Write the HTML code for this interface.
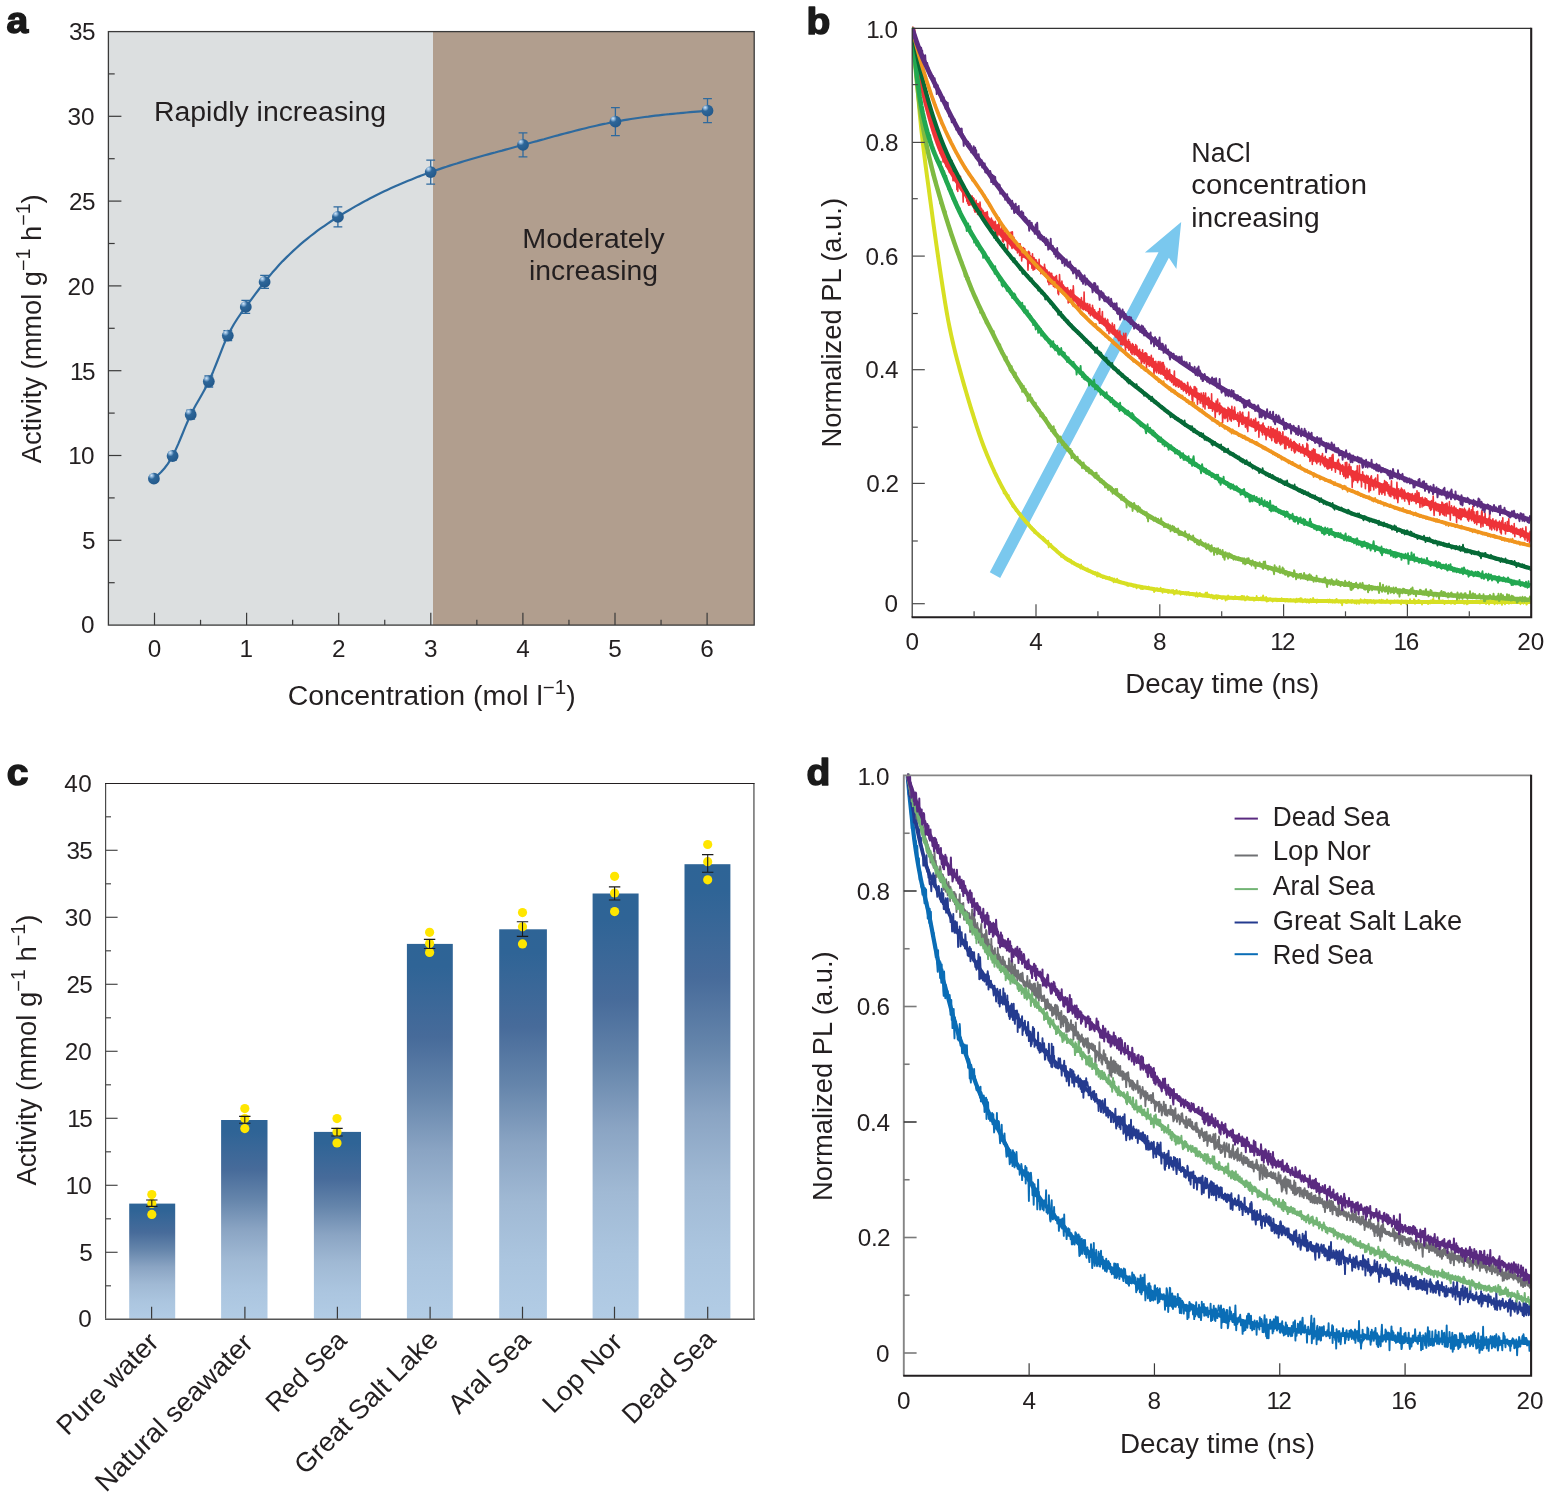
<!DOCTYPE html>
<html lang="en"><head><meta charset="utf-8"><title>Figure</title>
<style>html,body{margin:0;padding:0;background:#fff;}body{width:1545px;height:1499px;overflow:hidden;}svg{display:block;font-family:"Liberation Sans",sans-serif;}</style>
</head><body>
<svg width="1545" height="1499" viewBox="0 0 1545 1499">
<defs>
<linearGradient id="bar" x1="0" y1="0" x2="0" y2="1"><stop offset="0" stop-color="#2e6496"/><stop offset="0.06" stop-color="#2f6496"/><stop offset="0.25" stop-color="#476b9a"/><stop offset="0.4" stop-color="#6585ab"/><stop offset="0.55" stop-color="#8aa4c3"/><stop offset="0.7" stop-color="#a0b9d4"/><stop offset="0.85" stop-color="#abc5df"/><stop offset="1" stop-color="#b2cce5"/></linearGradient>
<radialGradient id="ball" cx="0.33" cy="0.28" r="0.7" fx="0.3" fy="0.22"><stop offset="0" stop-color="#cfe3f5"/><stop offset="0.18" stop-color="#8fb6da"/><stop offset="0.42" stop-color="#2d6699"/><stop offset="1" stop-color="#245a8c"/></radialGradient>
</defs>
<rect x="0" y="0" width="1545" height="1499" fill="#ffffff"/>
<text transform="translate(6.6 32.8) scale(1.04 1)" font-size="37.5" font-weight="bold" fill="#1a1a1a" stroke="#1a1a1a" stroke-width="1.5" stroke-linejoin="round">a</text>
<text transform="translate(806.6 33.6) scale(1.04 1)" font-size="37.5" font-weight="bold" fill="#1a1a1a" stroke="#1a1a1a" stroke-width="1.5" stroke-linejoin="round">b</text>
<text transform="translate(6.8 785.2) scale(1.04 1)" font-size="37.5" font-weight="bold" fill="#1a1a1a" stroke="#1a1a1a" stroke-width="1.5" stroke-linejoin="round">c</text>
<text transform="translate(806.6 784.6) scale(1.04 1)" font-size="37.5" font-weight="bold" fill="#1a1a1a" stroke="#1a1a1a" stroke-width="1.5" stroke-linejoin="round">d</text>
<rect x="108.4" y="31.6" width="324.6" height="593.5" fill="#dcdfe0"/>
<rect x="433" y="31.6" width="321.2" height="593.5" fill="#b19e8e"/>
<rect x="108.4" y="31.6" width="645.8" height="593.5" fill="none" stroke="#3a3a3a" stroke-width="1.3"/>
<line x1="108.40" y1="582.70" x2="114.70" y2="582.70" stroke="#3a3a3a" stroke-width="1.2"/>
<line x1="108.40" y1="540.30" x2="121.40" y2="540.30" stroke="#3a3a3a" stroke-width="1.2"/>
<line x1="108.40" y1="497.90" x2="114.70" y2="497.90" stroke="#3a3a3a" stroke-width="1.2"/>
<line x1="108.40" y1="455.50" x2="121.40" y2="455.50" stroke="#3a3a3a" stroke-width="1.2"/>
<line x1="108.40" y1="413.10" x2="114.70" y2="413.10" stroke="#3a3a3a" stroke-width="1.2"/>
<line x1="108.40" y1="370.70" x2="121.40" y2="370.70" stroke="#3a3a3a" stroke-width="1.2"/>
<line x1="108.40" y1="328.30" x2="114.70" y2="328.30" stroke="#3a3a3a" stroke-width="1.2"/>
<line x1="108.40" y1="285.90" x2="121.40" y2="285.90" stroke="#3a3a3a" stroke-width="1.2"/>
<line x1="108.40" y1="243.50" x2="114.70" y2="243.50" stroke="#3a3a3a" stroke-width="1.2"/>
<line x1="108.40" y1="201.10" x2="121.40" y2="201.10" stroke="#3a3a3a" stroke-width="1.2"/>
<line x1="108.40" y1="158.70" x2="114.70" y2="158.70" stroke="#3a3a3a" stroke-width="1.2"/>
<line x1="108.40" y1="116.30" x2="121.40" y2="116.30" stroke="#3a3a3a" stroke-width="1.2"/>
<line x1="108.40" y1="73.90" x2="114.70" y2="73.90" stroke="#3a3a3a" stroke-width="1.2"/>
<line x1="154.50" y1="625.10" x2="154.50" y2="612.70" stroke="#3a3a3a" stroke-width="1.2"/>
<line x1="200.55" y1="625.10" x2="200.55" y2="619.80" stroke="#3a3a3a" stroke-width="1.2"/>
<line x1="246.60" y1="625.10" x2="246.60" y2="612.70" stroke="#3a3a3a" stroke-width="1.2"/>
<line x1="292.65" y1="625.10" x2="292.65" y2="619.80" stroke="#3a3a3a" stroke-width="1.2"/>
<line x1="338.70" y1="625.10" x2="338.70" y2="612.70" stroke="#3a3a3a" stroke-width="1.2"/>
<line x1="384.75" y1="625.10" x2="384.75" y2="619.80" stroke="#3a3a3a" stroke-width="1.2"/>
<line x1="430.80" y1="625.10" x2="430.80" y2="612.70" stroke="#3a3a3a" stroke-width="1.2"/>
<line x1="476.85" y1="625.10" x2="476.85" y2="619.80" stroke="#3a3a3a" stroke-width="1.2"/>
<line x1="522.90" y1="625.10" x2="522.90" y2="612.70" stroke="#3a3a3a" stroke-width="1.2"/>
<line x1="568.95" y1="625.10" x2="568.95" y2="619.80" stroke="#3a3a3a" stroke-width="1.2"/>
<line x1="615.00" y1="625.10" x2="615.00" y2="612.70" stroke="#3a3a3a" stroke-width="1.2"/>
<line x1="661.05" y1="625.10" x2="661.05" y2="619.80" stroke="#3a3a3a" stroke-width="1.2"/>
<line x1="707.10" y1="625.10" x2="707.10" y2="612.70" stroke="#3a3a3a" stroke-width="1.2"/>
<text x="81.0" y="632.5" font-size="24.3" fill="#231f20">0</text>
<text x="81.9" y="549.1" font-size="24.3" fill="#231f20">5</text>
<text x="68.2 81.0" y="464.3" font-size="24.3" fill="#231f20">10</text>
<text x="69.9 81.9" y="379.5" font-size="24.3" fill="#231f20">15</text>
<text x="67.4 81.0" y="294.7" font-size="24.3" fill="#231f20">20</text>
<text x="69.1 81.9" y="209.9" font-size="24.3" fill="#231f20">25</text>
<text x="67.4 81.0" y="125.1" font-size="24.3" fill="#231f20">30</text>
<text x="69.1 81.9" y="40.3" font-size="24.3" fill="#231f20">35</text>
<text x="147.7" y="656.9" font-size="24.3" fill="#231f20">0</text>
<text x="239.5" y="656.9" font-size="24.3" fill="#231f20">1</text>
<text x="331.9" y="656.9" font-size="24.3" fill="#231f20">2</text>
<text x="424.1" y="656.9" font-size="24.3" fill="#231f20">3</text>
<text x="516.2" y="656.9" font-size="24.3" fill="#231f20">4</text>
<text x="608.3" y="656.9" font-size="24.3" fill="#231f20">5</text>
<text x="700.3" y="656.9" font-size="24.3" fill="#231f20">6</text>
<text x="154" y="121.3" font-size="27" textLength="232" lengthAdjust="spacingAndGlyphs" fill="#231f20">Rapidly increasing</text>
<text x="593.5" y="247.5" font-size="27" text-anchor="middle" textLength="142.3" lengthAdjust="spacingAndGlyphs" fill="#231f20">Moderately</text>
<text x="593.5" y="279.8" font-size="27" text-anchor="middle" textLength="129" lengthAdjust="spacingAndGlyphs" fill="#231f20">increasing</text>
<text x="287.7" y="704.6" font-size="27" fill="#231f20" textLength="288" lengthAdjust="spacingAndGlyphs">Concentration (mol l<tspan font-size="19.5" dy="-10.5">−1</tspan><tspan dy="10.5" font-size="27">)</tspan></text>
<text transform="translate(40.6 463.3) rotate(-90)" font-size="27" fill="#231f20" textLength="269" lengthAdjust="spacingAndGlyphs">Activity (mmol g<tspan font-size="19.5" dy="-10.5">−1</tspan><tspan dy="10.5" font-size="27"> h</tspan><tspan font-size="19.5" dy="-10.5">−1</tspan><tspan dy="10.5" font-size="27">)</tspan></text>
<path d="M153.9,478.7 157.4,475.6 160.9,472.3 164.3,468.5 167.8,463.9 171.3,458.4 174.8,451.6 178.3,443.9 181.8,435.5 185.2,427.1 188.7,419.0 192.2,411.7 195.7,405.2 199.2,399.2 202.6,393.2 206.1,386.9 209.6,379.8 213.1,371.7 216.6,363.0 220.1,354.1 223.5,345.4 227.0,337.3 230.5,330.2 234.0,324.0 237.5,318.5 240.9,313.5 244.4,308.7 247.9,304.1 251.4,299.3 254.9,294.6 258.4,290.0 261.8,285.4 265.3,281.0 268.8,276.7 272.3,272.6 275.8,268.7 279.2,264.8 282.7,261.1 286.2,257.6 289.7,254.2 293.2,250.9 296.7,247.7 300.1,244.6 303.6,241.7 307.1,238.8 310.6,236.0 314.1,233.3 317.5,230.7 321.0,228.2 324.5,225.8 328.0,223.4 331.5,221.0 335.0,218.8 338.4,216.6 341.9,214.4 345.4,212.3 348.9,210.2 352.4,208.1 355.8,206.1 359.3,204.2 362.8,202.3 366.3,200.4 369.8,198.6 373.3,196.8 376.7,195.0 380.2,193.3 383.7,191.6 387.2,189.9 390.7,188.3 394.1,186.7 397.6,185.2 401.1,183.7 404.6,182.2 408.1,180.8 411.6,179.4 415.0,178.0 418.5,176.6 422.0,175.3 425.5,174.0 429.0,172.7 432.4,171.5 435.9,170.3 439.4,169.1 442.9,167.9 446.4,166.8 449.8,165.6 453.3,164.5 456.8,163.5 460.3,162.4 463.8,161.3 467.3,160.3 470.7,159.3 474.2,158.3 477.7,157.3 481.2,156.3 484.7,155.3 488.1,154.4 491.6,153.4 495.1,152.5 498.6,151.5 502.1,150.6 505.6,149.6 509.0,148.7 512.5,147.7 516.0,146.8 519.5,145.9 523.0,144.9 526.4,144.0 529.9,143.0 533.4,142.0 536.9,141.1 540.4,140.1 543.9,139.2 547.3,138.2 550.8,137.2 554.3,136.3 557.8,135.4 561.3,134.4 564.7,133.5 568.2,132.6 571.7,131.7 575.2,130.8 578.7,129.9 582.2,129.0 585.6,128.2 589.1,127.3 592.6,126.5 596.1,125.7 599.6,124.9 603.0,124.2 606.5,123.5 610.0,122.7 613.5,122.1 617.0,121.4 620.5,120.8 623.9,120.2 627.4,119.6 630.9,119.0 634.4,118.5 637.9,118.0 641.3,117.5 644.8,117.0 648.3,116.6 651.8,116.1 655.3,115.7 658.8,115.3 662.2,114.9 665.7,114.5 669.2,114.2 672.7,113.8 676.2,113.5 679.6,113.2 683.1,112.8 686.6,112.5 690.1,112.2 693.6,111.9 697.1,111.6 700.5,111.3 704.0,111.0 707.5,110.7" fill="none" stroke="#2e6a9e" stroke-width="2.2" stroke-linejoin="round"/>
<path d="M153.9,476.2V481.2M149.5,476.2h8.8M149.5,481.2h8.8" stroke="#2e6a9e" stroke-width="1.3" fill="none"/>
<path d="M172.6,452.5V459.5M168.2,452.5h8.8M168.2,459.5h8.8" stroke="#2e6a9e" stroke-width="1.3" fill="none"/>
<path d="M190.7,410.2V419.2M186.3,410.2h8.8M186.3,419.2h8.8" stroke="#2e6a9e" stroke-width="1.3" fill="none"/>
<path d="M208.8,376.0V387.0M204.4,376.0h8.8M204.4,387.0h8.8" stroke="#2e6a9e" stroke-width="1.3" fill="none"/>
<path d="M227.8,330.6V340.6M223.4,330.6h8.8M223.4,340.6h8.8" stroke="#2e6a9e" stroke-width="1.3" fill="none"/>
<path d="M245.8,300.4V313.4M241.4,300.4h8.8M241.4,313.4h8.8" stroke="#2e6a9e" stroke-width="1.3" fill="none"/>
<path d="M264.6,275.4V288.4M260.2,275.4h8.8M260.2,288.4h8.8" stroke="#2e6a9e" stroke-width="1.3" fill="none"/>
<path d="M337.9,206.9V226.9M333.5,206.9h8.8M333.5,226.9h8.8" stroke="#2e6a9e" stroke-width="1.3" fill="none"/>
<path d="M430.7,160.1V184.1M426.3,160.1h8.8M426.3,184.1h8.8" stroke="#2e6a9e" stroke-width="1.3" fill="none"/>
<path d="M523.0,132.9V156.9M518.6,132.9h8.8M518.6,156.9h8.8" stroke="#2e6a9e" stroke-width="1.3" fill="none"/>
<path d="M615.4,107.7V135.7M611.0,107.7h8.8M611.0,135.7h8.8" stroke="#2e6a9e" stroke-width="1.3" fill="none"/>
<path d="M707.5,98.7V122.7M703.1,98.7h8.8M703.1,122.7h8.8" stroke="#2e6a9e" stroke-width="1.3" fill="none"/>
<circle cx="153.9" cy="478.7" r="5.9" fill="url(#ball)"/>
<circle cx="172.6" cy="456.0" r="5.9" fill="url(#ball)"/>
<circle cx="190.7" cy="414.7" r="5.9" fill="url(#ball)"/>
<circle cx="208.8" cy="381.5" r="5.9" fill="url(#ball)"/>
<circle cx="227.8" cy="335.6" r="5.9" fill="url(#ball)"/>
<circle cx="245.8" cy="306.9" r="5.9" fill="url(#ball)"/>
<circle cx="264.6" cy="281.9" r="5.9" fill="url(#ball)"/>
<circle cx="337.9" cy="216.9" r="5.9" fill="url(#ball)"/>
<circle cx="430.7" cy="172.1" r="5.9" fill="url(#ball)"/>
<circle cx="523.0" cy="144.9" r="5.9" fill="url(#ball)"/>
<circle cx="615.4" cy="121.7" r="5.9" fill="url(#ball)"/>
<circle cx="707.5" cy="110.7" r="5.9" fill="url(#ball)"/>
<polygon points="989.8,572.3 1158.5,252.3 1144.9,252.5 1181.2,221.9 1176.4,269.1 1168.9,257.8 1000.2,577.9" fill="#7ac8ee"/>
<clipPath id="cb"><rect x="912.2" y="26.3" width="620.0" height="589.0"/></clipPath>
<g clip-path="url(#cb)">
<path d="M912.2,28.3 913.1,34.2 914.0,40.0 914.9,45.7 915.8,51.3 916.7,56.8 917.6,62.0 918.5,67.0 919.4,71.7 920.3,76.1 921.2,80.3 922.1,84.3 923.0,88.2 923.9,92.0 924.8,95.8 925.7,99.5 926.6,103.1 927.5,106.7 928.4,110.1 929.3,113.5 930.2,116.8 931.1,120.0 932.0,123.1 932.9,126.2 933.8,129.1 934.7,132.0 935.6,134.8 936.5,137.4 937.4,140.0 938.3,142.6 939.2,145.0 940.1,147.3 941.0,149.5 941.9,151.7 942.8,153.7 943.7,155.8 944.6,157.7 945.5,159.6 946.4,161.4 947.3,163.2 948.2,165.0 949.1,166.7 950.0,168.3 950.9,169.9 951.8,171.5 952.7,173.0 953.6,174.5 954.5,176.0 955.4,177.5 956.3,178.9 957.2,180.3 958.1,181.7 959.0,183.1 959.9,184.5 960.8,185.8 961.7,187.2 962.6,188.5 963.5,189.9 964.4,191.2 965.3,192.5 966.2,193.8 967.1,195.0 968.0,196.3 968.9,197.5 969.8,198.7 970.7,199.9 971.6,201.1 972.5,202.2 973.4,203.4 974.3,204.5 975.2,205.6 976.1,206.7 977.0,207.8 977.9,208.9 978.8,210.0 979.7,211.0 980.6,212.1 981.5,213.1 982.4,214.1 983.3,215.1 984.2,216.1 985.1,217.1 986.0,218.1 986.9,219.1 987.8,220.0 988.7,220.9 989.6,221.9 990.5,222.8 991.4,223.7 992.3,224.6 993.2,225.5 994.1,226.3 995.0,227.2 995.9,228.1 996.8,228.9 997.7,229.8 998.6,230.7 999.5,231.5 1000.4,232.4 1001.3,233.2 1002.2,234.1 1003.1,234.9 1004.0,235.8 1004.9,236.6 1005.8,237.4 1006.7,238.3 1007.6,239.1 1008.5,239.9 1009.4,240.7 1010.3,241.6 1011.2,242.4 1012.1,243.2 1013.0,244.0 1013.9,244.8 1014.8,245.6 1015.7,246.4 1016.6,247.2 1017.5,248.0 1018.4,248.7 1019.3,249.5 1020.2,250.3 1021.1,251.1 1022.0,251.9 1022.9,252.7 1023.8,253.5 1024.7,254.3 1025.6,255.1 1026.5,256.0 1027.4,256.8 1028.3,257.6 1029.2,258.4 1030.1,259.2 1031.0,260.0 1031.9,260.8 1032.8,261.6 1033.7,262.4 1034.6,263.2 1035.5,264.0 1036.4,264.8 1037.3,265.6 1038.2,266.4 1039.1,267.2 1040.0,268.0 1040.9,268.8 1041.8,269.6 1042.7,270.4 1043.6,271.2 1044.5,272.0 1045.4,272.8 1046.3,273.6 1047.2,274.5 1048.1,275.3 1049.0,276.1 1049.9,276.9 1050.8,277.7 1051.7,278.5 1052.6,279.4 1053.5,280.2 1054.4,281.0 1055.3,281.8 1056.2,282.6 1057.1,283.4 1058.0,284.3 1058.9,285.1 1059.8,285.9 1060.7,286.7 1061.6,287.4 1062.5,288.2 1063.4,289.0 1064.3,289.8 1065.2,290.6 1066.1,291.3 1067.0,292.1 1067.9,292.8 1068.8,293.5 1069.7,294.3 1070.6,295.0 1071.5,295.7 1072.4,296.4 1073.3,297.1 1074.2,297.8 1075.1,298.5 1076.0,299.2 1076.9,299.9 1077.8,300.7 1078.7,301.4 1079.6,302.1 1080.5,302.8 1081.4,303.5 1082.3,304.2 1083.2,304.9 1084.1,305.6 1085.0,306.3 1085.9,307.1 1086.8,307.8 1087.7,308.5 1088.6,309.3 1089.5,310.0 1090.4,310.8 1091.3,311.5 1092.2,312.2 1093.1,313.0 1094.0,313.7 1094.9,314.5 1095.8,315.2 1096.7,316.0 1097.6,316.7 1098.5,317.5 1099.4,318.2 1100.3,319.0 1101.2,319.8 1102.1,320.6 1103.0,321.3 1103.9,322.1 1104.8,322.9 1105.7,323.7 1106.6,324.5 1107.5,325.3 1108.4,326.2 1109.3,327.0 1110.2,327.9 1111.1,328.7 1112.0,329.6 1112.9,330.5 1113.8,331.4 1114.7,332.3 1115.6,333.2 1116.5,334.1 1117.4,335.0 1118.3,336.0 1119.2,336.9 1120.1,337.8 1121.0,338.6 1121.9,339.5 1122.8,340.4 1123.7,341.3 1124.6,342.1 1125.5,342.9 1126.4,343.7 1127.3,344.5 1128.2,345.3 1129.1,346.1 1130.0,346.8 1130.9,347.5 1131.8,348.3 1132.7,349.0 1133.6,349.7 1134.5,350.4 1135.4,351.1 1136.3,351.7 1137.2,352.4 1138.1,353.1 1139.0,353.8 1139.9,354.4 1140.8,355.1 1141.7,355.7 1142.6,356.4 1143.5,357.1 1144.4,357.7 1145.3,358.4 1146.2,359.0 1147.1,359.7 1148.0,360.4 1148.9,361.1 1149.8,361.8 1150.7,362.4 1151.6,363.1 1152.5,363.8 1153.4,364.5 1154.3,365.2 1155.2,365.9 1156.1,366.5 1157.0,367.2 1157.9,367.9 1158.8,368.6 1159.7,369.3 1160.6,369.9 1161.5,370.6 1162.4,371.3 1163.3,372.0 1164.2,372.6 1165.1,373.3 1166.0,374.0 1166.9,374.6 1167.8,375.3 1168.7,375.9 1169.6,376.6 1170.5,377.2 1171.4,377.9 1172.3,378.5 1173.2,379.2 1174.1,379.8 1175.0,380.5 1175.9,381.1 1176.8,381.8 1177.7,382.4 1178.6,383.1 1179.5,383.7 1180.4,384.3 1181.3,385.0 1182.2,385.6 1183.1,386.2 1184.0,386.8 1184.9,387.5 1185.8,388.1 1186.7,388.7 1187.6,389.3 1188.5,389.9 1189.4,390.5 1190.3,391.1 1191.2,391.7 1192.1,392.2 1193.0,392.8 1193.9,393.4 1194.8,394.0 1195.7,394.6 1196.6,395.1 1197.5,395.7 1198.4,396.3 1199.3,396.8 1200.2,397.4 1201.1,398.0 1202.0,398.5 1202.9,399.1 1203.8,399.6 1204.7,400.2 1205.6,400.7 1206.5,401.3 1207.4,401.8 1208.3,402.4 1209.2,402.9 1210.1,403.4 1211.0,403.9 1211.9,404.5 1212.8,405.0 1213.7,405.5 1214.6,406.0 1215.5,406.5 1216.4,407.0 1217.3,407.5 1218.2,408.0 1219.1,408.5 1220.0,409.0 1220.9,409.5 1221.7,409.9 1222.6,410.4 1223.5,410.8 1224.4,411.3 1225.3,411.8 1226.2,412.2 1227.1,412.6 1228.0,413.1 1228.9,413.5 1229.8,413.9 1230.7,414.4 1231.6,414.8 1232.5,415.2 1233.4,415.6 1234.3,416.0 1235.2,416.5 1236.1,416.9 1237.0,417.3 1237.9,417.7 1238.8,418.1 1239.7,418.5 1240.6,418.9 1241.5,419.3 1242.4,419.7 1243.3,420.1 1244.2,420.5 1245.1,420.9 1246.0,421.3 1246.9,421.7 1247.8,422.1 1248.7,422.5 1249.6,422.9 1250.5,423.4 1251.4,423.8 1252.3,424.2 1253.2,424.6 1254.1,425.0 1255.0,425.4 1255.9,425.9 1256.8,426.3 1257.7,426.7 1258.6,427.1 1259.5,427.6 1260.4,428.0 1261.3,428.5 1262.2,428.9 1263.1,429.4 1264.0,429.8 1264.9,430.3 1265.8,430.8 1266.7,431.2 1267.6,431.7 1268.5,432.2 1269.4,432.6 1270.3,433.1 1271.2,433.6 1272.1,434.1 1273.0,434.6 1273.9,435.1 1274.8,435.5 1275.7,436.0 1276.6,436.5 1277.5,437.0 1278.4,437.5 1279.3,438.0 1280.2,438.5 1281.1,439.0 1282.0,439.5 1282.9,440.0 1283.8,440.5 1284.7,441.0 1285.6,441.4 1286.5,441.9 1287.4,442.4 1288.3,442.9 1289.2,443.4 1290.1,443.9 1291.0,444.4 1291.9,444.8 1292.8,445.3 1293.7,445.8 1294.6,446.3 1295.5,446.8 1296.4,447.2 1297.3,447.7 1298.2,448.2 1299.1,448.6 1300.0,449.1 1300.9,449.5 1301.8,450.0 1302.7,450.4 1303.6,450.9 1304.5,451.3 1305.4,451.7 1306.3,452.2 1307.2,452.6 1308.1,453.0 1309.0,453.5 1309.9,453.9 1310.8,454.3 1311.7,454.7 1312.6,455.2 1313.5,455.6 1314.4,456.0 1315.3,456.4 1316.2,456.8 1317.1,457.3 1318.0,457.7 1318.9,458.1 1319.8,458.5 1320.7,458.9 1321.6,459.3 1322.5,459.7 1323.4,460.1 1324.3,460.5 1325.2,460.9 1326.1,461.3 1327.0,461.8 1327.9,462.2 1328.8,462.6 1329.7,463.0 1330.6,463.4 1331.5,463.8 1332.4,464.2 1333.3,464.6 1334.2,465.0 1335.1,465.4 1336.0,465.8 1336.9,466.2 1337.8,466.6 1338.7,467.0 1339.6,467.4 1340.5,467.8 1341.4,468.2 1342.3,468.6 1343.2,469.0 1344.1,469.4 1345.0,469.8 1345.9,470.2 1346.8,470.7 1347.7,471.1 1348.6,471.5 1349.5,471.9 1350.4,472.3 1351.3,472.7 1352.2,473.1 1353.1,473.5 1354.0,474.0 1354.9,474.4 1355.8,474.8 1356.7,475.2 1357.6,475.6 1358.5,476.0 1359.4,476.5 1360.3,476.9 1361.2,477.3 1362.1,477.7 1363.0,478.1 1363.9,478.5 1364.8,478.9 1365.7,479.4 1366.6,479.8 1367.5,480.2 1368.4,480.6 1369.3,481.0 1370.2,481.4 1371.1,481.8 1372.0,482.2 1372.9,482.6 1373.8,483.0 1374.7,483.4 1375.6,483.8 1376.5,484.2 1377.4,484.6 1378.3,484.9 1379.2,485.3 1380.1,485.7 1381.0,486.1 1381.9,486.5 1382.8,486.8 1383.7,487.2 1384.6,487.6 1385.5,487.9 1386.4,488.3 1387.3,488.6 1388.2,489.0 1389.1,489.4 1390.0,489.7 1390.9,490.1 1391.8,490.4 1392.7,490.8 1393.6,491.1 1394.5,491.5 1395.4,491.8 1396.3,492.1 1397.2,492.5 1398.1,492.8 1399.0,493.2 1399.9,493.5 1400.8,493.8 1401.7,494.2 1402.6,494.5 1403.5,494.8 1404.4,495.1 1405.3,495.5 1406.2,495.8 1407.1,496.1 1408.0,496.4 1408.9,496.8 1409.8,497.1 1410.7,497.4 1411.6,497.7 1412.5,498.0 1413.4,498.4 1414.3,498.7 1415.2,499.0 1416.1,499.3 1417.0,499.6 1417.9,499.9 1418.8,500.2 1419.7,500.5 1420.6,500.8 1421.5,501.1 1422.4,501.4 1423.3,501.7 1424.2,502.0 1425.1,502.3 1426.0,502.6 1426.9,502.9 1427.8,503.2 1428.7,503.5 1429.6,503.8 1430.5,504.1 1431.4,504.4 1432.3,504.7 1433.2,505.0 1434.1,505.2 1435.0,505.5 1435.9,505.8 1436.8,506.1 1437.7,506.3 1438.6,506.6 1439.5,506.9 1440.4,507.2 1441.3,507.4 1442.2,507.7 1443.1,508.0 1444.0,508.2 1444.9,508.5 1445.8,508.8 1446.7,509.0 1447.6,509.3 1448.5,509.5 1449.4,509.8 1450.3,510.1 1451.2,510.3 1452.1,510.6 1453.0,510.9 1453.9,511.1 1454.8,511.4 1455.7,511.6 1456.6,511.9 1457.5,512.2 1458.4,512.4 1459.3,512.7 1460.2,513.0 1461.1,513.2 1462.0,513.5 1462.9,513.8 1463.8,514.1 1464.7,514.3 1465.6,514.6 1466.5,514.9 1467.4,515.2 1468.3,515.4 1469.2,515.7 1470.1,516.0 1471.0,516.3 1471.9,516.6 1472.8,516.8 1473.7,517.1 1474.6,517.4 1475.5,517.7 1476.4,518.0 1477.3,518.3 1478.2,518.5 1479.1,518.8 1480.0,519.1 1480.9,519.4 1481.8,519.7 1482.7,520.0 1483.6,520.2 1484.5,520.5 1485.4,520.8 1486.3,521.1 1487.2,521.4 1488.1,521.7 1489.0,522.0 1489.9,522.2 1490.8,522.5 1491.7,522.8 1492.6,523.1 1493.5,523.4 1494.4,523.7 1495.3,524.0 1496.2,524.3 1497.1,524.6 1498.0,524.9 1498.9,525.2 1499.8,525.5 1500.7,525.8 1501.6,526.1 1502.5,526.4 1503.4,526.7 1504.3,527.0 1505.2,527.3 1506.1,527.6 1507.0,527.9 1507.9,528.3 1508.8,528.6 1509.7,528.9 1510.6,529.2 1511.5,529.5 1512.4,529.9 1513.3,530.2 1514.2,530.5 1515.1,530.8 1516.0,531.2 1516.9,531.5 1517.8,531.9 1518.7,532.2 1519.6,532.5 1520.5,532.9 1521.4,533.2 1522.3,533.6 1523.2,533.9 1524.1,534.3 1525.0,534.6 1525.9,535.0 1526.8,535.3 1527.7,535.7 1528.6,536.0 1529.5,536.4 1530.4,536.8" fill="none" stroke="#ee3338" stroke-width="6.0" stroke-linejoin="round"/>
<path d="M912.2,28.3 912.5,37.9 912.8,26.8 913.1,33.6 913.4,40.5 913.7,43.8 914.0,42.8 914.3,48.3 914.6,45.1 914.9,48.1 915.2,48.4 915.5,44.9 915.8,47.7 916.1,54.8 916.4,52.5 916.7,62.2 917.0,64.0 917.3,68.0 917.6,61.9 917.9,69.6 918.2,61.5 918.5,63.5 918.8,69.0 919.1,71.4 919.4,64.9 919.7,65.9 920.0,76.2 920.3,72.5 920.6,82.7 920.9,80.6 921.2,81.6 921.5,82.5 921.8,86.7 922.1,83.6 922.4,90.2 922.7,84.7 923.0,87.2 923.3,86.6 923.6,93.3 923.9,92.2 924.2,89.7 924.5,103.1 924.8,94.3 925.1,96.6 925.4,100.0 925.7,106.9 926.0,100.1 926.3,104.9 926.6,103.6 926.9,98.1 927.2,108.9 927.5,111.0 927.8,106.8 928.1,108.9 928.4,103.8 928.7,104.8 929.0,110.7 929.3,116.1 929.6,112.6 929.9,116.9 930.2,120.9 930.5,118.3 930.8,121.4 931.1,126.1 931.4,115.8 931.7,125.2 932.0,115.2 932.3,126.0 932.6,126.0 932.9,123.9 933.2,122.6 933.5,127.9 933.8,127.4 934.1,130.5 934.4,127.2 934.7,134.3 935.0,128.6 935.3,132.6 935.6,133.1 935.9,141.0 936.2,130.3 936.5,135.7 936.8,143.3 937.1,136.4 937.4,134.8 937.7,142.1 938.0,140.5 938.3,146.1 938.6,139.5 938.9,145.0 939.2,147.8 939.5,150.1 939.8,141.9 940.1,153.3 940.4,144.3 940.7,142.4 941.0,145.5 941.3,150.9 941.6,149.6 941.9,153.5 942.2,154.4 942.5,154.4 942.8,152.7 943.1,162.0 943.4,145.8 943.7,148.5 944.0,154.3 944.3,151.8 944.6,147.0 944.9,155.0 945.2,155.8 945.5,149.3 945.8,163.8 946.1,166.3 946.4,166.6 946.7,159.9 947.0,163.2 947.3,158.5 947.6,164.7 947.9,161.6 948.2,166.7 948.5,164.1 948.8,170.4 949.1,170.1 949.4,172.4 949.7,161.0 950.0,160.7 950.3,170.5 950.6,167.0 950.9,171.6 951.2,171.7 951.5,171.7 951.8,175.3 952.1,174.3 952.4,174.5 952.7,169.3 953.0,180.7 953.3,174.6 953.6,179.2 953.9,176.4 954.2,180.8 954.5,176.7 954.8,177.4 955.1,177.6 955.4,174.5 955.7,175.6 956.0,177.8 956.3,178.4 956.6,175.3 956.9,189.7 957.2,176.2 957.5,179.5 957.8,191.4 958.1,179.0 958.4,185.4 958.7,185.4 959.0,182.2 959.3,177.6 959.6,177.5 959.9,184.4 960.2,186.7 960.5,176.4 960.8,186.5 961.1,183.6 961.4,190.5 961.7,187.9 962.0,184.3 962.3,186.3 962.6,188.7 962.9,194.6 963.2,202.1 963.5,191.4 963.8,190.9 964.1,193.7 964.4,191.4 964.7,194.6 965.0,194.0 965.3,192.8 965.6,190.0 965.9,194.4 966.2,197.9 966.5,194.9 966.8,201.3 967.1,199.3 967.4,195.3 967.7,203.5 968.0,192.0 968.3,202.0 968.6,205.2 968.9,196.9 969.2,197.9 969.5,202.6 969.8,205.1 970.1,201.4 970.4,201.0 970.7,204.2 971.0,201.8 971.3,196.1 971.6,200.8 971.9,201.9 972.2,196.1 972.5,204.4 972.8,200.0 973.1,206.6 973.4,197.7 973.7,200.5 974.0,198.6 974.3,210.3 974.6,210.6 974.9,211.8 975.2,212.2 975.5,210.2 975.8,210.6 976.1,200.2 976.4,208.9 976.7,205.9 977.0,207.0 977.3,203.6 977.6,214.5 977.9,210.0 978.2,203.6 978.5,212.2 978.8,210.1 979.1,206.4 979.4,209.8 979.7,208.1 980.0,202.1 980.3,205.6 980.6,214.3 980.9,214.0 981.2,214.0 981.5,208.3 981.8,211.0 982.1,214.1 982.4,217.0 982.7,211.0 983.0,210.4 983.3,219.9 983.6,215.7 983.9,214.2 984.2,213.1 984.5,213.7 984.8,223.4 985.1,221.1 985.4,215.7 985.7,212.6 986.0,225.0 986.3,224.9 986.6,223.7 986.9,222.5 987.2,211.6 987.5,214.3 987.8,222.3 988.1,219.1 988.4,221.7 988.7,218.8 989.0,218.5 989.3,223.8 989.6,220.2 989.9,222.2 990.2,223.5 990.5,223.7 990.8,227.9 991.1,229.0 991.4,218.0 991.7,222.9 992.0,221.6 992.3,227.7 992.6,220.4 992.9,228.4 993.2,228.3 993.5,228.1 993.8,222.0 994.1,225.4 994.4,222.2 994.7,228.5 995.0,231.1 995.3,221.2 995.6,224.4 995.9,227.4 996.2,226.2 996.5,234.8 996.8,228.3 997.1,230.3 997.4,224.9 997.7,236.2 998.0,230.8 998.3,233.6 998.6,231.0 998.9,222.2 999.2,224.6 999.5,226.2 999.8,233.7 1000.1,230.0 1000.4,234.1 1000.7,233.8 1001.0,233.9 1001.3,237.0 1001.6,234.2 1001.9,227.0 1002.2,231.3 1002.5,241.2 1002.8,230.2 1003.1,240.5 1003.4,242.0 1003.7,233.0 1004.0,237.2 1004.3,230.3 1004.6,239.5 1004.9,233.4 1005.2,231.5 1005.5,235.5 1005.8,235.6 1006.1,235.3 1006.4,238.8 1006.7,237.6 1007.0,235.8 1007.3,242.7 1007.6,249.1 1007.9,239.6 1008.2,236.8 1008.5,235.8 1008.8,242.6 1009.1,239.4 1009.4,240.8 1009.7,232.8 1010.0,236.6 1010.3,236.8 1010.6,245.7 1010.9,241.0 1011.2,232.1 1011.5,244.6 1011.8,247.6 1012.1,248.5 1012.4,231.9 1012.7,244.3 1013.0,247.3 1013.3,246.7 1013.6,243.5 1013.9,237.4 1014.2,243.3 1014.5,244.0 1014.8,247.9 1015.1,248.5 1015.4,245.1 1015.7,249.8 1016.0,242.3 1016.3,244.1 1016.6,247.0 1016.9,249.8 1017.2,246.4 1017.5,253.0 1017.8,249.9 1018.1,244.6 1018.4,249.1 1018.7,245.4 1019.0,245.3 1019.3,243.7 1019.6,255.6 1019.9,253.8 1020.2,243.8 1020.5,255.2 1020.8,254.8 1021.1,249.6 1021.4,253.5 1021.7,260.9 1022.0,253.1 1022.3,253.9 1022.6,257.1 1022.9,248.5 1023.2,247.8 1023.5,247.5 1023.8,253.2 1024.1,257.4 1024.4,250.5 1024.7,248.7 1025.0,255.5 1025.3,253.4 1025.6,257.7 1025.9,255.0 1026.2,255.1 1026.5,255.8 1026.8,256.5 1027.1,252.7 1027.4,252.3 1027.7,263.7 1028.0,270.2 1028.3,262.3 1028.6,251.3 1028.9,258.4 1029.2,263.5 1029.5,252.2 1029.8,257.1 1030.1,257.7 1030.4,255.9 1030.7,256.5 1031.0,264.4 1031.3,258.6 1031.6,259.8 1031.9,268.1 1032.2,257.8 1032.5,253.7 1032.8,264.5 1033.1,270.3 1033.4,263.2 1033.7,263.9 1034.0,257.6 1034.3,259.3 1034.6,269.4 1034.9,268.9 1035.2,266.4 1035.5,261.6 1035.8,259.6 1036.1,260.4 1036.4,260.2 1036.7,267.8 1037.0,262.3 1037.3,263.7 1037.6,268.8 1037.9,269.0 1038.2,266.7 1038.5,268.7 1038.8,267.0 1039.1,259.3 1039.4,267.2 1039.7,266.0 1040.0,266.6 1040.3,269.3 1040.6,266.2 1040.9,273.8 1041.2,268.4 1041.5,270.0 1041.8,271.0 1042.1,269.2 1042.4,272.8 1042.7,273.5 1043.0,273.3 1043.3,268.0 1043.6,267.5 1043.9,269.0 1044.2,271.7 1044.5,264.3 1044.8,268.8 1045.1,267.8 1045.4,270.0 1045.7,269.2 1046.0,276.6 1046.3,275.4 1046.6,277.7 1046.9,270.0 1047.2,271.2 1047.5,273.4 1047.8,281.7 1048.1,282.1 1048.4,272.9 1048.7,278.3 1049.0,284.8 1049.3,272.1 1049.6,275.8 1049.9,282.2 1050.2,280.1 1050.5,273.3 1050.8,283.9 1051.1,282.0 1051.4,281.1 1051.7,273.4 1052.0,278.1 1052.3,284.5 1052.6,281.4 1052.9,282.9 1053.2,278.8 1053.5,286.4 1053.8,279.5 1054.1,284.5 1054.4,282.3 1054.7,277.3 1055.0,287.6 1055.3,276.7 1055.6,279.1 1055.9,282.9 1056.2,276.9 1056.5,275.5 1056.8,282.7 1057.1,281.7 1057.4,282.6 1057.7,286.0 1058.0,293.4 1058.3,282.8 1058.6,294.7 1058.9,286.0 1059.2,284.9 1059.5,274.5 1059.8,279.5 1060.1,287.1 1060.4,288.6 1060.7,283.2 1061.0,288.0 1061.3,290.7 1061.6,285.0 1061.9,281.0 1062.2,283.8 1062.5,286.9 1062.8,289.5 1063.1,291.8 1063.4,285.1 1063.7,289.3 1064.0,288.3 1064.3,289.8 1064.6,294.4 1064.9,295.4 1065.2,288.5 1065.5,288.2 1065.8,288.1 1066.1,289.0 1066.4,289.7 1066.7,291.0 1067.0,289.9 1067.3,287.8 1067.6,287.6 1067.9,292.9 1068.2,302.9 1068.5,295.4 1068.8,296.1 1069.1,295.1 1069.4,293.2 1069.7,302.3 1070.0,293.1 1070.3,290.6 1070.6,289.8 1070.9,295.9 1071.2,291.3 1071.5,292.0 1071.8,292.3 1072.1,290.7 1072.4,297.0 1072.7,289.7 1073.0,306.1 1073.3,285.8 1073.6,291.6 1073.9,297.7 1074.2,299.4 1074.5,296.6 1074.8,299.4 1075.1,299.2 1075.4,299.2 1075.7,301.3 1076.0,300.2 1076.3,299.0 1076.6,299.1 1076.9,303.5 1077.2,299.4 1077.5,302.7 1077.8,307.1 1078.1,302.5 1078.4,306.1 1078.7,299.6 1079.0,302.7 1079.3,303.9 1079.6,303.0 1079.9,304.3 1080.2,308.3 1080.5,301.5 1080.8,300.3 1081.1,304.6 1081.4,297.6 1081.7,303.7 1082.0,308.8 1082.3,304.1 1082.6,306.6 1082.9,306.2 1083.2,309.8 1083.5,307.2 1083.8,306.2 1084.1,292.1 1084.4,303.7 1084.7,309.0 1085.0,305.7 1085.3,303.5 1085.6,310.4 1085.9,303.4 1086.2,305.8 1086.5,310.2 1086.8,305.6 1087.1,308.6 1087.4,308.1 1087.7,303.5 1088.0,306.5 1088.3,307.4 1088.6,306.5 1088.9,313.8 1089.2,309.5 1089.5,307.2 1089.8,304.4 1090.1,309.0 1090.4,315.8 1090.7,309.5 1091.0,314.0 1091.3,313.1 1091.6,309.4 1091.9,307.9 1092.2,314.1 1092.5,305.4 1092.8,314.8 1093.1,307.9 1093.4,316.4 1093.7,311.6 1094.0,313.1 1094.3,318.0 1094.6,309.9 1094.9,314.4 1095.2,313.2 1095.5,316.8 1095.8,317.9 1096.1,316.4 1096.4,316.4 1096.7,314.1 1097.0,318.5 1097.3,315.3 1097.6,317.1 1097.9,317.5 1098.2,311.5 1098.5,312.7 1098.8,318.5 1099.1,317.8 1099.4,323.2 1099.7,308.5 1100.0,319.5 1100.3,323.3 1100.6,319.5 1100.9,322.5 1101.2,319.7 1101.5,319.7 1101.8,323.8 1102.1,315.2 1102.4,311.6 1102.7,322.9 1103.0,321.7 1103.3,321.9 1103.6,322.9 1103.9,324.5 1104.2,320.4 1104.5,324.4 1104.8,324.1 1105.1,318.4 1105.4,322.7 1105.7,324.7 1106.0,320.7 1106.3,328.3 1106.6,323.2 1106.9,327.9 1107.2,330.8 1107.5,319.3 1107.8,320.2 1108.1,328.2 1108.4,325.3 1108.7,328.4 1109.0,333.6 1109.3,325.0 1109.6,330.7 1109.9,326.5 1110.2,325.2 1110.5,330.0 1110.8,329.4 1111.1,333.0 1111.4,330.3 1111.7,332.8 1112.0,331.7 1112.3,323.0 1112.6,328.7 1112.9,329.2 1113.2,334.4 1113.5,326.9 1113.8,332.2 1114.1,330.0 1114.4,324.7 1114.7,331.7 1115.0,335.2 1115.3,331.5 1115.6,337.0 1115.9,335.1 1116.2,335.1 1116.5,332.1 1116.8,333.8 1117.1,336.6 1117.4,335.1 1117.7,330.4 1118.0,335.0 1118.3,337.6 1118.6,340.8 1118.9,340.0 1119.2,332.9 1119.5,340.0 1119.8,331.0 1120.1,335.2 1120.4,334.8 1120.7,344.5 1121.0,341.4 1121.3,340.2 1121.6,336.8 1121.9,344.5 1122.2,338.9 1122.5,342.0 1122.8,344.9 1123.1,339.5 1123.4,343.2 1123.7,333.3 1124.0,343.9 1124.3,335.0 1124.6,343.8 1124.9,343.6 1125.2,344.6 1125.5,352.3 1125.8,333.2 1126.1,345.4 1126.4,342.2 1126.7,347.1 1127.0,345.6 1127.3,345.0 1127.6,342.8 1127.9,342.3 1128.2,346.8 1128.5,339.6 1128.8,350.2 1129.1,343.8 1129.4,348.2 1129.7,341.9 1130.0,348.7 1130.3,346.2 1130.6,350.5 1130.9,352.6 1131.2,345.7 1131.5,348.5 1131.8,349.3 1132.1,354.5 1132.4,343.6 1132.7,351.5 1133.0,349.2 1133.3,344.7 1133.6,348.5 1133.9,347.3 1134.2,354.7 1134.5,346.7 1134.8,354.8 1135.1,349.1 1135.4,353.9 1135.7,344.6 1136.0,348.6 1136.3,352.5 1136.6,348.4 1136.9,346.1 1137.2,352.6 1137.5,355.9 1137.8,353.1 1138.1,352.4 1138.4,355.1 1138.7,352.0 1139.0,357.6 1139.3,358.6 1139.6,349.2 1139.9,358.8 1140.2,357.5 1140.5,356.2 1140.8,358.0 1141.1,361.2 1141.4,363.4 1141.7,362.4 1142.0,355.2 1142.3,361.8 1142.6,349.9 1142.9,360.4 1143.2,359.9 1143.5,361.2 1143.8,353.9 1144.1,363.5 1144.4,363.1 1144.7,359.0 1145.0,352.7 1145.3,359.9 1145.6,355.4 1145.9,352.8 1146.2,356.4 1146.5,368.9 1146.8,353.8 1147.1,358.5 1147.4,360.9 1147.7,364.1 1148.0,356.5 1148.3,356.8 1148.6,364.5 1148.9,362.2 1149.2,366.3 1149.5,356.9 1149.8,361.3 1150.1,365.7 1150.4,362.7 1150.7,357.9 1151.0,363.1 1151.3,355.3 1151.6,360.0 1151.9,366.4 1152.2,367.1 1152.5,365.4 1152.8,366.8 1153.1,358.2 1153.4,361.8 1153.7,368.8 1154.0,374.1 1154.3,366.9 1154.6,361.7 1154.9,361.7 1155.2,370.6 1155.5,370.4 1155.8,361.4 1156.1,367.0 1156.4,372.3 1156.7,372.6 1157.0,365.1 1157.3,366.7 1157.6,369.5 1157.9,363.5 1158.2,361.6 1158.5,365.6 1158.8,373.4 1159.1,373.1 1159.4,370.9 1159.7,364.5 1160.0,361.6 1160.3,365.4 1160.6,369.9 1160.9,374.1 1161.2,366.7 1161.5,370.7 1161.8,363.4 1162.1,362.4 1162.4,371.0 1162.7,366.5 1163.0,367.3 1163.3,362.5 1163.6,375.0 1163.9,364.8 1164.2,372.3 1164.5,366.4 1164.8,371.0 1165.1,378.1 1165.4,374.0 1165.7,373.7 1166.0,377.0 1166.3,375.8 1166.6,379.4 1166.9,368.3 1167.2,379.8 1167.5,374.8 1167.8,370.6 1168.1,377.4 1168.4,377.4 1168.7,375.4 1169.0,379.1 1169.3,370.7 1169.6,369.5 1169.9,374.0 1170.2,381.0 1170.5,379.0 1170.8,377.1 1171.1,374.8 1171.4,377.5 1171.7,382.4 1172.0,375.8 1172.3,375.9 1172.6,380.2 1172.9,381.3 1173.2,379.5 1173.5,384.9 1173.8,380.2 1174.1,375.8 1174.4,371.1 1174.7,384.8 1175.0,379.7 1175.3,381.9 1175.6,382.6 1175.9,386.4 1176.2,385.4 1176.5,385.5 1176.8,382.9 1177.1,381.1 1177.4,383.3 1177.7,379.2 1178.0,384.2 1178.3,387.2 1178.6,386.0 1178.9,384.0 1179.2,380.1 1179.5,380.3 1179.8,381.1 1180.1,382.6 1180.4,386.2 1180.7,386.6 1181.0,387.1 1181.3,389.1 1181.6,381.4 1181.9,384.6 1182.2,387.8 1182.5,389.0 1182.8,383.4 1183.1,383.5 1183.4,391.0 1183.7,389.4 1184.0,388.7 1184.3,386.0 1184.6,383.5 1184.9,387.4 1185.2,389.0 1185.5,389.9 1185.8,391.6 1186.1,388.8 1186.4,393.5 1186.7,387.4 1187.0,390.3 1187.3,389.4 1187.6,382.2 1187.9,384.4 1188.2,387.6 1188.5,390.5 1188.8,391.4 1189.1,395.4 1189.4,390.5 1189.7,389.4 1190.0,392.2 1190.3,386.3 1190.6,390.5 1190.9,387.5 1191.2,391.9 1191.5,389.1 1191.8,390.3 1192.1,399.8 1192.4,396.8 1192.7,402.5 1193.0,393.5 1193.3,392.3 1193.6,390.0 1193.9,393.2 1194.2,386.6 1194.5,394.1 1194.8,391.7 1195.1,388.8 1195.4,387.1 1195.7,390.9 1196.0,393.0 1196.3,394.7 1196.6,388.6 1196.9,395.0 1197.2,396.6 1197.5,404.4 1197.8,397.2 1198.1,399.6 1198.4,393.4 1198.7,396.4 1199.0,393.7 1199.3,393.5 1199.6,398.9 1199.9,396.3 1200.2,403.1 1200.5,397.4 1200.8,399.4 1201.1,393.1 1201.4,394.1 1201.7,400.9 1202.0,395.8 1202.3,403.7 1202.6,395.6 1202.9,395.5 1203.2,406.9 1203.5,392.7 1203.8,397.6 1204.1,401.9 1204.4,402.3 1204.7,395.7 1205.0,408.9 1205.3,398.7 1205.6,393.1 1205.9,404.5 1206.2,399.2 1206.5,401.5 1206.8,404.5 1207.1,398.0 1207.4,399.0 1207.7,401.6 1208.0,405.5 1208.3,397.1 1208.6,408.2 1208.9,404.1 1209.2,398.4 1209.5,403.2 1209.8,405.5 1210.1,408.3 1210.4,407.0 1210.7,408.2 1211.0,403.4 1211.3,407.0 1211.6,393.7 1211.9,408.5 1212.2,404.5 1212.5,411.1 1212.8,402.6 1213.1,403.3 1213.4,405.5 1213.7,408.7 1214.0,407.0 1214.3,409.9 1214.6,406.2 1214.9,410.3 1215.2,417.5 1215.5,411.5 1215.8,409.2 1216.1,401.1 1216.4,409.6 1216.7,411.5 1217.0,406.7 1217.3,411.7 1217.6,399.1 1217.9,405.2 1218.2,404.4 1218.5,410.4 1218.8,405.2 1219.1,404.7 1219.4,414.6 1219.7,403.1 1220.0,411.0 1220.3,413.5 1220.6,408.3 1220.9,405.9 1221.2,408.9 1221.5,407.5 1221.7,406.8 1222.0,411.0 1222.3,410.1 1222.6,422.8 1222.9,415.7 1223.2,411.5 1223.5,413.2 1223.8,417.8 1224.1,415.9 1224.4,411.6 1224.7,408.4 1225.0,418.7 1225.3,411.8 1225.6,413.0 1225.9,417.6 1226.2,413.1 1226.5,417.6 1226.8,411.5 1227.1,413.5 1227.4,412.1 1227.7,421.4 1228.0,407.4 1228.3,412.6 1228.6,409.9 1228.9,410.7 1229.2,408.6 1229.5,410.6 1229.8,418.8 1230.1,419.8 1230.4,411.6 1230.7,409.5 1231.0,412.6 1231.3,421.1 1231.6,414.5 1231.9,406.4 1232.2,418.4 1232.5,414.7 1232.8,417.7 1233.1,417.0 1233.4,410.4 1233.7,419.8 1234.0,418.5 1234.3,413.3 1234.6,407.1 1234.9,411.6 1235.2,411.9 1235.5,419.2 1235.8,414.3 1236.1,415.0 1236.4,417.0 1236.7,415.3 1237.0,418.7 1237.3,418.6 1237.6,421.2 1237.9,412.7 1238.2,419.1 1238.5,416.8 1238.8,426.4 1239.1,424.0 1239.4,416.7 1239.7,422.2 1240.0,411.6 1240.3,414.5 1240.6,417.8 1240.9,420.0 1241.2,414.7 1241.5,419.4 1241.8,424.3 1242.1,413.1 1242.4,414.3 1242.7,412.2 1243.0,424.4 1243.3,415.8 1243.6,418.6 1243.9,416.8 1244.2,420.0 1244.5,419.2 1244.8,421.4 1245.1,421.5 1245.4,427.3 1245.7,417.3 1246.0,421.9 1246.3,421.0 1246.6,417.8 1246.9,424.9 1247.2,428.9 1247.5,417.4 1247.8,431.6 1248.1,421.5 1248.4,421.9 1248.7,412.0 1249.0,422.7 1249.3,422.1 1249.6,421.7 1249.9,425.5 1250.2,422.3 1250.5,424.6 1250.8,420.7 1251.1,418.9 1251.4,424.0 1251.7,426.0 1252.0,426.6 1252.3,424.4 1252.6,421.2 1252.9,424.4 1253.2,423.4 1253.5,419.6 1253.8,426.0 1254.1,424.1 1254.4,420.6 1254.7,423.9 1255.0,427.6 1255.3,431.3 1255.6,418.3 1255.9,424.2 1256.2,428.0 1256.5,430.5 1256.8,427.6 1257.1,422.2 1257.4,424.4 1257.7,426.4 1258.0,423.5 1258.3,422.6 1258.6,421.9 1258.9,437.2 1259.2,427.3 1259.5,426.4 1259.8,430.3 1260.1,427.9 1260.4,427.3 1260.7,428.9 1261.0,425.2 1261.3,426.7 1261.6,432.1 1261.9,431.1 1262.2,424.5 1262.5,434.9 1262.8,427.6 1263.1,423.0 1263.4,432.3 1263.7,432.2 1264.0,431.0 1264.3,426.1 1264.6,434.8 1264.9,432.3 1265.2,431.8 1265.5,431.5 1265.8,432.2 1266.1,439.7 1266.4,429.1 1266.7,432.4 1267.0,435.9 1267.3,434.7 1267.6,428.7 1267.9,431.5 1268.2,430.6 1268.5,426.6 1268.8,431.7 1269.1,436.4 1269.4,433.9 1269.7,437.3 1270.0,434.8 1270.3,430.4 1270.6,435.5 1270.9,426.7 1271.2,438.7 1271.5,432.4 1271.8,440.6 1272.1,428.7 1272.4,430.5 1272.7,432.7 1273.0,433.5 1273.3,428.5 1273.6,429.9 1273.9,436.9 1274.2,432.0 1274.5,438.8 1274.8,442.0 1275.1,429.8 1275.4,434.3 1275.7,442.9 1276.0,440.5 1276.3,431.0 1276.6,438.0 1276.9,443.3 1277.2,428.3 1277.5,438.5 1277.8,441.5 1278.1,435.4 1278.4,435.0 1278.7,440.7 1279.0,431.5 1279.3,440.2 1279.6,443.1 1279.9,438.7 1280.2,432.3 1280.5,445.0 1280.8,438.7 1281.1,441.2 1281.4,435.7 1281.7,439.0 1282.0,443.9 1282.3,433.6 1282.6,434.5 1282.9,431.7 1283.2,441.9 1283.5,442.0 1283.8,437.0 1284.1,441.9 1284.4,440.8 1284.7,448.6 1285.0,436.3 1285.3,442.2 1285.6,439.6 1285.9,448.8 1286.2,443.5 1286.5,437.1 1286.8,443.8 1287.1,441.6 1287.4,438.6 1287.7,444.1 1288.0,443.2 1288.3,438.1 1288.6,441.2 1288.9,447.7 1289.2,447.3 1289.5,442.9 1289.8,442.2 1290.1,444.9 1290.4,443.5 1290.7,439.3 1291.0,446.8 1291.3,441.2 1291.6,450.4 1291.9,447.1 1292.2,447.8 1292.5,443.8 1292.8,445.9 1293.1,443.1 1293.4,444.0 1293.7,441.6 1294.0,451.5 1294.3,441.6 1294.6,452.9 1294.9,449.3 1295.2,442.9 1295.5,451.9 1295.8,448.5 1296.1,443.9 1296.4,448.2 1296.7,446.1 1297.0,444.5 1297.3,447.4 1297.6,448.9 1297.9,446.7 1298.2,448.0 1298.5,451.4 1298.8,448.0 1299.1,447.1 1299.4,443.7 1299.7,448.7 1300.0,447.2 1300.3,448.4 1300.6,452.5 1300.9,453.0 1301.2,449.8 1301.5,447.6 1301.8,450.6 1302.1,451.4 1302.4,451.3 1302.7,444.8 1303.0,451.8 1303.3,446.8 1303.6,452.1 1303.9,452.7 1304.2,451.8 1304.5,456.1 1304.8,451.5 1305.1,452.9 1305.4,448.3 1305.7,451.5 1306.0,451.2 1306.3,452.4 1306.6,451.7 1306.9,443.2 1307.2,455.8 1307.5,455.5 1307.8,444.7 1308.1,454.1 1308.4,457.2 1308.7,456.2 1309.0,456.3 1309.3,452.9 1309.6,451.8 1309.9,461.4 1310.2,455.8 1310.5,460.7 1310.8,454.1 1311.1,458.2 1311.4,457.9 1311.7,458.0 1312.0,450.2 1312.3,464.4 1312.6,456.5 1312.9,454.1 1313.2,456.7 1313.5,448.8 1313.8,461.3 1314.1,454.5 1314.4,457.3 1314.7,457.0 1315.0,449.6 1315.3,455.3 1315.6,461.7 1315.9,453.8 1316.2,458.0 1316.5,461.2 1316.8,463.6 1317.1,454.2 1317.4,461.7 1317.7,460.5 1318.0,460.1 1318.3,461.9 1318.6,461.2 1318.9,454.5 1319.2,460.4 1319.5,456.3 1319.8,460.1 1320.1,457.3 1320.4,464.9 1320.7,462.9 1321.0,461.3 1321.3,456.9 1321.6,461.3 1321.9,455.5 1322.2,456.6 1322.5,453.5 1322.8,463.6 1323.1,458.4 1323.4,464.1 1323.7,465.0 1324.0,464.7 1324.3,459.3 1324.6,466.7 1324.9,465.8 1325.2,456.4 1325.5,462.9 1325.8,458.5 1326.1,461.3 1326.4,466.6 1326.7,463.3 1327.0,468.4 1327.3,464.7 1327.6,465.4 1327.9,469.1 1328.2,467.6 1328.5,466.0 1328.8,468.3 1329.1,467.9 1329.4,457.9 1329.7,459.4 1330.0,463.9 1330.3,468.0 1330.6,460.9 1330.9,457.5 1331.2,463.8 1331.5,461.9 1331.8,470.1 1332.1,455.2 1332.4,467.7 1332.7,467.2 1333.0,454.4 1333.3,461.0 1333.6,464.1 1333.9,466.6 1334.2,465.4 1334.5,467.8 1334.8,466.3 1335.1,462.6 1335.4,472.3 1335.7,467.1 1336.0,462.7 1336.3,468.1 1336.6,465.8 1336.9,464.8 1337.2,464.1 1337.5,460.9 1337.8,463.4 1338.1,462.0 1338.4,459.4 1338.7,469.2 1339.0,468.5 1339.3,466.7 1339.6,463.3 1339.9,464.7 1340.2,474.1 1340.5,464.7 1340.8,471.5 1341.1,469.7 1341.4,470.4 1341.7,466.8 1342.0,467.9 1342.3,468.6 1342.6,464.8 1342.9,474.5 1343.2,466.1 1343.5,470.1 1343.8,476.4 1344.1,475.5 1344.4,467.5 1344.7,471.9 1345.0,474.1 1345.3,462.6 1345.6,478.4 1345.9,472.6 1346.2,469.5 1346.5,470.5 1346.8,462.2 1347.1,473.8 1347.4,477.4 1347.7,470.6 1348.0,477.8 1348.3,474.3 1348.6,466.5 1348.9,474.1 1349.2,464.1 1349.5,464.8 1349.8,474.8 1350.1,474.6 1350.4,472.2 1350.7,472.3 1351.0,466.8 1351.3,476.9 1351.6,473.0 1351.9,472.5 1352.2,487.5 1352.5,474.7 1352.8,473.6 1353.1,481.7 1353.4,475.2 1353.7,472.3 1354.0,480.4 1354.3,474.0 1354.6,471.5 1354.9,473.5 1355.2,475.1 1355.5,478.8 1355.8,480.3 1356.1,470.7 1356.4,480.5 1356.7,473.2 1357.0,474.1 1357.3,465.7 1357.6,482.6 1357.9,478.6 1358.2,475.6 1358.5,475.9 1358.8,480.5 1359.1,476.9 1359.4,465.3 1359.7,478.2 1360.0,477.1 1360.3,477.9 1360.6,477.7 1360.9,481.0 1361.2,474.9 1361.5,487.0 1361.8,478.6 1362.1,475.3 1362.4,478.7 1362.7,471.7 1363.0,478.0 1363.3,475.8 1363.6,475.0 1363.9,482.2 1364.2,480.3 1364.5,475.5 1364.8,476.9 1365.1,480.8 1365.4,488.7 1365.7,479.3 1366.0,479.3 1366.3,482.0 1366.6,475.3 1366.9,479.9 1367.2,483.3 1367.5,482.2 1367.8,482.1 1368.1,476.1 1368.4,481.2 1368.7,486.8 1369.0,491.9 1369.3,485.4 1369.6,479.5 1369.9,480.0 1370.2,481.2 1370.5,490.5 1370.8,476.9 1371.1,481.4 1371.4,475.9 1371.7,480.9 1372.0,481.5 1372.3,486.4 1372.6,486.1 1372.9,484.0 1373.2,482.1 1373.5,481.7 1373.8,490.0 1374.1,483.2 1374.4,479.4 1374.7,480.9 1375.0,484.1 1375.3,481.0 1375.6,478.0 1375.9,488.1 1376.2,481.7 1376.5,484.1 1376.8,485.1 1377.1,483.8 1377.4,484.3 1377.7,474.9 1378.0,485.4 1378.3,484.4 1378.6,483.8 1378.9,485.3 1379.2,494.4 1379.5,492.4 1379.8,488.9 1380.1,492.2 1380.4,484.5 1380.7,486.1 1381.0,488.3 1381.3,490.1 1381.6,490.0 1381.9,494.1 1382.2,486.5 1382.5,492.4 1382.8,484.8 1383.1,489.5 1383.4,483.6 1383.7,492.5 1384.0,485.6 1384.3,493.0 1384.6,480.5 1384.9,495.2 1385.2,488.1 1385.5,490.1 1385.8,489.6 1386.1,481.9 1386.4,486.3 1386.7,486.3 1387.0,488.5 1387.3,482.8 1387.6,486.5 1387.9,489.5 1388.2,493.7 1388.5,492.3 1388.8,484.9 1389.1,493.0 1389.4,496.0 1389.7,492.9 1390.0,488.7 1390.3,486.6 1390.6,488.6 1390.9,496.8 1391.2,486.6 1391.5,480.9 1391.8,494.3 1392.1,488.3 1392.4,490.7 1392.7,489.5 1393.0,495.5 1393.3,489.8 1393.6,488.5 1393.9,488.4 1394.2,498.6 1394.5,497.7 1394.8,490.5 1395.1,490.1 1395.4,491.8 1395.7,494.5 1396.0,489.1 1396.3,498.6 1396.6,493.7 1396.9,482.4 1397.2,488.7 1397.5,491.8 1397.8,502.6 1398.1,499.5 1398.4,494.1 1398.7,488.9 1399.0,493.2 1399.3,493.7 1399.6,491.9 1399.9,494.3 1400.2,496.6 1400.5,492.0 1400.8,489.5 1401.1,494.7 1401.4,488.0 1401.7,492.4 1402.0,498.9 1402.3,495.1 1402.6,489.6 1402.9,494.3 1403.2,493.4 1403.5,495.1 1403.8,498.7 1404.1,492.7 1404.4,490.0 1404.7,501.1 1405.0,491.7 1405.3,497.6 1405.6,496.9 1405.9,494.2 1406.2,497.8 1406.5,497.0 1406.8,496.5 1407.1,498.9 1407.4,493.3 1407.7,499.8 1408.0,492.9 1408.3,500.3 1408.6,501.8 1408.9,493.5 1409.2,504.5 1409.5,494.3 1409.8,496.7 1410.1,493.8 1410.4,496.0 1410.7,497.5 1411.0,494.9 1411.3,501.2 1411.6,494.4 1411.9,498.9 1412.2,493.5 1412.5,494.1 1412.8,498.3 1413.1,499.1 1413.4,496.6 1413.7,499.4 1414.0,500.1 1414.3,495.7 1414.6,498.6 1414.9,495.2 1415.2,493.6 1415.5,496.5 1415.8,498.0 1416.1,503.7 1416.4,501.2 1416.7,499.7 1417.0,490.9 1417.3,495.9 1417.6,501.5 1417.9,502.0 1418.2,499.8 1418.5,495.3 1418.8,492.5 1419.1,493.7 1419.4,500.9 1419.7,502.0 1420.0,507.5 1420.3,498.1 1420.6,502.1 1420.9,497.9 1421.2,500.2 1421.5,501.5 1421.8,499.2 1422.1,506.9 1422.4,497.2 1422.7,504.7 1423.0,500.8 1423.3,499.8 1423.6,505.9 1423.9,499.7 1424.2,503.3 1424.5,502.2 1424.8,505.1 1425.1,497.8 1425.4,503.6 1425.7,504.5 1426.0,500.2 1426.3,498.9 1426.6,498.9 1426.9,502.9 1427.2,500.1 1427.5,505.3 1427.8,502.8 1428.1,502.4 1428.4,503.4 1428.7,503.9 1429.0,504.1 1429.3,506.1 1429.6,508.4 1429.9,505.7 1430.2,506.1 1430.5,510.1 1430.8,510.3 1431.1,504.8 1431.4,500.5 1431.7,509.3 1432.0,501.7 1432.3,502.0 1432.6,501.9 1432.9,503.7 1433.2,496.1 1433.5,503.3 1433.8,509.7 1434.1,515.4 1434.4,507.4 1434.7,508.8 1435.0,509.3 1435.3,503.7 1435.6,502.4 1435.9,507.6 1436.2,510.7 1436.5,506.9 1436.8,507.8 1437.1,506.5 1437.4,506.2 1437.7,504.8 1438.0,511.1 1438.3,510.3 1438.6,506.6 1438.9,508.3 1439.2,509.7 1439.5,511.8 1439.8,515.1 1440.1,514.4 1440.4,507.8 1440.7,508.8 1441.0,506.9 1441.3,511.1 1441.6,512.4 1441.9,502.0 1442.2,508.8 1442.5,514.0 1442.8,503.0 1443.1,514.5 1443.4,513.1 1443.7,506.8 1444.0,504.9 1444.3,515.6 1444.6,507.5 1444.9,504.2 1445.2,509.4 1445.5,503.8 1445.8,505.3 1446.1,516.1 1446.4,507.7 1446.7,508.8 1447.0,503.1 1447.3,506.1 1447.6,513.6 1447.9,511.2 1448.2,513.8 1448.5,513.6 1448.8,510.7 1449.1,508.3 1449.4,501.6 1449.7,514.3 1450.0,510.6 1450.3,520.3 1450.6,509.8 1450.9,510.0 1451.2,508.6 1451.5,505.8 1451.8,510.8 1452.1,512.0 1452.4,511.7 1452.7,509.8 1453.0,508.0 1453.3,515.5 1453.6,515.0 1453.9,508.8 1454.2,506.4 1454.5,508.9 1454.8,508.9 1455.1,515.7 1455.4,508.4 1455.7,513.3 1456.0,508.0 1456.3,511.7 1456.6,522.4 1456.9,509.7 1457.2,514.0 1457.5,510.7 1457.8,517.1 1458.1,514.1 1458.4,512.9 1458.7,518.5 1459.0,516.3 1459.3,515.6 1459.6,508.6 1459.9,509.8 1460.2,518.9 1460.5,508.9 1460.8,519.8 1461.1,519.8 1461.4,512.8 1461.7,510.3 1462.0,508.9 1462.3,516.9 1462.6,515.9 1462.9,510.8 1463.2,509.9 1463.5,515.8 1463.8,511.6 1464.1,514.0 1464.4,508.3 1464.7,515.9 1465.0,514.9 1465.3,512.6 1465.6,510.0 1465.9,514.3 1466.2,516.1 1466.5,516.4 1466.8,515.3 1467.1,512.0 1467.4,517.6 1467.7,519.6 1468.0,512.9 1468.3,510.4 1468.6,521.1 1468.9,516.3 1469.2,508.2 1469.5,518.9 1469.8,516.4 1470.1,513.1 1470.4,516.2 1470.7,511.7 1471.0,512.7 1471.3,509.7 1471.6,520.6 1471.9,514.1 1472.2,517.0 1472.5,517.6 1472.8,506.3 1473.1,517.0 1473.4,512.0 1473.7,521.3 1474.0,511.9 1474.3,519.9 1474.6,523.1 1474.9,517.8 1475.2,520.9 1475.5,522.3 1475.8,517.9 1476.1,516.4 1476.4,511.8 1476.7,524.6 1477.0,521.5 1477.3,520.2 1477.6,511.2 1477.9,522.2 1478.2,516.6 1478.5,518.8 1478.8,519.6 1479.1,522.7 1479.4,517.3 1479.7,515.9 1480.0,520.9 1480.3,519.8 1480.6,516.6 1480.9,527.2 1481.2,523.5 1481.5,513.1 1481.8,510.8 1482.1,512.0 1482.4,517.8 1482.7,521.3 1483.0,526.4 1483.3,520.5 1483.6,517.4 1483.9,520.5 1484.2,520.3 1484.5,516.6 1484.8,520.9 1485.1,513.2 1485.4,519.1 1485.7,522.4 1486.0,519.9 1486.3,522.9 1486.6,525.2 1486.9,523.4 1487.2,523.8 1487.5,523.9 1487.8,520.7 1488.1,525.5 1488.4,522.8 1488.7,518.1 1489.0,525.7 1489.3,522.1 1489.6,510.3 1489.9,529.0 1490.2,522.7 1490.5,519.7 1490.8,525.7 1491.1,524.4 1491.4,524.0 1491.7,529.9 1492.0,527.7 1492.3,522.5 1492.6,521.0 1492.9,518.9 1493.2,525.5 1493.5,524.4 1493.8,528.3 1494.1,525.0 1494.4,527.1 1494.7,529.6 1495.0,522.7 1495.3,521.1 1495.6,524.8 1495.9,520.0 1496.2,524.4 1496.5,524.1 1496.8,530.7 1497.1,524.0 1497.4,530.0 1497.7,524.0 1498.0,525.4 1498.3,523.9 1498.6,525.5 1498.9,523.6 1499.2,521.8 1499.5,521.2 1499.8,529.6 1500.1,526.9 1500.4,532.5 1500.7,532.2 1501.0,522.7 1501.3,533.9 1501.6,525.0 1501.9,520.7 1502.2,522.4 1502.5,524.9 1502.8,517.8 1503.1,528.9 1503.4,525.9 1503.7,529.8 1504.0,528.8 1504.3,528.6 1504.6,530.4 1504.9,529.7 1505.2,522.5 1505.5,533.9 1505.8,526.3 1506.1,528.3 1506.4,531.0 1506.7,525.6 1507.0,526.4 1507.3,521.6 1507.6,531.2 1507.9,531.3 1508.2,527.2 1508.5,525.9 1508.8,518.9 1509.1,530.8 1509.4,525.5 1509.7,527.3 1510.0,527.9 1510.3,527.9 1510.6,529.9 1510.9,531.8 1511.2,530.2 1511.5,525.5 1511.8,529.6 1512.1,529.4 1512.4,526.4 1512.7,529.1 1513.0,533.6 1513.3,533.2 1513.6,532.5 1513.9,533.0 1514.2,523.6 1514.5,531.7 1514.8,536.7 1515.1,530.0 1515.4,530.1 1515.7,528.6 1516.0,532.7 1516.3,531.6 1516.6,528.1 1516.9,532.3 1517.2,532.1 1517.5,533.6 1517.8,533.9 1518.1,529.6 1518.4,534.1 1518.7,532.5 1519.0,532.4 1519.3,531.4 1519.6,533.3 1519.9,530.8 1520.2,529.1 1520.5,537.4 1520.8,528.7 1521.1,534.4 1521.4,536.3 1521.7,534.5 1522.0,532.5 1522.3,533.2 1522.6,528.2 1522.9,535.2 1523.2,530.7 1523.5,533.7 1523.8,530.9 1524.1,537.6 1524.4,533.0 1524.7,534.5 1525.0,540.0 1525.3,531.3 1525.6,534.0 1525.9,526.9 1526.2,533.9 1526.5,533.6 1526.8,533.0 1527.1,538.0 1527.4,541.2 1527.7,538.7 1528.0,538.6 1528.3,539.8 1528.6,534.0 1528.9,533.3 1529.2,537.5 1529.5,542.9 1529.8,534.6 1530.1,531.3 1530.4,537.1 1530.7,540.8 1531.0,539.7" fill="none" stroke="#ee3338" stroke-width="1.6" stroke-linejoin="round" stroke-miterlimit="4" stroke-linecap="butt"/>
<path d="M912.2,28.3 913.7,44.6 915.2,61.1 916.7,78.0 918.2,95.9 919.7,113.3 921.2,128.3 922.7,141.8 924.2,154.3 925.7,166.2 927.2,177.6 928.7,188.6 930.2,199.7 931.7,210.8 933.2,221.9 934.7,232.8 936.2,243.5 937.7,253.9 939.2,264.2 940.7,274.2 942.2,284.1 943.7,293.8 945.2,303.2 946.7,312.2 948.2,320.5 949.7,328.0 951.2,335.1 952.7,341.7 954.2,348.1 955.7,354.2 957.2,360.0 958.7,365.6 960.2,371.1 961.7,376.5 963.2,381.9 964.7,387.1 966.2,392.3 967.7,397.4 969.2,402.4 970.7,407.4 972.2,412.2 973.7,416.9 975.2,421.7 976.7,426.3 978.2,430.9 979.7,435.3 981.2,439.6 982.7,443.7 984.2,447.7 985.7,451.5 987.2,455.2 988.7,458.8 990.2,462.3 991.7,465.7 993.2,469.0 994.7,472.3 996.2,475.4 997.7,478.5 999.2,481.5 1000.7,484.4 1002.2,487.2 1003.7,489.9 1005.2,492.6 1006.7,495.1 1008.2,497.6 1009.7,500.0 1011.2,502.3 1012.7,504.6 1014.2,506.8 1015.7,508.9 1017.2,510.9 1018.7,512.9 1020.2,514.8 1021.7,516.7 1023.2,518.5 1024.7,520.3 1026.2,522.1 1027.7,523.8 1029.2,525.5 1030.7,527.2 1032.2,528.8 1033.7,530.4 1035.2,531.8 1036.7,533.3 1038.2,534.6 1039.7,536.0 1041.2,537.3 1042.7,538.6 1044.2,539.9 1045.7,541.2 1047.2,542.5 1048.7,543.9 1050.2,545.2 1051.7,546.6 1053.2,548.0 1054.7,549.3 1056.2,550.6 1057.7,552.0 1059.2,553.2 1060.7,554.5 1062.2,555.6 1063.7,556.8 1065.2,557.8 1066.7,558.8 1068.1,559.8 1069.6,560.7 1071.1,561.6 1072.6,562.5 1074.1,563.4 1075.6,564.2 1077.1,565.0 1078.6,565.8 1080.1,566.6 1081.6,567.3 1083.1,568.1 1084.6,568.8 1086.1,569.5 1087.6,570.2 1089.1,570.8 1090.6,571.5 1092.1,572.2 1093.6,572.8 1095.1,573.4 1096.6,574.0 1098.1,574.6 1099.6,575.2 1101.1,575.8 1102.6,576.3 1104.1,576.9 1105.6,577.4 1107.1,577.9 1108.6,578.4 1110.1,578.9 1111.6,579.4 1113.1,579.9 1114.6,580.4 1116.1,580.9 1117.6,581.3 1119.1,581.8 1120.6,582.2 1122.1,582.6 1123.6,583.0 1125.1,583.4 1126.6,583.8 1128.1,584.2 1129.6,584.5 1131.1,584.9 1132.6,585.2 1134.1,585.5 1135.6,585.8 1137.1,586.1 1138.6,586.4 1140.1,586.7 1141.6,587.0 1143.1,587.3 1144.6,587.5 1146.1,587.8 1147.6,588.1 1149.1,588.3 1150.6,588.6 1152.1,588.8 1153.6,589.0 1155.1,589.3 1156.6,589.5 1158.1,589.7 1159.6,590.0 1161.1,590.2 1162.6,590.4 1164.1,590.6 1165.6,590.8 1167.1,591.0 1168.6,591.2 1170.1,591.4 1171.6,591.6 1173.1,591.8 1174.6,592.0 1176.1,592.2 1177.6,592.4 1179.1,592.5 1180.6,592.7 1182.1,592.9 1183.6,593.1 1185.1,593.2 1186.6,593.4 1188.1,593.6 1189.6,593.8 1191.1,593.9 1192.6,594.1 1194.1,594.3 1195.6,594.5 1197.1,594.7 1198.6,594.8 1200.1,595.0 1201.6,595.2 1203.1,595.4 1204.6,595.6 1206.1,595.7 1207.6,595.9 1209.1,596.1 1210.6,596.3 1212.1,596.4 1213.6,596.6 1215.1,596.7 1216.6,596.8 1218.1,597.0 1219.6,597.1 1221.1,597.2 1222.6,597.3 1224.1,597.4 1225.6,597.5 1227.1,597.6 1228.6,597.7 1230.1,597.7 1231.6,597.8 1233.1,597.9 1234.6,598.0 1236.1,598.1 1237.6,598.1 1239.1,598.2 1240.6,598.3 1242.1,598.4 1243.6,598.4 1245.1,598.5 1246.6,598.6 1248.1,598.6 1249.6,598.7 1251.1,598.8 1252.6,598.8 1254.1,598.9 1255.6,599.0 1257.1,599.0 1258.6,599.1 1260.1,599.1 1261.6,599.2 1263.1,599.3 1264.6,599.3 1266.1,599.4 1267.6,599.5 1269.1,599.5 1270.6,599.6 1272.1,599.7 1273.6,599.7 1275.1,599.8 1276.6,599.8 1278.1,599.9 1279.6,600.0 1281.1,600.0 1282.6,600.1 1284.1,600.1 1285.6,600.2 1287.1,600.3 1288.6,600.3 1290.1,600.4 1291.6,600.4 1293.1,600.5 1294.6,600.5 1296.1,600.5 1297.6,600.6 1299.1,600.6 1300.6,600.7 1302.1,600.7 1303.6,600.7 1305.1,600.7 1306.6,600.8 1308.1,600.8 1309.6,600.8 1311.1,600.8 1312.6,600.9 1314.1,600.9 1315.6,600.9 1317.1,601.0 1318.6,601.0 1320.1,601.0 1321.6,601.0 1323.1,601.0 1324.6,601.1 1326.1,601.1 1327.6,601.1 1329.1,601.1 1330.6,601.2 1332.1,601.2 1333.6,601.2 1335.1,601.2 1336.6,601.2 1338.1,601.3 1339.6,601.3 1341.1,601.3 1342.6,601.3 1344.1,601.3 1345.6,601.3 1347.1,601.4 1348.6,601.4 1350.1,601.4 1351.6,601.4 1353.1,601.4 1354.6,601.4 1356.1,601.5 1357.6,601.5 1359.1,601.5 1360.6,601.5 1362.1,601.5 1363.6,601.5 1365.1,601.5 1366.6,601.6 1368.1,601.6 1369.6,601.6 1371.1,601.6 1372.6,601.6 1374.1,601.6 1375.6,601.6 1377.0,601.6 1378.5,601.6 1380.0,601.7 1381.5,601.7 1383.0,601.7 1384.5,601.7 1386.0,601.7 1387.5,601.7 1389.0,601.7 1390.5,601.7 1392.0,601.7 1393.5,601.8 1395.0,601.8 1396.5,601.8 1398.0,601.8 1399.5,601.8 1401.0,601.8 1402.5,601.8 1404.0,601.8 1405.5,601.8 1407.0,601.8 1408.5,601.9 1410.0,601.9 1411.5,601.9 1413.0,601.9 1414.5,601.9 1416.0,601.9 1417.5,601.9 1419.0,601.9 1420.5,601.9 1422.0,601.9 1423.5,602.0 1425.0,602.0 1426.5,602.0 1428.0,602.0 1429.5,602.0 1431.0,602.0 1432.5,602.0 1434.0,602.0 1435.5,602.0 1437.0,602.0 1438.5,602.0 1440.0,602.0 1441.5,602.0 1443.0,602.0 1444.5,602.1 1446.0,602.1 1447.5,602.1 1449.0,602.1 1450.5,602.1 1452.0,602.1 1453.5,602.1 1455.0,602.1 1456.5,602.1 1458.0,602.1 1459.5,602.1 1461.0,602.1 1462.5,602.1 1464.0,602.1 1465.5,602.1 1467.0,602.1 1468.5,602.1 1470.0,602.1 1471.5,602.1 1473.0,602.1 1474.5,602.1 1476.0,602.1 1477.5,602.1 1479.0,602.1 1480.5,602.1 1482.0,602.1 1483.5,602.1 1485.0,602.1 1486.5,602.1 1488.0,602.1 1489.5,602.1 1491.0,602.1 1492.5,602.1 1494.0,602.1 1495.5,602.1 1497.0,602.1 1498.5,602.1 1500.0,602.1 1501.5,602.1 1503.0,602.1 1504.5,602.1 1506.0,602.1 1507.5,602.1 1509.0,602.1 1510.5,602.1 1512.0,602.1 1513.5,602.1 1515.0,602.1 1516.5,602.1 1518.0,602.1 1519.5,602.1 1521.0,602.1 1522.5,602.1 1524.0,602.1 1525.5,602.1 1527.0,602.1 1528.5,602.1 1530.0,602.1" fill="none" stroke="#d7df23" stroke-width="4.0" stroke-linejoin="round"/>
<path d="M912.2,28.3 912.7,34.9 913.2,39.6 913.7,42.7 914.2,51.4 914.7,56.2 915.2,60.3 915.7,67.5 916.2,72.8 916.7,78.4 917.2,84.0 917.7,90.7 918.2,94.9 918.7,101.6 919.2,107.0 919.7,114.1 920.2,118.6 920.7,123.2 921.2,127.2 921.7,132.5 922.2,137.4 922.7,141.4 923.2,147.9 923.7,151.7 924.2,150.5 924.7,155.7 925.2,162.1 925.7,165.6 926.2,170.3 926.7,174.1 927.2,180.5 927.7,179.7 928.2,184.4 928.7,191.5 929.2,193.2 929.7,196.9 930.2,199.0 930.7,201.1 931.2,207.3 931.7,211.0 932.2,212.8 932.7,217.3 933.2,221.8 933.7,224.2 934.2,229.0 934.7,232.9 935.2,236.4 935.7,239.2 936.2,244.3 936.7,248.2 937.2,250.9 937.7,252.8 938.2,258.4 938.7,260.1 939.2,265.4 939.7,266.2 940.2,272.2 940.7,274.2 941.2,275.9 941.7,280.4 942.2,284.1 942.7,287.7 943.2,289.3 943.7,292.3 944.2,297.2 944.7,299.5 945.2,303.5 945.7,307.3 946.2,307.1 946.7,312.5 947.2,316.6 947.7,317.4 948.2,319.4 948.7,324.0 949.2,325.9 949.7,329.2 950.2,330.0 950.7,330.9 951.2,334.9 951.7,336.8 952.2,340.6 952.7,342.0 953.2,341.8 953.7,344.5 954.2,349.2 954.7,351.0 955.2,351.4 955.7,354.2 956.2,356.7 956.7,358.7 957.2,361.1 957.7,362.2 958.2,363.6 958.7,365.3 959.2,368.8 959.7,366.4 960.2,370.9 960.7,373.0 961.2,372.9 961.7,376.9 962.2,377.5 962.7,381.2 963.2,381.7 963.7,384.5 964.2,386.9 964.7,387.6 965.2,387.8 965.7,388.7 966.2,394.5 966.7,393.9 967.2,394.9 967.7,397.6 968.2,398.9 968.7,401.8 969.2,402.5 969.7,404.1 970.2,404.8 970.7,407.9 971.2,407.7 971.7,411.4 972.2,414.1 972.7,411.9 973.2,412.3 973.7,417.7 974.2,421.7 974.7,418.8 975.2,420.1 975.7,423.9 976.2,423.7 976.7,425.7 977.2,427.4 977.7,430.0 978.2,430.4 978.7,432.7 979.2,433.6 979.7,434.3 980.2,436.3 980.7,437.0 981.2,439.6 981.7,439.6 982.2,441.0 982.7,445.5 983.2,445.0 983.7,446.3 984.2,448.3 984.7,448.4 985.2,450.0 985.7,452.0 986.2,453.1 986.7,452.6 987.2,456.2 987.7,455.7 988.2,456.4 988.7,457.7 989.2,459.5 989.7,463.1 990.2,460.9 990.7,463.7 991.2,462.0 991.7,465.7 992.2,467.9 992.7,467.7 993.2,468.3 993.7,470.4 994.2,472.0 994.7,473.1 995.2,475.7 995.7,474.6 996.2,474.7 996.7,476.3 997.2,477.4 997.7,478.6 998.2,479.5 998.7,480.7 999.2,479.5 999.7,483.5 1000.2,482.8 1000.7,483.0 1001.2,486.1 1001.7,487.9 1002.2,487.8 1002.7,488.3 1003.2,487.9 1003.7,493.3 1004.2,491.9 1004.7,490.3 1005.2,491.6 1005.7,493.5 1006.2,492.4 1006.7,495.3 1007.2,495.4 1007.7,498.2 1008.2,498.7 1008.7,495.2 1009.2,499.3 1009.7,498.1 1010.2,502.1 1010.7,501.8 1011.2,503.0 1011.7,501.9 1012.2,506.0 1012.7,507.0 1013.2,504.1 1013.7,506.5 1014.2,506.0 1014.7,507.5 1015.2,506.7 1015.7,511.1 1016.2,508.4 1016.7,509.9 1017.2,511.5 1017.7,510.8 1018.2,512.0 1018.7,512.2 1019.2,513.4 1019.7,512.8 1020.2,514.3 1020.7,515.2 1021.2,515.7 1021.7,516.8 1022.2,517.0 1022.7,518.8 1023.2,518.2 1023.7,519.0 1024.2,519.0 1024.7,519.7 1025.2,519.5 1025.7,522.1 1026.2,520.8 1026.7,521.8 1027.2,523.7 1027.7,524.3 1028.2,523.9 1028.7,522.6 1029.2,526.0 1029.7,526.4 1030.2,525.0 1030.7,528.1 1031.2,526.9 1031.7,527.0 1032.2,528.9 1032.7,529.1 1033.2,530.1 1033.7,528.5 1034.2,533.0 1034.7,530.7 1035.2,530.1 1035.7,533.0 1036.2,532.4 1036.7,533.6 1037.2,533.3 1037.7,534.1 1038.2,534.9 1038.7,534.2 1039.2,536.3 1039.7,535.4 1040.2,535.4 1040.7,536.9 1041.2,537.8 1041.7,537.4 1042.2,537.2 1042.7,539.3 1043.2,537.0 1043.7,538.2 1044.2,539.9 1044.7,538.7 1045.2,540.8 1045.7,541.1 1046.2,542.7 1046.7,541.0 1047.2,541.8 1047.7,543.3 1048.2,540.6 1048.7,547.4 1049.2,543.5 1049.7,543.9 1050.2,546.2 1050.7,545.6 1051.2,544.1 1051.7,547.3 1052.2,548.0 1052.7,547.0 1053.2,547.6 1053.7,549.0 1054.2,547.8 1054.7,549.8 1055.2,550.0 1055.7,549.4 1056.2,549.1 1056.7,550.8 1057.2,550.5 1057.7,553.1 1058.2,552.5 1058.7,553.7 1059.2,553.4 1059.7,553.9 1060.2,553.2 1060.7,555.2 1061.2,556.9 1061.7,554.9 1062.2,555.0 1062.7,555.8 1063.2,555.8 1063.7,556.0 1064.2,557.3 1064.7,557.2 1065.2,559.5 1065.7,558.2 1066.2,558.9 1066.7,559.9 1067.1,558.8 1067.6,561.1 1068.1,559.1 1068.6,559.2 1069.1,560.0 1069.6,560.6 1070.1,559.5 1070.6,561.3 1071.1,559.8 1071.6,563.5 1072.1,562.1 1072.6,561.8 1073.1,561.8 1073.6,562.7 1074.1,563.1 1074.6,562.5 1075.1,562.9 1075.6,564.0 1076.1,563.9 1076.6,565.8 1077.1,566.3 1077.6,565.3 1078.1,566.1 1078.6,564.3 1079.1,566.8 1079.6,566.3 1080.1,567.1 1080.6,568.6 1081.1,564.5 1081.6,567.6 1082.1,566.3 1082.6,568.5 1083.1,566.6 1083.6,567.7 1084.1,568.8 1084.6,569.5 1085.1,569.1 1085.6,568.4 1086.1,568.9 1086.6,570.7 1087.1,569.9 1087.6,568.3 1088.1,571.3 1088.6,571.1 1089.1,571.8 1089.6,570.7 1090.1,572.2 1090.6,570.3 1091.1,572.4 1091.6,571.4 1092.1,572.9 1092.6,573.5 1093.1,571.8 1093.6,572.7 1094.1,573.0 1094.6,574.5 1095.1,574.2 1095.6,572.2 1096.1,574.3 1096.6,574.9 1097.1,576.6 1097.6,572.5 1098.1,574.0 1098.6,576.3 1099.1,573.5 1099.6,573.8 1100.1,576.0 1100.6,576.7 1101.1,575.0 1101.6,576.6 1102.1,576.3 1102.6,578.0 1103.1,576.5 1103.6,577.8 1104.1,575.8 1104.6,576.8 1105.1,577.1 1105.6,578.7 1106.1,578.2 1106.6,576.9 1107.1,578.7 1107.6,578.9 1108.1,578.1 1108.6,578.1 1109.1,578.4 1109.6,576.9 1110.1,579.1 1110.6,579.4 1111.1,578.3 1111.6,580.3 1112.1,578.1 1112.6,579.1 1113.1,579.4 1113.6,582.3 1114.1,578.4 1114.6,581.0 1115.1,581.6 1115.6,581.1 1116.1,582.2 1116.6,579.9 1117.1,578.6 1117.6,582.2 1118.1,580.1 1118.6,581.3 1119.1,580.5 1119.6,583.1 1120.1,583.0 1120.6,581.4 1121.1,583.4 1121.6,582.6 1122.1,582.5 1122.6,582.8 1123.1,582.7 1123.6,583.7 1124.1,583.5 1124.6,582.9 1125.1,584.6 1125.6,582.9 1126.1,584.0 1126.6,584.3 1127.1,585.6 1127.6,583.5 1128.1,586.1 1128.6,584.5 1129.1,584.2 1129.6,583.8 1130.1,585.3 1130.6,584.8 1131.1,583.6 1131.6,583.7 1132.1,584.5 1132.6,584.4 1133.1,586.5 1133.6,586.9 1134.1,586.5 1134.6,586.0 1135.1,585.2 1135.6,585.9 1136.1,586.9 1136.6,588.4 1137.1,587.1 1137.6,585.9 1138.1,586.4 1138.6,585.9 1139.1,585.6 1139.6,586.4 1140.1,586.9 1140.6,588.8 1141.1,587.0 1141.6,588.5 1142.1,589.0 1142.6,587.3 1143.1,589.0 1143.6,588.1 1144.1,587.0 1144.6,587.8 1145.1,587.6 1145.6,587.4 1146.1,587.6 1146.6,588.0 1147.1,588.4 1147.6,587.1 1148.1,588.1 1148.6,586.5 1149.1,588.6 1149.6,589.1 1150.1,588.7 1150.6,588.9 1151.1,589.3 1151.6,588.0 1152.1,588.5 1152.6,589.4 1153.1,590.1 1153.6,589.5 1154.1,592.0 1154.6,589.1 1155.1,590.4 1155.6,590.8 1156.1,589.3 1156.6,588.6 1157.1,588.3 1157.6,589.8 1158.1,591.0 1158.6,590.1 1159.1,590.1 1159.6,589.5 1160.1,590.6 1160.6,587.7 1161.1,590.4 1161.6,590.3 1162.1,588.8 1162.6,592.8 1163.1,588.9 1163.6,589.3 1164.1,589.3 1164.6,591.9 1165.1,589.7 1165.6,591.5 1166.1,591.5 1166.6,591.2 1167.1,589.6 1167.6,590.4 1168.1,593.0 1168.6,589.8 1169.1,590.4 1169.6,591.2 1170.1,592.3 1170.6,591.8 1171.1,592.4 1171.6,590.4 1172.1,592.7 1172.6,592.4 1173.1,590.0 1173.6,593.6 1174.1,594.5 1174.6,591.1 1175.1,592.1 1175.6,593.7 1176.1,590.5 1176.6,590.0 1177.1,590.9 1177.6,591.7 1178.1,591.8 1178.6,593.1 1179.1,592.8 1179.6,591.2 1180.1,593.3 1180.6,594.8 1181.1,594.1 1181.6,593.9 1182.1,592.9 1182.6,594.0 1183.1,591.9 1183.6,593.9 1184.1,593.0 1184.6,594.4 1185.1,593.8 1185.6,592.1 1186.1,593.5 1186.6,594.8 1187.1,592.2 1187.6,592.9 1188.1,592.7 1188.6,592.0 1189.1,594.8 1189.6,595.2 1190.1,594.7 1190.6,594.1 1191.1,593.9 1191.6,594.3 1192.1,593.2 1192.6,595.1 1193.1,595.3 1193.6,595.3 1194.1,593.7 1194.6,594.4 1195.1,594.2 1195.6,596.5 1196.1,594.7 1196.6,592.5 1197.1,595.1 1197.6,596.8 1198.1,595.5 1198.6,595.8 1199.1,594.9 1199.6,592.8 1200.1,593.0 1200.6,593.7 1201.1,595.0 1201.6,595.6 1202.1,596.0 1202.6,595.0 1203.1,596.4 1203.6,595.1 1204.1,594.7 1204.6,596.5 1205.1,594.6 1205.6,592.7 1206.1,594.6 1206.6,595.9 1207.1,592.5 1207.6,595.5 1208.1,595.6 1208.6,594.5 1209.1,594.4 1209.6,595.6 1210.1,595.6 1210.6,597.6 1211.1,596.7 1211.6,594.6 1212.1,595.5 1212.6,597.2 1213.1,598.6 1213.6,597.0 1214.1,596.9 1214.6,598.7 1215.1,596.7 1215.6,596.4 1216.1,595.2 1216.6,596.3 1217.1,599.3 1217.6,595.3 1218.1,597.0 1218.6,595.4 1219.1,597.2 1219.6,598.1 1220.1,596.8 1220.6,597.9 1221.1,598.0 1221.6,597.7 1222.1,599.1 1222.6,598.1 1223.1,597.0 1223.6,596.6 1224.1,596.4 1224.6,597.9 1225.1,597.1 1225.6,600.5 1226.1,599.5 1226.6,597.3 1227.1,597.2 1227.6,599.5 1228.1,595.5 1228.6,597.2 1229.1,598.7 1229.6,596.7 1230.1,597.2 1230.6,597.4 1231.1,598.5 1231.6,598.0 1232.1,598.3 1232.6,598.5 1233.1,597.9 1233.6,599.2 1234.1,597.2 1234.6,596.4 1235.1,596.1 1235.6,596.3 1236.1,597.5 1236.6,599.2 1237.1,598.3 1237.6,597.5 1238.1,597.0 1238.6,597.6 1239.1,597.8 1239.6,597.6 1240.1,596.7 1240.6,597.8 1241.1,599.4 1241.6,595.9 1242.1,598.1 1242.6,596.0 1243.1,598.6 1243.6,597.6 1244.1,596.2 1244.6,598.6 1245.1,600.5 1245.6,598.6 1246.1,599.8 1246.6,598.5 1247.1,596.2 1247.6,599.2 1248.1,598.2 1248.6,597.0 1249.1,599.5 1249.6,599.0 1250.1,598.1 1250.6,599.7 1251.1,597.8 1251.6,599.5 1252.1,597.8 1252.6,599.4 1253.1,597.6 1253.6,600.5 1254.1,599.2 1254.6,600.5 1255.1,598.0 1255.6,598.4 1256.1,599.9 1256.6,596.0 1257.1,597.8 1257.6,600.2 1258.1,599.6 1258.6,600.2 1259.1,598.8 1259.6,599.7 1260.1,598.3 1260.6,597.7 1261.1,597.3 1261.6,598.6 1262.1,598.6 1262.6,598.6 1263.1,595.4 1263.6,597.1 1264.1,598.7 1264.6,599.7 1265.1,598.7 1265.6,598.4 1266.1,596.9 1266.6,601.7 1267.1,598.2 1267.6,601.3 1268.1,601.2 1268.6,599.8 1269.1,598.9 1269.6,599.7 1270.1,598.3 1270.6,599.9 1271.1,599.6 1271.6,600.2 1272.1,600.7 1272.6,601.6 1273.1,599.3 1273.6,600.9 1274.1,598.9 1274.6,598.8 1275.1,599.1 1275.6,598.7 1276.1,600.9 1276.6,600.9 1277.1,601.3 1277.6,599.9 1278.1,600.2 1278.6,599.3 1279.1,598.7 1279.6,600.5 1280.1,600.3 1280.6,598.8 1281.1,600.7 1281.6,598.1 1282.1,599.9 1282.6,599.4 1283.1,599.5 1283.6,598.9 1284.1,601.2 1284.6,600.8 1285.1,601.5 1285.6,600.3 1286.1,598.8 1286.6,599.8 1287.1,598.9 1287.6,600.8 1288.1,601.6 1288.6,600.7 1289.1,599.6 1289.6,599.9 1290.1,600.6 1290.6,598.8 1291.1,600.5 1291.6,600.6 1292.1,599.8 1292.6,600.0 1293.1,600.6 1293.6,599.5 1294.1,599.6 1294.6,601.3 1295.1,600.7 1295.6,602.4 1296.1,599.4 1296.6,598.6 1297.1,601.6 1297.6,601.6 1298.1,599.8 1298.6,599.0 1299.1,600.5 1299.6,598.7 1300.1,600.2 1300.6,598.2 1301.1,600.4 1301.6,598.3 1302.1,600.4 1302.6,602.3 1303.1,600.4 1303.6,601.5 1304.1,600.0 1304.6,599.7 1305.1,599.0 1305.6,601.9 1306.1,600.7 1306.6,602.5 1307.1,599.4 1307.6,600.5 1308.1,600.8 1308.6,602.3 1309.1,602.8 1309.6,600.1 1310.1,599.5 1310.6,598.9 1311.1,602.3 1311.6,600.7 1312.1,600.1 1312.6,600.8 1313.1,598.0 1313.6,598.9 1314.1,601.9 1314.6,601.3 1315.1,601.0 1315.6,599.8 1316.1,601.5 1316.6,602.8 1317.1,599.5 1317.6,600.9 1318.1,600.4 1318.6,601.3 1319.1,600.9 1319.6,600.8 1320.1,600.0 1320.6,600.9 1321.1,600.3 1321.6,600.8 1322.1,600.9 1322.6,601.7 1323.1,600.3 1323.6,600.6 1324.1,602.2 1324.6,600.8 1325.1,600.7 1325.6,602.0 1326.1,601.3 1326.6,601.1 1327.1,601.3 1327.6,599.7 1328.1,601.6 1328.6,602.5 1329.1,601.7 1329.6,599.4 1330.1,601.4 1330.6,600.1 1331.1,600.9 1331.6,601.3 1332.1,599.8 1332.6,602.6 1333.1,601.1 1333.6,602.0 1334.1,601.9 1334.6,602.6 1335.1,602.5 1335.6,599.6 1336.1,601.2 1336.6,598.8 1337.1,600.7 1337.6,602.0 1338.1,602.2 1338.6,602.6 1339.1,600.8 1339.6,601.6 1340.1,601.3 1340.6,602.6 1341.1,603.0 1341.6,600.9 1342.1,605.4 1342.6,601.3 1343.1,600.9 1343.6,601.9 1344.1,602.1 1344.6,601.9 1345.1,600.6 1345.6,602.9 1346.1,601.4 1346.6,603.0 1347.1,602.9 1347.6,599.9 1348.1,600.3 1348.6,600.2 1349.1,601.6 1349.6,601.4 1350.1,601.7 1350.6,600.5 1351.1,601.9 1351.6,602.9 1352.1,599.9 1352.6,601.2 1353.1,601.7 1353.6,601.3 1354.1,601.2 1354.6,603.4 1355.1,602.8 1355.6,602.4 1356.1,600.6 1356.6,603.9 1357.1,601.8 1357.6,600.8 1358.1,601.1 1358.6,600.9 1359.1,603.8 1359.6,601.7 1360.1,601.5 1360.6,599.1 1361.1,602.3 1361.6,600.3 1362.1,600.3 1362.6,602.2 1363.1,600.6 1363.6,602.4 1364.1,602.8 1364.6,599.5 1365.1,601.4 1365.6,599.8 1366.1,601.5 1366.6,602.5 1367.1,600.0 1367.6,603.5 1368.1,601.2 1368.6,600.2 1369.1,601.4 1369.6,602.4 1370.1,600.0 1370.6,601.6 1371.1,600.1 1371.6,602.9 1372.1,601.7 1372.6,601.1 1373.1,602.7 1373.6,600.2 1374.1,601.2 1374.6,603.6 1375.1,601.5 1375.6,603.1 1376.1,601.8 1376.5,600.8 1377.0,601.3 1377.5,601.7 1378.0,601.2 1378.5,600.7 1379.0,600.8 1379.5,600.0 1380.0,601.8 1380.5,602.1 1381.0,602.5 1381.5,599.7 1382.0,602.5 1382.5,601.6 1383.0,600.1 1383.5,601.8 1384.0,602.6 1384.5,602.2 1385.0,602.5 1385.5,602.7 1386.0,602.7 1386.5,601.6 1387.0,599.4 1387.5,600.9 1388.0,602.1 1388.5,601.2 1389.0,602.5 1389.5,602.6 1390.0,601.8 1390.5,603.8 1391.0,600.6 1391.5,602.7 1392.0,601.2 1392.5,600.9 1393.0,602.4 1393.5,601.1 1394.0,602.7 1394.5,600.5 1395.0,601.8 1395.5,600.8 1396.0,601.5 1396.5,601.3 1397.0,600.5 1397.5,602.5 1398.0,600.4 1398.5,600.7 1399.0,602.8 1399.5,602.8 1400.0,602.5 1400.5,602.2 1401.0,604.3 1401.5,600.5 1402.0,601.0 1402.5,600.7 1403.0,602.8 1403.5,602.1 1404.0,603.0 1404.5,602.9 1405.0,601.6 1405.5,600.9 1406.0,600.7 1406.5,604.3 1407.0,602.9 1407.5,602.5 1408.0,601.5 1408.5,601.6 1409.0,601.5 1409.5,601.5 1410.0,599.2 1410.5,601.8 1411.0,601.4 1411.5,602.2 1412.0,602.1 1412.5,602.8 1413.0,601.9 1413.5,602.8 1414.0,599.1 1414.5,600.7 1415.0,603.8 1415.5,600.5 1416.0,601.6 1416.5,602.7 1417.0,600.9 1417.5,602.7 1418.0,600.3 1418.5,599.8 1419.0,600.4 1419.5,600.1 1420.0,601.9 1420.5,601.6 1421.0,602.3 1421.5,600.8 1422.0,604.7 1422.5,601.8 1423.0,601.9 1423.5,602.4 1424.0,601.7 1424.5,601.2 1425.0,602.0 1425.5,603.0 1426.0,602.7 1426.5,603.0 1427.0,601.3 1427.5,601.1 1428.0,604.2 1428.5,601.7 1429.0,602.5 1429.5,602.8 1430.0,603.5 1430.5,600.5 1431.0,601.5 1431.5,601.5 1432.0,601.7 1432.5,599.3 1433.0,601.9 1433.5,598.8 1434.0,602.3 1434.5,602.6 1435.0,602.7 1435.5,600.7 1436.0,603.1 1436.5,601.1 1437.0,600.7 1437.5,600.9 1438.0,601.1 1438.5,602.2 1439.0,602.9 1439.5,599.7 1440.0,601.4 1440.5,603.0 1441.0,602.3 1441.5,602.6 1442.0,600.4 1442.5,603.1 1443.0,600.3 1443.5,602.3 1444.0,603.5 1444.5,604.1 1445.0,602.6 1445.5,603.0 1446.0,601.4 1446.5,601.5 1447.0,603.3 1447.5,602.1 1448.0,601.9 1448.5,600.5 1449.0,602.2 1449.5,602.8 1450.0,601.2 1450.5,601.5 1451.0,603.8 1451.5,602.3 1452.0,601.8 1452.5,600.8 1453.0,601.4 1453.5,601.8 1454.0,603.6 1454.5,601.4 1455.0,604.1 1455.5,601.1 1456.0,601.7 1456.5,603.0 1457.0,601.8 1457.5,601.2 1458.0,601.9 1458.5,602.6 1459.0,600.2 1459.5,601.8 1460.0,602.0 1460.5,601.6 1461.0,602.9 1461.5,601.5 1462.0,601.7 1462.5,602.1 1463.0,602.9 1463.5,601.9 1464.0,603.8 1464.5,601.1 1465.0,603.5 1465.5,601.2 1466.0,601.9 1466.5,602.5 1467.0,604.4 1467.5,603.1 1468.0,601.7 1468.5,603.5 1469.0,601.9 1469.5,601.2 1470.0,602.6 1470.5,602.2 1471.0,603.1 1471.5,601.5 1472.0,602.5 1472.5,602.8 1473.0,602.4 1473.5,602.1 1474.0,601.3 1474.5,603.1 1475.0,602.3 1475.5,602.6 1476.0,601.7 1476.5,602.1 1477.0,601.0 1477.5,602.2 1478.0,602.9 1478.5,602.2 1479.0,603.0 1479.5,602.4 1480.0,603.6 1480.5,601.9 1481.0,600.3 1481.5,602.6 1482.0,601.9 1482.5,601.0 1483.0,602.8 1483.5,602.4 1484.0,602.6 1484.5,601.7 1485.0,602.3 1485.5,602.4 1486.0,604.1 1486.5,601.3 1487.0,602.1 1487.5,602.5 1488.0,600.2 1488.5,600.3 1489.0,604.5 1489.5,600.2 1490.0,602.7 1490.5,601.2 1491.0,601.3 1491.5,599.9 1492.0,601.1 1492.5,603.0 1493.0,600.6 1493.5,602.8 1494.0,602.4 1494.5,604.3 1495.0,601.6 1495.5,603.5 1496.0,603.1 1496.5,601.8 1497.0,600.3 1497.5,603.8 1498.0,600.6 1498.5,601.6 1499.0,603.1 1499.5,603.3 1500.0,601.2 1500.5,602.1 1501.0,601.8 1501.5,603.4 1502.0,604.9 1502.5,600.1 1503.0,603.1 1503.5,599.0 1504.0,602.1 1504.5,600.9 1505.0,604.3 1505.5,602.3 1506.0,601.3 1506.5,601.6 1507.0,601.5 1507.5,602.3 1508.0,601.9 1508.5,602.8 1509.0,603.8 1509.5,602.9 1510.0,600.8 1510.5,600.3 1511.0,601.3 1511.5,603.3 1512.0,601.7 1512.5,601.4 1513.0,602.3 1513.5,600.5 1514.0,600.8 1514.5,602.7 1515.0,601.8 1515.5,601.6 1516.0,602.4 1516.5,601.5 1517.0,601.3 1517.5,601.6 1518.0,602.8 1518.5,602.2 1519.0,600.8 1519.5,601.8 1520.0,602.8 1520.5,604.2 1521.0,600.8 1521.5,602.5 1522.0,601.8 1522.5,603.0 1523.0,602.6 1523.5,603.7 1524.0,602.7 1524.5,601.5 1525.0,601.5 1525.5,602.5 1526.0,602.5 1526.5,604.7 1527.0,603.9 1527.5,600.8 1528.0,602.5 1528.5,600.6 1529.0,600.3 1529.5,602.9 1530.0,602.7 1530.5,601.0 1531.0,603.9" fill="none" stroke="#d7df23" stroke-width="1.8" stroke-linejoin="round" stroke-miterlimit="4" stroke-linecap="butt"/>
<path d="M912.2,28.3 913.7,46.3 915.2,63.3 916.7,79.1 918.2,93.4 919.7,106.0 921.2,116.5 922.7,125.7 924.2,133.9 925.7,141.4 927.2,148.3 928.7,154.9 930.2,161.2 931.7,167.5 933.2,173.4 934.7,179.1 936.2,184.5 937.7,189.7 939.2,194.8 940.7,199.9 942.2,205.0 943.7,210.0 945.2,214.8 946.7,219.7 948.2,224.4 949.7,229.0 951.2,233.6 952.7,238.0 954.2,242.4 955.7,246.7 957.2,250.9 958.7,255.1 960.2,259.2 961.7,263.3 963.2,267.3 964.7,271.3 966.2,275.3 967.7,279.3 969.2,283.1 970.7,286.9 972.2,290.5 973.7,294.1 975.2,297.5 976.7,300.8 978.2,304.1 979.7,307.3 981.2,310.5 982.7,313.6 984.2,316.7 985.7,319.7 987.2,322.7 988.7,325.6 990.2,328.6 991.7,331.5 993.2,334.4 994.7,337.4 996.2,340.5 997.7,343.5 999.2,346.5 1000.7,349.5 1002.2,352.5 1003.7,355.3 1005.2,358.2 1006.7,361.0 1008.2,363.8 1009.7,366.5 1011.2,369.2 1012.7,371.8 1014.2,374.4 1015.7,376.9 1017.2,379.3 1018.7,381.7 1020.2,384.1 1021.7,386.4 1023.2,388.7 1024.7,390.9 1026.2,393.1 1027.7,395.3 1029.2,397.4 1030.7,399.4 1032.2,401.5 1033.7,403.6 1035.2,405.7 1036.7,407.8 1038.2,409.9 1039.7,412.0 1041.2,414.0 1042.7,416.1 1044.2,418.2 1045.7,420.3 1047.2,422.5 1048.7,424.6 1050.2,426.8 1051.7,428.9 1053.2,431.0 1054.7,433.1 1056.2,435.0 1057.7,436.8 1059.2,438.6 1060.7,440.4 1062.2,442.1 1063.7,443.9 1065.2,445.6 1066.7,447.5 1068.1,449.3 1069.6,451.2 1071.1,453.1 1072.6,454.9 1074.1,456.7 1075.6,458.3 1077.1,459.9 1078.6,461.3 1080.1,462.7 1081.6,464.0 1083.1,465.3 1084.6,466.6 1086.1,467.9 1087.6,469.2 1089.1,470.5 1090.6,471.8 1092.1,473.1 1093.6,474.4 1095.1,475.7 1096.6,476.9 1098.1,478.2 1099.6,479.5 1101.1,480.7 1102.6,482.0 1104.1,483.2 1105.6,484.5 1107.1,485.7 1108.6,487.0 1110.1,488.2 1111.6,489.5 1113.1,490.7 1114.6,492.0 1116.1,493.2 1117.6,494.4 1119.1,495.6 1120.6,496.9 1122.1,498.0 1123.6,499.2 1125.1,500.3 1126.6,501.5 1128.1,502.5 1129.6,503.6 1131.1,504.6 1132.6,505.7 1134.1,506.7 1135.6,507.7 1137.1,508.7 1138.6,509.6 1140.1,510.6 1141.6,511.5 1143.1,512.5 1144.6,513.4 1146.1,514.3 1147.6,515.2 1149.1,516.1 1150.6,516.9 1152.1,517.8 1153.6,518.7 1155.1,519.5 1156.6,520.3 1158.1,521.2 1159.6,522.0 1161.1,522.8 1162.6,523.6 1164.1,524.4 1165.6,525.2 1167.1,526.0 1168.6,526.7 1170.1,527.5 1171.6,528.3 1173.1,529.1 1174.6,529.8 1176.1,530.6 1177.6,531.3 1179.1,532.1 1180.6,532.8 1182.1,533.6 1183.6,534.3 1185.1,535.1 1186.6,535.8 1188.1,536.6 1189.6,537.3 1191.1,538.1 1192.6,538.8 1194.1,539.6 1195.6,540.4 1197.1,541.2 1198.6,542.0 1200.1,542.8 1201.6,543.6 1203.1,544.4 1204.6,545.2 1206.1,546.0 1207.6,546.8 1209.1,547.5 1210.6,548.3 1212.1,549.0 1213.6,549.7 1215.1,550.4 1216.6,551.1 1218.1,551.7 1219.6,552.3 1221.1,552.9 1222.6,553.5 1224.1,554.0 1225.6,554.6 1227.1,555.1 1228.6,555.6 1230.1,556.1 1231.6,556.6 1233.1,557.1 1234.6,557.6 1236.1,558.1 1237.6,558.5 1239.1,559.0 1240.6,559.4 1242.1,559.9 1243.6,560.3 1245.1,560.7 1246.6,561.2 1248.1,561.6 1249.6,562.0 1251.1,562.5 1252.6,562.9 1254.1,563.3 1255.6,563.7 1257.1,564.2 1258.6,564.6 1260.1,565.0 1261.6,565.5 1263.1,565.9 1264.6,566.3 1266.1,566.8 1267.6,567.2 1269.1,567.7 1270.6,568.1 1272.1,568.6 1273.6,569.0 1275.1,569.4 1276.6,569.9 1278.1,570.3 1279.6,570.8 1281.1,571.2 1282.6,571.6 1284.1,572.0 1285.6,572.5 1287.1,572.9 1288.6,573.3 1290.1,573.7 1291.6,574.1 1293.1,574.5 1294.6,574.9 1296.1,575.2 1297.6,575.6 1299.1,575.9 1300.6,576.3 1302.1,576.6 1303.6,576.9 1305.1,577.3 1306.6,577.6 1308.1,577.9 1309.6,578.2 1311.1,578.5 1312.6,578.8 1314.1,579.1 1315.6,579.3 1317.1,579.6 1318.6,579.9 1320.1,580.2 1321.6,580.4 1323.1,580.7 1324.6,581.0 1326.1,581.2 1327.6,581.5 1329.1,581.7 1330.6,582.0 1332.1,582.2 1333.6,582.5 1335.1,582.7 1336.6,582.9 1338.1,583.2 1339.6,583.4 1341.1,583.6 1342.6,583.8 1344.1,584.1 1345.6,584.3 1347.1,584.5 1348.6,584.7 1350.1,584.9 1351.6,585.1 1353.1,585.3 1354.6,585.5 1356.1,585.7 1357.6,585.9 1359.1,586.1 1360.6,586.3 1362.1,586.5 1363.6,586.7 1365.1,586.9 1366.6,587.1 1368.1,587.3 1369.6,587.4 1371.1,587.6 1372.6,587.8 1374.1,588.0 1375.6,588.2 1377.0,588.3 1378.5,588.5 1380.0,588.7 1381.5,588.8 1383.0,589.0 1384.5,589.2 1386.0,589.3 1387.5,589.5 1389.0,589.7 1390.5,589.8 1392.0,590.0 1393.5,590.2 1395.0,590.3 1396.5,590.5 1398.0,590.6 1399.5,590.8 1401.0,590.9 1402.5,591.1 1404.0,591.2 1405.5,591.4 1407.0,591.5 1408.5,591.7 1410.0,591.8 1411.5,592.0 1413.0,592.1 1414.5,592.3 1416.0,592.4 1417.5,592.6 1419.0,592.7 1420.5,592.8 1422.0,593.0 1423.5,593.1 1425.0,593.2 1426.5,593.4 1428.0,593.5 1429.5,593.6 1431.0,593.7 1432.5,593.9 1434.0,594.0 1435.5,594.1 1437.0,594.2 1438.5,594.4 1440.0,594.5 1441.5,594.6 1443.0,594.7 1444.5,594.8 1446.0,594.9 1447.5,595.1 1449.0,595.2 1450.5,595.3 1452.0,595.4 1453.5,595.5 1455.0,595.6 1456.5,595.7 1458.0,595.8 1459.5,595.9 1461.0,596.0 1462.5,596.1 1464.0,596.2 1465.5,596.3 1467.0,596.4 1468.5,596.5 1470.0,596.6 1471.5,596.7 1473.0,596.8 1474.5,596.8 1476.0,596.9 1477.5,597.0 1479.0,597.1 1480.5,597.1 1482.0,597.2 1483.5,597.3 1485.0,597.4 1486.5,597.4 1488.0,597.5 1489.5,597.6 1491.0,597.6 1492.5,597.7 1494.0,597.8 1495.5,597.9 1497.0,597.9 1498.5,598.0 1500.0,598.1 1501.5,598.1 1503.0,598.2 1504.5,598.3 1506.0,598.4 1507.5,598.5 1509.0,598.5 1510.5,598.6 1512.0,598.7 1513.5,598.8 1515.0,598.9 1516.5,599.0 1518.0,599.1 1519.5,599.2 1521.0,599.3 1522.5,599.4 1524.0,599.5 1525.5,599.6 1527.0,599.7 1528.5,599.8 1530.0,599.9" fill="none" stroke="#7fba42" stroke-width="4.5" stroke-linejoin="round"/>
<path d="M912.2,28.3 912.7,33.2 913.2,39.5 913.7,40.8 914.2,56.1 914.7,60.3 915.2,62.6 915.7,70.5 916.2,74.6 916.7,77.9 917.2,86.3 917.7,88.2 918.2,92.7 918.7,96.1 919.2,103.0 919.7,105.8 920.2,110.9 920.7,111.8 921.2,116.8 921.7,117.7 922.2,124.6 922.7,126.1 923.2,129.2 923.7,132.2 924.2,131.7 924.7,138.2 925.2,143.5 925.7,137.8 926.2,140.0 926.7,142.8 927.2,150.2 927.7,150.8 928.2,155.1 928.7,156.5 929.2,157.5 929.7,159.7 930.2,160.8 930.7,165.2 931.2,162.9 931.7,166.5 932.2,170.0 932.7,175.4 933.2,171.8 933.7,173.0 934.2,176.0 934.7,181.2 935.2,180.4 935.7,185.6 936.2,180.4 936.7,188.7 937.2,190.2 937.7,186.7 938.2,191.8 938.7,195.8 939.2,195.0 939.7,198.7 940.2,203.3 940.7,200.5 941.2,201.0 941.7,201.6 942.2,206.4 942.7,206.2 943.2,207.9 943.7,209.7 944.2,213.0 944.7,210.9 945.2,211.6 945.7,211.3 946.2,220.6 946.7,219.8 947.2,224.5 947.7,222.8 948.2,222.8 948.7,226.9 949.2,227.3 949.7,226.3 950.2,228.7 950.7,235.8 951.2,234.3 951.7,235.9 952.2,236.0 952.7,236.6 953.2,241.4 953.7,240.7 954.2,240.8 954.7,243.6 955.2,243.4 955.7,247.1 956.2,250.5 956.7,247.8 957.2,254.0 957.7,250.9 958.2,254.0 958.7,253.3 959.2,256.0 959.7,257.9 960.2,258.3 960.7,259.1 961.2,260.5 961.7,261.5 962.2,261.3 962.7,265.4 963.2,268.2 963.7,270.6 964.2,271.4 964.7,276.5 965.2,273.4 965.7,273.0 966.2,279.3 966.7,274.4 967.2,280.0 967.7,277.3 968.2,281.3 968.7,277.7 969.2,285.0 969.7,284.1 970.2,283.6 970.7,290.4 971.2,289.7 971.7,289.4 972.2,289.0 972.7,291.6 973.2,292.6 973.7,295.6 974.2,296.9 974.7,295.0 975.2,296.3 975.7,297.5 976.2,296.9 976.7,299.6 977.2,301.7 977.7,304.5 978.2,306.9 978.7,303.5 979.2,307.4 979.7,306.4 980.2,312.7 980.7,309.3 981.2,311.5 981.7,309.6 982.2,310.9 982.7,314.1 983.2,313.9 983.7,316.4 984.2,313.5 984.7,319.1 985.2,316.9 985.7,323.3 986.2,320.1 986.7,324.0 987.2,319.8 987.7,324.6 988.2,322.8 988.7,324.6 989.2,326.7 989.7,326.9 990.2,329.1 990.7,331.1 991.2,331.9 991.7,331.3 992.2,329.7 992.7,331.8 993.2,334.0 993.7,331.1 994.2,338.0 994.7,336.9 995.2,337.9 995.7,341.4 996.2,341.8 996.7,341.9 997.2,340.4 997.7,344.1 998.2,345.2 998.7,343.7 999.2,348.7 999.7,348.6 1000.2,344.5 1000.7,349.8 1001.2,347.9 1001.7,353.8 1002.2,354.1 1002.7,351.1 1003.2,352.6 1003.7,355.5 1004.2,355.8 1004.7,360.4 1005.2,359.7 1005.7,358.5 1006.2,361.2 1006.7,356.8 1007.2,362.5 1007.7,364.6 1008.2,363.4 1008.7,363.2 1009.2,366.7 1009.7,370.5 1010.2,367.8 1010.7,366.0 1011.2,372.1 1011.7,366.2 1012.2,372.0 1012.7,370.6 1013.2,374.6 1013.7,371.8 1014.2,377.1 1014.7,375.8 1015.2,372.5 1015.7,372.8 1016.2,377.0 1016.7,381.1 1017.2,379.6 1017.7,380.3 1018.2,380.4 1018.7,383.2 1019.2,383.3 1019.7,383.9 1020.2,382.1 1020.7,387.3 1021.2,388.4 1021.7,383.8 1022.2,391.9 1022.7,389.4 1023.2,387.7 1023.7,385.6 1024.2,391.5 1024.7,392.1 1025.2,390.5 1025.7,388.8 1026.2,395.4 1026.7,392.7 1027.2,393.6 1027.7,401.1 1028.2,400.3 1028.7,398.6 1029.2,396.4 1029.7,399.4 1030.2,394.1 1030.7,399.7 1031.2,398.6 1031.7,398.2 1032.2,398.3 1032.7,403.3 1033.2,403.1 1033.7,403.9 1034.2,406.0 1034.7,403.3 1035.2,403.2 1035.7,402.8 1036.2,406.4 1036.7,409.3 1037.2,408.2 1037.7,410.5 1038.2,407.5 1038.7,409.6 1039.2,409.7 1039.7,409.4 1040.2,416.4 1040.7,415.1 1041.2,412.5 1041.7,413.2 1042.2,415.3 1042.7,413.2 1043.2,417.7 1043.7,414.9 1044.2,417.5 1044.7,416.9 1045.2,418.7 1045.7,417.6 1046.2,417.9 1046.7,419.8 1047.2,421.1 1047.7,422.6 1048.2,424.0 1048.7,427.7 1049.2,427.0 1049.7,425.6 1050.2,428.3 1050.7,426.1 1051.2,431.1 1051.7,430.0 1052.2,426.9 1052.7,431.9 1053.2,432.7 1053.7,426.3 1054.2,430.9 1054.7,432.1 1055.2,429.8 1055.7,432.2 1056.2,433.1 1056.7,436.6 1057.2,436.8 1057.7,442.1 1058.2,436.7 1058.7,440.4 1059.2,438.8 1059.7,439.8 1060.2,437.5 1060.7,436.6 1061.2,439.4 1061.7,443.1 1062.2,445.3 1062.7,443.9 1063.2,444.3 1063.7,442.2 1064.2,447.5 1064.7,447.7 1065.2,444.6 1065.7,446.1 1066.2,444.8 1066.7,450.4 1067.1,448.9 1067.6,448.5 1068.1,450.1 1068.6,450.8 1069.1,449.7 1069.6,448.7 1070.1,449.3 1070.6,449.0 1071.1,454.0 1071.6,458.1 1072.1,450.9 1072.6,455.2 1073.1,456.3 1073.6,454.1 1074.1,457.1 1074.6,455.1 1075.1,460.2 1075.6,457.1 1076.1,459.0 1076.6,460.7 1077.1,459.0 1077.6,456.8 1078.1,459.8 1078.6,462.8 1079.1,461.6 1079.6,462.7 1080.1,460.5 1080.6,463.4 1081.1,465.0 1081.6,464.1 1082.1,468.2 1082.6,464.4 1083.1,463.2 1083.6,462.5 1084.1,468.4 1084.6,466.5 1085.1,469.0 1085.6,468.3 1086.1,471.1 1086.6,470.8 1087.1,468.0 1087.6,469.7 1088.1,471.8 1088.6,467.6 1089.1,473.4 1089.6,473.3 1090.1,473.3 1090.6,471.4 1091.1,472.8 1091.6,470.4 1092.1,473.2 1092.6,472.4 1093.1,474.1 1093.6,473.4 1094.1,475.4 1094.6,477.6 1095.1,473.1 1095.6,477.9 1096.1,472.6 1096.6,472.7 1097.1,477.1 1097.6,477.8 1098.1,479.1 1098.6,475.4 1099.1,478.9 1099.6,479.7 1100.1,482.4 1100.6,480.1 1101.1,481.8 1101.6,479.2 1102.1,481.2 1102.6,481.1 1103.1,483.8 1103.6,480.9 1104.1,481.6 1104.6,484.8 1105.1,487.6 1105.6,485.2 1106.1,485.5 1106.6,484.6 1107.1,487.9 1107.6,487.2 1108.1,490.0 1108.6,487.6 1109.1,485.5 1109.6,486.7 1110.1,486.3 1110.6,486.2 1111.1,491.5 1111.6,491.1 1112.1,487.4 1112.6,493.8 1113.1,491.2 1113.6,489.2 1114.1,492.3 1114.6,491.8 1115.1,490.9 1115.6,489.0 1116.1,493.3 1116.6,494.2 1117.1,488.9 1117.6,495.5 1118.1,496.1 1118.6,494.3 1119.1,495.9 1119.6,495.5 1120.1,494.8 1120.6,496.1 1121.1,499.9 1121.6,494.8 1122.1,498.5 1122.6,498.8 1123.1,497.4 1123.6,498.3 1124.1,496.8 1124.6,498.3 1125.1,500.4 1125.6,501.4 1126.1,499.3 1126.6,507.5 1127.1,500.7 1127.6,502.4 1128.1,502.1 1128.6,502.1 1129.1,505.8 1129.6,502.7 1130.1,506.6 1130.6,506.5 1131.1,502.6 1131.6,507.0 1132.1,504.1 1132.6,511.0 1133.1,505.2 1133.6,504.5 1134.1,502.9 1134.6,504.5 1135.1,506.2 1135.6,505.7 1136.1,505.6 1136.6,507.0 1137.1,508.3 1137.6,511.8 1138.1,506.0 1138.6,508.5 1139.1,508.1 1139.6,507.3 1140.1,508.1 1140.6,509.1 1141.1,512.6 1141.6,511.1 1142.1,510.8 1142.6,513.3 1143.1,513.0 1143.6,512.3 1144.1,513.8 1144.6,511.7 1145.1,514.9 1145.6,514.9 1146.1,513.5 1146.6,512.2 1147.1,517.9 1147.6,515.4 1148.1,521.4 1148.6,514.5 1149.1,517.7 1149.6,515.5 1150.1,517.2 1150.6,518.6 1151.1,515.7 1151.6,517.3 1152.1,518.1 1152.6,518.3 1153.1,519.5 1153.6,520.7 1154.1,520.6 1154.6,519.7 1155.1,518.8 1155.6,517.6 1156.1,518.6 1156.6,519.3 1157.1,521.9 1157.6,520.2 1158.1,518.7 1158.6,522.7 1159.1,520.1 1159.6,520.5 1160.1,521.8 1160.6,523.4 1161.1,518.1 1161.6,520.9 1162.1,523.7 1162.6,522.9 1163.1,522.2 1163.6,523.1 1164.1,527.1 1164.6,523.7 1165.1,526.3 1165.6,526.7 1166.1,524.6 1166.6,526.6 1167.1,525.1 1167.6,525.0 1168.1,524.3 1168.6,528.4 1169.1,526.2 1169.6,526.2 1170.1,525.3 1170.6,531.3 1171.1,529.5 1171.6,528.0 1172.1,527.2 1172.6,525.8 1173.1,529.6 1173.6,529.9 1174.1,526.8 1174.6,532.1 1175.1,531.6 1175.6,528.5 1176.1,529.5 1176.6,530.0 1177.1,531.4 1177.6,531.1 1178.1,528.4 1178.6,534.7 1179.1,532.7 1179.6,534.8 1180.1,535.0 1180.6,532.4 1181.1,533.8 1181.6,534.8 1182.1,535.1 1182.6,533.5 1183.1,532.9 1183.6,534.4 1184.1,533.0 1184.6,533.7 1185.1,531.1 1185.6,535.5 1186.1,533.6 1186.6,534.7 1187.1,536.0 1187.6,536.9 1188.1,540.2 1188.6,537.2 1189.1,534.3 1189.6,537.6 1190.1,536.4 1190.6,538.6 1191.1,536.7 1191.6,536.9 1192.1,537.6 1192.6,537.6 1193.1,535.5 1193.6,538.1 1194.1,539.6 1194.6,542.2 1195.1,539.6 1195.6,539.7 1196.1,541.8 1196.6,542.0 1197.1,544.3 1197.6,542.6 1198.1,541.7 1198.6,544.6 1199.1,545.2 1199.6,541.6 1200.1,543.1 1200.6,539.8 1201.1,542.6 1201.6,541.9 1202.1,543.5 1202.6,543.2 1203.1,544.1 1203.6,544.5 1204.1,545.9 1204.6,545.7 1205.1,544.4 1205.6,543.2 1206.1,548.4 1206.6,549.0 1207.1,545.6 1207.6,547.9 1208.1,544.1 1208.6,544.3 1209.1,547.0 1209.6,550.6 1210.1,546.0 1210.6,546.7 1211.1,551.7 1211.6,545.1 1212.1,550.3 1212.6,550.2 1213.1,549.1 1213.6,550.1 1214.1,555.0 1214.6,548.0 1215.1,549.8 1215.6,550.2 1216.1,549.5 1216.6,548.5 1217.1,554.4 1217.6,552.0 1218.1,548.3 1218.6,550.6 1219.1,552.9 1219.6,553.1 1220.1,549.8 1220.6,552.6 1221.1,553.4 1221.6,553.9 1222.1,554.1 1222.6,550.0 1223.1,557.2 1223.6,554.3 1224.1,557.5 1224.6,559.8 1225.1,554.1 1225.6,552.2 1226.1,556.4 1226.6,554.6 1227.1,554.2 1227.6,553.3 1228.1,558.7 1228.6,554.8 1229.1,553.1 1229.6,555.1 1230.1,553.9 1230.6,556.6 1231.1,555.6 1231.6,554.6 1232.1,557.9 1232.6,555.7 1233.1,558.5 1233.6,559.7 1234.1,556.7 1234.6,556.3 1235.1,558.1 1235.6,559.6 1236.1,558.0 1236.6,558.5 1237.1,558.3 1237.6,559.1 1238.1,559.9 1238.6,557.5 1239.1,558.0 1239.6,559.2 1240.1,558.0 1240.6,559.7 1241.1,560.6 1241.6,559.7 1242.1,558.7 1242.6,558.5 1243.1,563.5 1243.6,562.0 1244.1,558.3 1244.6,559.0 1245.1,564.3 1245.6,563.8 1246.1,561.3 1246.6,563.4 1247.1,558.4 1247.6,561.5 1248.1,563.0 1248.6,558.2 1249.1,560.4 1249.6,563.5 1250.1,564.3 1250.6,561.2 1251.1,563.0 1251.6,565.7 1252.1,562.0 1252.6,560.3 1253.1,562.9 1253.6,562.4 1254.1,565.8 1254.6,563.8 1255.1,562.0 1255.6,568.4 1256.1,562.9 1256.6,564.9 1257.1,565.5 1257.6,565.8 1258.1,564.8 1258.6,565.7 1259.1,564.6 1259.6,562.1 1260.1,564.6 1260.6,564.8 1261.1,565.0 1261.6,565.7 1262.1,564.4 1262.6,568.3 1263.1,568.9 1263.6,561.8 1264.1,566.2 1264.6,565.0 1265.1,561.5 1265.6,567.4 1266.1,565.6 1266.6,566.2 1267.1,565.8 1267.6,569.3 1268.1,569.8 1268.6,568.1 1269.1,569.0 1269.6,567.6 1270.1,568.2 1270.6,566.7 1271.1,568.3 1271.6,567.0 1272.1,569.3 1272.6,570.3 1273.1,569.5 1273.6,571.3 1274.1,574.3 1274.6,565.2 1275.1,569.5 1275.6,568.5 1276.1,568.9 1276.6,567.3 1277.1,570.1 1277.6,569.7 1278.1,569.1 1278.6,570.0 1279.1,569.5 1279.6,566.3 1280.1,573.0 1280.6,570.5 1281.1,569.4 1281.6,571.9 1282.1,570.2 1282.6,567.4 1283.1,573.5 1283.6,568.7 1284.1,571.6 1284.6,572.4 1285.1,574.9 1285.6,574.8 1286.1,572.9 1286.6,571.3 1287.1,572.1 1287.6,575.1 1288.1,576.6 1288.6,574.3 1289.1,572.2 1289.6,575.5 1290.1,573.0 1290.6,573.0 1291.1,573.4 1291.6,575.2 1292.1,574.7 1292.6,576.3 1293.1,577.0 1293.6,575.6 1294.1,570.3 1294.6,571.6 1295.1,575.3 1295.6,575.0 1296.1,579.4 1296.6,575.3 1297.1,575.2 1297.6,577.4 1298.1,577.8 1298.6,575.4 1299.1,576.9 1299.6,573.9 1300.1,574.4 1300.6,578.7 1301.1,573.7 1301.6,578.3 1302.1,577.9 1302.6,578.2 1303.1,578.6 1303.6,578.0 1304.1,572.9 1304.6,575.2 1305.1,576.1 1305.6,579.1 1306.1,575.3 1306.6,576.2 1307.1,577.0 1307.6,580.3 1308.1,575.1 1308.6,575.4 1309.1,579.3 1309.6,574.1 1310.1,578.9 1310.6,577.5 1311.1,575.5 1311.6,577.8 1312.1,576.8 1312.6,579.1 1313.1,579.6 1313.6,581.8 1314.1,579.0 1314.6,579.4 1315.1,578.1 1315.6,579.3 1316.1,581.5 1316.6,575.8 1317.1,580.9 1317.6,578.7 1318.1,580.0 1318.6,580.5 1319.1,581.6 1319.6,580.5 1320.1,579.4 1320.6,580.9 1321.1,580.4 1321.6,580.1 1322.1,580.9 1322.6,582.3 1323.1,581.0 1323.6,581.1 1324.1,578.4 1324.6,580.7 1325.1,577.5 1325.6,582.5 1326.1,579.4 1326.6,583.8 1327.1,587.1 1327.6,580.7 1328.1,584.1 1328.6,582.4 1329.1,580.7 1329.6,580.2 1330.1,583.0 1330.6,584.6 1331.1,582.7 1331.6,579.2 1332.1,580.2 1332.6,581.9 1333.1,585.0 1333.6,583.0 1334.1,583.2 1334.6,584.9 1335.1,582.3 1335.6,582.6 1336.1,582.5 1336.6,579.5 1337.1,583.9 1337.6,583.9 1338.1,585.0 1338.6,581.0 1339.1,581.8 1339.6,585.2 1340.1,584.1 1340.6,586.2 1341.1,582.0 1341.6,584.1 1342.1,582.5 1342.6,584.4 1343.1,583.0 1343.6,585.0 1344.1,586.1 1344.6,585.4 1345.1,580.8 1345.6,586.1 1346.1,585.2 1346.6,582.4 1347.1,582.8 1347.6,584.6 1348.1,585.7 1348.6,583.9 1349.1,581.7 1349.6,585.4 1350.1,585.2 1350.6,589.7 1351.1,582.6 1351.6,590.0 1352.1,588.5 1352.6,585.8 1353.1,588.5 1353.6,585.6 1354.1,587.3 1354.6,584.1 1355.1,585.8 1355.6,583.7 1356.1,582.7 1356.6,585.3 1357.1,584.6 1357.6,587.0 1358.1,588.4 1358.6,585.7 1359.1,586.2 1359.6,586.6 1360.1,583.1 1360.6,586.8 1361.1,586.4 1361.6,586.4 1362.1,584.4 1362.6,582.8 1363.1,586.2 1363.6,587.3 1364.1,589.3 1364.6,589.0 1365.1,589.7 1365.6,587.7 1366.1,589.2 1366.6,586.7 1367.1,588.3 1367.6,589.0 1368.1,592.4 1368.6,587.8 1369.1,585.0 1369.6,590.1 1370.1,586.0 1370.6,587.4 1371.1,587.1 1371.6,585.9 1372.1,590.3 1372.6,588.9 1373.1,586.7 1373.6,588.0 1374.1,587.1 1374.6,589.2 1375.1,587.4 1375.6,586.7 1376.1,587.0 1376.5,587.4 1377.0,588.9 1377.5,586.6 1378.0,588.3 1378.5,589.3 1379.0,593.0 1379.5,590.2 1380.0,583.0 1380.5,587.7 1381.0,588.0 1381.5,589.4 1382.0,591.9 1382.5,590.4 1383.0,584.6 1383.5,589.6 1384.0,589.3 1384.5,590.0 1385.0,591.8 1385.5,587.2 1386.0,591.4 1386.5,586.2 1387.0,589.5 1387.5,590.2 1388.0,593.9 1388.5,588.3 1389.0,586.4 1389.5,591.0 1390.0,588.5 1390.5,592.8 1391.0,588.5 1391.5,588.3 1392.0,592.4 1392.5,590.2 1393.0,592.0 1393.5,587.4 1394.0,593.4 1394.5,589.1 1395.0,591.9 1395.5,588.4 1396.0,587.5 1396.5,590.0 1397.0,590.9 1397.5,593.6 1398.0,591.3 1398.5,592.0 1399.0,592.0 1399.5,596.7 1400.0,589.3 1400.5,593.3 1401.0,590.7 1401.5,591.5 1402.0,590.0 1402.5,593.3 1403.0,588.8 1403.5,588.7 1404.0,590.8 1404.5,589.1 1405.0,592.7 1405.5,593.2 1406.0,590.0 1406.5,593.0 1407.0,590.3 1407.5,591.5 1408.0,591.7 1408.5,595.3 1409.0,591.7 1409.5,590.1 1410.0,590.1 1410.5,594.2 1411.0,588.8 1411.5,591.1 1412.0,591.3 1412.5,587.4 1413.0,591.2 1413.5,594.1 1414.0,592.7 1414.5,590.6 1415.0,593.6 1415.5,593.3 1416.0,596.3 1416.5,591.0 1417.0,591.8 1417.5,592.6 1418.0,592.3 1418.5,592.8 1419.0,592.5 1419.5,591.4 1420.0,589.7 1420.5,591.8 1421.0,590.2 1421.5,590.9 1422.0,591.9 1422.5,594.0 1423.0,594.7 1423.5,591.1 1424.0,593.7 1424.5,594.7 1425.0,593.1 1425.5,590.1 1426.0,589.2 1426.5,594.8 1427.0,595.1 1427.5,593.9 1428.0,591.4 1428.5,596.3 1429.0,595.8 1429.5,593.5 1430.0,593.2 1430.5,589.9 1431.0,595.1 1431.5,590.7 1432.0,595.1 1432.5,595.2 1433.0,594.0 1433.5,596.9 1434.0,593.3 1434.5,595.1 1435.0,595.5 1435.5,594.5 1436.0,593.3 1436.5,596.5 1437.0,595.0 1437.5,593.9 1438.0,593.9 1438.5,594.6 1439.0,598.7 1439.5,594.6 1440.0,594.0 1440.5,592.4 1441.0,592.2 1441.5,590.9 1442.0,595.0 1442.5,594.7 1443.0,592.7 1443.5,591.9 1444.0,594.1 1444.5,593.8 1445.0,592.3 1445.5,595.4 1446.0,595.2 1446.5,594.8 1447.0,596.4 1447.5,593.8 1448.0,597.6 1448.5,593.1 1449.0,596.1 1449.5,596.4 1450.0,594.7 1450.5,595.9 1451.0,592.8 1451.5,592.4 1452.0,595.0 1452.5,594.0 1453.0,596.5 1453.5,595.5 1454.0,596.7 1454.5,596.1 1455.0,595.9 1455.5,595.8 1456.0,594.9 1456.5,594.8 1457.0,599.6 1457.5,592.4 1458.0,595.4 1458.5,597.7 1459.0,596.6 1459.5,598.5 1460.0,596.9 1460.5,593.5 1461.0,595.3 1461.5,593.3 1462.0,597.9 1462.5,598.8 1463.0,595.2 1463.5,597.2 1464.0,595.4 1464.5,593.4 1465.0,595.4 1465.5,593.2 1466.0,595.2 1466.5,596.7 1467.0,597.7 1467.5,598.8 1468.0,595.8 1468.5,596.9 1469.0,597.2 1469.5,597.5 1470.0,591.1 1470.5,595.1 1471.0,598.1 1471.5,594.5 1472.0,597.1 1472.5,598.2 1473.0,593.1 1473.5,596.3 1474.0,597.2 1474.5,596.8 1475.0,593.9 1475.5,597.5 1476.0,595.7 1476.5,598.4 1477.0,597.7 1477.5,595.8 1478.0,597.2 1478.5,595.6 1479.0,595.6 1479.5,594.0 1480.0,596.5 1480.5,598.6 1481.0,597.3 1481.5,597.0 1482.0,595.9 1482.5,596.1 1483.0,598.5 1483.5,594.3 1484.0,601.1 1484.5,597.1 1485.0,601.3 1485.5,599.5 1486.0,596.4 1486.5,598.7 1487.0,597.8 1487.5,598.2 1488.0,598.8 1488.5,596.3 1489.0,596.2 1489.5,596.6 1490.0,594.8 1490.5,596.9 1491.0,597.9 1491.5,597.9 1492.0,597.8 1492.5,596.7 1493.0,599.0 1493.5,593.6 1494.0,596.8 1494.5,596.9 1495.0,599.3 1495.5,598.9 1496.0,599.2 1496.5,597.7 1497.0,599.5 1497.5,595.8 1498.0,597.8 1498.5,593.7 1499.0,601.0 1499.5,600.8 1500.0,596.6 1500.5,596.2 1501.0,593.8 1501.5,594.9 1502.0,598.1 1502.5,597.6 1503.0,595.1 1503.5,597.0 1504.0,596.7 1504.5,598.9 1505.0,599.4 1505.5,597.6 1506.0,598.3 1506.5,598.1 1507.0,594.2 1507.5,598.5 1508.0,598.1 1508.5,599.7 1509.0,594.8 1509.5,599.7 1510.0,597.1 1510.5,598.9 1511.0,600.7 1511.5,595.6 1512.0,596.0 1512.5,600.4 1513.0,596.3 1513.5,596.7 1514.0,599.7 1514.5,598.2 1515.0,600.1 1515.5,599.2 1516.0,598.7 1516.5,600.6 1517.0,602.9 1517.5,598.6 1518.0,601.7 1518.5,601.0 1519.0,599.1 1519.5,599.8 1520.0,597.2 1520.5,597.8 1521.0,599.6 1521.5,599.0 1522.0,601.6 1522.5,596.7 1523.0,598.6 1523.5,598.0 1524.0,599.0 1524.5,601.5 1525.0,597.0 1525.5,601.0 1526.0,598.3 1526.5,598.8 1527.0,601.4 1527.5,599.0 1528.0,600.8 1528.5,599.8 1529.0,599.3 1529.5,599.0 1530.0,596.4 1530.5,598.3 1531.0,600.1" fill="none" stroke="#7fba42" stroke-width="1.9" stroke-linejoin="round" stroke-miterlimit="4" stroke-linecap="butt"/>
<path d="M912.2,28.3 913.7,44.4 915.2,59.5 916.7,73.6 918.2,86.1 919.7,96.8 921.2,105.6 922.7,113.2 924.2,120.0 925.7,126.1 927.2,131.7 928.7,136.8 930.2,141.5 931.7,146.0 933.2,150.1 934.7,153.9 936.2,157.4 937.7,160.7 939.2,164.1 940.7,167.4 942.2,171.0 943.7,174.6 945.2,178.2 946.7,181.8 948.2,185.4 949.7,189.1 951.2,192.7 952.7,196.2 954.2,199.7 955.7,203.2 957.2,206.5 958.7,209.8 960.2,213.0 961.7,216.0 963.2,218.9 964.7,221.7 966.2,224.5 967.7,227.1 969.2,229.7 970.7,232.3 972.2,234.8 973.7,237.3 975.2,239.7 976.7,242.1 978.2,244.5 979.7,246.9 981.2,249.3 982.7,251.6 984.2,254.0 985.7,256.4 987.2,258.7 988.7,261.0 990.2,263.3 991.7,265.6 993.2,267.9 994.7,270.1 996.2,272.3 997.7,274.5 999.2,276.7 1000.7,278.9 1002.2,281.0 1003.7,283.1 1005.2,285.2 1006.7,287.2 1008.2,289.2 1009.7,291.2 1011.2,293.2 1012.7,295.1 1014.2,297.0 1015.7,299.0 1017.2,300.9 1018.7,302.8 1020.2,304.7 1021.7,306.6 1023.2,308.5 1024.7,310.5 1026.2,312.4 1027.7,314.3 1029.2,316.2 1030.7,318.2 1032.2,320.1 1033.7,322.0 1035.2,323.9 1036.7,325.9 1038.2,327.8 1039.7,329.8 1041.2,331.8 1042.7,333.8 1044.2,335.6 1045.7,337.3 1047.2,339.0 1048.7,340.6 1050.2,342.2 1051.7,343.7 1053.2,345.2 1054.7,346.7 1056.2,348.1 1057.7,349.5 1059.2,351.0 1060.7,352.4 1062.2,353.8 1063.7,355.3 1065.2,356.8 1066.7,358.3 1068.1,359.8 1069.6,361.3 1071.1,362.8 1072.6,364.3 1074.1,365.9 1075.6,367.4 1077.1,368.9 1078.6,370.4 1080.1,371.9 1081.6,373.4 1083.1,374.9 1084.6,376.3 1086.1,377.8 1087.6,379.2 1089.1,380.6 1090.6,382.0 1092.1,383.4 1093.6,384.7 1095.1,386.1 1096.6,387.5 1098.1,388.8 1099.6,390.1 1101.1,391.5 1102.6,392.8 1104.1,394.1 1105.6,395.4 1107.1,396.6 1108.6,397.9 1110.1,399.1 1111.6,400.4 1113.1,401.6 1114.6,402.8 1116.1,404.0 1117.6,405.2 1119.1,406.3 1120.6,407.5 1122.1,408.7 1123.6,409.9 1125.1,411.1 1126.6,412.3 1128.1,413.5 1129.6,414.7 1131.1,415.9 1132.6,417.1 1134.1,418.3 1135.6,419.5 1137.1,420.7 1138.6,421.9 1140.1,423.1 1141.6,424.3 1143.1,425.5 1144.6,426.7 1146.1,427.9 1147.6,429.1 1149.1,430.3 1150.6,431.5 1152.1,432.7 1153.6,433.9 1155.1,435.1 1156.6,436.4 1158.1,437.6 1159.6,438.8 1161.1,440.0 1162.6,441.2 1164.1,442.3 1165.6,443.5 1167.1,444.7 1168.6,445.8 1170.1,446.9 1171.6,448.0 1173.1,449.1 1174.6,450.2 1176.1,451.3 1177.6,452.3 1179.1,453.4 1180.6,454.4 1182.1,455.5 1183.6,456.5 1185.1,457.5 1186.6,458.5 1188.1,459.5 1189.6,460.5 1191.1,461.5 1192.6,462.5 1194.1,463.5 1195.6,464.5 1197.1,465.4 1198.6,466.4 1200.1,467.4 1201.6,468.3 1203.1,469.2 1204.6,470.2 1206.1,471.1 1207.6,472.0 1209.1,473.0 1210.6,473.9 1212.1,474.8 1213.6,475.7 1215.1,476.6 1216.6,477.5 1218.1,478.4 1219.6,479.3 1221.1,480.1 1222.6,481.0 1224.1,481.9 1225.6,482.8 1227.1,483.6 1228.6,484.5 1230.1,485.3 1231.6,486.2 1233.1,487.1 1234.6,487.9 1236.1,488.7 1237.6,489.6 1239.1,490.4 1240.6,491.2 1242.1,492.1 1243.6,492.9 1245.1,493.7 1246.6,494.5 1248.1,495.3 1249.6,496.1 1251.1,496.9 1252.6,497.7 1254.1,498.5 1255.6,499.3 1257.1,500.1 1258.6,500.9 1260.1,501.6 1261.6,502.4 1263.1,503.2 1264.6,503.9 1266.1,504.7 1267.6,505.4 1269.1,506.2 1270.6,506.9 1272.1,507.7 1273.6,508.4 1275.1,509.1 1276.6,509.9 1278.1,510.6 1279.6,511.3 1281.1,512.1 1282.6,512.8 1284.1,513.5 1285.6,514.2 1287.1,514.9 1288.6,515.6 1290.1,516.3 1291.6,517.0 1293.1,517.6 1294.6,518.3 1296.1,519.0 1297.6,519.6 1299.1,520.3 1300.6,520.9 1302.1,521.6 1303.6,522.2 1305.1,522.8 1306.6,523.4 1308.1,524.0 1309.6,524.6 1311.1,525.2 1312.6,525.8 1314.1,526.4 1315.6,527.0 1317.1,527.6 1318.6,528.2 1320.1,528.7 1321.6,529.3 1323.1,529.9 1324.6,530.4 1326.1,531.0 1327.6,531.5 1329.1,532.1 1330.6,532.6 1332.1,533.2 1333.6,533.7 1335.1,534.2 1336.6,534.8 1338.1,535.3 1339.6,535.8 1341.1,536.4 1342.6,536.9 1344.1,537.4 1345.6,537.9 1347.1,538.5 1348.6,539.0 1350.1,539.5 1351.6,540.0 1353.1,540.5 1354.6,541.0 1356.1,541.5 1357.6,542.1 1359.1,542.6 1360.6,543.1 1362.1,543.6 1363.6,544.0 1365.1,544.5 1366.6,545.0 1368.1,545.5 1369.6,546.0 1371.1,546.5 1372.6,547.0 1374.1,547.4 1375.6,547.9 1377.0,548.4 1378.5,548.8 1380.0,549.3 1381.5,549.8 1383.0,550.2 1384.5,550.7 1386.0,551.1 1387.5,551.5 1389.0,552.0 1390.5,552.4 1392.0,552.9 1393.5,553.3 1395.0,553.7 1396.5,554.1 1398.0,554.5 1399.5,555.0 1401.0,555.4 1402.5,555.8 1404.0,556.2 1405.5,556.6 1407.0,557.0 1408.5,557.4 1410.0,557.8 1411.5,558.2 1413.0,558.6 1414.5,559.0 1416.0,559.4 1417.5,559.8 1419.0,560.2 1420.5,560.6 1422.0,561.0 1423.5,561.4 1425.0,561.8 1426.5,562.2 1428.0,562.5 1429.5,562.9 1431.0,563.3 1432.5,563.7 1434.0,564.1 1435.5,564.5 1437.0,564.9 1438.5,565.3 1440.0,565.7 1441.5,566.1 1443.0,566.5 1444.5,566.9 1446.0,567.2 1447.5,567.6 1449.0,568.0 1450.5,568.4 1452.0,568.8 1453.5,569.1 1455.0,569.5 1456.5,569.9 1458.0,570.3 1459.5,570.6 1461.0,571.0 1462.5,571.3 1464.0,571.7 1465.5,572.0 1467.0,572.4 1468.5,572.7 1470.0,573.0 1471.5,573.4 1473.0,573.7 1474.5,574.0 1476.0,574.3 1477.5,574.6 1479.0,574.9 1480.5,575.2 1482.0,575.5 1483.5,575.8 1485.0,576.0 1486.5,576.3 1488.0,576.6 1489.5,576.9 1491.0,577.2 1492.5,577.5 1494.0,577.7 1495.5,578.0 1497.0,578.3 1498.5,578.6 1500.0,578.9 1501.5,579.2 1503.0,579.5 1504.5,579.8 1506.0,580.1 1507.5,580.5 1509.0,580.8 1510.5,581.1 1512.0,581.5 1513.5,581.8 1515.0,582.2 1516.5,582.5 1518.0,582.9 1519.5,583.2 1521.0,583.6 1522.5,584.0 1524.0,584.4 1525.5,584.8 1527.0,585.2 1528.5,585.5 1530.0,585.9" fill="none" stroke="#22a851" stroke-width="4.7" stroke-linejoin="round"/>
<path d="M912.2,28.3 912.7,27.8 913.2,40.1 913.7,43.0 914.2,48.5 914.7,54.1 915.2,54.9 915.7,63.8 916.2,67.0 916.7,81.2 917.2,78.4 917.7,81.3 918.2,85.4 918.7,88.3 919.2,91.1 919.7,95.9 920.2,101.1 920.7,102.3 921.2,107.8 921.7,107.8 922.2,110.8 922.7,116.7 923.2,116.8 923.7,116.7 924.2,119.6 924.7,123.3 925.2,128.6 925.7,125.5 926.2,127.5 926.7,132.2 927.2,129.7 927.7,132.8 928.2,137.1 928.7,138.1 929.2,138.6 929.7,141.5 930.2,135.1 930.7,145.4 931.2,142.4 931.7,142.3 932.2,148.1 932.7,150.4 933.2,149.1 933.7,149.0 934.2,152.7 934.7,153.8 935.2,158.3 935.7,157.9 936.2,157.8 936.7,161.0 937.2,159.2 937.7,158.7 938.2,163.2 938.7,164.3 939.2,163.6 939.7,163.4 940.2,166.8 940.7,161.8 941.2,170.2 941.7,170.9 942.2,167.3 942.7,172.3 943.2,171.2 943.7,176.3 944.2,171.2 944.7,174.9 945.2,179.8 945.7,182.0 946.2,175.7 946.7,180.7 947.2,183.8 947.7,182.9 948.2,189.0 948.7,184.0 949.2,188.7 949.7,186.7 950.2,193.4 950.7,191.4 951.2,191.8 951.7,190.0 952.2,198.8 952.7,197.9 953.2,199.1 953.7,201.1 954.2,200.5 954.7,199.5 955.2,200.2 955.7,201.4 956.2,207.4 956.7,202.2 957.2,205.2 957.7,206.9 958.2,209.2 958.7,211.1 959.2,208.1 959.7,208.1 960.2,212.9 960.7,216.7 961.2,216.7 961.7,216.5 962.2,216.3 962.7,218.6 963.2,218.3 963.7,221.7 964.2,219.0 964.7,222.0 965.2,222.4 965.7,224.8 966.2,225.0 966.7,231.0 967.2,229.6 967.7,230.5 968.2,223.5 968.7,228.1 969.2,228.4 969.7,231.8 970.2,226.4 970.7,234.9 971.2,235.5 971.7,231.1 972.2,232.6 972.7,233.9 973.2,236.6 973.7,238.7 974.2,242.6 974.7,238.5 975.2,241.4 975.7,240.9 976.2,245.2 976.7,243.8 977.2,246.0 977.7,241.3 978.2,244.1 978.7,243.5 979.2,249.4 979.7,248.3 980.2,247.0 980.7,247.5 981.2,250.3 981.7,248.5 982.2,248.8 982.7,252.7 983.2,257.9 983.7,252.7 984.2,252.8 984.7,252.2 985.2,252.7 985.7,257.5 986.2,259.0 986.7,258.0 987.2,259.5 987.7,259.8 988.2,260.6 988.7,257.7 989.2,260.8 989.7,262.8 990.2,261.6 990.7,263.1 991.2,263.1 991.7,264.9 992.2,268.3 992.7,266.2 993.2,267.6 993.7,270.4 994.2,270.8 994.7,273.9 995.2,266.3 995.7,273.5 996.2,271.3 996.7,273.4 997.2,275.7 997.7,276.9 998.2,277.6 998.7,276.3 999.2,280.3 999.7,276.8 1000.2,277.8 1000.7,280.6 1001.2,278.4 1001.7,285.0 1002.2,283.2 1002.7,286.5 1003.2,282.3 1003.7,282.3 1004.2,284.2 1004.7,286.1 1005.2,283.9 1005.7,286.7 1006.2,286.5 1006.7,290.7 1007.2,286.4 1007.7,290.8 1008.2,287.8 1008.7,287.8 1009.2,289.0 1009.7,288.6 1010.2,292.2 1010.7,294.8 1011.2,293.5 1011.7,295.2 1012.2,298.0 1012.7,295.7 1013.2,296.2 1013.7,295.8 1014.2,293.5 1014.7,299.3 1015.2,294.5 1015.7,300.4 1016.2,299.6 1016.7,302.7 1017.2,300.7 1017.7,299.7 1018.2,302.9 1018.7,301.6 1019.2,303.0 1019.7,304.2 1020.2,304.4 1020.7,304.9 1021.2,304.2 1021.7,306.2 1022.2,302.6 1022.7,307.6 1023.2,305.9 1023.7,311.6 1024.2,312.6 1024.7,306.2 1025.2,311.4 1025.7,311.5 1026.2,310.1 1026.7,314.2 1027.2,312.7 1027.7,310.5 1028.2,314.4 1028.7,315.3 1029.2,316.5 1029.7,314.2 1030.2,318.9 1030.7,319.8 1031.2,316.3 1031.7,318.0 1032.2,319.9 1032.7,319.5 1033.2,325.1 1033.7,322.5 1034.2,320.4 1034.7,321.6 1035.2,323.8 1035.7,329.5 1036.2,324.8 1036.7,326.1 1037.2,327.6 1037.7,327.1 1038.2,332.8 1038.7,327.4 1039.2,330.8 1039.7,330.2 1040.2,331.8 1040.7,328.6 1041.2,335.7 1041.7,332.2 1042.2,333.2 1042.7,331.7 1043.2,332.8 1043.7,336.2 1044.2,337.7 1044.7,337.8 1045.2,339.4 1045.7,338.9 1046.2,338.0 1046.7,340.3 1047.2,340.3 1047.7,339.3 1048.2,341.7 1048.7,343.4 1049.2,341.6 1049.7,340.9 1050.2,343.7 1050.7,346.8 1051.2,342.7 1051.7,343.5 1052.2,343.9 1052.7,347.3 1053.2,341.2 1053.7,346.5 1054.2,348.7 1054.7,344.9 1055.2,350.3 1055.7,348.8 1056.2,346.9 1056.7,349.0 1057.2,345.7 1057.7,348.3 1058.2,353.9 1058.7,348.6 1059.2,354.9 1059.7,351.3 1060.2,354.1 1060.7,352.5 1061.2,348.0 1061.7,352.1 1062.2,354.2 1062.7,351.8 1063.2,351.9 1063.7,356.1 1064.2,354.4 1064.7,352.6 1065.2,355.3 1065.7,359.1 1066.2,356.7 1066.7,360.3 1067.1,362.0 1067.6,359.3 1068.1,357.3 1068.6,357.5 1069.1,360.7 1069.6,363.2 1070.1,362.4 1070.6,363.5 1071.1,361.9 1071.6,364.0 1072.1,362.8 1072.6,363.6 1073.1,362.1 1073.6,362.0 1074.1,364.8 1074.6,364.0 1075.1,364.8 1075.6,368.8 1076.1,367.7 1076.6,374.6 1077.1,370.9 1077.6,368.0 1078.1,371.6 1078.6,371.2 1079.1,369.4 1079.6,373.8 1080.1,370.2 1080.6,365.9 1081.1,374.6 1081.6,372.1 1082.1,377.1 1082.6,373.0 1083.1,372.3 1083.6,378.7 1084.1,373.5 1084.6,376.8 1085.1,379.9 1085.6,377.5 1086.1,377.6 1086.6,378.4 1087.1,380.5 1087.6,377.5 1088.1,380.9 1088.6,381.3 1089.1,385.6 1089.6,380.3 1090.1,379.6 1090.6,383.5 1091.1,381.6 1091.6,383.5 1092.1,383.6 1092.6,386.3 1093.1,382.9 1093.6,384.5 1094.1,379.8 1094.6,383.8 1095.1,389.4 1095.6,385.1 1096.1,385.5 1096.6,384.9 1097.1,389.1 1097.6,388.7 1098.1,386.3 1098.6,390.7 1099.1,390.2 1099.6,391.7 1100.1,389.2 1100.6,394.7 1101.1,392.3 1101.6,391.6 1102.1,391.2 1102.6,392.2 1103.1,395.0 1103.6,393.1 1104.1,396.4 1104.6,395.7 1105.1,397.8 1105.6,397.1 1106.1,395.6 1106.6,392.1 1107.1,397.3 1107.6,398.7 1108.1,397.8 1108.6,399.1 1109.1,397.3 1109.6,397.9 1110.1,397.1 1110.6,402.4 1111.1,400.3 1111.6,399.3 1112.1,397.9 1112.6,400.8 1113.1,404.6 1113.6,403.0 1114.1,400.8 1114.6,405.8 1115.1,406.2 1115.6,405.7 1116.1,405.6 1116.6,406.8 1117.1,405.9 1117.6,406.8 1118.1,403.9 1118.6,409.1 1119.1,406.8 1119.6,411.0 1120.1,402.8 1120.6,409.0 1121.1,410.0 1121.6,407.6 1122.1,409.7 1122.6,410.7 1123.1,410.7 1123.6,408.7 1124.1,410.0 1124.6,412.8 1125.1,413.8 1125.6,411.7 1126.1,412.0 1126.6,412.7 1127.1,414.9 1127.6,410.8 1128.1,410.7 1128.6,414.1 1129.1,411.9 1129.6,413.4 1130.1,415.3 1130.6,416.5 1131.1,413.6 1131.6,418.0 1132.1,412.9 1132.6,418.2 1133.1,414.1 1133.6,415.2 1134.1,419.6 1134.6,417.8 1135.1,417.4 1135.6,418.5 1136.1,420.9 1136.6,420.2 1137.1,420.6 1137.6,423.3 1138.1,420.0 1138.6,420.9 1139.1,421.2 1139.6,425.2 1140.1,425.2 1140.6,426.2 1141.1,423.8 1141.6,424.0 1142.1,426.5 1142.6,424.3 1143.1,427.3 1143.6,427.4 1144.1,424.8 1144.6,426.5 1145.1,426.9 1145.6,431.2 1146.1,433.4 1146.6,428.1 1147.1,428.7 1147.6,424.3 1148.1,429.9 1148.6,429.9 1149.1,428.0 1149.6,432.4 1150.1,427.8 1150.6,431.0 1151.1,432.2 1151.6,429.7 1152.1,434.5 1152.6,435.3 1153.1,430.6 1153.6,431.0 1154.1,435.6 1154.6,434.7 1155.1,432.6 1155.6,434.9 1156.1,435.7 1156.6,436.0 1157.1,438.5 1157.6,438.0 1158.1,441.3 1158.6,440.9 1159.1,439.8 1159.6,441.0 1160.1,441.9 1160.6,441.1 1161.1,437.4 1161.6,442.2 1162.1,440.9 1162.6,444.6 1163.1,441.7 1163.6,443.0 1164.1,443.0 1164.6,446.3 1165.1,443.5 1165.6,442.9 1166.1,444.5 1166.6,443.4 1167.1,445.0 1167.6,445.0 1168.1,446.0 1168.6,449.8 1169.1,445.3 1169.6,446.6 1170.1,446.5 1170.6,448.7 1171.1,445.2 1171.6,446.6 1172.1,448.3 1172.6,449.9 1173.1,449.0 1173.6,448.4 1174.1,448.0 1174.6,451.3 1175.1,453.6 1175.6,451.6 1176.1,451.7 1176.6,452.5 1177.1,450.0 1177.6,451.7 1178.1,452.1 1178.6,453.7 1179.1,453.3 1179.6,451.2 1180.1,456.4 1180.6,458.0 1181.1,454.2 1181.6,456.0 1182.1,456.0 1182.6,457.5 1183.1,453.1 1183.6,459.9 1184.1,455.9 1184.6,459.8 1185.1,457.7 1185.6,457.0 1186.1,457.9 1186.6,460.4 1187.1,457.1 1187.6,458.4 1188.1,458.5 1188.6,456.3 1189.1,462.9 1189.6,461.8 1190.1,460.8 1190.6,463.6 1191.1,459.5 1191.6,461.7 1192.1,465.8 1192.6,464.6 1193.1,458.2 1193.6,456.2 1194.1,461.3 1194.6,466.0 1195.1,463.2 1195.6,464.0 1196.1,466.1 1196.6,463.3 1197.1,465.9 1197.6,467.4 1198.1,467.1 1198.6,467.2 1199.1,465.5 1199.6,468.1 1200.1,466.5 1200.6,470.4 1201.1,473.3 1201.6,466.8 1202.1,464.1 1202.6,468.0 1203.1,470.0 1203.6,471.7 1204.1,472.1 1204.6,468.6 1205.1,468.8 1205.6,473.4 1206.1,468.8 1206.6,473.7 1207.1,471.3 1207.6,473.6 1208.1,473.8 1208.6,474.3 1209.1,474.7 1209.6,471.2 1210.1,474.2 1210.6,473.9 1211.1,474.8 1211.6,477.1 1212.1,474.2 1212.6,473.6 1213.1,473.9 1213.6,475.1 1214.1,477.6 1214.6,474.6 1215.1,479.0 1215.6,477.5 1216.1,476.7 1216.6,474.7 1217.1,478.3 1217.6,479.5 1218.1,474.7 1218.6,481.2 1219.1,482.4 1219.6,480.0 1220.1,480.6 1220.6,484.9 1221.1,482.7 1221.6,478.6 1222.1,480.7 1222.6,480.7 1223.1,481.0 1223.6,476.7 1224.1,483.5 1224.6,480.9 1225.1,482.8 1225.6,482.5 1226.1,484.9 1226.6,482.7 1227.1,482.0 1227.6,485.0 1228.1,487.1 1228.6,483.8 1229.1,487.6 1229.6,485.6 1230.1,484.2 1230.6,488.8 1231.1,484.2 1231.6,488.3 1232.1,485.5 1232.6,487.7 1233.1,484.5 1233.6,485.6 1234.1,489.8 1234.6,488.3 1235.1,488.3 1235.6,487.6 1236.1,489.7 1236.6,486.1 1237.1,487.0 1237.6,489.3 1238.1,488.1 1238.6,488.7 1239.1,490.3 1239.6,490.4 1240.1,490.5 1240.6,494.7 1241.1,493.6 1241.6,494.3 1242.1,492.0 1242.6,491.3 1243.1,489.6 1243.6,492.2 1244.1,488.9 1244.6,492.2 1245.1,495.3 1245.6,497.3 1246.1,496.3 1246.6,492.7 1247.1,495.8 1247.6,493.4 1248.1,497.0 1248.6,495.4 1249.1,497.6 1249.6,501.5 1250.1,498.3 1250.6,501.5 1251.1,497.3 1251.6,496.5 1252.1,500.2 1252.6,501.3 1253.1,496.8 1253.6,498.4 1254.1,495.6 1254.6,498.4 1255.1,500.9 1255.6,499.1 1256.1,498.4 1256.6,496.9 1257.1,500.8 1257.6,502.0 1258.1,501.8 1258.6,501.4 1259.1,498.5 1259.6,505.0 1260.1,501.5 1260.6,501.6 1261.1,503.7 1261.6,497.9 1262.1,502.5 1262.6,502.6 1263.1,503.9 1263.6,506.2 1264.1,504.6 1264.6,500.1 1265.1,503.5 1265.6,504.8 1266.1,505.0 1266.6,502.3 1267.1,501.7 1267.6,506.6 1268.1,506.4 1268.6,505.9 1269.1,502.6 1269.6,510.1 1270.1,500.7 1270.6,506.2 1271.1,511.5 1271.6,507.1 1272.1,508.1 1272.6,505.5 1273.1,511.0 1273.6,505.7 1274.1,509.2 1274.6,509.2 1275.1,507.0 1275.6,511.2 1276.1,506.7 1276.6,508.5 1277.1,510.1 1277.6,509.5 1278.1,511.6 1278.6,512.8 1279.1,510.5 1279.6,510.2 1280.1,510.5 1280.6,511.1 1281.1,513.7 1281.6,511.8 1282.1,513.4 1282.6,512.6 1283.1,511.3 1283.6,515.0 1284.1,511.3 1284.6,513.7 1285.1,517.0 1285.6,511.9 1286.1,514.3 1286.6,511.4 1287.1,513.8 1287.6,512.0 1288.1,514.6 1288.6,514.5 1289.1,516.1 1289.6,519.3 1290.1,516.8 1290.6,517.8 1291.1,516.6 1291.6,516.4 1292.1,515.5 1292.6,513.7 1293.1,517.8 1293.6,521.2 1294.1,519.1 1294.6,517.2 1295.1,521.9 1295.6,517.9 1296.1,517.7 1296.6,516.7 1297.1,517.4 1297.6,519.1 1298.1,523.9 1298.6,519.6 1299.1,518.2 1299.6,519.2 1300.1,520.2 1300.6,517.4 1301.1,521.4 1301.6,522.8 1302.1,522.2 1302.6,523.0 1303.1,519.3 1303.6,518.7 1304.1,525.0 1304.6,524.8 1305.1,519.6 1305.6,523.4 1306.1,523.3 1306.6,524.5 1307.1,524.1 1307.6,522.8 1308.1,524.4 1308.6,524.6 1309.1,524.3 1309.6,520.8 1310.1,518.7 1310.6,523.4 1311.1,521.9 1311.6,526.0 1312.1,527.1 1312.6,526.4 1313.1,525.3 1313.6,526.4 1314.1,528.8 1314.6,525.1 1315.1,528.7 1315.6,528.5 1316.1,527.7 1316.6,530.4 1317.1,526.1 1317.6,529.7 1318.1,526.1 1318.6,526.6 1319.1,526.2 1319.6,529.5 1320.1,526.8 1320.6,529.0 1321.1,526.8 1321.6,531.5 1322.1,533.2 1322.6,530.1 1323.1,533.2 1323.6,531.2 1324.1,534.7 1324.6,530.6 1325.1,527.4 1325.6,533.8 1326.1,530.7 1326.6,529.0 1327.1,530.0 1327.6,528.2 1328.1,531.4 1328.6,529.7 1329.1,535.1 1329.6,533.6 1330.1,529.0 1330.6,529.5 1331.1,531.6 1331.6,529.0 1332.1,532.9 1332.6,533.3 1333.1,531.9 1333.6,532.6 1334.1,534.9 1334.6,537.0 1335.1,537.3 1335.6,534.5 1336.1,536.3 1336.6,533.3 1337.1,535.8 1337.6,533.2 1338.1,536.8 1338.6,533.0 1339.1,533.7 1339.6,535.8 1340.1,537.1 1340.6,533.3 1341.1,535.3 1341.6,536.8 1342.1,537.2 1342.6,535.2 1343.1,537.3 1343.6,536.7 1344.1,540.3 1344.6,538.7 1345.1,535.1 1345.6,533.4 1346.1,538.3 1346.6,540.7 1347.1,538.8 1347.6,540.4 1348.1,537.8 1348.6,536.2 1349.1,540.7 1349.6,539.5 1350.1,540.9 1350.6,536.9 1351.1,540.2 1351.6,538.7 1352.1,541.8 1352.6,539.2 1353.1,539.3 1353.6,539.5 1354.1,543.4 1354.6,541.1 1355.1,539.7 1355.6,539.3 1356.1,539.4 1356.6,544.7 1357.1,538.2 1357.6,540.3 1358.1,543.5 1358.6,544.8 1359.1,542.3 1359.6,544.3 1360.1,544.4 1360.6,545.1 1361.1,543.3 1361.6,546.8 1362.1,544.0 1362.6,546.9 1363.1,541.7 1363.6,546.0 1364.1,541.7 1364.6,541.4 1365.1,545.6 1365.6,543.1 1366.1,545.8 1366.6,542.9 1367.1,548.5 1367.6,545.4 1368.1,543.3 1368.6,546.1 1369.1,547.7 1369.6,544.5 1370.1,547.3 1370.6,550.6 1371.1,548.3 1371.6,546.7 1372.1,545.7 1372.6,548.2 1373.1,544.1 1373.6,541.2 1374.1,546.2 1374.6,545.5 1375.1,551.4 1375.6,548.3 1376.1,546.2 1376.5,546.0 1377.0,549.5 1377.5,547.0 1378.0,547.6 1378.5,548.8 1379.0,549.3 1379.5,549.5 1380.0,549.7 1380.5,552.2 1381.0,553.2 1381.5,546.5 1382.0,555.3 1382.5,550.5 1383.0,552.9 1383.5,549.0 1384.0,551.3 1384.5,551.2 1385.0,551.2 1385.5,552.8 1386.0,552.5 1386.5,549.4 1387.0,551.3 1387.5,553.2 1388.0,553.2 1388.5,551.3 1389.0,551.6 1389.5,552.0 1390.0,550.2 1390.5,550.0 1391.0,555.9 1391.5,552.1 1392.0,553.2 1392.5,551.6 1393.0,555.9 1393.5,557.0 1394.0,553.1 1394.5,554.8 1395.0,552.3 1395.5,557.6 1396.0,556.0 1396.5,552.6 1397.0,557.0 1397.5,555.3 1398.0,555.5 1398.5,555.6 1399.0,553.6 1399.5,554.0 1400.0,556.5 1400.5,555.3 1401.0,553.6 1401.5,559.8 1402.0,555.4 1402.5,554.8 1403.0,554.7 1403.5,557.6 1404.0,558.3 1404.5,557.0 1405.0,558.4 1405.5,553.7 1406.0,556.1 1406.5,556.1 1407.0,557.2 1407.5,558.3 1408.0,553.3 1408.5,563.9 1409.0,555.9 1409.5,558.5 1410.0,559.6 1410.5,559.8 1411.0,558.7 1411.5,552.4 1412.0,556.3 1412.5,560.1 1413.0,556.8 1413.5,556.7 1414.0,554.2 1414.5,561.6 1415.0,560.3 1415.5,557.5 1416.0,559.2 1416.5,559.4 1417.0,557.5 1417.5,559.3 1418.0,560.5 1418.5,561.2 1419.0,562.8 1419.5,560.4 1420.0,559.6 1420.5,561.4 1421.0,559.5 1421.5,558.4 1422.0,563.3 1422.5,560.4 1423.0,561.5 1423.5,562.7 1424.0,559.3 1424.5,563.0 1425.0,562.7 1425.5,561.7 1426.0,562.9 1426.5,560.7 1427.0,557.9 1427.5,561.9 1428.0,560.7 1428.5,564.5 1429.0,563.4 1429.5,561.9 1430.0,563.2 1430.5,566.0 1431.0,565.7 1431.5,564.2 1432.0,564.5 1432.5,563.2 1433.0,563.6 1433.5,565.2 1434.0,563.9 1434.5,564.9 1435.0,562.2 1435.5,561.2 1436.0,561.2 1436.5,563.9 1437.0,567.6 1437.5,567.5 1438.0,563.2 1438.5,562.2 1439.0,567.1 1439.5,566.5 1440.0,563.0 1440.5,568.0 1441.0,566.3 1441.5,568.8 1442.0,566.9 1442.5,568.2 1443.0,567.2 1443.5,564.7 1444.0,566.3 1444.5,565.5 1445.0,568.7 1445.5,565.1 1446.0,564.2 1446.5,568.8 1447.0,569.9 1447.5,570.6 1448.0,570.0 1448.5,564.9 1449.0,566.6 1449.5,567.1 1450.0,568.2 1450.5,564.1 1451.0,568.5 1451.5,569.2 1452.0,566.9 1452.5,569.2 1453.0,571.5 1453.5,569.3 1454.0,571.4 1454.5,571.5 1455.0,570.4 1455.5,570.4 1456.0,569.0 1456.5,572.4 1457.0,569.1 1457.5,568.7 1458.0,571.7 1458.5,568.9 1459.0,571.4 1459.5,572.8 1460.0,570.9 1460.5,571.1 1461.0,572.9 1461.5,572.6 1462.0,568.1 1462.5,568.7 1463.0,574.2 1463.5,572.4 1464.0,567.5 1464.5,569.1 1465.0,572.0 1465.5,570.1 1466.0,573.1 1466.5,572.4 1467.0,573.4 1467.5,570.2 1468.0,573.9 1468.5,576.7 1469.0,571.2 1469.5,575.6 1470.0,575.1 1470.5,574.5 1471.0,573.2 1471.5,571.1 1472.0,571.7 1472.5,575.2 1473.0,575.7 1473.5,576.3 1474.0,575.9 1474.5,575.9 1475.0,573.3 1475.5,571.8 1476.0,574.8 1476.5,575.4 1477.0,574.7 1477.5,571.6 1478.0,573.7 1478.5,571.9 1479.0,575.2 1479.5,572.9 1480.0,574.8 1480.5,575.9 1481.0,575.6 1481.5,578.2 1482.0,573.3 1482.5,571.2 1483.0,577.6 1483.5,578.6 1484.0,578.8 1484.5,576.6 1485.0,577.2 1485.5,576.4 1486.0,573.7 1486.5,575.2 1487.0,577.5 1487.5,575.4 1488.0,580.5 1488.5,573.7 1489.0,576.0 1489.5,579.2 1490.0,575.8 1490.5,574.9 1491.0,574.5 1491.5,575.9 1492.0,580.5 1492.5,578.3 1493.0,578.7 1493.5,576.7 1494.0,579.5 1494.5,578.1 1495.0,576.1 1495.5,577.2 1496.0,578.6 1496.5,580.6 1497.0,578.3 1497.5,579.5 1498.0,582.7 1498.5,577.1 1499.0,576.3 1499.5,580.9 1500.0,579.9 1500.5,578.9 1501.0,579.7 1501.5,578.6 1502.0,580.4 1502.5,578.8 1503.0,581.2 1503.5,577.3 1504.0,578.1 1504.5,580.1 1505.0,579.0 1505.5,581.5 1506.0,580.1 1506.5,579.2 1507.0,580.8 1507.5,579.5 1508.0,577.5 1508.5,578.5 1509.0,579.2 1509.5,580.0 1510.0,581.3 1510.5,583.0 1511.0,582.4 1511.5,585.0 1512.0,584.1 1512.5,581.3 1513.0,585.1 1513.5,584.3 1514.0,581.1 1514.5,582.8 1515.0,584.4 1515.5,582.9 1516.0,584.5 1516.5,583.4 1517.0,584.1 1517.5,582.2 1518.0,583.7 1518.5,582.4 1519.0,584.6 1519.5,579.9 1520.0,584.1 1520.5,586.1 1521.0,584.9 1521.5,583.8 1522.0,585.1 1522.5,582.4 1523.0,582.5 1523.5,583.6 1524.0,584.2 1524.5,586.5 1525.0,582.9 1525.5,586.9 1526.0,581.8 1526.5,583.5 1527.0,585.2 1527.5,587.7 1528.0,584.3 1528.5,581.3 1529.0,586.6 1529.5,585.8 1530.0,583.9 1530.5,584.1 1531.0,584.9" fill="none" stroke="#22a851" stroke-width="1.9" stroke-linejoin="round" stroke-miterlimit="4" stroke-linecap="butt"/>
<path d="M912.2,28.3 913.7,36.7 915.2,45.0 916.7,52.9 918.2,60.5 919.7,67.5 921.2,73.8 922.7,79.9 924.2,85.7 925.7,91.4 927.2,96.8 928.7,102.1 930.2,107.2 931.7,112.1 933.2,116.9 934.7,121.4 936.2,125.9 937.7,130.1 939.2,134.3 940.7,138.3 942.2,142.1 943.7,145.8 945.2,149.4 946.7,152.8 948.2,156.1 949.7,159.4 951.2,162.5 952.7,165.5 954.2,168.5 955.7,171.5 957.2,174.3 958.7,177.2 960.2,180.0 961.7,182.8 963.2,185.6 964.7,188.4 966.2,191.1 967.7,193.8 969.2,196.4 970.7,199.0 972.2,201.6 973.7,204.1 975.2,206.6 976.7,209.0 978.2,211.4 979.7,213.8 981.2,216.1 982.7,218.5 984.2,220.7 985.7,223.0 987.2,225.2 988.7,227.4 990.2,229.6 991.7,231.7 993.2,233.8 994.7,235.9 996.2,237.9 997.7,240.0 999.2,242.0 1000.7,244.0 1002.2,245.9 1003.7,247.9 1005.2,249.8 1006.7,251.7 1008.2,253.6 1009.7,255.4 1011.2,257.3 1012.7,259.1 1014.2,260.9 1015.7,262.7 1017.2,264.4 1018.7,266.2 1020.2,267.9 1021.7,269.7 1023.2,271.4 1024.7,273.1 1026.2,274.8 1027.7,276.5 1029.2,278.2 1030.7,279.8 1032.2,281.4 1033.7,283.1 1035.2,284.7 1036.7,286.3 1038.2,287.9 1039.7,289.6 1041.2,291.2 1042.7,292.9 1044.2,294.5 1045.7,296.3 1047.2,298.0 1048.7,299.8 1050.2,301.6 1051.7,303.4 1053.2,305.2 1054.7,307.0 1056.2,308.9 1057.7,310.7 1059.2,312.5 1060.7,314.3 1062.2,316.0 1063.7,317.7 1065.2,319.4 1066.7,321.0 1068.1,322.6 1069.6,324.2 1071.1,325.7 1072.6,327.2 1074.1,328.7 1075.6,330.2 1077.1,331.6 1078.6,333.1 1080.1,334.6 1081.6,336.0 1083.1,337.5 1084.6,339.0 1086.1,340.4 1087.6,341.9 1089.1,343.5 1090.6,345.0 1092.1,346.5 1093.6,348.0 1095.1,349.5 1096.6,351.1 1098.1,352.6 1099.6,354.1 1101.1,355.6 1102.6,357.1 1104.1,358.5 1105.6,360.0 1107.1,361.4 1108.6,362.9 1110.1,364.3 1111.6,365.7 1113.1,367.1 1114.6,368.4 1116.1,369.8 1117.6,371.2 1119.1,372.5 1120.6,373.9 1122.1,375.2 1123.6,376.5 1125.1,377.8 1126.6,379.1 1128.1,380.4 1129.6,381.6 1131.1,382.9 1132.6,384.1 1134.1,385.3 1135.6,386.5 1137.1,387.7 1138.6,388.9 1140.1,390.0 1141.6,391.2 1143.1,392.4 1144.6,393.5 1146.1,394.7 1147.6,395.9 1149.1,397.1 1150.6,398.3 1152.1,399.5 1153.6,400.7 1155.1,402.0 1156.6,403.2 1158.1,404.4 1159.6,405.6 1161.1,406.8 1162.6,408.0 1164.1,409.2 1165.6,410.4 1167.1,411.5 1168.6,412.7 1170.1,413.8 1171.6,414.9 1173.1,416.0 1174.6,417.1 1176.1,418.2 1177.6,419.2 1179.1,420.3 1180.6,421.3 1182.1,422.4 1183.6,423.4 1185.1,424.4 1186.6,425.4 1188.1,426.4 1189.6,427.4 1191.1,428.4 1192.6,429.4 1194.1,430.4 1195.6,431.4 1197.1,432.4 1198.6,433.4 1200.1,434.3 1201.6,435.3 1203.1,436.3 1204.6,437.2 1206.1,438.2 1207.6,439.1 1209.1,440.0 1210.6,441.0 1212.1,441.9 1213.6,442.9 1215.1,443.8 1216.6,444.7 1218.1,445.6 1219.6,446.6 1221.1,447.5 1222.6,448.4 1224.1,449.3 1225.6,450.2 1227.1,451.1 1228.6,452.1 1230.1,453.0 1231.6,453.9 1233.1,454.8 1234.6,455.7 1236.1,456.6 1237.6,457.5 1239.1,458.4 1240.6,459.3 1242.1,460.2 1243.6,461.1 1245.1,462.0 1246.6,462.9 1248.1,463.7 1249.6,464.6 1251.1,465.5 1252.6,466.3 1254.1,467.2 1255.6,468.0 1257.1,468.8 1258.6,469.7 1260.1,470.5 1261.6,471.3 1263.1,472.1 1264.6,472.9 1266.1,473.7 1267.6,474.5 1269.1,475.3 1270.6,476.1 1272.1,476.8 1273.6,477.6 1275.1,478.4 1276.6,479.1 1278.1,479.9 1279.6,480.6 1281.1,481.4 1282.6,482.1 1284.1,482.8 1285.6,483.6 1287.1,484.3 1288.6,485.0 1290.1,485.8 1291.6,486.5 1293.1,487.2 1294.6,487.9 1296.1,488.7 1297.6,489.4 1299.1,490.1 1300.6,490.8 1302.1,491.5 1303.6,492.2 1305.1,492.9 1306.6,493.6 1308.1,494.4 1309.6,495.1 1311.1,495.8 1312.6,496.5 1314.1,497.2 1315.6,497.9 1317.1,498.6 1318.6,499.3 1320.1,500.0 1321.6,500.7 1323.1,501.4 1324.6,502.1 1326.1,502.8 1327.6,503.5 1329.1,504.1 1330.6,504.8 1332.1,505.5 1333.6,506.1 1335.1,506.8 1336.6,507.4 1338.1,508.1 1339.6,508.7 1341.1,509.3 1342.6,509.9 1344.1,510.5 1345.6,511.1 1347.1,511.7 1348.6,512.2 1350.1,512.8 1351.6,513.4 1353.1,513.9 1354.6,514.4 1356.1,515.0 1357.6,515.5 1359.1,516.0 1360.6,516.6 1362.1,517.1 1363.6,517.6 1365.1,518.1 1366.6,518.6 1368.1,519.1 1369.6,519.6 1371.1,520.1 1372.6,520.6 1374.1,521.1 1375.6,521.6 1377.0,522.1 1378.5,522.6 1380.0,523.2 1381.5,523.7 1383.0,524.2 1384.5,524.7 1386.0,525.2 1387.5,525.7 1389.0,526.3 1390.5,526.8 1392.0,527.4 1393.5,527.9 1395.0,528.4 1396.5,529.0 1398.0,529.5 1399.5,530.1 1401.0,530.6 1402.5,531.2 1404.0,531.7 1405.5,532.3 1407.0,532.8 1408.5,533.3 1410.0,533.9 1411.5,534.4 1413.0,534.9 1414.5,535.5 1416.0,536.0 1417.5,536.5 1419.0,537.0 1420.5,537.5 1422.0,538.0 1423.5,538.5 1425.0,539.0 1426.5,539.4 1428.0,539.9 1429.5,540.3 1431.0,540.8 1432.5,541.2 1434.0,541.7 1435.5,542.1 1437.0,542.5 1438.5,542.9 1440.0,543.4 1441.5,543.8 1443.0,544.2 1444.5,544.6 1446.0,545.0 1447.5,545.4 1449.0,545.8 1450.5,546.2 1452.0,546.6 1453.5,547.0 1455.0,547.4 1456.5,547.8 1458.0,548.2 1459.5,548.6 1461.0,549.0 1462.5,549.4 1464.0,549.8 1465.5,550.2 1467.0,550.6 1468.5,551.0 1470.0,551.4 1471.5,551.8 1473.0,552.2 1474.5,552.6 1476.0,553.0 1477.5,553.4 1479.0,553.8 1480.5,554.2 1482.0,554.6 1483.5,555.0 1485.0,555.4 1486.5,555.8 1488.0,556.3 1489.5,556.7 1491.0,557.1 1492.5,557.5 1494.0,557.9 1495.5,558.3 1497.0,558.7 1498.5,559.1 1500.0,559.5 1501.5,559.9 1503.0,560.3 1504.5,560.7 1506.0,561.2 1507.5,561.6 1509.0,562.0 1510.5,562.4 1512.0,562.9 1513.5,563.3 1515.0,563.8 1516.5,564.2 1518.0,564.6 1519.5,565.1 1521.0,565.5 1522.5,566.0 1524.0,566.5 1525.5,566.9 1527.0,567.4 1528.5,567.8 1530.0,568.3" fill="none" stroke="#066a37" stroke-width="4.2" stroke-linejoin="round"/>
<path d="M912.2,28.3 912.7,30.9 913.2,36.5 913.7,37.7 914.2,37.0 914.7,42.3 915.2,44.0 915.7,47.9 916.2,47.9 916.7,53.3 917.2,55.9 917.7,60.4 918.2,61.0 918.7,63.7 919.2,63.0 919.7,70.9 920.2,66.8 920.7,73.4 921.2,73.4 921.7,74.6 922.2,76.9 922.7,78.9 923.2,82.4 923.7,83.6 924.2,87.9 924.7,84.9 925.2,89.5 925.7,90.0 926.2,94.4 926.7,91.9 927.2,96.3 927.7,98.9 928.2,98.1 928.7,103.5 929.2,104.1 929.7,107.0 930.2,108.6 930.7,107.4 931.2,109.3 931.7,111.8 932.2,114.8 932.7,116.5 933.2,115.8 933.7,117.5 934.2,118.8 934.7,120.6 935.2,122.6 935.7,124.2 936.2,128.9 936.7,126.6 937.2,128.3 937.7,130.8 938.2,130.1 938.7,132.4 939.2,134.3 939.7,136.8 940.2,135.0 940.7,140.3 941.2,139.0 941.7,141.1 942.2,143.3 942.7,144.3 943.2,146.1 943.7,146.1 944.2,147.0 944.7,148.7 945.2,147.9 945.7,152.3 946.2,150.5 946.7,151.0 947.2,156.9 947.7,154.8 948.2,154.4 948.7,159.9 949.2,157.8 949.7,160.9 950.2,159.2 950.7,161.1 951.2,160.0 951.7,160.8 952.2,163.1 952.7,165.4 953.2,167.7 953.7,171.0 954.2,167.0 954.7,171.0 955.2,169.6 955.7,171.2 956.2,170.3 956.7,171.3 957.2,173.2 957.7,173.6 958.2,176.2 958.7,176.2 959.2,179.9 959.7,179.3 960.2,180.2 960.7,182.6 961.2,182.6 961.7,182.8 962.2,183.6 962.7,184.5 963.2,187.2 963.7,187.7 964.2,188.0 964.7,189.5 965.2,188.5 965.7,190.9 966.2,189.1 966.7,193.9 967.2,193.0 967.7,194.0 968.2,195.5 968.7,195.5 969.2,196.0 969.7,199.0 970.2,198.3 970.7,197.7 971.2,200.5 971.7,198.3 972.2,203.9 972.7,202.2 973.2,203.3 973.7,207.3 974.2,208.0 974.7,205.9 975.2,207.4 975.7,208.9 976.2,210.6 976.7,208.8 977.2,210.0 977.7,212.3 978.2,211.8 978.7,213.3 979.2,213.9 979.7,212.2 980.2,213.4 980.7,211.6 981.2,215.8 981.7,218.8 982.2,216.1 982.7,220.2 983.2,220.6 983.7,219.9 984.2,220.7 984.7,221.6 985.2,221.0 985.7,222.6 986.2,223.7 986.7,225.3 987.2,226.3 987.7,224.9 988.2,227.8 988.7,226.3 989.2,227.9 989.7,229.4 990.2,229.5 990.7,230.1 991.2,231.4 991.7,230.9 992.2,231.5 992.7,232.8 993.2,235.2 993.7,234.4 994.2,237.9 994.7,236.2 995.2,232.4 995.7,236.6 996.2,240.3 996.7,238.6 997.2,238.7 997.7,238.8 998.2,242.5 998.7,242.7 999.2,242.9 999.7,243.2 1000.2,245.3 1000.7,245.1 1001.2,242.9 1001.7,246.4 1002.2,246.2 1002.7,246.4 1003.2,248.3 1003.7,247.9 1004.2,244.5 1004.7,251.3 1005.2,251.3 1005.7,250.3 1006.2,250.6 1006.7,252.0 1007.2,250.6 1007.7,253.4 1008.2,253.3 1008.7,253.7 1009.2,253.5 1009.7,254.5 1010.2,257.6 1010.7,258.5 1011.2,258.0 1011.7,257.8 1012.2,257.3 1012.7,260.1 1013.2,261.9 1013.7,258.0 1014.2,262.5 1014.7,258.5 1015.2,261.6 1015.7,263.2 1016.2,261.4 1016.7,261.7 1017.2,264.7 1017.7,266.2 1018.2,264.9 1018.7,268.0 1019.2,265.7 1019.7,269.8 1020.2,268.1 1020.7,268.8 1021.2,269.9 1021.7,270.1 1022.2,272.8 1022.7,273.9 1023.2,272.1 1023.7,271.7 1024.2,270.9 1024.7,272.1 1025.2,273.7 1025.7,274.1 1026.2,274.8 1026.7,275.4 1027.2,276.6 1027.7,274.6 1028.2,275.6 1028.7,279.1 1029.2,279.3 1029.7,278.0 1030.2,281.0 1030.7,278.9 1031.2,280.0 1031.7,278.4 1032.2,282.6 1032.7,282.0 1033.2,284.0 1033.7,284.0 1034.2,283.7 1034.7,284.4 1035.2,286.3 1035.7,285.0 1036.2,285.6 1036.7,286.4 1037.2,288.0 1037.7,288.7 1038.2,290.6 1038.7,288.4 1039.2,290.8 1039.7,288.7 1040.2,291.0 1040.7,290.9 1041.2,293.6 1041.7,292.6 1042.2,291.7 1042.7,293.7 1043.2,293.9 1043.7,293.6 1044.2,294.2 1044.7,293.9 1045.2,299.5 1045.7,296.5 1046.2,298.2 1046.7,295.9 1047.2,296.6 1047.7,298.4 1048.2,299.0 1048.7,300.9 1049.2,299.1 1049.7,301.8 1050.2,303.7 1050.7,301.0 1051.2,304.1 1051.7,302.2 1052.2,304.5 1052.7,305.2 1053.2,307.6 1053.7,305.0 1054.2,306.7 1054.7,308.5 1055.2,306.1 1055.7,308.3 1056.2,307.8 1056.7,308.6 1057.2,311.1 1057.7,311.7 1058.2,314.9 1058.7,313.8 1059.2,314.3 1059.7,312.9 1060.2,313.3 1060.7,314.5 1061.2,311.9 1061.7,317.7 1062.2,315.2 1062.7,315.2 1063.2,316.6 1063.7,319.0 1064.2,320.0 1064.7,318.4 1065.2,320.0 1065.7,319.9 1066.2,319.2 1066.7,321.3 1067.1,321.6 1067.6,320.1 1068.1,324.1 1068.6,321.1 1069.1,324.0 1069.6,322.8 1070.1,323.6 1070.6,324.3 1071.1,326.7 1071.6,324.5 1072.1,326.5 1072.6,329.3 1073.1,326.8 1073.6,328.2 1074.1,329.6 1074.6,328.4 1075.1,330.3 1075.6,329.3 1076.1,331.6 1076.6,331.3 1077.1,330.4 1077.6,334.0 1078.1,332.5 1078.6,332.7 1079.1,332.4 1079.6,333.5 1080.1,334.4 1080.6,335.3 1081.1,337.0 1081.6,334.3 1082.1,336.1 1082.6,338.6 1083.1,337.7 1083.6,338.5 1084.1,340.6 1084.6,339.4 1085.1,340.1 1085.6,339.9 1086.1,342.8 1086.6,342.4 1087.1,340.5 1087.6,342.7 1088.1,340.9 1088.6,344.4 1089.1,344.4 1089.6,343.8 1090.1,343.9 1090.6,342.6 1091.1,346.5 1091.6,345.8 1092.1,346.1 1092.6,348.0 1093.1,346.6 1093.6,347.3 1094.1,347.6 1094.6,347.2 1095.1,352.8 1095.6,349.8 1096.1,350.1 1096.6,352.3 1097.1,347.4 1097.6,352.0 1098.1,352.6 1098.6,351.8 1099.1,354.2 1099.6,351.4 1100.1,354.6 1100.6,356.2 1101.1,352.6 1101.6,354.1 1102.1,356.3 1102.6,357.0 1103.1,356.6 1103.6,358.4 1104.1,358.7 1104.6,357.1 1105.1,359.2 1105.6,358.1 1106.1,357.6 1106.6,357.6 1107.1,362.6 1107.6,361.5 1108.1,364.7 1108.6,360.7 1109.1,362.6 1109.6,364.0 1110.1,363.8 1110.6,365.2 1111.1,365.2 1111.6,364.6 1112.1,362.8 1112.6,365.1 1113.1,369.1 1113.6,368.3 1114.1,369.6 1114.6,367.5 1115.1,368.5 1115.6,368.0 1116.1,370.2 1116.6,370.2 1117.1,371.1 1117.6,373.3 1118.1,370.4 1118.6,372.9 1119.1,370.5 1119.6,374.3 1120.1,372.7 1120.6,373.6 1121.1,374.3 1121.6,376.8 1122.1,375.0 1122.6,374.8 1123.1,374.4 1123.6,376.7 1124.1,375.7 1124.6,376.6 1125.1,377.6 1125.6,379.0 1126.1,377.6 1126.6,379.8 1127.1,381.7 1127.6,377.8 1128.1,382.0 1128.6,383.5 1129.1,380.3 1129.6,382.3 1130.1,380.1 1130.6,382.7 1131.1,382.3 1131.6,383.5 1132.1,382.3 1132.6,382.9 1133.1,383.7 1133.6,383.8 1134.1,384.3 1134.6,385.3 1135.1,384.5 1135.6,386.1 1136.1,387.3 1136.6,384.1 1137.1,387.7 1137.6,386.9 1138.1,386.8 1138.6,386.9 1139.1,387.9 1139.6,388.5 1140.1,390.3 1140.6,388.6 1141.1,391.9 1141.6,389.9 1142.1,392.3 1142.6,393.2 1143.1,390.6 1143.6,394.0 1144.1,395.8 1144.6,392.8 1145.1,394.5 1145.6,394.0 1146.1,394.7 1146.6,394.8 1147.1,394.8 1147.6,396.8 1148.1,397.4 1148.6,396.6 1149.1,399.0 1149.6,398.9 1150.1,398.8 1150.6,397.3 1151.1,401.1 1151.6,400.8 1152.1,396.7 1152.6,398.5 1153.1,399.7 1153.6,401.9 1154.1,402.7 1154.6,401.2 1155.1,402.3 1155.6,403.3 1156.1,401.1 1156.6,403.9 1157.1,403.2 1157.6,404.2 1158.1,404.3 1158.6,403.3 1159.1,403.9 1159.6,405.7 1160.1,406.2 1160.6,406.1 1161.1,408.2 1161.6,406.8 1162.1,406.1 1162.6,407.6 1163.1,408.2 1163.6,408.7 1164.1,410.7 1164.6,410.3 1165.1,411.4 1165.6,411.2 1166.1,410.6 1166.6,412.5 1167.1,411.2 1167.6,412.3 1168.1,411.0 1168.6,412.8 1169.1,412.7 1169.6,413.9 1170.1,416.1 1170.6,417.2 1171.1,415.9 1171.6,414.9 1172.1,416.3 1172.6,415.9 1173.1,415.2 1173.6,416.3 1174.1,416.4 1174.6,416.3 1175.1,419.2 1175.6,417.1 1176.1,417.5 1176.6,419.4 1177.1,418.0 1177.6,417.8 1178.1,418.5 1178.6,420.6 1179.1,420.8 1179.6,421.0 1180.1,420.4 1180.6,420.2 1181.1,422.8 1181.6,420.2 1182.1,422.1 1182.6,421.0 1183.1,422.5 1183.6,423.2 1184.1,425.3 1184.6,420.4 1185.1,426.2 1185.6,423.6 1186.1,425.5 1186.6,426.5 1187.1,424.8 1187.6,426.0 1188.1,427.1 1188.6,426.6 1189.1,426.2 1189.6,427.7 1190.1,427.9 1190.6,426.2 1191.1,430.2 1191.6,429.1 1192.1,426.1 1192.6,428.4 1193.1,432.0 1193.6,432.2 1194.1,430.8 1194.6,428.7 1195.1,430.8 1195.6,432.8 1196.1,432.3 1196.6,431.7 1197.1,431.5 1197.6,433.8 1198.1,432.8 1198.6,433.8 1199.1,434.4 1199.6,436.1 1200.1,434.6 1200.6,435.0 1201.1,432.8 1201.6,436.8 1202.1,436.8 1202.6,436.0 1203.1,433.4 1203.6,435.9 1204.1,437.0 1204.6,439.9 1205.1,438.3 1205.6,438.9 1206.1,439.3 1206.6,440.2 1207.1,437.4 1207.6,438.1 1208.1,438.0 1208.6,439.4 1209.1,439.6 1209.6,440.5 1210.1,439.4 1210.6,441.1 1211.1,440.3 1211.6,444.3 1212.1,441.3 1212.6,445.5 1213.1,444.7 1213.6,441.4 1214.1,444.4 1214.6,444.3 1215.1,441.9 1215.6,444.9 1216.1,444.3 1216.6,445.2 1217.1,444.0 1217.6,445.3 1218.1,446.2 1218.6,445.7 1219.1,445.5 1219.6,446.4 1220.1,445.7 1220.6,447.6 1221.1,444.3 1221.6,449.7 1222.1,448.2 1222.6,449.0 1223.1,449.8 1223.6,447.5 1224.1,452.2 1224.6,448.2 1225.1,450.5 1225.6,450.7 1226.1,452.2 1226.6,450.9 1227.1,449.4 1227.6,451.9 1228.1,448.7 1228.6,451.8 1229.1,451.8 1229.6,454.7 1230.1,452.7 1230.6,452.7 1231.1,452.7 1231.6,452.8 1232.1,453.5 1232.6,455.3 1233.1,453.2 1233.6,454.9 1234.1,453.6 1234.6,455.5 1235.1,456.2 1235.6,454.8 1236.1,455.9 1236.6,457.1 1237.1,458.2 1237.6,458.7 1238.1,457.7 1238.6,456.9 1239.1,456.4 1239.6,459.7 1240.1,460.8 1240.6,459.8 1241.1,461.6 1241.6,459.3 1242.1,459.7 1242.6,462.5 1243.1,459.5 1243.6,461.9 1244.1,461.9 1244.6,461.9 1245.1,464.2 1245.6,461.2 1246.1,462.0 1246.6,460.2 1247.1,461.8 1247.6,462.8 1248.1,463.2 1248.6,463.8 1249.1,464.7 1249.6,463.8 1250.1,462.4 1250.6,465.4 1251.1,466.0 1251.6,464.3 1252.1,465.0 1252.6,468.5 1253.1,467.9 1253.6,468.2 1254.1,468.0 1254.6,467.6 1255.1,467.1 1255.6,468.7 1256.1,468.0 1256.6,468.0 1257.1,468.8 1257.6,469.0 1258.1,470.5 1258.6,468.5 1259.1,473.1 1259.6,469.0 1260.1,470.0 1260.6,471.9 1261.1,470.0 1261.6,470.7 1262.1,471.6 1262.6,468.1 1263.1,471.5 1263.6,471.2 1264.1,472.3 1264.6,473.5 1265.1,474.0 1265.6,475.3 1266.1,475.5 1266.6,475.3 1267.1,474.2 1267.6,475.8 1268.1,473.5 1268.6,474.9 1269.1,477.1 1269.6,476.5 1270.1,474.0 1270.6,475.3 1271.1,477.4 1271.6,477.3 1272.1,478.2 1272.6,474.9 1273.1,475.8 1273.6,477.3 1274.1,476.6 1274.6,478.1 1275.1,478.4 1275.6,479.1 1276.1,478.7 1276.6,479.8 1277.1,480.4 1277.6,479.8 1278.1,478.4 1278.6,481.8 1279.1,480.7 1279.6,481.2 1280.1,481.1 1280.6,479.1 1281.1,482.1 1281.6,480.8 1282.1,480.4 1282.6,483.7 1283.1,482.0 1283.6,483.0 1284.1,484.0 1284.6,485.1 1285.1,481.1 1285.6,482.7 1286.1,484.7 1286.6,483.3 1287.1,480.3 1287.6,484.8 1288.1,485.1 1288.6,486.1 1289.1,485.6 1289.6,485.0 1290.1,486.1 1290.6,486.0 1291.1,485.6 1291.6,486.8 1292.1,487.2 1292.6,485.7 1293.1,488.5 1293.6,488.5 1294.1,488.7 1294.6,484.5 1295.1,488.3 1295.6,488.3 1296.1,487.4 1296.6,489.6 1297.1,487.3 1297.6,490.9 1298.1,490.1 1298.6,489.2 1299.1,491.9 1299.6,490.9 1300.1,491.0 1300.6,489.2 1301.1,491.7 1301.6,493.0 1302.1,492.9 1302.6,490.2 1303.1,493.7 1303.6,494.2 1304.1,493.5 1304.6,492.2 1305.1,491.1 1305.6,492.0 1306.1,492.7 1306.6,494.0 1307.1,494.6 1307.6,493.2 1308.1,492.3 1308.6,494.1 1309.1,493.2 1309.6,496.7 1310.1,493.8 1310.6,496.1 1311.1,496.8 1311.6,494.8 1312.1,497.5 1312.6,496.3 1313.1,495.7 1313.6,495.7 1314.1,497.3 1314.6,498.7 1315.1,495.3 1315.6,498.6 1316.1,497.9 1316.6,497.4 1317.1,498.4 1317.6,498.8 1318.1,499.0 1318.6,500.3 1319.1,498.4 1319.6,502.2 1320.1,501.1 1320.6,499.5 1321.1,498.1 1321.6,500.6 1322.1,500.4 1322.6,502.1 1323.1,502.3 1323.6,504.0 1324.1,501.7 1324.6,503.0 1325.1,501.8 1325.6,502.1 1326.1,504.7 1326.6,502.8 1327.1,503.1 1327.6,503.0 1328.1,504.1 1328.6,504.6 1329.1,504.0 1329.6,502.9 1330.1,505.0 1330.6,503.8 1331.1,504.6 1331.6,505.5 1332.1,505.8 1332.6,502.8 1333.1,508.0 1333.6,507.1 1334.1,508.7 1334.6,509.7 1335.1,505.6 1335.6,506.3 1336.1,507.5 1336.6,508.6 1337.1,507.0 1337.6,507.4 1338.1,509.4 1338.6,507.2 1339.1,508.7 1339.6,510.0 1340.1,508.5 1340.6,510.0 1341.1,509.1 1341.6,507.5 1342.1,509.0 1342.6,509.6 1343.1,509.6 1343.6,510.3 1344.1,510.9 1344.6,511.0 1345.1,511.0 1345.6,510.5 1346.1,510.9 1346.6,510.9 1347.1,510.8 1347.6,513.4 1348.1,509.6 1348.6,512.4 1349.1,510.3 1349.6,511.7 1350.1,513.6 1350.6,512.5 1351.1,514.7 1351.6,512.0 1352.1,513.0 1352.6,512.8 1353.1,513.7 1353.6,513.5 1354.1,513.6 1354.6,514.4 1355.1,515.8 1355.6,514.8 1356.1,514.8 1356.6,514.6 1357.1,514.2 1357.6,513.5 1358.1,514.2 1358.6,515.6 1359.1,513.4 1359.6,516.7 1360.1,515.6 1360.6,515.1 1361.1,515.8 1361.6,517.4 1362.1,517.2 1362.6,517.3 1363.1,519.3 1363.6,520.2 1364.1,515.9 1364.6,518.8 1365.1,517.0 1365.6,516.4 1366.1,517.6 1366.6,519.7 1367.1,518.2 1367.6,518.2 1368.1,520.7 1368.6,519.8 1369.1,519.3 1369.6,521.8 1370.1,520.3 1370.6,519.0 1371.1,518.8 1371.6,519.8 1372.1,520.6 1372.6,521.8 1373.1,521.8 1373.6,521.1 1374.1,519.7 1374.6,522.4 1375.1,521.6 1375.6,520.3 1376.1,520.3 1376.5,522.2 1377.0,522.5 1377.5,523.3 1378.0,521.0 1378.5,525.0 1379.0,520.6 1379.5,522.9 1380.0,524.8 1380.5,524.6 1381.0,522.3 1381.5,524.4 1382.0,525.3 1382.5,524.9 1383.0,522.9 1383.5,526.3 1384.0,522.5 1384.5,524.7 1385.0,523.5 1385.5,524.5 1386.0,524.8 1386.5,525.9 1387.0,524.0 1387.5,525.9 1388.0,527.4 1388.5,526.1 1389.0,526.9 1389.5,526.9 1390.0,525.7 1390.5,526.3 1391.0,527.0 1391.5,527.7 1392.0,529.7 1392.5,529.4 1393.0,527.1 1393.5,527.3 1394.0,526.8 1394.5,525.4 1395.0,529.9 1395.5,529.2 1396.0,526.4 1396.5,528.9 1397.0,532.0 1397.5,529.9 1398.0,530.1 1398.5,529.9 1399.0,528.9 1399.5,528.6 1400.0,529.2 1400.5,530.6 1401.0,530.3 1401.5,531.6 1402.0,533.1 1402.5,531.8 1403.0,532.3 1403.5,531.1 1404.0,530.1 1404.5,534.5 1405.0,532.9 1405.5,533.7 1406.0,531.9 1406.5,530.5 1407.0,534.4 1407.5,530.3 1408.0,532.9 1408.5,532.6 1409.0,533.7 1409.5,534.6 1410.0,534.8 1410.5,531.5 1411.0,535.4 1411.5,532.0 1412.0,535.4 1412.5,534.2 1413.0,533.5 1413.5,534.4 1414.0,533.6 1414.5,535.4 1415.0,536.7 1415.5,536.7 1416.0,536.0 1416.5,537.4 1417.0,536.9 1417.5,539.1 1418.0,537.2 1418.5,536.1 1419.0,536.6 1419.5,536.2 1420.0,536.9 1420.5,537.3 1421.0,538.5 1421.5,538.7 1422.0,538.0 1422.5,538.6 1423.0,537.4 1423.5,537.8 1424.0,535.6 1424.5,537.8 1425.0,538.3 1425.5,542.2 1426.0,537.6 1426.5,539.5 1427.0,539.1 1427.5,537.8 1428.0,540.2 1428.5,540.0 1429.0,538.4 1429.5,537.5 1430.0,540.4 1430.5,538.9 1431.0,541.6 1431.5,540.6 1432.0,541.7 1432.5,540.8 1433.0,543.2 1433.5,542.3 1434.0,543.5 1434.5,541.9 1435.0,540.7 1435.5,540.4 1436.0,541.6 1436.5,542.7 1437.0,541.8 1437.5,545.6 1438.0,542.7 1438.5,543.5 1439.0,543.2 1439.5,541.7 1440.0,544.7 1440.5,544.3 1441.0,544.7 1441.5,542.7 1442.0,544.0 1442.5,544.0 1443.0,545.6 1443.5,542.7 1444.0,545.3 1444.5,546.2 1445.0,544.3 1445.5,543.9 1446.0,546.7 1446.5,545.5 1447.0,546.7 1447.5,546.4 1448.0,546.9 1448.5,545.5 1449.0,543.3 1449.5,546.7 1450.0,545.3 1450.5,547.0 1451.0,545.8 1451.5,548.5 1452.0,546.4 1452.5,547.8 1453.0,548.3 1453.5,547.0 1454.0,547.6 1454.5,547.3 1455.0,546.3 1455.5,549.4 1456.0,546.6 1456.5,545.9 1457.0,547.4 1457.5,548.3 1458.0,548.3 1458.5,548.0 1459.0,548.0 1459.5,546.0 1460.0,549.5 1460.5,551.0 1461.0,548.1 1461.5,547.0 1462.0,550.2 1462.5,549.2 1463.0,544.7 1463.5,548.8 1464.0,548.0 1464.5,548.5 1465.0,552.5 1465.5,551.4 1466.0,550.2 1466.5,550.5 1467.0,552.6 1467.5,549.4 1468.0,551.8 1468.5,550.3 1469.0,552.2 1469.5,551.6 1470.0,550.6 1470.5,552.9 1471.0,552.4 1471.5,554.1 1472.0,551.5 1472.5,552.3 1473.0,551.5 1473.5,553.9 1474.0,551.6 1474.5,552.7 1475.0,554.4 1475.5,553.6 1476.0,553.5 1476.5,553.6 1477.0,553.8 1477.5,554.3 1478.0,553.3 1478.5,551.3 1479.0,555.5 1479.5,552.7 1480.0,556.4 1480.5,554.7 1481.0,558.3 1481.5,556.0 1482.0,555.2 1482.5,556.0 1483.0,553.3 1483.5,555.3 1484.0,554.8 1484.5,555.4 1485.0,553.0 1485.5,552.9 1486.0,556.6 1486.5,555.9 1487.0,555.5 1487.5,556.0 1488.0,555.5 1488.5,555.8 1489.0,557.4 1489.5,556.4 1490.0,557.7 1490.5,556.1 1491.0,554.8 1491.5,556.4 1492.0,557.1 1492.5,556.1 1493.0,557.1 1493.5,557.1 1494.0,559.0 1494.5,559.0 1495.0,559.5 1495.5,557.3 1496.0,558.8 1496.5,560.1 1497.0,558.9 1497.5,558.7 1498.0,558.0 1498.5,560.1 1499.0,559.4 1499.5,560.6 1500.0,559.3 1500.5,562.2 1501.0,559.7 1501.5,558.4 1502.0,560.3 1502.5,560.8 1503.0,561.9 1503.5,559.9 1504.0,559.9 1504.5,560.4 1505.0,560.4 1505.5,558.4 1506.0,562.0 1506.5,562.8 1507.0,560.5 1507.5,560.4 1508.0,561.5 1508.5,560.9 1509.0,563.0 1509.5,561.4 1510.0,563.0 1510.5,560.9 1511.0,560.9 1511.5,560.8 1512.0,561.1 1512.5,563.5 1513.0,564.2 1513.5,563.5 1514.0,563.7 1514.5,560.9 1515.0,565.1 1515.5,562.4 1516.0,565.6 1516.5,567.1 1517.0,564.4 1517.5,565.3 1518.0,565.4 1518.5,563.2 1519.0,563.6 1519.5,564.3 1520.0,565.4 1520.5,566.4 1521.0,565.7 1521.5,567.0 1522.0,565.2 1522.5,564.3 1523.0,566.2 1523.5,566.2 1524.0,564.7 1524.5,567.9 1525.0,565.6 1525.5,566.0 1526.0,567.3 1526.5,565.9 1527.0,568.1 1527.5,568.0 1528.0,568.2 1528.5,567.8 1529.0,567.4 1529.5,567.2 1530.0,568.7 1530.5,570.1 1531.0,569.6" fill="none" stroke="#066a37" stroke-width="1.8" stroke-linejoin="round" stroke-miterlimit="4" stroke-linecap="butt"/>
<path d="M912.2,28.3 913.7,34.5 915.2,40.7 916.7,46.7 918.2,52.4 919.7,57.9 921.2,63.1 922.7,68.1 924.2,73.0 925.7,77.8 927.2,82.5 928.7,87.1 930.2,91.6 931.7,96.0 933.2,100.2 934.7,104.4 936.2,108.4 937.7,112.3 939.2,116.1 940.7,119.8 942.2,123.4 943.7,126.8 945.2,130.2 946.7,133.4 948.2,136.6 949.7,139.7 951.2,142.8 952.7,145.7 954.2,148.6 955.7,151.5 957.2,154.2 958.7,156.9 960.2,159.6 961.7,162.2 963.2,164.7 964.7,167.2 966.2,169.5 967.7,171.8 969.2,174.1 970.7,176.3 972.2,178.4 973.7,180.6 975.2,182.7 976.7,184.8 978.2,187.0 979.7,189.2 981.2,191.4 982.7,193.7 984.2,196.0 985.7,198.4 987.2,200.9 988.7,203.3 990.2,205.8 991.7,208.4 993.2,210.9 994.7,213.4 996.2,215.8 997.7,218.2 999.2,220.6 1000.7,222.9 1002.2,225.1 1003.7,227.2 1005.2,229.2 1006.7,231.2 1008.2,233.1 1009.7,235.0 1011.2,236.8 1012.7,238.6 1014.2,240.4 1015.7,242.1 1017.2,243.9 1018.7,245.6 1020.2,247.3 1021.7,249.0 1023.2,250.7 1024.7,252.4 1026.2,254.1 1027.7,255.8 1029.2,257.5 1030.7,259.2 1032.2,260.9 1033.7,262.6 1035.2,264.2 1036.7,265.9 1038.2,267.5 1039.7,269.1 1041.2,270.7 1042.7,272.3 1044.2,273.9 1045.7,275.5 1047.2,277.0 1048.7,278.6 1050.2,280.1 1051.7,281.5 1053.2,283.0 1054.7,284.5 1056.2,286.0 1057.7,287.4 1059.2,288.9 1060.7,290.4 1062.2,291.9 1063.7,293.4 1065.2,294.9 1066.7,296.5 1068.1,298.1 1069.6,299.7 1071.1,301.4 1072.6,303.1 1074.1,304.8 1075.6,306.4 1077.1,308.1 1078.6,309.8 1080.1,311.5 1081.6,313.1 1083.1,314.7 1084.6,316.2 1086.1,317.7 1087.6,319.2 1089.1,320.6 1090.6,322.0 1092.1,323.4 1093.6,324.8 1095.1,326.1 1096.6,327.4 1098.1,328.7 1099.6,330.0 1101.1,331.3 1102.6,332.7 1104.1,334.0 1105.6,335.3 1107.1,336.6 1108.6,338.0 1110.1,339.3 1111.6,340.7 1113.1,342.1 1114.6,343.5 1116.1,344.8 1117.6,346.2 1119.1,347.6 1120.6,348.9 1122.1,350.3 1123.6,351.6 1125.1,352.9 1126.6,354.2 1128.1,355.5 1129.6,356.7 1131.1,358.0 1132.6,359.2 1134.1,360.4 1135.6,361.6 1137.1,362.8 1138.6,364.0 1140.1,365.2 1141.6,366.4 1143.1,367.5 1144.6,368.7 1146.1,369.9 1147.6,371.1 1149.1,372.3 1150.6,373.5 1152.1,374.7 1153.6,375.9 1155.1,377.2 1156.6,378.4 1158.1,379.6 1159.6,380.8 1161.1,382.0 1162.6,383.2 1164.1,384.4 1165.6,385.6 1167.1,386.7 1168.6,387.9 1170.1,389.0 1171.6,390.1 1173.1,391.2 1174.6,392.3 1176.1,393.3 1177.6,394.4 1179.1,395.4 1180.6,396.4 1182.1,397.5 1183.6,398.5 1185.1,399.5 1186.6,400.5 1188.1,401.6 1189.6,402.6 1191.1,403.7 1192.6,404.8 1194.1,405.8 1195.6,406.9 1197.1,408.0 1198.6,409.1 1200.1,410.2 1201.6,411.3 1203.1,412.4 1204.6,413.5 1206.1,414.6 1207.6,415.7 1209.1,416.7 1210.6,417.8 1212.1,418.8 1213.6,419.9 1215.1,420.9 1216.6,421.8 1218.1,422.8 1219.6,423.8 1221.1,424.7 1222.6,425.6 1224.1,426.5 1225.6,427.3 1227.1,428.2 1228.6,429.0 1230.1,429.9 1231.6,430.7 1233.1,431.5 1234.6,432.3 1236.1,433.1 1237.6,433.9 1239.1,434.7 1240.6,435.5 1242.1,436.2 1243.6,437.0 1245.1,437.8 1246.6,438.5 1248.1,439.3 1249.6,440.1 1251.1,440.9 1252.6,441.6 1254.1,442.4 1255.6,443.2 1257.1,444.0 1258.6,444.8 1260.1,445.6 1261.6,446.4 1263.1,447.2 1264.6,448.0 1266.1,448.9 1267.6,449.7 1269.1,450.6 1270.6,451.4 1272.1,452.2 1273.6,453.1 1275.1,453.9 1276.6,454.8 1278.1,455.6 1279.6,456.5 1281.1,457.3 1282.6,458.2 1284.1,459.0 1285.6,459.9 1287.1,460.7 1288.6,461.5 1290.1,462.4 1291.6,463.2 1293.1,464.0 1294.6,464.8 1296.1,465.6 1297.6,466.4 1299.1,467.2 1300.6,467.9 1302.1,468.7 1303.6,469.4 1305.1,470.2 1306.6,470.9 1308.1,471.6 1309.6,472.3 1311.1,473.1 1312.6,473.8 1314.1,474.5 1315.6,475.2 1317.1,475.9 1318.6,476.5 1320.1,477.2 1321.6,477.9 1323.1,478.6 1324.6,479.3 1326.1,479.9 1327.6,480.6 1329.1,481.2 1330.6,481.9 1332.1,482.6 1333.6,483.2 1335.1,483.9 1336.6,484.5 1338.1,485.1 1339.6,485.8 1341.1,486.4 1342.6,487.1 1344.1,487.7 1345.6,488.3 1347.1,489.0 1348.6,489.6 1350.1,490.2 1351.6,490.9 1353.1,491.5 1354.6,492.1 1356.1,492.7 1357.6,493.4 1359.1,494.0 1360.6,494.6 1362.1,495.2 1363.6,495.8 1365.1,496.4 1366.6,497.0 1368.1,497.6 1369.6,498.2 1371.1,498.8 1372.6,499.4 1374.1,500.0 1375.6,500.5 1377.0,501.1 1378.5,501.7 1380.0,502.2 1381.5,502.8 1383.0,503.3 1384.5,503.9 1386.0,504.4 1387.5,505.0 1389.0,505.5 1390.5,506.0 1392.0,506.5 1393.5,507.1 1395.0,507.6 1396.5,508.1 1398.0,508.6 1399.5,509.1 1401.0,509.6 1402.5,510.1 1404.0,510.6 1405.5,511.1 1407.0,511.6 1408.5,512.1 1410.0,512.5 1411.5,513.0 1413.0,513.5 1414.5,514.0 1416.0,514.4 1417.5,514.9 1419.0,515.4 1420.5,515.8 1422.0,516.3 1423.5,516.7 1425.0,517.2 1426.5,517.6 1428.0,518.1 1429.5,518.5 1431.0,519.0 1432.5,519.4 1434.0,519.8 1435.5,520.2 1437.0,520.7 1438.5,521.1 1440.0,521.5 1441.5,521.9 1443.0,522.3 1444.5,522.7 1446.0,523.1 1447.5,523.5 1449.0,524.0 1450.5,524.4 1452.0,524.8 1453.5,525.2 1455.0,525.6 1456.5,526.0 1458.0,526.4 1459.5,526.8 1461.0,527.2 1462.5,527.6 1464.0,528.0 1465.5,528.4 1467.0,528.8 1468.5,529.2 1470.0,529.6 1471.5,530.0 1473.0,530.4 1474.5,530.9 1476.0,531.3 1477.5,531.7 1479.0,532.1 1480.5,532.5 1482.0,533.0 1483.5,533.4 1485.0,533.8 1486.5,534.2 1488.0,534.6 1489.5,535.1 1491.0,535.5 1492.5,535.9 1494.0,536.3 1495.5,536.7 1497.0,537.1 1498.5,537.5 1500.0,537.9 1501.5,538.4 1503.0,538.8 1504.5,539.2 1506.0,539.6 1507.5,539.9 1509.0,540.3 1510.5,540.7 1512.0,541.1 1513.5,541.5 1515.0,541.9 1516.5,542.3 1518.0,542.6 1519.5,543.0 1521.0,543.4 1522.5,543.7 1524.0,544.1 1525.5,544.5 1527.0,544.8 1528.5,545.2 1530.0,545.6" fill="none" stroke="#f0951f" stroke-width="3.8" stroke-linejoin="round"/>
<path d="M912.2,28.3 912.7,28.8 913.2,32.2 913.7,35.0 914.2,37.9 914.7,38.8 915.2,40.0 915.7,41.8 916.2,45.6 916.7,48.6 917.2,48.9 917.7,49.1 918.2,51.3 918.7,56.1 919.2,56.4 919.7,55.9 920.2,59.6 920.7,60.1 921.2,62.4 921.7,64.2 922.2,65.6 922.7,68.7 923.2,69.7 923.7,70.7 924.2,73.5 924.7,75.6 925.2,74.3 925.7,77.5 926.2,78.3 926.7,80.8 927.2,81.0 927.7,84.1 928.2,85.5 928.7,86.8 929.2,87.4 929.7,89.7 930.2,90.4 930.7,91.5 931.2,94.8 931.7,94.7 932.2,98.7 932.7,99.6 933.2,98.0 933.7,101.9 934.2,101.8 934.7,104.4 935.2,105.8 935.7,104.8 936.2,108.2 936.7,109.5 937.2,112.1 937.7,111.0 938.2,114.4 938.7,113.6 939.2,115.8 939.7,116.4 940.2,120.2 940.7,120.4 941.2,123.7 941.7,122.9 942.2,124.3 942.7,125.5 943.2,125.0 943.7,126.7 944.2,129.5 944.7,128.6 945.2,130.4 945.7,131.3 946.2,133.0 946.7,133.0 947.2,134.4 947.7,135.9 948.2,136.8 948.7,136.7 949.2,139.7 949.7,138.3 950.2,139.4 950.7,140.4 951.2,143.9 951.7,143.4 952.2,143.7 952.7,144.5 953.2,147.2 953.7,146.5 954.2,147.2 954.7,150.3 955.2,149.2 955.7,151.1 956.2,152.4 956.7,152.8 957.2,154.2 957.7,156.6 958.2,155.5 958.7,155.5 959.2,155.8 959.7,158.5 960.2,159.2 960.7,160.7 961.2,160.8 961.7,161.7 962.2,162.2 962.7,163.3 963.2,164.9 963.7,165.1 964.2,166.5 964.7,169.3 965.2,168.5 965.7,167.0 966.2,171.4 966.7,170.7 967.2,170.0 967.7,172.8 968.2,172.6 968.7,172.7 969.2,173.4 969.7,173.7 970.2,175.6 970.7,177.4 971.2,176.6 971.7,178.2 972.2,180.5 972.7,177.8 973.2,180.1 973.7,180.2 974.2,180.1 974.7,180.9 975.2,182.7 975.7,183.9 976.2,183.5 976.7,184.9 977.2,186.3 977.7,186.6 978.2,187.9 978.7,188.2 979.2,189.0 979.7,191.1 980.2,190.6 980.7,190.8 981.2,192.2 981.7,191.1 982.2,192.5 982.7,194.5 983.2,195.1 983.7,196.9 984.2,196.0 984.7,195.2 985.2,199.7 985.7,199.6 986.2,198.1 986.7,201.5 987.2,200.9 987.7,199.7 988.2,202.1 988.7,202.8 989.2,205.9 989.7,204.2 990.2,205.6 990.7,206.4 991.2,207.1 991.7,207.4 992.2,209.4 992.7,211.2 993.2,211.5 993.7,210.7 994.2,211.3 994.7,213.5 995.2,213.4 995.7,214.3 996.2,214.0 996.7,218.7 997.2,218.4 997.7,217.2 998.2,220.0 998.7,221.3 999.2,218.0 999.7,220.8 1000.2,221.7 1000.7,223.6 1001.2,223.5 1001.7,224.1 1002.2,225.0 1002.7,227.8 1003.2,228.8 1003.7,226.6 1004.2,226.9 1004.7,231.4 1005.2,228.2 1005.7,229.3 1006.2,230.6 1006.7,231.7 1007.2,232.9 1007.7,232.9 1008.2,232.2 1008.7,234.3 1009.2,234.6 1009.7,237.0 1010.2,235.6 1010.7,234.8 1011.2,235.7 1011.7,239.0 1012.2,237.4 1012.7,236.4 1013.2,238.6 1013.7,239.8 1014.2,241.6 1014.7,239.9 1015.2,242.3 1015.7,243.0 1016.2,242.0 1016.7,243.1 1017.2,245.7 1017.7,246.3 1018.2,245.9 1018.7,245.9 1019.2,247.3 1019.7,246.6 1020.2,247.2 1020.7,246.9 1021.2,248.4 1021.7,248.9 1022.2,252.5 1022.7,249.9 1023.2,252.0 1023.7,252.7 1024.2,251.6 1024.7,253.7 1025.2,250.7 1025.7,253.7 1026.2,255.0 1026.7,252.2 1027.2,254.1 1027.7,257.0 1028.2,256.1 1028.7,255.8 1029.2,257.1 1029.7,257.5 1030.2,259.4 1030.7,259.7 1031.2,259.5 1031.7,259.6 1032.2,260.8 1032.7,262.9 1033.2,262.4 1033.7,263.2 1034.2,263.0 1034.7,262.3 1035.2,263.5 1035.7,265.5 1036.2,265.4 1036.7,264.9 1037.2,264.7 1037.7,267.1 1038.2,267.1 1038.7,267.7 1039.2,268.2 1039.7,269.4 1040.2,270.0 1040.7,271.2 1041.2,271.7 1041.7,272.7 1042.2,272.6 1042.7,272.0 1043.2,272.8 1043.7,273.9 1044.2,273.6 1044.7,275.0 1045.2,276.2 1045.7,274.7 1046.2,274.2 1046.7,277.8 1047.2,277.1 1047.7,278.3 1048.2,276.7 1048.7,280.4 1049.2,279.8 1049.7,279.4 1050.2,279.7 1050.7,280.7 1051.2,280.9 1051.7,281.3 1052.2,280.9 1052.7,283.8 1053.2,283.0 1053.7,283.6 1054.2,284.1 1054.7,282.0 1055.2,285.5 1055.7,285.1 1056.2,285.7 1056.7,286.5 1057.2,285.9 1057.7,288.3 1058.2,287.2 1058.7,287.5 1059.2,288.0 1059.7,289.6 1060.2,290.7 1060.7,289.8 1061.2,289.3 1061.7,292.5 1062.2,290.8 1062.7,293.6 1063.2,292.8 1063.7,292.7 1064.2,293.2 1064.7,294.9 1065.2,295.8 1065.7,295.2 1066.2,296.9 1066.7,298.7 1067.1,296.8 1067.6,296.4 1068.1,297.0 1068.6,297.2 1069.1,298.5 1069.6,299.0 1070.1,298.9 1070.6,301.4 1071.1,298.7 1071.6,300.6 1072.1,304.6 1072.6,304.1 1073.1,304.2 1073.6,304.7 1074.1,306.6 1074.6,305.9 1075.1,306.0 1075.6,305.2 1076.1,306.9 1076.6,306.8 1077.1,307.4 1077.6,308.0 1078.1,309.2 1078.6,309.5 1079.1,311.2 1079.6,309.6 1080.1,311.3 1080.6,313.9 1081.1,312.6 1081.6,314.3 1082.1,314.8 1082.6,315.5 1083.1,315.4 1083.6,313.8 1084.1,315.5 1084.6,315.8 1085.1,315.2 1085.6,316.8 1086.1,316.5 1086.6,316.5 1087.1,318.9 1087.6,319.2 1088.1,319.0 1088.6,319.2 1089.1,320.1 1089.6,320.7 1090.1,321.2 1090.6,322.0 1091.1,322.1 1091.6,323.4 1092.1,323.9 1092.6,324.2 1093.1,323.6 1093.6,324.1 1094.1,325.7 1094.6,325.5 1095.1,326.1 1095.6,324.0 1096.1,324.2 1096.6,327.8 1097.1,328.2 1097.6,329.7 1098.1,329.5 1098.6,329.4 1099.1,329.6 1099.6,328.6 1100.1,331.4 1100.6,330.3 1101.1,331.9 1101.6,332.0 1102.1,332.5 1102.6,333.6 1103.1,332.6 1103.6,333.1 1104.1,333.1 1104.6,334.0 1105.1,336.5 1105.6,334.9 1106.1,336.9 1106.6,337.0 1107.1,337.4 1107.6,337.9 1108.1,336.5 1108.6,338.4 1109.1,340.0 1109.6,338.2 1110.1,339.3 1110.6,339.1 1111.1,340.6 1111.6,339.6 1112.1,342.8 1112.6,341.2 1113.1,340.5 1113.6,344.3 1114.1,344.0 1114.6,344.0 1115.1,344.5 1115.6,344.0 1116.1,344.6 1116.6,346.0 1117.1,346.7 1117.6,347.1 1118.1,346.9 1118.6,346.6 1119.1,347.4 1119.6,349.1 1120.1,349.9 1120.6,348.6 1121.1,348.9 1121.6,351.1 1122.1,351.0 1122.6,351.4 1123.1,349.8 1123.6,351.2 1124.1,351.5 1124.6,352.7 1125.1,351.2 1125.6,354.6 1126.1,354.1 1126.6,354.6 1127.1,353.4 1127.6,355.0 1128.1,356.8 1128.6,354.3 1129.1,356.6 1129.6,357.4 1130.1,356.5 1130.6,358.4 1131.1,357.6 1131.6,359.6 1132.1,359.3 1132.6,359.4 1133.1,361.6 1133.6,360.8 1134.1,361.7 1134.6,359.6 1135.1,360.6 1135.6,362.5 1136.1,362.9 1136.6,362.4 1137.1,363.6 1137.6,362.2 1138.1,363.8 1138.6,362.9 1139.1,364.7 1139.6,364.3 1140.1,364.5 1140.6,365.6 1141.1,367.8 1141.6,365.4 1142.1,366.2 1142.6,368.2 1143.1,367.1 1143.6,369.7 1144.1,368.6 1144.6,368.8 1145.1,369.5 1145.6,371.2 1146.1,370.6 1146.6,370.8 1147.1,371.0 1147.6,369.6 1148.1,370.6 1148.6,373.4 1149.1,373.1 1149.6,373.2 1150.1,373.7 1150.6,373.0 1151.1,374.2 1151.6,373.4 1152.1,375.1 1152.6,374.4 1153.1,375.3 1153.6,376.4 1154.1,376.0 1154.6,377.4 1155.1,377.6 1155.6,377.9 1156.1,379.3 1156.6,376.9 1157.1,377.2 1157.6,379.8 1158.1,380.5 1158.6,382.0 1159.1,381.2 1159.6,381.6 1160.1,380.4 1160.6,382.4 1161.1,382.7 1161.6,381.4 1162.1,382.0 1162.6,383.1 1163.1,383.9 1163.6,381.1 1164.1,384.5 1164.6,385.0 1165.1,385.0 1165.6,385.9 1166.1,386.4 1166.6,385.4 1167.1,387.2 1167.6,386.9 1168.1,386.6 1168.6,388.1 1169.1,389.7 1169.6,387.2 1170.1,387.4 1170.6,387.8 1171.1,391.7 1171.6,389.9 1172.1,390.4 1172.6,390.1 1173.1,390.3 1173.6,389.6 1174.1,392.1 1174.6,392.5 1175.1,390.7 1175.6,391.9 1176.1,392.6 1176.6,393.6 1177.1,394.2 1177.6,395.5 1178.1,396.0 1178.6,396.1 1179.1,396.7 1179.6,394.6 1180.1,395.5 1180.6,397.5 1181.1,397.1 1181.6,397.1 1182.1,395.5 1182.6,396.0 1183.1,398.9 1183.6,398.8 1184.1,398.5 1184.6,398.8 1185.1,397.8 1185.6,400.2 1186.1,401.2 1186.6,402.1 1187.1,400.9 1187.6,401.0 1188.1,400.5 1188.6,403.1 1189.1,403.9 1189.6,402.0 1190.1,403.3 1190.6,403.4 1191.1,403.1 1191.6,401.6 1192.1,404.0 1192.6,405.3 1193.1,403.7 1193.6,404.7 1194.1,402.6 1194.6,407.4 1195.1,407.0 1195.6,407.0 1196.1,407.0 1196.6,407.0 1197.1,407.9 1197.6,408.1 1198.1,408.5 1198.6,409.1 1199.1,409.6 1199.6,411.3 1200.1,408.8 1200.6,410.8 1201.1,410.3 1201.6,410.2 1202.1,409.4 1202.6,412.6 1203.1,411.4 1203.6,412.0 1204.1,413.6 1204.6,412.4 1205.1,413.9 1205.6,414.1 1206.1,415.3 1206.6,415.9 1207.1,414.5 1207.6,416.5 1208.1,415.9 1208.6,416.5 1209.1,416.5 1209.6,417.8 1210.1,416.3 1210.6,418.0 1211.1,419.3 1211.6,418.2 1212.1,420.8 1212.6,418.5 1213.1,419.7 1213.6,419.4 1214.1,419.6 1214.6,419.4 1215.1,420.3 1215.6,421.1 1216.1,420.7 1216.6,422.7 1217.1,423.6 1217.6,421.0 1218.1,423.6 1218.6,423.3 1219.1,423.7 1219.6,426.1 1220.1,425.2 1220.6,424.7 1221.1,424.8 1221.6,422.9 1222.1,426.0 1222.6,424.9 1223.1,426.0 1223.6,426.3 1224.1,427.4 1224.6,428.7 1225.1,428.0 1225.6,428.5 1226.1,427.4 1226.6,428.3 1227.1,428.9 1227.6,427.1 1228.1,430.7 1228.6,428.3 1229.1,428.1 1229.6,431.2 1230.1,431.9 1230.6,429.5 1231.1,429.8 1231.6,433.7 1232.1,431.1 1232.6,429.3 1233.1,430.9 1233.6,433.7 1234.1,432.7 1234.6,433.0 1235.1,433.7 1235.6,433.5 1236.1,432.8 1236.6,431.8 1237.1,434.1 1237.6,432.8 1238.1,434.1 1238.6,436.1 1239.1,435.2 1239.6,435.0 1240.1,435.3 1240.6,436.2 1241.1,436.6 1241.6,434.7 1242.1,436.4 1242.6,438.1 1243.1,437.5 1243.6,436.3 1244.1,436.6 1244.6,435.6 1245.1,437.0 1245.6,439.6 1246.1,438.2 1246.6,437.7 1247.1,438.3 1247.6,439.0 1248.1,439.2 1248.6,439.2 1249.1,439.1 1249.6,440.7 1250.1,441.8 1250.6,440.1 1251.1,440.3 1251.6,442.3 1252.1,440.0 1252.6,441.1 1253.1,441.5 1253.6,442.3 1254.1,442.2 1254.6,441.8 1255.1,443.2 1255.6,442.1 1256.1,441.8 1256.6,441.8 1257.1,444.7 1257.6,442.6 1258.1,444.9 1258.6,445.4 1259.1,445.8 1259.6,445.2 1260.1,445.1 1260.6,445.9 1261.1,445.6 1261.6,445.2 1262.1,447.9 1262.6,446.1 1263.1,448.9 1263.6,448.0 1264.1,447.3 1264.6,448.5 1265.1,449.5 1265.6,447.3 1266.1,448.0 1266.6,448.2 1267.1,449.6 1267.6,450.1 1268.1,450.0 1268.6,449.6 1269.1,450.1 1269.6,452.0 1270.1,452.2 1270.6,451.5 1271.1,450.4 1271.6,452.6 1272.1,452.5 1272.6,452.8 1273.1,454.4 1273.6,453.9 1274.1,452.5 1274.6,452.8 1275.1,455.2 1275.6,454.4 1276.1,455.3 1276.6,454.7 1277.1,454.2 1277.6,455.7 1278.1,457.2 1278.6,456.3 1279.1,455.2 1279.6,456.3 1280.1,456.4 1280.6,457.3 1281.1,458.4 1281.6,459.6 1282.1,458.2 1282.6,457.9 1283.1,458.6 1283.6,458.9 1284.1,458.7 1284.6,459.4 1285.1,459.7 1285.6,458.9 1286.1,460.8 1286.6,460.2 1287.1,459.9 1287.6,461.5 1288.1,460.9 1288.6,463.3 1289.1,462.4 1289.6,462.3 1290.1,461.7 1290.6,462.3 1291.1,463.8 1291.6,462.6 1292.1,464.3 1292.6,461.8 1293.1,464.3 1293.6,465.1 1294.1,464.9 1294.6,464.9 1295.1,466.1 1295.6,464.6 1296.1,464.8 1296.6,466.0 1297.1,467.3 1297.6,466.9 1298.1,466.5 1298.6,467.3 1299.1,467.6 1299.6,466.3 1300.1,465.1 1300.6,467.0 1301.1,466.9 1301.6,468.0 1302.1,467.6 1302.6,468.2 1303.1,469.7 1303.6,469.6 1304.1,469.7 1304.6,471.5 1305.1,469.8 1305.6,470.1 1306.1,471.9 1306.6,469.9 1307.1,469.7 1307.6,472.7 1308.1,472.0 1308.6,472.5 1309.1,472.8 1309.6,473.3 1310.1,472.2 1310.6,472.8 1311.1,472.1 1311.6,473.5 1312.1,473.8 1312.6,473.4 1313.1,474.7 1313.6,477.1 1314.1,473.5 1314.6,475.6 1315.1,475.9 1315.6,476.3 1316.1,474.8 1316.6,476.9 1317.1,476.6 1317.6,476.1 1318.1,476.1 1318.6,476.9 1319.1,477.8 1319.6,478.0 1320.1,479.5 1320.6,477.3 1321.1,478.4 1321.6,477.7 1322.1,479.0 1322.6,478.6 1323.1,478.2 1323.6,477.7 1324.1,478.5 1324.6,479.6 1325.1,481.0 1325.6,480.6 1326.1,479.0 1326.6,479.8 1327.1,480.5 1327.6,480.6 1328.1,481.0 1328.6,481.9 1329.1,481.5 1329.6,480.9 1330.1,480.0 1330.6,481.7 1331.1,480.6 1331.6,482.2 1332.1,482.9 1332.6,481.6 1333.1,482.9 1333.6,482.9 1334.1,485.2 1334.6,484.1 1335.1,482.1 1335.6,484.5 1336.1,484.6 1336.6,484.3 1337.1,484.3 1337.6,485.4 1338.1,485.7 1338.6,485.7 1339.1,484.6 1339.6,485.5 1340.1,484.5 1340.6,484.8 1341.1,485.8 1341.6,485.6 1342.1,486.4 1342.6,489.3 1343.1,487.6 1343.6,486.6 1344.1,485.6 1344.6,487.0 1345.1,486.7 1345.6,486.2 1346.1,489.1 1346.6,488.2 1347.1,489.3 1347.6,491.9 1348.1,489.5 1348.6,489.6 1349.1,490.0 1349.6,489.7 1350.1,489.4 1350.6,490.1 1351.1,491.6 1351.6,490.5 1352.1,489.7 1352.6,490.0 1353.1,490.4 1353.6,491.6 1354.1,492.2 1354.6,492.4 1355.1,493.3 1355.6,492.2 1356.1,493.4 1356.6,493.2 1357.1,493.7 1357.6,491.6 1358.1,494.6 1358.6,492.3 1359.1,492.9 1359.6,494.8 1360.1,494.0 1360.6,496.2 1361.1,494.9 1361.6,494.0 1362.1,495.3 1362.6,495.0 1363.1,497.0 1363.6,497.3 1364.1,496.7 1364.6,495.8 1365.1,496.5 1365.6,497.6 1366.1,496.1 1366.6,496.3 1367.1,498.0 1367.6,498.1 1368.1,497.4 1368.6,497.5 1369.1,496.2 1369.6,499.3 1370.1,498.3 1370.6,497.3 1371.1,497.7 1371.6,498.2 1372.1,500.7 1372.6,500.0 1373.1,498.3 1373.6,501.5 1374.1,501.2 1374.6,499.2 1375.1,497.9 1375.6,501.4 1376.1,500.2 1376.5,500.8 1377.0,500.6 1377.5,502.4 1378.0,502.8 1378.5,502.4 1379.0,501.7 1379.5,502.3 1380.0,502.8 1380.5,501.0 1381.0,503.7 1381.5,502.5 1382.0,503.2 1382.5,503.3 1383.0,504.2 1383.5,504.5 1384.0,505.7 1384.5,503.6 1385.0,503.2 1385.5,504.4 1386.0,503.8 1386.5,505.4 1387.0,504.1 1387.5,505.1 1388.0,506.0 1388.5,506.3 1389.0,505.7 1389.5,507.0 1390.0,507.0 1390.5,504.5 1391.0,506.5 1391.5,506.6 1392.0,506.3 1392.5,506.2 1393.0,507.0 1393.5,507.4 1394.0,507.5 1394.5,508.7 1395.0,508.5 1395.5,507.2 1396.0,507.3 1396.5,508.9 1397.0,507.7 1397.5,508.6 1398.0,509.1 1398.5,509.7 1399.0,509.4 1399.5,510.4 1400.0,508.9 1400.5,510.1 1401.0,509.0 1401.5,510.0 1402.0,510.1 1402.5,509.3 1403.0,507.9 1403.5,511.3 1404.0,511.0 1404.5,510.9 1405.0,510.3 1405.5,510.8 1406.0,511.7 1406.5,511.5 1407.0,512.7 1407.5,511.9 1408.0,511.2 1408.5,512.6 1409.0,511.7 1409.5,512.6 1410.0,510.9 1410.5,512.4 1411.0,513.4 1411.5,512.5 1412.0,513.2 1412.5,513.9 1413.0,513.6 1413.5,515.3 1414.0,513.6 1414.5,513.8 1415.0,514.0 1415.5,512.5 1416.0,513.1 1416.5,515.1 1417.0,514.5 1417.5,516.2 1418.0,515.0 1418.5,515.1 1419.0,516.3 1419.5,515.8 1420.0,517.1 1420.5,514.9 1421.0,516.4 1421.5,516.8 1422.0,516.8 1422.5,517.5 1423.0,517.5 1423.5,516.8 1424.0,516.4 1424.5,518.0 1425.0,517.3 1425.5,518.2 1426.0,518.8 1426.5,517.9 1427.0,517.0 1427.5,517.8 1428.0,518.9 1428.5,518.1 1429.0,519.5 1429.5,518.6 1430.0,518.9 1430.5,518.3 1431.0,519.0 1431.5,520.2 1432.0,519.0 1432.5,519.2 1433.0,518.9 1433.5,520.5 1434.0,518.5 1434.5,519.4 1435.0,521.0 1435.5,521.6 1436.0,520.3 1436.5,521.5 1437.0,518.9 1437.5,521.6 1438.0,521.3 1438.5,520.0 1439.0,519.7 1439.5,521.0 1440.0,521.8 1440.5,522.0 1441.0,521.9 1441.5,522.7 1442.0,522.7 1442.5,521.0 1443.0,522.0 1443.5,522.1 1444.0,523.6 1444.5,522.3 1445.0,523.8 1445.5,523.1 1446.0,525.3 1446.5,523.3 1447.0,523.5 1447.5,523.5 1448.0,523.9 1448.5,526.1 1449.0,523.5 1449.5,523.4 1450.0,524.1 1450.5,525.0 1451.0,523.6 1451.5,525.4 1452.0,525.5 1452.5,524.8 1453.0,524.8 1453.5,524.5 1454.0,525.1 1454.5,524.7 1455.0,526.7 1455.5,527.2 1456.0,525.6 1456.5,526.0 1457.0,524.4 1457.5,525.8 1458.0,526.7 1458.5,526.8 1459.0,526.8 1459.5,527.6 1460.0,527.0 1460.5,526.7 1461.0,528.6 1461.5,525.6 1462.0,526.4 1462.5,526.9 1463.0,527.1 1463.5,527.2 1464.0,527.8 1464.5,527.5 1465.0,528.2 1465.5,528.9 1466.0,528.6 1466.5,528.8 1467.0,528.0 1467.5,527.9 1468.0,528.8 1468.5,530.0 1469.0,529.7 1469.5,530.5 1470.0,530.5 1470.5,530.8 1471.0,529.2 1471.5,531.1 1472.0,530.9 1472.5,532.2 1473.0,531.0 1473.5,530.9 1474.0,530.6 1474.5,531.0 1475.0,529.5 1475.5,530.9 1476.0,531.3 1476.5,532.3 1477.0,531.0 1477.5,531.8 1478.0,533.5 1478.5,531.5 1479.0,532.9 1479.5,531.8 1480.0,532.3 1480.5,533.0 1481.0,533.5 1481.5,532.4 1482.0,532.1 1482.5,534.5 1483.0,533.4 1483.5,534.1 1484.0,534.3 1484.5,534.3 1485.0,533.6 1485.5,533.8 1486.0,532.7 1486.5,534.4 1487.0,534.0 1487.5,534.5 1488.0,536.3 1488.5,535.4 1489.0,535.0 1489.5,533.9 1490.0,535.9 1490.5,536.7 1491.0,534.8 1491.5,536.0 1492.0,535.3 1492.5,535.8 1493.0,535.7 1493.5,534.8 1494.0,535.9 1494.5,535.0 1495.0,537.8 1495.5,537.6 1496.0,536.9 1496.5,537.2 1497.0,537.2 1497.5,537.5 1498.0,537.6 1498.5,537.3 1499.0,537.5 1499.5,536.6 1500.0,537.1 1500.5,537.6 1501.0,538.4 1501.5,538.0 1502.0,540.2 1502.5,538.5 1503.0,538.5 1503.5,539.3 1504.0,539.9 1504.5,540.8 1505.0,540.2 1505.5,538.9 1506.0,539.4 1506.5,540.6 1507.0,540.1 1507.5,540.7 1508.0,540.0 1508.5,541.6 1509.0,541.6 1509.5,541.5 1510.0,540.8 1510.5,539.3 1511.0,539.7 1511.5,541.3 1512.0,541.7 1512.5,538.7 1513.0,541.0 1513.5,542.5 1514.0,542.5 1514.5,541.3 1515.0,542.5 1515.5,542.1 1516.0,542.0 1516.5,543.3 1517.0,543.4 1517.5,542.1 1518.0,541.8 1518.5,541.6 1519.0,541.7 1519.5,544.2 1520.0,544.8 1520.5,543.5 1521.0,544.3 1521.5,542.9 1522.0,543.6 1522.5,544.6 1523.0,544.2 1523.5,544.0 1524.0,542.7 1524.5,543.0 1525.0,544.0 1525.5,544.0 1526.0,544.6 1526.5,544.2 1527.0,544.7 1527.5,545.0 1528.0,545.6 1528.5,545.3 1529.0,544.9 1529.5,545.2 1530.0,546.4 1530.5,545.5 1531.0,545.0" fill="none" stroke="#f0951f" stroke-width="1.8" stroke-linejoin="round" stroke-miterlimit="4" stroke-linecap="butt"/>
<path d="M912.2,28.3 913.7,33.0 915.2,37.6 916.7,42.1 918.2,46.4 919.7,50.5 921.2,54.3 922.7,58.0 924.2,61.5 925.7,64.8 927.2,68.1 928.7,71.3 930.2,74.4 931.7,77.5 933.2,80.4 934.7,83.4 936.2,86.3 937.7,89.3 939.2,92.2 940.7,95.2 942.2,98.2 943.7,101.2 945.2,104.2 946.7,107.2 948.2,110.2 949.7,113.2 951.2,116.2 952.7,119.1 954.2,122.0 955.7,124.8 957.2,127.6 958.7,130.2 960.2,132.8 961.7,135.3 963.2,137.7 964.7,140.0 966.2,142.3 967.7,144.4 969.2,146.5 970.7,148.6 972.2,150.6 973.7,152.6 975.2,154.6 976.7,156.6 978.2,158.6 979.7,160.6 981.2,162.6 982.7,164.7 984.2,166.8 985.7,168.9 987.2,171.1 988.7,173.2 990.2,175.4 991.7,177.5 993.2,179.7 994.7,181.8 996.2,183.9 997.7,186.0 999.2,188.1 1000.7,190.1 1002.2,192.1 1003.7,194.1 1005.2,196.0 1006.7,197.9 1008.2,199.8 1009.7,201.7 1011.2,203.5 1012.7,205.4 1014.2,207.2 1015.7,209.0 1017.2,210.8 1018.7,212.5 1020.2,214.3 1021.7,216.0 1023.2,217.7 1024.7,219.4 1026.2,221.1 1027.7,222.7 1029.2,224.4 1030.7,226.0 1032.2,227.6 1033.7,229.2 1035.2,230.8 1036.7,232.3 1038.2,233.9 1039.7,235.5 1041.2,237.0 1042.7,238.6 1044.2,240.1 1045.7,241.7 1047.2,243.2 1048.7,244.8 1050.2,246.3 1051.7,247.9 1053.2,249.4 1054.7,251.0 1056.2,252.5 1057.7,254.0 1059.2,255.5 1060.7,257.0 1062.2,258.5 1063.7,260.0 1065.2,261.5 1066.7,262.9 1068.1,264.3 1069.6,265.7 1071.1,267.1 1072.6,268.5 1074.1,269.9 1075.6,271.3 1077.1,272.6 1078.6,274.0 1080.1,275.3 1081.6,276.7 1083.1,278.0 1084.6,279.4 1086.1,280.8 1087.6,282.1 1089.1,283.5 1090.6,284.9 1092.1,286.3 1093.6,287.6 1095.1,289.0 1096.6,290.4 1098.1,291.8 1099.6,293.2 1101.1,294.5 1102.6,295.9 1104.1,297.3 1105.6,298.7 1107.1,300.0 1108.6,301.4 1110.1,302.8 1111.6,304.2 1113.1,305.6 1114.6,307.0 1116.1,308.4 1117.6,309.8 1119.1,311.2 1120.6,312.6 1122.1,314.0 1123.6,315.3 1125.1,316.7 1126.6,318.0 1128.1,319.3 1129.6,320.6 1131.1,321.8 1132.6,323.1 1134.1,324.3 1135.6,325.5 1137.1,326.8 1138.6,328.0 1140.1,329.2 1141.6,330.4 1143.1,331.6 1144.6,332.8 1146.1,334.0 1147.6,335.3 1149.1,336.5 1150.6,337.8 1152.1,339.1 1153.6,340.4 1155.1,341.7 1156.6,343.0 1158.1,344.2 1159.6,345.5 1161.1,346.8 1162.6,348.1 1164.1,349.4 1165.6,350.6 1167.1,351.8 1168.6,353.0 1170.1,354.1 1171.6,355.2 1173.1,356.4 1174.6,357.4 1176.1,358.5 1177.6,359.6 1179.1,360.6 1180.6,361.7 1182.1,362.7 1183.6,363.7 1185.1,364.7 1186.6,365.7 1188.1,366.7 1189.6,367.7 1191.1,368.7 1192.6,369.7 1194.1,370.7 1195.6,371.7 1197.1,372.7 1198.6,373.6 1200.1,374.6 1201.6,375.6 1203.1,376.5 1204.6,377.5 1206.1,378.4 1207.6,379.3 1209.1,380.3 1210.6,381.2 1212.1,382.1 1213.6,383.1 1215.1,384.0 1216.6,384.9 1218.1,385.8 1219.6,386.8 1221.1,387.7 1222.6,388.6 1224.1,389.5 1225.6,390.4 1227.1,391.3 1228.6,392.2 1230.1,393.2 1231.6,394.1 1233.1,395.0 1234.6,395.9 1236.1,396.8 1237.6,397.7 1239.1,398.6 1240.6,399.5 1242.1,400.4 1243.6,401.2 1245.1,402.1 1246.6,403.0 1248.1,403.9 1249.6,404.8 1251.1,405.6 1252.6,406.5 1254.1,407.4 1255.6,408.2 1257.1,409.1 1258.6,409.9 1260.1,410.8 1261.6,411.6 1263.1,412.4 1264.6,413.3 1266.1,414.1 1267.6,414.9 1269.1,415.7 1270.6,416.6 1272.1,417.4 1273.6,418.2 1275.1,419.0 1276.6,419.8 1278.1,420.6 1279.6,421.4 1281.1,422.2 1282.6,423.0 1284.1,423.8 1285.6,424.5 1287.1,425.3 1288.6,426.1 1290.1,426.9 1291.6,427.7 1293.1,428.4 1294.6,429.2 1296.1,430.0 1297.6,430.8 1299.1,431.5 1300.6,432.3 1302.1,433.1 1303.6,433.8 1305.1,434.6 1306.6,435.4 1308.1,436.2 1309.6,436.9 1311.1,437.7 1312.6,438.5 1314.1,439.2 1315.6,440.0 1317.1,440.8 1318.6,441.5 1320.1,442.3 1321.6,443.1 1323.1,443.8 1324.6,444.6 1326.1,445.3 1327.6,446.1 1329.1,446.8 1330.6,447.5 1332.1,448.3 1333.6,449.0 1335.1,449.7 1336.6,450.4 1338.1,451.1 1339.6,451.8 1341.1,452.5 1342.6,453.2 1344.1,453.9 1345.6,454.6 1347.1,455.2 1348.6,455.9 1350.1,456.5 1351.6,457.2 1353.1,457.8 1354.6,458.4 1356.1,459.1 1357.6,459.7 1359.1,460.3 1360.6,460.9 1362.1,461.5 1363.6,462.1 1365.1,462.8 1366.6,463.4 1368.1,464.0 1369.6,464.6 1371.1,465.2 1372.6,465.7 1374.1,466.3 1375.6,466.9 1377.0,467.5 1378.5,468.1 1380.0,468.7 1381.5,469.3 1383.0,469.9 1384.5,470.5 1386.0,471.1 1387.5,471.7 1389.0,472.4 1390.5,473.0 1392.0,473.6 1393.5,474.2 1395.0,474.8 1396.5,475.4 1398.0,476.1 1399.5,476.7 1401.0,477.3 1402.5,477.9 1404.0,478.5 1405.5,479.1 1407.0,479.7 1408.5,480.4 1410.0,481.0 1411.5,481.6 1413.0,482.2 1414.5,482.8 1416.0,483.3 1417.5,483.9 1419.0,484.5 1420.5,485.1 1422.0,485.6 1423.5,486.2 1425.0,486.8 1426.5,487.3 1428.0,487.8 1429.5,488.4 1431.0,488.9 1432.5,489.4 1434.0,489.9 1435.5,490.4 1437.0,490.9 1438.5,491.4 1440.0,491.9 1441.5,492.4 1443.0,492.9 1444.5,493.4 1446.0,493.9 1447.5,494.4 1449.0,494.8 1450.5,495.3 1452.0,495.8 1453.5,496.3 1455.0,496.7 1456.5,497.2 1458.0,497.7 1459.5,498.2 1461.0,498.6 1462.5,499.1 1464.0,499.6 1465.5,500.1 1467.0,500.5 1468.5,501.0 1470.0,501.5 1471.5,502.0 1473.0,502.4 1474.5,502.9 1476.0,503.4 1477.5,503.9 1479.0,504.4 1480.5,504.8 1482.0,505.3 1483.5,505.8 1485.0,506.3 1486.5,506.7 1488.0,507.2 1489.5,507.7 1491.0,508.2 1492.5,508.6 1494.0,509.1 1495.5,509.6 1497.0,510.0 1498.5,510.5 1500.0,511.0 1501.5,511.4 1503.0,511.9 1504.5,512.3 1506.0,512.8 1507.5,513.3 1509.0,513.7 1510.5,514.2 1512.0,514.6 1513.5,515.0 1515.0,515.5 1516.5,515.9 1518.0,516.3 1519.5,516.8 1521.0,517.2 1522.5,517.6 1524.0,518.0 1525.5,518.5 1527.0,518.9 1528.5,519.3 1530.0,519.7" fill="none" stroke="#5c2d80" stroke-width="4.8" stroke-linejoin="round"/>
<path d="M912.2,28.3 912.7,30.9 913.2,30.5 913.7,29.9 914.2,33.0 914.7,32.7 915.2,37.8 915.7,43.8 916.2,39.0 916.7,40.0 917.2,45.3 917.7,46.3 918.2,46.8 918.7,44.6 919.2,49.1 919.7,52.9 920.2,47.2 920.7,51.5 921.2,47.8 921.7,51.1 922.2,50.5 922.7,57.2 923.2,54.8 923.7,61.2 924.2,62.0 924.7,62.0 925.2,55.1 925.7,63.0 926.2,65.8 926.7,67.4 927.2,62.9 927.7,67.6 928.2,66.9 928.7,68.5 929.2,75.9 929.7,70.6 930.2,74.3 930.7,78.4 931.2,74.5 931.7,77.1 932.2,78.8 932.7,79.7 933.2,76.3 933.7,81.7 934.2,87.0 934.7,78.2 935.2,87.3 935.7,85.8 936.2,84.2 936.7,94.1 937.2,90.9 937.7,85.2 938.2,90.5 938.7,93.2 939.2,91.6 939.7,95.5 940.2,94.0 940.7,97.4 941.2,101.0 941.7,94.9 942.2,98.9 942.7,97.6 943.2,100.6 943.7,97.2 944.2,100.3 944.7,102.6 945.2,107.2 945.7,109.0 946.2,101.8 946.7,104.6 947.2,110.4 947.7,102.6 948.2,108.7 948.7,110.9 949.2,116.4 949.7,115.5 950.2,113.1 950.7,114.0 951.2,115.4 951.7,122.2 952.2,116.7 952.7,118.1 953.2,121.3 953.7,120.6 954.2,121.3 954.7,119.3 955.2,123.8 955.7,123.4 956.2,129.6 956.7,128.8 957.2,127.5 957.7,130.7 958.2,128.2 958.7,133.7 959.2,131.1 959.7,133.9 960.2,128.6 960.7,134.8 961.2,129.0 961.7,128.6 962.2,135.1 962.7,134.0 963.2,138.3 963.7,145.9 964.2,136.5 964.7,138.0 965.2,141.5 965.7,143.1 966.2,141.7 966.7,142.3 967.2,146.0 967.7,146.1 968.2,141.8 968.7,145.6 969.2,146.6 969.7,143.8 970.2,148.8 970.7,145.8 971.2,152.4 971.7,150.6 972.2,150.9 972.7,149.4 973.2,151.6 973.7,146.1 974.2,149.6 974.7,155.1 975.2,147.7 975.7,158.0 976.2,150.3 976.7,159.1 977.2,154.5 977.7,160.4 978.2,159.0 978.7,154.3 979.2,164.0 979.7,165.3 980.2,161.1 980.7,161.1 981.2,162.1 981.7,160.2 982.2,167.5 982.7,162.9 983.2,165.2 983.7,163.5 984.2,164.8 984.7,163.4 985.2,172.3 985.7,168.4 986.2,172.7 986.7,170.4 987.2,168.8 987.7,170.7 988.2,170.7 988.7,173.2 989.2,172.7 989.7,173.7 990.2,170.9 990.7,173.5 991.2,182.1 991.7,175.4 992.2,174.8 992.7,180.0 993.2,184.2 993.7,175.7 994.2,180.4 994.7,179.8 995.2,176.9 995.7,185.6 996.2,183.8 996.7,184.8 997.2,182.9 997.7,187.5 998.2,185.0 998.7,186.9 999.2,184.5 999.7,184.9 1000.2,193.7 1000.7,188.5 1001.2,191.7 1001.7,191.4 1002.2,190.7 1002.7,191.2 1003.2,195.4 1003.7,193.1 1004.2,194.3 1004.7,195.5 1005.2,199.8 1005.7,198.8 1006.2,198.5 1006.7,196.1 1007.2,194.2 1007.7,202.2 1008.2,202.9 1008.7,200.0 1009.2,202.8 1009.7,204.2 1010.2,204.9 1010.7,205.8 1011.2,202.1 1011.7,208.9 1012.2,200.8 1012.7,208.1 1013.2,207.5 1013.7,209.3 1014.2,213.1 1014.7,212.5 1015.2,204.8 1015.7,203.7 1016.2,212.2 1016.7,207.0 1017.2,210.7 1017.7,214.0 1018.2,206.8 1018.7,205.9 1019.2,213.9 1019.7,213.8 1020.2,213.5 1020.7,215.0 1021.2,212.7 1021.7,211.2 1022.2,216.0 1022.7,214.1 1023.2,212.6 1023.7,219.9 1024.2,218.7 1024.7,220.7 1025.2,216.9 1025.7,218.5 1026.2,218.0 1026.7,218.9 1027.2,222.8 1027.7,220.3 1028.2,224.4 1028.7,224.9 1029.2,230.7 1029.7,220.6 1030.2,228.2 1030.7,225.7 1031.2,226.5 1031.7,222.6 1032.2,226.2 1032.7,230.5 1033.2,228.4 1033.7,229.4 1034.2,228.8 1034.7,233.8 1035.2,230.7 1035.7,224.5 1036.2,229.7 1036.7,226.2 1037.2,222.8 1037.7,231.7 1038.2,238.0 1038.7,234.6 1039.2,231.3 1039.7,232.5 1040.2,239.5 1040.7,237.0 1041.2,237.2 1041.7,237.4 1042.2,238.2 1042.7,241.1 1043.2,240.8 1043.7,240.3 1044.2,236.9 1044.7,242.2 1045.2,239.0 1045.7,245.1 1046.2,238.3 1046.7,242.3 1047.2,243.2 1047.7,239.7 1048.2,249.6 1048.7,249.3 1049.2,243.9 1049.7,248.2 1050.2,247.5 1050.7,238.8 1051.2,248.2 1051.7,247.7 1052.2,248.7 1052.7,245.6 1053.2,248.6 1053.7,249.4 1054.2,254.1 1054.7,252.0 1055.2,251.5 1055.7,256.7 1056.2,250.8 1056.7,251.8 1057.2,248.0 1057.7,258.8 1058.2,257.5 1058.7,257.9 1059.2,257.6 1059.7,256.4 1060.2,257.2 1060.7,256.3 1061.2,256.9 1061.7,258.2 1062.2,263.2 1062.7,260.7 1063.2,259.3 1063.7,258.2 1064.2,258.6 1064.7,265.9 1065.2,263.0 1065.7,262.2 1066.2,261.4 1066.7,259.5 1067.1,263.2 1067.6,266.5 1068.1,263.1 1068.6,264.1 1069.1,264.6 1069.6,266.1 1070.1,261.4 1070.6,266.0 1071.1,264.5 1071.6,270.3 1072.1,265.7 1072.6,270.3 1073.1,273.6 1073.6,268.5 1074.1,268.1 1074.6,270.9 1075.1,270.8 1075.6,268.2 1076.1,273.1 1076.6,278.3 1077.1,271.8 1077.6,272.4 1078.1,270.4 1078.6,274.9 1079.1,270.6 1079.6,271.5 1080.1,279.2 1080.6,273.0 1081.1,279.5 1081.6,281.3 1082.1,277.9 1082.6,279.2 1083.1,283.9 1083.6,277.9 1084.1,277.2 1084.6,275.3 1085.1,280.0 1085.6,284.8 1086.1,283.7 1086.6,278.4 1087.1,279.1 1087.6,280.6 1088.1,283.5 1088.6,282.4 1089.1,284.2 1089.6,284.9 1090.1,283.5 1090.6,284.8 1091.1,286.0 1091.6,285.6 1092.1,287.8 1092.6,292.3 1093.1,289.0 1093.6,287.8 1094.1,283.0 1094.6,289.7 1095.1,283.2 1095.6,285.3 1096.1,292.5 1096.6,292.5 1097.1,290.4 1097.6,286.2 1098.1,290.7 1098.6,290.2 1099.1,294.6 1099.6,299.9 1100.1,294.3 1100.6,291.7 1101.1,291.0 1101.6,294.8 1102.1,294.9 1102.6,292.5 1103.1,296.7 1103.6,293.4 1104.1,300.6 1104.6,300.9 1105.1,301.4 1105.6,297.2 1106.1,300.6 1106.6,299.2 1107.1,298.9 1107.6,299.5 1108.1,297.1 1108.6,297.1 1109.1,304.2 1109.6,301.8 1110.1,303.4 1110.6,306.2 1111.1,298.6 1111.6,301.9 1112.1,305.2 1112.6,306.3 1113.1,304.5 1113.6,309.1 1114.1,307.2 1114.6,303.4 1115.1,304.7 1115.6,310.3 1116.1,309.8 1116.6,303.3 1117.1,313.3 1117.6,311.6 1118.1,314.2 1118.6,309.6 1119.1,310.3 1119.6,308.3 1120.1,319.6 1120.6,312.1 1121.1,317.7 1121.6,311.6 1122.1,314.4 1122.6,309.5 1123.1,313.7 1123.6,318.2 1124.1,312.1 1124.6,319.4 1125.1,317.6 1125.6,314.0 1126.1,316.1 1126.6,316.6 1127.1,318.3 1127.6,317.3 1128.1,316.9 1128.6,318.8 1129.1,317.1 1129.6,316.8 1130.1,320.9 1130.6,324.0 1131.1,317.4 1131.6,322.3 1132.1,320.8 1132.6,320.2 1133.1,326.0 1133.6,322.4 1134.1,328.7 1134.6,322.5 1135.1,326.3 1135.6,324.9 1136.1,323.8 1136.6,328.1 1137.1,326.3 1137.6,328.9 1138.1,327.4 1138.6,324.8 1139.1,328.1 1139.6,328.9 1140.1,332.0 1140.6,326.9 1141.1,329.9 1141.6,325.4 1142.1,332.7 1142.6,328.0 1143.1,326.3 1143.6,331.8 1144.1,335.6 1144.6,328.4 1145.1,330.1 1145.6,331.5 1146.1,330.8 1146.6,335.6 1147.1,332.5 1147.6,333.2 1148.1,337.4 1148.6,333.9 1149.1,337.8 1149.6,334.1 1150.1,333.8 1150.6,332.5 1151.1,343.6 1151.6,337.7 1152.1,339.8 1152.6,339.4 1153.1,340.4 1153.6,340.5 1154.1,346.3 1154.6,338.2 1155.1,337.1 1155.6,339.2 1156.1,338.7 1156.6,345.1 1157.1,345.8 1157.6,341.0 1158.1,340.2 1158.6,343.7 1159.1,349.1 1159.6,337.4 1160.1,347.5 1160.6,343.3 1161.1,349.8 1161.6,344.1 1162.1,346.9 1162.6,343.8 1163.1,345.7 1163.6,352.9 1164.1,351.7 1164.6,348.6 1165.1,347.7 1165.6,345.1 1166.1,349.9 1166.6,351.3 1167.1,351.6 1167.6,351.9 1168.1,349.4 1168.6,352.8 1169.1,353.2 1169.6,357.4 1170.1,359.5 1170.6,354.1 1171.1,352.7 1171.6,355.1 1172.1,353.9 1172.6,353.9 1173.1,356.2 1173.6,353.7 1174.1,358.8 1174.6,357.1 1175.1,358.5 1175.6,357.6 1176.1,356.4 1176.6,356.2 1177.1,358.6 1177.6,358.0 1178.1,360.6 1178.6,360.3 1179.1,356.7 1179.6,361.2 1180.1,357.5 1180.6,359.9 1181.1,361.2 1181.6,356.4 1182.1,363.0 1182.6,363.5 1183.1,362.9 1183.6,362.5 1184.1,363.0 1184.6,361.6 1185.1,364.0 1185.6,363.5 1186.1,365.7 1186.6,362.3 1187.1,366.7 1187.6,366.8 1188.1,366.3 1188.6,365.8 1189.1,369.0 1189.6,363.0 1190.1,369.4 1190.6,369.1 1191.1,369.5 1191.6,370.2 1192.1,367.5 1192.6,369.0 1193.1,371.9 1193.6,371.6 1194.1,371.3 1194.6,366.8 1195.1,372.9 1195.6,375.0 1196.1,374.9 1196.6,373.0 1197.1,368.3 1197.6,375.7 1198.1,372.9 1198.6,366.5 1199.1,375.0 1199.6,370.1 1200.1,370.9 1200.6,373.1 1201.1,378.8 1201.6,374.5 1202.1,376.6 1202.6,381.1 1203.1,381.0 1203.6,376.5 1204.1,376.5 1204.6,373.9 1205.1,375.8 1205.6,379.3 1206.1,379.5 1206.6,379.0 1207.1,381.8 1207.6,377.2 1208.1,379.5 1208.6,382.0 1209.1,381.9 1209.6,383.6 1210.1,382.0 1210.6,380.3 1211.1,382.5 1211.6,379.0 1212.1,377.5 1212.6,384.1 1213.1,382.6 1213.6,383.9 1214.1,378.6 1214.6,382.7 1215.1,382.3 1215.6,381.9 1216.1,378.3 1216.6,384.0 1217.1,387.7 1217.6,386.6 1218.1,384.2 1218.6,386.1 1219.1,388.6 1219.6,379.0 1220.1,386.7 1220.6,388.9 1221.1,389.6 1221.6,392.7 1222.1,391.5 1222.6,389.5 1223.1,389.7 1223.6,391.4 1224.1,388.0 1224.6,389.7 1225.1,392.6 1225.6,395.9 1226.1,390.3 1226.6,390.9 1227.1,391.9 1227.6,395.4 1228.1,391.9 1228.6,396.3 1229.1,389.9 1229.6,392.3 1230.1,392.6 1230.6,395.7 1231.1,396.7 1231.6,389.9 1232.1,391.8 1232.6,395.6 1233.1,393.1 1233.6,391.0 1234.1,398.5 1234.6,397.2 1235.1,397.5 1235.6,395.2 1236.1,399.6 1236.6,396.4 1237.1,400.4 1237.6,395.1 1238.1,395.6 1238.6,398.8 1239.1,396.6 1239.6,400.7 1240.1,399.9 1240.6,396.9 1241.1,400.0 1241.6,399.1 1242.1,402.9 1242.6,398.9 1243.1,399.7 1243.6,404.6 1244.1,407.7 1244.6,407.4 1245.1,402.3 1245.6,403.0 1246.1,407.0 1246.6,402.7 1247.1,400.6 1247.6,403.9 1248.1,405.1 1248.6,401.9 1249.1,399.9 1249.6,400.8 1250.1,406.9 1250.6,403.2 1251.1,405.2 1251.6,406.5 1252.1,407.9 1252.6,405.6 1253.1,408.2 1253.6,404.6 1254.1,406.4 1254.6,404.8 1255.1,411.0 1255.6,408.1 1256.1,406.5 1256.6,407.8 1257.1,408.5 1257.6,411.3 1258.1,405.2 1258.6,407.1 1259.1,409.2 1259.6,417.4 1260.1,413.4 1260.6,410.7 1261.1,413.3 1261.6,417.3 1262.1,411.2 1262.6,411.2 1263.1,415.8 1263.6,414.1 1264.1,414.8 1264.6,411.9 1265.1,418.8 1265.6,418.5 1266.1,415.7 1266.6,416.3 1267.1,409.1 1267.6,416.7 1268.1,414.7 1268.6,416.7 1269.1,417.6 1269.6,415.1 1270.1,411.7 1270.6,417.6 1271.1,414.8 1271.6,416.2 1272.1,415.7 1272.6,416.7 1273.1,411.6 1273.6,421.5 1274.1,419.1 1274.6,421.8 1275.1,424.4 1275.6,419.3 1276.1,414.6 1276.6,417.4 1277.1,416.8 1277.6,419.0 1278.1,420.8 1278.6,415.4 1279.1,422.1 1279.6,417.3 1280.1,422.5 1280.6,421.6 1281.1,421.3 1281.6,422.2 1282.1,421.2 1282.6,421.3 1283.1,418.7 1283.6,423.4 1284.1,428.8 1284.6,429.4 1285.1,427.9 1285.6,426.5 1286.1,423.0 1286.6,429.0 1287.1,425.2 1287.6,425.4 1288.1,425.1 1288.6,426.4 1289.1,425.2 1289.6,426.4 1290.1,424.0 1290.6,426.1 1291.1,433.6 1291.6,427.5 1292.1,427.3 1292.6,429.6 1293.1,430.4 1293.6,425.7 1294.1,428.4 1294.6,431.7 1295.1,430.2 1295.6,430.1 1296.1,434.2 1296.6,428.4 1297.1,430.7 1297.6,429.4 1298.1,435.1 1298.6,426.0 1299.1,429.7 1299.6,430.4 1300.1,433.8 1300.6,433.9 1301.1,436.3 1301.6,428.6 1302.1,435.1 1302.6,432.5 1303.1,431.8 1303.6,435.3 1304.1,431.6 1304.6,428.8 1305.1,433.6 1305.6,430.8 1306.1,433.4 1306.6,436.4 1307.1,436.5 1307.6,440.2 1308.1,435.6 1308.6,432.3 1309.1,434.6 1309.6,434.5 1310.1,433.9 1310.6,438.6 1311.1,436.0 1311.6,432.6 1312.1,440.1 1312.6,438.2 1313.1,439.7 1313.6,439.3 1314.1,440.9 1314.6,439.6 1315.1,443.1 1315.6,441.1 1316.1,441.3 1316.6,441.6 1317.1,436.9 1317.6,440.6 1318.1,440.6 1318.6,442.1 1319.1,438.1 1319.6,446.4 1320.1,442.6 1320.6,439.3 1321.1,438.2 1321.6,442.3 1322.1,443.1 1322.6,441.6 1323.1,444.1 1323.6,442.3 1324.1,445.8 1324.6,442.6 1325.1,444.7 1325.6,447.7 1326.1,452.2 1326.6,442.9 1327.1,444.6 1327.6,443.8 1328.1,448.4 1328.6,443.5 1329.1,445.5 1329.6,447.0 1330.1,444.7 1330.6,445.0 1331.1,446.5 1331.6,442.4 1332.1,444.4 1332.6,447.4 1333.1,449.1 1333.6,448.5 1334.1,444.5 1334.6,448.2 1335.1,451.8 1335.6,451.4 1336.1,450.0 1336.6,448.1 1337.1,452.3 1337.6,449.4 1338.1,448.0 1338.6,449.2 1339.1,455.5 1339.6,452.4 1340.1,455.1 1340.6,451.0 1341.1,455.0 1341.6,451.2 1342.1,452.6 1342.6,459.8 1343.1,455.5 1343.6,452.3 1344.1,453.7 1344.6,455.0 1345.1,457.6 1345.6,453.3 1346.1,450.2 1346.6,454.3 1347.1,455.3 1347.6,455.7 1348.1,459.2 1348.6,456.7 1349.1,458.3 1349.6,453.4 1350.1,458.8 1350.6,462.3 1351.1,459.0 1351.6,457.8 1352.1,457.8 1352.6,462.3 1353.1,455.4 1353.6,457.7 1354.1,459.5 1354.6,460.4 1355.1,457.5 1355.6,459.7 1356.1,458.3 1356.6,459.6 1357.1,459.1 1357.6,456.7 1358.1,459.8 1358.6,462.4 1359.1,457.8 1359.6,459.9 1360.1,462.5 1360.6,458.1 1361.1,461.6 1361.6,458.5 1362.1,464.5 1362.6,467.8 1363.1,467.3 1363.6,461.6 1364.1,464.3 1364.6,462.9 1365.1,463.0 1365.6,467.0 1366.1,459.7 1366.6,466.1 1367.1,463.4 1367.6,467.5 1368.1,464.4 1368.6,462.4 1369.1,465.1 1369.6,466.5 1370.1,464.8 1370.6,466.2 1371.1,463.8 1371.6,459.7 1372.1,467.9 1372.6,467.6 1373.1,466.3 1373.6,466.3 1374.1,469.1 1374.6,465.3 1375.1,464.9 1375.6,466.4 1376.1,470.3 1376.5,463.7 1377.0,470.7 1377.5,466.1 1378.0,465.0 1378.5,471.4 1379.0,468.1 1379.5,465.1 1380.0,467.8 1380.5,471.4 1381.0,472.3 1381.5,468.2 1382.0,470.6 1382.5,471.6 1383.0,468.2 1383.5,471.1 1384.0,470.2 1384.5,469.1 1385.0,469.4 1385.5,471.1 1386.0,471.2 1386.5,469.9 1387.0,470.4 1387.5,474.7 1388.0,472.5 1388.5,474.5 1389.0,475.5 1389.5,474.1 1390.0,478.7 1390.5,470.8 1391.0,475.3 1391.5,472.6 1392.0,478.4 1392.5,478.2 1393.0,468.9 1393.5,471.7 1394.0,476.1 1394.5,476.7 1395.0,476.7 1395.5,474.8 1396.0,476.4 1396.5,477.1 1397.0,475.4 1397.5,478.5 1398.0,470.2 1398.5,477.9 1399.0,473.8 1399.5,479.2 1400.0,476.3 1400.5,474.8 1401.0,478.3 1401.5,475.1 1402.0,475.3 1402.5,473.8 1403.0,478.0 1403.5,479.6 1404.0,481.2 1404.5,478.4 1405.0,481.7 1405.5,479.2 1406.0,479.1 1406.5,481.0 1407.0,482.5 1407.5,479.1 1408.0,479.5 1408.5,479.9 1409.0,480.8 1409.5,478.4 1410.0,483.6 1410.5,480.1 1411.0,482.6 1411.5,479.4 1412.0,482.7 1412.5,483.0 1413.0,481.1 1413.5,487.6 1414.0,483.5 1414.5,487.4 1415.0,485.4 1415.5,481.4 1416.0,482.4 1416.5,484.7 1417.0,483.9 1417.5,484.1 1418.0,483.4 1418.5,479.6 1419.0,483.9 1419.5,479.0 1420.0,485.8 1420.5,483.2 1421.0,483.4 1421.5,484.9 1422.0,486.3 1422.5,482.1 1423.0,481.5 1423.5,483.4 1424.0,481.1 1424.5,484.1 1425.0,490.9 1425.5,484.2 1426.0,488.8 1426.5,483.8 1427.0,488.2 1427.5,486.8 1428.0,487.7 1428.5,489.5 1429.0,492.7 1429.5,488.9 1430.0,488.9 1430.5,486.2 1431.0,490.4 1431.5,488.4 1432.0,491.4 1432.5,489.3 1433.0,494.1 1433.5,484.6 1434.0,489.2 1434.5,492.4 1435.0,489.4 1435.5,488.4 1436.0,489.9 1436.5,487.2 1437.0,491.2 1437.5,497.4 1438.0,494.2 1438.5,488.6 1439.0,489.4 1439.5,490.7 1440.0,494.5 1440.5,490.0 1441.0,490.5 1441.5,494.7 1442.0,494.8 1442.5,491.8 1443.0,490.0 1443.5,489.1 1444.0,491.4 1444.5,487.7 1445.0,495.5 1445.5,492.1 1446.0,495.1 1446.5,498.8 1447.0,497.2 1447.5,491.4 1448.0,496.8 1448.5,497.7 1449.0,492.9 1449.5,492.6 1450.0,494.9 1450.5,491.2 1451.0,499.2 1451.5,489.5 1452.0,493.0 1452.5,495.3 1453.0,495.5 1453.5,496.7 1454.0,497.1 1454.5,496.0 1455.0,499.6 1455.5,491.4 1456.0,497.1 1456.5,495.4 1457.0,497.7 1457.5,498.1 1458.0,495.4 1458.5,496.2 1459.0,500.0 1459.5,499.0 1460.0,496.6 1460.5,503.7 1461.0,504.5 1461.5,495.1 1462.0,499.7 1462.5,505.5 1463.0,501.3 1463.5,500.0 1464.0,499.0 1464.5,498.4 1465.0,499.4 1465.5,498.6 1466.0,502.1 1466.5,499.4 1467.0,499.4 1467.5,497.6 1468.0,500.7 1468.5,498.7 1469.0,500.7 1469.5,504.0 1470.0,502.4 1470.5,502.9 1471.0,502.7 1471.5,502.1 1472.0,501.8 1472.5,501.5 1473.0,504.4 1473.5,499.8 1474.0,506.2 1474.5,503.0 1475.0,501.2 1475.5,502.0 1476.0,501.7 1476.5,504.0 1477.0,501.9 1477.5,506.8 1478.0,502.1 1478.5,498.4 1479.0,502.5 1479.5,499.4 1480.0,504.6 1480.5,507.5 1481.0,506.6 1481.5,501.8 1482.0,503.4 1482.5,510.0 1483.0,506.4 1483.5,505.8 1484.0,508.6 1484.5,512.3 1485.0,509.6 1485.5,506.8 1486.0,507.5 1486.5,508.3 1487.0,505.4 1487.5,504.4 1488.0,507.4 1488.5,505.0 1489.0,507.4 1489.5,507.9 1490.0,513.8 1490.5,505.9 1491.0,507.9 1491.5,507.9 1492.0,509.6 1492.5,511.3 1493.0,507.6 1493.5,506.9 1494.0,505.0 1494.5,506.9 1495.0,510.8 1495.5,509.7 1496.0,507.2 1496.5,508.9 1497.0,510.1 1497.5,511.5 1498.0,508.9 1498.5,509.9 1499.0,506.1 1499.5,507.9 1500.0,515.1 1500.5,505.6 1501.0,510.4 1501.5,512.0 1502.0,510.6 1502.5,509.7 1503.0,511.7 1503.5,512.0 1504.0,512.0 1504.5,507.6 1505.0,512.1 1505.5,510.5 1506.0,511.4 1506.5,513.5 1507.0,514.7 1507.5,515.5 1508.0,512.2 1508.5,515.9 1509.0,516.7 1509.5,516.7 1510.0,517.5 1510.5,513.8 1511.0,513.9 1511.5,516.5 1512.0,511.2 1512.5,515.3 1513.0,513.6 1513.5,514.1 1514.0,510.8 1514.5,513.1 1515.0,515.4 1515.5,517.9 1516.0,518.3 1516.5,515.7 1517.0,515.6 1517.5,514.1 1518.0,517.4 1518.5,515.9 1519.0,518.1 1519.5,521.2 1520.0,516.8 1520.5,513.3 1521.0,515.0 1521.5,513.7 1522.0,514.5 1522.5,520.9 1523.0,518.3 1523.5,514.1 1524.0,519.7 1524.5,521.3 1525.0,517.4 1525.5,516.8 1526.0,517.8 1526.5,519.5 1527.0,520.5 1527.5,522.0 1528.0,522.2 1528.5,522.3 1529.0,522.9 1529.5,521.2 1530.0,515.9 1530.5,519.5 1531.0,520.8" fill="none" stroke="#5c2d80" stroke-width="1.9" stroke-linejoin="round" stroke-miterlimit="4" stroke-linecap="butt"/>
</g>
<path d="M912.2,617.3V28.3H1531.2" fill="none" stroke="#333" stroke-width="1.2"/>
<path d="M911.6,617.3H1531.2V27.7" fill="none" stroke="#231f20" stroke-width="2.1"/>
<line x1="912.20" y1="84.60" x2="917.80" y2="84.60" stroke="#4a4a4a" stroke-width="1.2"/>
<line x1="912.20" y1="142.40" x2="924.80" y2="142.40" stroke="#4a4a4a" stroke-width="1.2"/>
<line x1="912.20" y1="198.70" x2="917.80" y2="198.70" stroke="#4a4a4a" stroke-width="1.2"/>
<line x1="912.20" y1="256.10" x2="924.80" y2="256.10" stroke="#4a4a4a" stroke-width="1.2"/>
<line x1="912.20" y1="313.50" x2="917.80" y2="313.50" stroke="#4a4a4a" stroke-width="1.2"/>
<line x1="912.20" y1="369.70" x2="924.80" y2="369.70" stroke="#4a4a4a" stroke-width="1.2"/>
<line x1="912.20" y1="427.20" x2="917.80" y2="427.20" stroke="#4a4a4a" stroke-width="1.2"/>
<line x1="912.20" y1="483.40" x2="924.80" y2="483.40" stroke="#4a4a4a" stroke-width="1.2"/>
<line x1="912.20" y1="541.00" x2="917.80" y2="541.00" stroke="#4a4a4a" stroke-width="1.2"/>
<line x1="912.20" y1="603.70" x2="924.80" y2="603.70" stroke="#4a4a4a" stroke-width="1.2"/>
<line x1="974.10" y1="617.30" x2="974.10" y2="611.30" stroke="#4a4a4a" stroke-width="1.2"/>
<line x1="1036.00" y1="617.30" x2="1036.00" y2="604.30" stroke="#4a4a4a" stroke-width="1.2"/>
<line x1="1097.90" y1="617.30" x2="1097.90" y2="611.30" stroke="#4a4a4a" stroke-width="1.2"/>
<line x1="1159.80" y1="617.30" x2="1159.80" y2="604.30" stroke="#4a4a4a" stroke-width="1.2"/>
<line x1="1221.70" y1="617.30" x2="1221.70" y2="611.30" stroke="#4a4a4a" stroke-width="1.2"/>
<line x1="1283.60" y1="617.30" x2="1283.60" y2="604.30" stroke="#4a4a4a" stroke-width="1.2"/>
<line x1="1345.50" y1="617.30" x2="1345.50" y2="611.30" stroke="#4a4a4a" stroke-width="1.2"/>
<line x1="1407.40" y1="617.30" x2="1407.40" y2="604.30" stroke="#4a4a4a" stroke-width="1.2"/>
<line x1="1469.30" y1="617.30" x2="1469.30" y2="611.30" stroke="#4a4a4a" stroke-width="1.2"/>
<text x="866.2 877.9 884.6" y="38.2" font-size="24.3" fill="#231f20">1.0</text>
<text x="865.4 878.8 885.0" y="151.1" font-size="24.3" fill="#231f20">0.8</text>
<text x="865.4 878.8 885.0" y="264.8" font-size="24.3" fill="#231f20">0.6</text>
<text x="865.3 878.7 885.1" y="378.4" font-size="24.3" fill="#231f20">0.4</text>
<text x="866.3 879.7 885.5" y="492.1" font-size="24.3" fill="#231f20">0.2</text>
<text x="884.6" y="612.4" font-size="24.3" fill="#231f20">0</text>
<text x="905.4" y="649.8" font-size="24.3" fill="#231f20">0</text>
<text x="1029.3" y="649.8" font-size="24.3" fill="#231f20">4</text>
<text x="1153.0" y="649.8" font-size="24.3" fill="#231f20">8</text>
<text x="1270.2 1282.0" y="649.8" font-size="24.3" fill="#231f20">12</text>
<text x="1393.5 1405.8" y="649.8" font-size="24.3" fill="#231f20">16</text>
<text x="1517.2 1530.8" y="649.8" font-size="24.3" fill="#231f20">20</text>
<text x="1125.2" y="693.4" font-size="27" textLength="194" lengthAdjust="spacingAndGlyphs" fill="#231f20">Decay time (ns)</text>
<text transform="translate(841 447.6) rotate(-90)" font-size="27" fill="#231f20" textLength="249.6" lengthAdjust="spacingAndGlyphs">Normalized PL (a.u.)</text>
<text x="1191.3" y="161.9" font-size="27" textLength="59.5" lengthAdjust="spacingAndGlyphs" fill="#231f20">NaCl</text>
<text x="1191.3" y="194.1" font-size="27" textLength="175.6" lengthAdjust="spacingAndGlyphs" fill="#231f20">concentration</text>
<text x="1191.3" y="226.5" font-size="27" textLength="128.4" lengthAdjust="spacingAndGlyphs" fill="#231f20">increasing</text>
<rect x="129.2" y="1203.6" width="46.0" height="115.1" fill="url(#bar)"/>
<rect x="221.1" y="1120.0" width="46.4" height="198.7" fill="url(#bar)"/>
<rect x="313.9" y="1131.9" width="47.1" height="186.8" fill="url(#bar)"/>
<rect x="406.9" y="943.9" width="45.9" height="374.8" fill="url(#bar)"/>
<rect x="499.2" y="929.3" width="47.7" height="389.4" fill="url(#bar)"/>
<rect x="592.6" y="893.5" width="46.0" height="425.2" fill="url(#bar)"/>
<rect x="684.5" y="864.2" width="45.9" height="454.5" fill="url(#bar)"/>
<path d="M105.6,1318.7V783.2" fill="none" stroke="#4a4a4a" stroke-width="1.2"/>
<path d="M105.0,783.5H754.7" fill="none" stroke="#231f20" stroke-width="1.2"/>
<path d="M753.9000000000001,784.1V1319.9" fill="none" stroke="#858585" stroke-width="1.8"/>
<path d="M105.0,1319.3H754.8000000000001" fill="none" stroke="#555" stroke-width="1.4"/>
<line x1="105.60" y1="1285.80" x2="111.00" y2="1285.80" stroke="#4a4a4a" stroke-width="1.2"/>
<line x1="105.60" y1="1252.30" x2="117.60" y2="1252.30" stroke="#4a4a4a" stroke-width="1.2"/>
<line x1="105.60" y1="1218.80" x2="111.00" y2="1218.80" stroke="#4a4a4a" stroke-width="1.2"/>
<line x1="105.60" y1="1185.30" x2="117.60" y2="1185.30" stroke="#4a4a4a" stroke-width="1.2"/>
<line x1="105.60" y1="1151.80" x2="111.00" y2="1151.80" stroke="#4a4a4a" stroke-width="1.2"/>
<line x1="105.60" y1="1118.30" x2="117.60" y2="1118.30" stroke="#4a4a4a" stroke-width="1.2"/>
<line x1="105.60" y1="1084.80" x2="111.00" y2="1084.80" stroke="#4a4a4a" stroke-width="1.2"/>
<line x1="105.60" y1="1051.30" x2="117.60" y2="1051.30" stroke="#4a4a4a" stroke-width="1.2"/>
<line x1="105.60" y1="1017.80" x2="111.00" y2="1017.80" stroke="#4a4a4a" stroke-width="1.2"/>
<line x1="105.60" y1="984.30" x2="117.60" y2="984.30" stroke="#4a4a4a" stroke-width="1.2"/>
<line x1="105.60" y1="950.80" x2="111.00" y2="950.80" stroke="#4a4a4a" stroke-width="1.2"/>
<line x1="105.60" y1="917.30" x2="117.60" y2="917.30" stroke="#4a4a4a" stroke-width="1.2"/>
<line x1="105.60" y1="883.80" x2="111.00" y2="883.80" stroke="#4a4a4a" stroke-width="1.2"/>
<line x1="105.60" y1="850.30" x2="117.60" y2="850.30" stroke="#4a4a4a" stroke-width="1.2"/>
<line x1="105.60" y1="816.80" x2="111.00" y2="816.80" stroke="#4a4a4a" stroke-width="1.2"/>
<line x1="151.60" y1="1318.70" x2="151.60" y2="1306.70" stroke="#3a3a3a" stroke-width="1.2"/>
<line x1="244.90" y1="1318.70" x2="244.90" y2="1306.70" stroke="#3a3a3a" stroke-width="1.2"/>
<line x1="337.40" y1="1318.70" x2="337.40" y2="1306.70" stroke="#3a3a3a" stroke-width="1.2"/>
<line x1="430.10" y1="1318.70" x2="430.10" y2="1306.70" stroke="#3a3a3a" stroke-width="1.2"/>
<line x1="522.50" y1="1318.70" x2="522.50" y2="1306.70" stroke="#3a3a3a" stroke-width="1.2"/>
<line x1="614.50" y1="1318.70" x2="614.50" y2="1306.70" stroke="#3a3a3a" stroke-width="1.2"/>
<line x1="707.70" y1="1318.70" x2="707.70" y2="1306.70" stroke="#3a3a3a" stroke-width="1.2"/>
<text x="78.3" y="1326.5" font-size="24.3" fill="#231f20">0</text>
<text x="79.2" y="1260.9" font-size="24.3" fill="#231f20">5</text>
<text x="65.5 78.3" y="1193.9" font-size="24.3" fill="#231f20">10</text>
<text x="67.2 79.2" y="1126.9" font-size="24.3" fill="#231f20">15</text>
<text x="64.7 78.3" y="1059.9" font-size="24.3" fill="#231f20">20</text>
<text x="66.4 79.2" y="992.9" font-size="24.3" fill="#231f20">25</text>
<text x="64.7 78.3" y="925.9" font-size="24.3" fill="#231f20">30</text>
<text x="66.4 79.2" y="858.9" font-size="24.3" fill="#231f20">35</text>
<text x="64.3 78.3" y="791.9" font-size="24.3" fill="#231f20">40</text>
<circle cx="151.8" cy="1194.6" r="4.6" fill="#ffe600"/>
<circle cx="151.8" cy="1203.4" r="4.6" fill="#ffe600"/>
<circle cx="151.8" cy="1214.4" r="4.6" fill="#ffe600"/>
<path d="M151.8,1200.0V1206.4M146.1,1200.0h11.4M146.1,1206.4h11.4" stroke="#1a1a1a" stroke-width="1.1" fill="none"/>
<circle cx="244.8" cy="1108.6" r="4.6" fill="#ffe600"/>
<circle cx="244.8" cy="1118.6" r="4.6" fill="#ffe600"/>
<circle cx="244.8" cy="1128.6" r="4.6" fill="#ffe600"/>
<path d="M244.8,1116.4V1123.2M239.1,1116.4h11.4M239.1,1123.2h11.4" stroke="#1a1a1a" stroke-width="1.1" fill="none"/>
<circle cx="337.0" cy="1118.6" r="4.6" fill="#ffe600"/>
<circle cx="337.0" cy="1132.0" r="4.6" fill="#ffe600"/>
<circle cx="337.0" cy="1143.0" r="4.6" fill="#ffe600"/>
<path d="M337.0,1128.4V1136.0M331.3,1128.4h11.4M331.3,1136.0h11.4" stroke="#1a1a1a" stroke-width="1.1" fill="none"/>
<circle cx="429.6" cy="932.3" r="4.6" fill="#ffe600"/>
<circle cx="429.6" cy="943.4" r="4.6" fill="#ffe600"/>
<circle cx="429.6" cy="952.5" r="4.6" fill="#ffe600"/>
<path d="M429.6,939.4V948.5M423.9,939.4h11.4M423.9,948.5h11.4" stroke="#1a1a1a" stroke-width="1.1" fill="none"/>
<circle cx="522.5" cy="912.6" r="4.6" fill="#ffe600"/>
<circle cx="522.5" cy="926.8" r="4.6" fill="#ffe600"/>
<circle cx="522.5" cy="943.9" r="4.6" fill="#ffe600"/>
<path d="M522.5,921.7V936.4M516.8,921.7h11.4M516.8,936.4h11.4" stroke="#1a1a1a" stroke-width="1.1" fill="none"/>
<circle cx="614.6" cy="876.3" r="4.6" fill="#ffe600"/>
<circle cx="614.6" cy="893.0" r="4.6" fill="#ffe600"/>
<circle cx="614.6" cy="911.6" r="4.6" fill="#ffe600"/>
<path d="M614.6,886.9V900.0M608.9,886.9h11.4M608.9,900.0h11.4" stroke="#1a1a1a" stroke-width="1.1" fill="none"/>
<circle cx="707.7" cy="844.5" r="4.6" fill="#ffe600"/>
<circle cx="707.7" cy="861.7" r="4.6" fill="#ffe600"/>
<circle cx="707.7" cy="879.8" r="4.6" fill="#ffe600"/>
<path d="M707.7,854.6V872.3M702.0,854.6h11.4M702.0,872.3h11.4" stroke="#1a1a1a" stroke-width="1.1" fill="none"/>
<text transform="translate(160.1 1343.9) rotate(-45)" font-size="27" text-anchor="end" fill="#231f20" textLength="131" lengthAdjust="spacingAndGlyphs">Pure water</text>
<text transform="translate(254.5 1344.6) rotate(-45)" font-size="27" text-anchor="end" fill="#231f20" textLength="210" lengthAdjust="spacingAndGlyphs">Natural seawater</text>
<text transform="translate(348.1 1342.0) rotate(-45)" font-size="27" text-anchor="end" fill="#231f20" textLength="101" lengthAdjust="spacingAndGlyphs">Red Sea</text>
<text transform="translate(439.7 1341.5) rotate(-45)" font-size="27" text-anchor="end" fill="#231f20" textLength="190" lengthAdjust="spacingAndGlyphs">Great Salt Lake</text>
<text transform="translate(532.2 1342) rotate(-45)" font-size="27" text-anchor="end" fill="#231f20" textLength="103.5" lengthAdjust="spacingAndGlyphs">Aral Sea</text>
<text transform="translate(624.0 1344) rotate(-45)" font-size="27" text-anchor="end" fill="#231f20" textLength="100" lengthAdjust="spacingAndGlyphs">Lop Nor</text>
<text transform="translate(717.2 1341) rotate(-45)" font-size="27" text-anchor="end" fill="#231f20" textLength="119" lengthAdjust="spacingAndGlyphs">Dead Sea</text>
<text transform="translate(35.6 1185.5) rotate(-90)" font-size="27" fill="#231f20" textLength="271" lengthAdjust="spacingAndGlyphs">Activity (mmol g<tspan font-size="19.5" dy="-10.5">−1</tspan><tspan dy="10.5" font-size="27"> h</tspan><tspan font-size="19.5" dy="-10.5">−1</tspan><tspan dy="10.5" font-size="27">)</tspan></text>
<clipPath id="cd"><rect x="903.8" y="773.4" width="628.3" height="600.3000000000001"/></clipPath>
<g clip-path="url(#cd)">
<path d="M907.7,776.3 908.9,789.1 910.1,801.3 911.3,812.8 912.5,824.1 913.7,834.8 914.9,844.3 916.1,852.5 917.3,860.0 918.5,866.9 919.7,873.4 920.9,879.5 922.1,885.2 923.3,890.5 924.5,895.4 925.7,900.3 926.9,905.2 928.1,910.5 929.3,916.1 930.5,922.1 931.7,928.4 932.9,934.8 934.1,941.2 935.3,947.5 936.5,953.6 937.7,959.3 938.9,964.6 940.1,969.4 941.3,973.9 942.5,978.1 943.7,982.2 944.9,986.2 946.1,990.4 947.3,994.7 948.5,999.1 949.7,1003.6 950.9,1008.1 952.1,1012.6 953.3,1017.1 954.5,1021.4 955.7,1025.6 956.9,1029.5 958.1,1033.2 959.3,1036.8 960.5,1040.2 961.7,1043.5 962.9,1046.7 964.1,1049.9 965.3,1053.1 966.5,1056.4 967.7,1059.7 968.9,1063.2 970.1,1066.7 971.3,1070.2 972.5,1073.7 973.7,1077.2 974.9,1080.7 976.1,1084.0 977.3,1087.1 978.5,1090.1 979.7,1093.0 980.9,1095.8 982.1,1098.6 983.3,1101.2 984.5,1103.8 985.7,1106.4 986.9,1108.8 988.1,1111.3 989.3,1113.6 990.5,1115.8 991.7,1118.0 992.9,1120.0 994.1,1122.1 995.3,1124.2 996.5,1126.3 997.7,1128.5 998.9,1130.7 1000.1,1133.1 1001.3,1135.5 1002.5,1138.1 1003.7,1140.6 1004.9,1143.1 1006.1,1145.5 1007.3,1147.9 1008.5,1150.1 1009.7,1152.3 1010.9,1154.3 1012.1,1156.3 1013.3,1158.3 1014.5,1160.2 1015.7,1162.0 1016.9,1163.8 1018.1,1165.6 1019.3,1167.4 1020.5,1169.0 1021.7,1170.6 1022.9,1172.2 1024.1,1173.7 1025.3,1175.2 1026.5,1176.8 1027.7,1178.4 1028.9,1180.0 1030.1,1181.8 1031.3,1183.7 1032.5,1185.8 1033.7,1187.9 1034.9,1190.1 1036.1,1192.2 1037.3,1194.3 1038.5,1196.2 1039.7,1198.0 1040.9,1199.7 1042.1,1201.2 1043.3,1202.7 1044.5,1204.1 1045.7,1205.5 1046.9,1206.9 1048.1,1208.3 1049.3,1209.7 1050.5,1211.1 1051.7,1212.5 1052.9,1214.0 1054.1,1215.4 1055.3,1216.9 1056.5,1218.3 1057.7,1219.8 1058.9,1221.2 1060.1,1222.6 1061.3,1224.1 1062.5,1225.5 1063.8,1227.0 1065.0,1228.5 1066.2,1229.9 1067.4,1231.4 1068.6,1232.8 1069.8,1234.2 1071.0,1235.5 1072.2,1236.8 1073.4,1238.1 1074.6,1239.4 1075.8,1240.6 1077.0,1241.9 1078.2,1243.0 1079.4,1244.2 1080.6,1245.3 1081.8,1246.4 1083.0,1247.5 1084.2,1248.6 1085.4,1249.6 1086.6,1250.6 1087.8,1251.6 1089.0,1252.6 1090.2,1253.6 1091.4,1254.6 1092.6,1255.6 1093.8,1256.5 1095.0,1257.4 1096.2,1258.3 1097.4,1259.2 1098.6,1260.1 1099.8,1261.0 1101.0,1261.8 1102.2,1262.6 1103.4,1263.5 1104.6,1264.2 1105.8,1265.0 1107.0,1265.8 1108.2,1266.5 1109.4,1267.2 1110.6,1268.0 1111.8,1268.7 1113.0,1269.4 1114.2,1270.1 1115.4,1270.8 1116.6,1271.5 1117.8,1272.1 1119.0,1272.8 1120.2,1273.5 1121.4,1274.2 1122.6,1275.0 1123.8,1275.7 1125.0,1276.4 1126.2,1277.2 1127.4,1277.9 1128.6,1278.6 1129.8,1279.4 1131.0,1280.1 1132.2,1280.9 1133.4,1281.6 1134.6,1282.3 1135.8,1283.0 1137.0,1283.8 1138.2,1284.5 1139.4,1285.2 1140.6,1285.9 1141.8,1286.5 1143.0,1287.2 1144.2,1287.9 1145.4,1288.5 1146.6,1289.1 1147.8,1289.8 1149.0,1290.4 1150.2,1291.0 1151.4,1291.6 1152.6,1292.2 1153.8,1292.8 1155.0,1293.4 1156.2,1294.0 1157.4,1294.6 1158.6,1295.2 1159.8,1295.7 1161.0,1296.3 1162.2,1296.8 1163.4,1297.4 1164.6,1297.9 1165.8,1298.5 1167.0,1299.0 1168.2,1299.5 1169.4,1300.0 1170.6,1300.6 1171.8,1301.1 1173.0,1301.6 1174.2,1302.1 1175.4,1302.6 1176.6,1303.0 1177.8,1303.5 1179.0,1304.0 1180.2,1304.4 1181.4,1304.9 1182.6,1305.3 1183.8,1305.7 1185.0,1306.1 1186.2,1306.5 1187.4,1306.9 1188.6,1307.2 1189.8,1307.6 1191.0,1307.9 1192.2,1308.3 1193.4,1308.6 1194.6,1308.9 1195.8,1309.2 1197.0,1309.5 1198.2,1309.9 1199.4,1310.2 1200.6,1310.5 1201.8,1310.8 1203.0,1311.1 1204.2,1311.4 1205.4,1311.6 1206.6,1311.9 1207.8,1312.2 1209.0,1312.5 1210.2,1312.8 1211.4,1313.1 1212.6,1313.4 1213.8,1313.7 1215.0,1314.0 1216.2,1314.3 1217.4,1314.6 1218.6,1314.9 1219.8,1315.2 1221.0,1315.5 1222.2,1315.8 1223.4,1316.1 1224.6,1316.5 1225.8,1316.8 1227.0,1317.1 1228.2,1317.4 1229.4,1317.7 1230.6,1318.0 1231.8,1318.3 1233.0,1318.6 1234.2,1318.9 1235.4,1319.2 1236.6,1319.5 1237.8,1319.8 1239.0,1320.1 1240.2,1320.4 1241.4,1320.7 1242.6,1321.0 1243.8,1321.3 1245.0,1321.5 1246.2,1321.8 1247.4,1322.1 1248.6,1322.4 1249.8,1322.6 1251.0,1322.9 1252.2,1323.1 1253.4,1323.4 1254.6,1323.6 1255.8,1323.8 1257.0,1324.1 1258.2,1324.3 1259.4,1324.5 1260.6,1324.7 1261.8,1324.9 1263.0,1325.2 1264.2,1325.4 1265.4,1325.6 1266.6,1325.8 1267.8,1326.0 1269.0,1326.2 1270.2,1326.4 1271.4,1326.6 1272.6,1326.8 1273.8,1326.9 1275.0,1327.1 1276.2,1327.3 1277.4,1327.5 1278.6,1327.7 1279.8,1327.9 1281.0,1328.0 1282.2,1328.2 1283.4,1328.4 1284.6,1328.5 1285.8,1328.7 1287.0,1328.9 1288.2,1329.0 1289.4,1329.2 1290.6,1329.4 1291.8,1329.5 1293.0,1329.7 1294.2,1329.8 1295.4,1330.0 1296.6,1330.1 1297.8,1330.3 1299.0,1330.4 1300.2,1330.6 1301.4,1330.7 1302.6,1330.9 1303.8,1331.0 1305.0,1331.1 1306.2,1331.3 1307.4,1331.4 1308.6,1331.6 1309.8,1331.7 1311.0,1331.8 1312.2,1331.9 1313.4,1332.1 1314.6,1332.2 1315.8,1332.3 1317.0,1332.5 1318.2,1332.6 1319.4,1332.7 1320.6,1332.8 1321.8,1332.9 1323.0,1333.1 1324.2,1333.2 1325.4,1333.3 1326.6,1333.4 1327.8,1333.5 1329.0,1333.6 1330.2,1333.7 1331.4,1333.9 1332.6,1334.0 1333.8,1334.1 1335.0,1334.2 1336.2,1334.3 1337.4,1334.4 1338.6,1334.5 1339.8,1334.6 1341.0,1334.7 1342.2,1334.8 1343.4,1334.9 1344.6,1335.0 1345.8,1335.1 1347.0,1335.2 1348.2,1335.3 1349.4,1335.4 1350.6,1335.5 1351.8,1335.6 1353.0,1335.7 1354.2,1335.8 1355.4,1335.9 1356.6,1336.0 1357.8,1336.1 1359.0,1336.2 1360.2,1336.3 1361.4,1336.4 1362.6,1336.5 1363.8,1336.6 1365.0,1336.7 1366.2,1336.8 1367.4,1336.9 1368.6,1336.9 1369.8,1337.0 1371.0,1337.1 1372.2,1337.2 1373.4,1337.3 1374.6,1337.4 1375.9,1337.5 1377.1,1337.5 1378.3,1337.6 1379.5,1337.7 1380.7,1337.8 1381.9,1337.9 1383.1,1337.9 1384.3,1338.0 1385.5,1338.1 1386.7,1338.1 1387.9,1338.2 1389.1,1338.3 1390.3,1338.4 1391.5,1338.4 1392.7,1338.5 1393.9,1338.6 1395.1,1338.6 1396.3,1338.7 1397.5,1338.8 1398.7,1338.8 1399.9,1338.9 1401.1,1339.0 1402.3,1339.0 1403.5,1339.1 1404.7,1339.2 1405.9,1339.2 1407.1,1339.3 1408.3,1339.3 1409.5,1339.4 1410.7,1339.5 1411.9,1339.5 1413.1,1339.6 1414.3,1339.6 1415.5,1339.7 1416.7,1339.7 1417.9,1339.8 1419.1,1339.8 1420.3,1339.9 1421.5,1339.9 1422.7,1340.0 1423.9,1340.0 1425.1,1340.1 1426.3,1340.1 1427.5,1340.2 1428.7,1340.2 1429.9,1340.2 1431.1,1340.3 1432.3,1340.3 1433.5,1340.4 1434.7,1340.4 1435.9,1340.4 1437.1,1340.5 1438.3,1340.5 1439.5,1340.5 1440.7,1340.6 1441.9,1340.6 1443.1,1340.6 1444.3,1340.7 1445.5,1340.7 1446.7,1340.7 1447.9,1340.7 1449.1,1340.8 1450.3,1340.8 1451.5,1340.8 1452.7,1340.9 1453.9,1340.9 1455.1,1340.9 1456.3,1340.9 1457.5,1341.0 1458.7,1341.0 1459.9,1341.0 1461.1,1341.1 1462.3,1341.1 1463.5,1341.1 1464.7,1341.1 1465.9,1341.2 1467.1,1341.2 1468.3,1341.2 1469.5,1341.3 1470.7,1341.3 1471.9,1341.3 1473.1,1341.3 1474.3,1341.4 1475.5,1341.4 1476.7,1341.4 1477.9,1341.4 1479.1,1341.5 1480.3,1341.5 1481.5,1341.5 1482.7,1341.5 1483.9,1341.6 1485.1,1341.6 1486.3,1341.6 1487.5,1341.6 1488.7,1341.7 1489.9,1341.7 1491.1,1341.7 1492.3,1341.7 1493.5,1341.8 1494.7,1341.8 1495.9,1341.8 1497.1,1341.8 1498.3,1341.9 1499.5,1341.9 1500.7,1341.9 1501.9,1341.9 1503.1,1342.0 1504.3,1342.0 1505.5,1342.0 1506.7,1342.1 1507.9,1342.1 1509.1,1342.1 1510.3,1342.2 1511.5,1342.2 1512.7,1342.3 1513.9,1342.3 1515.1,1342.3 1516.3,1342.4 1517.5,1342.5 1518.7,1342.5 1519.9,1342.6 1521.1,1342.7 1522.3,1342.7 1523.5,1342.8 1524.7,1342.9 1525.9,1343.0 1527.1,1343.1 1528.3,1343.2 1529.5,1343.3 1530.7,1343.4" fill="none" stroke="#0a6db6" stroke-width="4.2" stroke-linejoin="round"/>
<path d="M907.7,776.3 908.1,791.0 908.5,794.3 908.9,785.2 909.3,791.0 909.7,793.3 910.1,805.6 910.5,804.8 910.9,814.7 911.3,798.9 911.7,828.4 912.1,819.7 912.5,829.2 912.9,826.8 913.3,828.5 913.7,838.3 914.1,844.3 914.5,839.8 914.9,843.2 915.3,852.2 915.7,843.4 916.1,841.3 916.5,858.0 916.9,852.6 917.3,845.9 917.7,856.4 918.1,861.3 918.5,858.2 918.9,858.2 919.3,871.6 919.7,879.9 920.1,873.8 920.5,872.1 920.9,882.3 921.3,886.7 921.7,881.2 922.1,889.2 922.5,894.6 922.9,887.3 923.3,884.6 923.7,894.7 924.1,895.6 924.5,903.3 924.9,887.9 925.3,893.9 925.7,894.3 926.1,889.5 926.5,904.5 926.9,909.0 927.3,901.7 927.7,918.6 928.1,916.3 928.5,916.8 928.9,917.0 929.3,922.9 929.7,908.6 930.1,924.4 930.5,926.4 930.9,911.7 931.3,928.7 931.7,926.6 932.1,936.0 932.5,929.6 932.9,934.7 933.3,939.3 933.7,933.0 934.1,945.4 934.5,942.6 934.9,948.9 935.3,943.9 935.7,957.1 936.1,955.8 936.5,952.4 936.9,959.9 937.3,966.2 937.7,971.7 938.1,950.3 938.5,969.0 938.9,967.8 939.3,965.6 939.7,961.0 940.1,978.0 940.5,962.3 940.9,976.3 941.3,982.8 941.7,964.4 942.1,974.6 942.5,969.2 942.9,981.1 943.3,991.1 943.7,995.9 944.1,971.5 944.5,981.0 944.9,991.0 945.3,998.3 945.7,991.8 946.1,985.3 946.5,993.8 946.9,993.1 947.3,993.3 947.7,991.2 948.1,1000.2 948.5,1001.1 948.9,1000.0 949.3,1000.6 949.7,995.0 950.1,1001.8 950.5,1014.7 950.9,1006.8 951.3,1000.0 951.7,1020.0 952.1,1016.2 952.5,1028.1 952.9,1016.0 953.3,1014.0 953.7,1008.9 954.1,1028.7 954.5,1038.4 954.9,1017.4 955.3,1019.9 955.7,1029.5 956.1,1021.4 956.5,1026.4 956.9,1027.2 957.3,1032.0 957.7,1039.2 958.1,1033.4 958.5,1040.4 958.9,1032.9 959.3,1038.9 959.7,1024.0 960.1,1029.6 960.5,1045.4 960.9,1037.4 961.3,1046.2 961.7,1047.0 962.1,1053.1 962.5,1050.9 962.9,1053.3 963.3,1047.0 963.7,1044.3 964.1,1045.2 964.5,1047.8 964.9,1044.7 965.3,1049.6 965.7,1053.6 966.1,1056.9 966.5,1054.2 966.9,1045.1 967.3,1058.1 967.7,1061.2 968.1,1067.8 968.5,1065.7 968.9,1059.0 969.3,1059.7 969.7,1078.4 970.1,1071.5 970.5,1079.5 970.9,1082.6 971.3,1065.0 971.7,1073.8 972.1,1075.5 972.5,1077.3 972.9,1078.4 973.3,1077.4 973.7,1078.4 974.1,1068.9 974.5,1078.5 974.9,1075.9 975.3,1082.6 975.7,1079.9 976.1,1087.9 976.5,1090.2 976.9,1088.0 977.3,1089.1 977.7,1088.7 978.1,1086.3 978.5,1089.1 978.9,1088.0 979.3,1094.5 979.7,1093.1 980.1,1097.6 980.5,1086.6 980.9,1101.4 981.3,1092.0 981.7,1093.1 982.1,1097.4 982.5,1096.0 982.9,1102.2 983.3,1097.7 983.7,1095.5 984.1,1097.7 984.5,1112.0 984.9,1105.0 985.3,1098.3 985.7,1106.4 986.1,1097.6 986.5,1119.1 986.9,1099.4 987.3,1112.6 987.7,1113.8 988.1,1102.3 988.5,1113.9 988.9,1119.0 989.3,1116.5 989.7,1115.9 990.1,1120.9 990.5,1116.8 990.9,1118.6 991.3,1116.5 991.7,1121.8 992.1,1112.9 992.5,1124.2 992.9,1116.9 993.3,1114.1 993.7,1123.7 994.1,1132.5 994.5,1128.7 994.9,1120.4 995.3,1128.5 995.7,1122.1 996.1,1124.8 996.5,1126.8 996.9,1112.9 997.3,1128.9 997.7,1122.2 998.1,1125.0 998.5,1121.0 998.9,1121.5 999.3,1125.8 999.7,1137.3 1000.1,1143.2 1000.5,1133.8 1000.9,1141.3 1001.3,1134.0 1001.7,1124.8 1002.1,1138.1 1002.5,1140.7 1002.9,1136.3 1003.3,1141.6 1003.7,1144.0 1004.1,1136.2 1004.5,1133.4 1004.9,1141.7 1005.3,1142.6 1005.7,1142.6 1006.1,1151.4 1006.5,1156.7 1006.9,1144.6 1007.3,1152.1 1007.7,1154.3 1008.1,1153.7 1008.5,1156.4 1008.9,1148.5 1009.3,1156.0 1009.7,1164.3 1010.1,1157.7 1010.5,1149.9 1010.9,1157.9 1011.3,1162.5 1011.7,1157.8 1012.1,1153.0 1012.5,1166.1 1012.9,1150.2 1013.3,1161.2 1013.7,1158.8 1014.1,1152.5 1014.5,1167.4 1014.9,1162.8 1015.3,1154.5 1015.7,1165.6 1016.1,1160.1 1016.5,1152.0 1016.9,1159.8 1017.3,1166.0 1017.7,1168.8 1018.1,1166.6 1018.5,1166.5 1018.9,1169.5 1019.3,1166.1 1019.7,1174.8 1020.1,1169.4 1020.5,1170.8 1020.9,1172.8 1021.3,1163.9 1021.7,1166.5 1022.1,1180.1 1022.5,1173.6 1022.9,1170.5 1023.3,1174.7 1023.7,1170.4 1024.1,1175.3 1024.5,1170.3 1024.9,1176.3 1025.3,1166.0 1025.7,1183.5 1026.1,1173.3 1026.5,1167.6 1026.9,1176.0 1027.3,1175.7 1027.7,1179.3 1028.1,1172.2 1028.5,1181.8 1028.9,1201.1 1029.3,1173.2 1029.7,1183.2 1030.1,1180.0 1030.5,1183.6 1030.9,1172.6 1031.3,1177.1 1031.7,1187.1 1032.1,1184.9 1032.5,1195.2 1032.9,1182.4 1033.3,1188.2 1033.7,1204.7 1034.1,1184.2 1034.5,1184.1 1034.9,1189.9 1035.3,1190.5 1035.7,1196.3 1036.1,1192.9 1036.5,1188.5 1036.9,1194.8 1037.3,1209.4 1037.7,1202.2 1038.1,1179.6 1038.5,1195.4 1038.9,1191.8 1039.3,1201.0 1039.7,1197.0 1040.1,1209.6 1040.5,1204.5 1040.9,1204.8 1041.3,1201.3 1041.7,1200.5 1042.1,1203.2 1042.5,1209.1 1042.9,1205.3 1043.3,1200.7 1043.7,1210.5 1044.1,1204.8 1044.5,1203.7 1044.9,1200.1 1045.3,1201.9 1045.7,1201.9 1046.1,1190.2 1046.5,1212.2 1046.9,1210.1 1047.3,1206.1 1047.7,1213.7 1048.1,1210.8 1048.5,1210.8 1048.9,1195.2 1049.3,1208.4 1049.7,1213.1 1050.1,1219.7 1050.5,1221.5 1050.9,1219.6 1051.3,1205.5 1051.7,1200.2 1052.1,1216.2 1052.5,1213.7 1052.9,1219.4 1053.3,1213.8 1053.7,1216.2 1054.1,1207.0 1054.5,1218.4 1054.9,1213.9 1055.3,1218.8 1055.7,1219.9 1056.1,1217.2 1056.5,1220.1 1056.9,1218.7 1057.3,1223.5 1057.7,1222.6 1058.1,1217.2 1058.5,1217.4 1058.9,1230.9 1059.3,1221.1 1059.7,1227.7 1060.1,1224.8 1060.5,1220.0 1060.9,1219.4 1061.3,1224.7 1061.7,1226.0 1062.1,1228.5 1062.5,1218.5 1062.9,1222.7 1063.3,1226.0 1063.8,1235.9 1064.2,1214.4 1064.6,1230.4 1065.0,1225.5 1065.4,1231.4 1065.8,1226.7 1066.2,1232.0 1066.6,1239.1 1067.0,1232.9 1067.4,1233.8 1067.8,1233.9 1068.2,1228.2 1068.6,1235.8 1069.0,1232.1 1069.4,1229.3 1069.8,1234.0 1070.2,1233.4 1070.6,1239.2 1071.0,1235.3 1071.4,1233.1 1071.8,1244.4 1072.2,1242.3 1072.6,1244.3 1073.0,1241.0 1073.4,1237.5 1073.8,1236.3 1074.2,1237.4 1074.6,1244.6 1075.0,1240.4 1075.4,1232.1 1075.8,1240.4 1076.2,1233.3 1076.6,1242.4 1077.0,1235.3 1077.4,1235.3 1077.8,1243.3 1078.2,1242.6 1078.6,1234.4 1079.0,1247.9 1079.4,1256.0 1079.8,1236.5 1080.2,1254.9 1080.6,1241.6 1081.0,1243.0 1081.4,1245.1 1081.8,1238.6 1082.2,1253.9 1082.6,1249.8 1083.0,1243.4 1083.4,1246.3 1083.8,1240.0 1084.2,1246.7 1084.6,1254.0 1085.0,1239.9 1085.4,1247.2 1085.8,1250.7 1086.2,1256.0 1086.6,1257.9 1087.0,1248.5 1087.4,1247.3 1087.8,1254.1 1088.2,1250.0 1088.6,1250.6 1089.0,1258.5 1089.4,1262.1 1089.8,1254.7 1090.2,1252.6 1090.6,1257.0 1091.0,1244.1 1091.4,1254.5 1091.8,1249.2 1092.2,1268.1 1092.6,1259.4 1093.0,1256.6 1093.4,1255.1 1093.8,1242.9 1094.2,1260.6 1094.6,1265.9 1095.0,1253.5 1095.4,1261.4 1095.8,1261.9 1096.2,1250.0 1096.6,1263.7 1097.0,1266.2 1097.4,1260.4 1097.8,1259.2 1098.2,1264.0 1098.6,1251.8 1099.0,1260.9 1099.4,1266.3 1099.8,1254.3 1100.2,1266.6 1100.6,1259.3 1101.0,1250.7 1101.4,1261.5 1101.8,1257.2 1102.2,1264.4 1102.6,1256.6 1103.0,1268.8 1103.4,1259.5 1103.8,1265.6 1104.2,1260.8 1104.6,1262.5 1105.0,1270.9 1105.4,1265.9 1105.8,1262.9 1106.2,1258.6 1106.6,1271.7 1107.0,1269.7 1107.4,1264.3 1107.8,1267.6 1108.2,1261.0 1108.6,1261.4 1109.0,1262.6 1109.4,1269.1 1109.8,1269.1 1110.2,1263.8 1110.6,1271.9 1111.0,1272.4 1111.4,1269.4 1111.8,1274.2 1112.2,1267.4 1112.6,1268.5 1113.0,1271.9 1113.4,1269.4 1113.8,1274.1 1114.2,1263.4 1114.6,1277.9 1115.0,1266.4 1115.4,1269.9 1115.8,1263.7 1116.2,1274.4 1116.6,1278.2 1117.0,1277.4 1117.4,1276.3 1117.8,1263.9 1118.2,1268.2 1118.6,1270.2 1119.0,1267.9 1119.4,1279.0 1119.8,1274.3 1120.2,1273.4 1120.6,1276.4 1121.0,1269.0 1121.4,1269.4 1121.8,1269.8 1122.2,1277.3 1122.6,1276.8 1123.0,1278.3 1123.4,1281.1 1123.8,1268.5 1124.2,1273.0 1124.6,1276.9 1125.0,1269.3 1125.4,1273.9 1125.8,1282.2 1126.2,1283.0 1126.6,1283.1 1127.0,1277.9 1127.4,1276.8 1127.8,1283.8 1128.2,1276.4 1128.6,1280.4 1129.0,1285.8 1129.4,1277.2 1129.8,1276.2 1130.2,1279.6 1130.6,1283.0 1131.0,1282.6 1131.4,1281.2 1131.8,1283.5 1132.2,1272.5 1132.6,1276.6 1133.0,1282.2 1133.4,1276.7 1133.8,1274.8 1134.2,1275.8 1134.6,1277.5 1135.0,1281.6 1135.4,1277.5 1135.8,1284.3 1136.2,1292.2 1136.6,1282.8 1137.0,1290.4 1137.4,1285.5 1137.8,1278.4 1138.2,1283.1 1138.6,1279.6 1139.0,1289.0 1139.4,1279.2 1139.8,1292.3 1140.2,1288.7 1140.6,1275.3 1141.0,1290.2 1141.4,1294.4 1141.8,1282.4 1142.2,1291.9 1142.6,1277.6 1143.0,1288.5 1143.4,1278.8 1143.8,1290.2 1144.2,1278.6 1144.6,1274.4 1145.0,1290.4 1145.4,1300.4 1145.8,1285.6 1146.2,1293.2 1146.6,1289.7 1147.0,1287.7 1147.4,1292.8 1147.8,1298.3 1148.2,1283.6 1148.6,1293.1 1149.0,1292.2 1149.4,1283.2 1149.8,1299.2 1150.2,1301.1 1150.6,1286.3 1151.0,1300.4 1151.4,1291.9 1151.8,1291.0 1152.2,1299.8 1152.6,1293.4 1153.0,1294.1 1153.4,1300.5 1153.8,1299.5 1154.2,1297.7 1154.6,1286.0 1155.0,1285.3 1155.4,1299.5 1155.8,1289.0 1156.2,1294.8 1156.6,1288.7 1157.0,1293.5 1157.4,1288.0 1157.8,1303.2 1158.2,1289.7 1158.6,1294.5 1159.0,1294.4 1159.4,1301.8 1159.8,1288.4 1160.2,1295.8 1160.6,1295.0 1161.0,1299.0 1161.4,1298.9 1161.8,1294.3 1162.2,1298.1 1162.6,1295.1 1163.0,1299.6 1163.4,1296.9 1163.8,1294.2 1164.2,1297.6 1164.6,1299.8 1165.0,1309.7 1165.4,1295.8 1165.8,1300.0 1166.2,1306.1 1166.6,1288.1 1167.0,1290.0 1167.4,1293.1 1167.8,1298.8 1168.2,1312.0 1168.6,1301.7 1169.0,1306.1 1169.4,1298.9 1169.8,1287.6 1170.2,1288.5 1170.6,1305.8 1171.0,1301.7 1171.4,1294.2 1171.8,1306.8 1172.2,1293.4 1172.6,1307.2 1173.0,1309.0 1173.4,1297.8 1173.8,1296.2 1174.2,1306.4 1174.6,1296.6 1175.0,1306.8 1175.4,1296.5 1175.8,1306.9 1176.2,1303.4 1176.6,1300.8 1177.0,1298.6 1177.4,1304.6 1177.8,1293.9 1178.2,1302.3 1178.6,1301.8 1179.0,1307.4 1179.4,1297.7 1179.8,1313.0 1180.2,1302.8 1180.6,1298.8 1181.0,1311.8 1181.4,1313.3 1181.8,1304.1 1182.2,1300.6 1182.6,1305.4 1183.0,1301.9 1183.4,1304.0 1183.8,1313.6 1184.2,1307.8 1184.6,1306.7 1185.0,1307.9 1185.4,1305.9 1185.8,1310.6 1186.2,1311.0 1186.6,1304.7 1187.0,1307.3 1187.4,1319.1 1187.8,1309.1 1188.2,1306.1 1188.6,1317.6 1189.0,1307.4 1189.4,1301.9 1189.8,1311.0 1190.2,1303.1 1190.6,1305.3 1191.0,1309.6 1191.4,1307.4 1191.8,1304.3 1192.2,1305.5 1192.6,1305.4 1193.0,1314.4 1193.4,1304.9 1193.8,1305.8 1194.2,1319.1 1194.6,1306.1 1195.0,1316.6 1195.4,1315.8 1195.8,1308.5 1196.2,1302.1 1196.6,1311.7 1197.0,1313.0 1197.4,1314.6 1197.8,1310.1 1198.2,1316.0 1198.6,1317.0 1199.0,1304.7 1199.4,1317.4 1199.8,1311.1 1200.2,1307.5 1200.6,1308.9 1201.0,1320.1 1201.4,1315.6 1201.8,1301.7 1202.2,1311.3 1202.6,1310.3 1203.0,1310.2 1203.4,1308.6 1203.8,1303.9 1204.2,1315.7 1204.6,1306.7 1205.0,1309.7 1205.4,1308.6 1205.8,1308.1 1206.2,1315.6 1206.6,1313.9 1207.0,1308.6 1207.4,1307.4 1207.8,1309.9 1208.2,1317.2 1208.6,1313.1 1209.0,1313.7 1209.4,1311.0 1209.8,1311.4 1210.2,1313.9 1210.6,1303.6 1211.0,1321.1 1211.4,1309.1 1211.8,1310.3 1212.2,1320.1 1212.6,1314.5 1213.0,1313.7 1213.4,1310.7 1213.8,1305.8 1214.2,1314.7 1214.6,1319.9 1215.0,1309.5 1215.4,1321.0 1215.8,1308.5 1216.2,1310.6 1216.6,1317.0 1217.0,1314.5 1217.4,1318.1 1217.8,1311.0 1218.2,1309.6 1218.6,1305.5 1219.0,1309.0 1219.4,1309.7 1219.8,1308.0 1220.2,1316.9 1220.6,1312.1 1221.0,1305.5 1221.4,1328.1 1221.8,1311.5 1222.2,1309.5 1222.6,1322.2 1223.0,1321.9 1223.4,1310.4 1223.8,1308.8 1224.2,1311.3 1224.6,1322.1 1225.0,1315.0 1225.4,1312.6 1225.8,1316.6 1226.2,1322.9 1226.6,1310.0 1227.0,1315.1 1227.4,1310.2 1227.8,1328.2 1228.2,1326.5 1228.6,1322.3 1229.0,1316.9 1229.4,1321.0 1229.8,1307.2 1230.2,1319.3 1230.6,1311.3 1231.0,1311.5 1231.4,1314.7 1231.8,1316.6 1232.2,1321.3 1232.6,1322.0 1233.0,1319.9 1233.4,1314.0 1233.8,1322.2 1234.2,1318.3 1234.6,1324.9 1235.0,1314.5 1235.4,1305.4 1235.8,1316.9 1236.2,1330.2 1236.6,1321.9 1237.0,1318.6 1237.4,1324.1 1237.8,1322.3 1238.2,1322.2 1238.6,1317.4 1239.0,1320.5 1239.4,1321.2 1239.8,1317.1 1240.2,1314.8 1240.6,1321.2 1241.0,1325.4 1241.4,1323.9 1241.8,1323.3 1242.2,1323.4 1242.6,1333.9 1243.0,1322.4 1243.4,1326.4 1243.8,1331.0 1244.2,1321.6 1244.6,1322.8 1245.0,1326.8 1245.4,1330.1 1245.8,1323.3 1246.2,1323.6 1246.6,1322.4 1247.0,1316.0 1247.4,1327.7 1247.8,1320.9 1248.2,1313.7 1248.6,1321.6 1249.0,1313.8 1249.4,1317.5 1249.8,1322.7 1250.2,1318.1 1250.6,1328.2 1251.0,1315.6 1251.4,1324.3 1251.8,1325.9 1252.2,1330.4 1252.6,1327.8 1253.0,1324.5 1253.4,1323.8 1253.8,1323.2 1254.2,1329.2 1254.6,1320.4 1255.0,1326.3 1255.4,1323.3 1255.8,1325.1 1256.2,1322.7 1256.6,1334.7 1257.0,1320.9 1257.4,1325.5 1257.8,1325.6 1258.2,1327.4 1258.6,1326.7 1259.0,1326.6 1259.4,1329.5 1259.8,1317.2 1260.2,1324.8 1260.6,1318.6 1261.0,1326.0 1261.4,1319.0 1261.8,1320.2 1262.2,1324.8 1262.6,1332.1 1263.0,1328.1 1263.4,1326.8 1263.8,1332.3 1264.2,1320.7 1264.6,1315.1 1265.0,1323.5 1265.4,1324.3 1265.8,1331.8 1266.2,1336.4 1266.6,1319.2 1267.0,1338.2 1267.4,1333.7 1267.8,1330.2 1268.2,1327.9 1268.6,1338.2 1269.0,1326.6 1269.4,1324.0 1269.8,1327.1 1270.2,1319.6 1270.6,1328.8 1271.0,1326.0 1271.4,1328.3 1271.8,1328.5 1272.2,1321.5 1272.6,1333.4 1273.0,1321.8 1273.4,1331.4 1273.8,1319.1 1274.2,1328.9 1274.6,1323.1 1275.0,1327.4 1275.4,1324.0 1275.8,1316.5 1276.2,1321.9 1276.6,1327.8 1277.0,1330.6 1277.4,1320.3 1277.8,1317.1 1278.2,1323.4 1278.6,1326.7 1279.0,1324.7 1279.4,1323.9 1279.8,1332.1 1280.2,1332.8 1280.6,1331.7 1281.0,1323.5 1281.4,1328.5 1281.8,1327.3 1282.2,1321.2 1282.6,1332.7 1283.0,1328.8 1283.4,1326.1 1283.8,1335.5 1284.2,1332.3 1284.6,1332.9 1285.0,1334.6 1285.4,1332.3 1285.8,1322.5 1286.2,1326.9 1286.6,1333.9 1287.0,1325.1 1287.4,1329.2 1287.8,1331.0 1288.2,1336.3 1288.6,1335.6 1289.0,1333.7 1289.4,1328.4 1289.8,1333.9 1290.2,1332.0 1290.6,1328.6 1291.0,1336.2 1291.4,1332.0 1291.8,1325.9 1292.2,1335.9 1292.6,1328.4 1293.0,1332.7 1293.4,1322.3 1293.8,1329.7 1294.2,1325.2 1294.6,1325.1 1295.0,1320.5 1295.4,1340.6 1295.8,1329.3 1296.2,1331.3 1296.6,1335.7 1297.0,1329.6 1297.4,1332.8 1297.8,1323.6 1298.2,1331.4 1298.6,1328.4 1299.0,1333.0 1299.4,1331.4 1299.8,1323.7 1300.2,1321.5 1300.6,1325.7 1301.0,1334.4 1301.4,1332.9 1301.8,1332.8 1302.2,1320.9 1302.6,1317.6 1303.0,1327.9 1303.4,1329.4 1303.8,1328.1 1304.2,1332.8 1304.6,1330.3 1305.0,1325.3 1305.4,1326.9 1305.8,1332.0 1306.2,1331.7 1306.6,1331.0 1307.0,1342.6 1307.4,1330.1 1307.8,1332.1 1308.2,1326.6 1308.6,1329.8 1309.0,1334.2 1309.4,1334.4 1309.8,1330.9 1310.2,1333.7 1310.6,1332.1 1311.0,1322.5 1311.4,1315.7 1311.8,1343.3 1312.2,1336.0 1312.6,1331.7 1313.0,1323.5 1313.4,1325.8 1313.8,1338.8 1314.2,1318.4 1314.6,1330.6 1315.0,1336.5 1315.4,1333.0 1315.8,1336.0 1316.2,1331.7 1316.6,1344.2 1317.0,1327.4 1317.4,1325.8 1317.8,1333.9 1318.2,1339.6 1318.6,1332.3 1319.0,1337.8 1319.4,1330.1 1319.8,1326.9 1320.2,1339.7 1320.6,1340.5 1321.0,1340.4 1321.4,1330.7 1321.8,1327.2 1322.2,1327.2 1322.6,1331.9 1323.0,1335.9 1323.4,1335.6 1323.8,1326.1 1324.2,1334.1 1324.6,1333.3 1325.0,1333.7 1325.4,1333.2 1325.8,1332.3 1326.2,1336.3 1326.6,1334.0 1327.0,1334.6 1327.4,1330.1 1327.8,1335.5 1328.2,1333.0 1328.6,1323.2 1329.0,1336.0 1329.4,1332.4 1329.8,1338.3 1330.2,1332.9 1330.6,1333.3 1331.0,1334.9 1331.4,1333.8 1331.8,1331.7 1332.2,1325.1 1332.6,1343.0 1333.0,1326.2 1333.4,1332.4 1333.8,1337.3 1334.2,1336.0 1334.6,1336.9 1335.0,1338.0 1335.4,1340.4 1335.8,1335.7 1336.2,1348.6 1336.6,1329.3 1337.0,1335.5 1337.4,1332.6 1337.8,1331.8 1338.2,1335.9 1338.6,1341.7 1339.0,1331.0 1339.4,1331.1 1339.8,1338.2 1340.2,1337.3 1340.6,1344.3 1341.0,1339.8 1341.4,1335.9 1341.8,1333.2 1342.2,1335.9 1342.6,1334.0 1343.0,1328.2 1343.4,1335.0 1343.8,1334.1 1344.2,1333.8 1344.6,1332.9 1345.0,1343.4 1345.4,1338.5 1345.8,1339.7 1346.2,1332.2 1346.6,1330.2 1347.0,1333.8 1347.4,1336.5 1347.8,1333.6 1348.2,1334.4 1348.6,1340.1 1349.0,1336.9 1349.4,1330.6 1349.8,1333.4 1350.2,1332.3 1350.6,1336.4 1351.0,1329.8 1351.4,1334.7 1351.8,1339.0 1352.2,1335.8 1352.6,1331.2 1353.0,1332.7 1353.4,1336.4 1353.8,1338.2 1354.2,1339.9 1354.6,1335.1 1355.0,1329.4 1355.4,1342.9 1355.8,1337.4 1356.2,1338.0 1356.6,1337.5 1357.0,1331.0 1357.4,1334.5 1357.8,1337.4 1358.2,1341.2 1358.6,1336.5 1359.0,1320.9 1359.4,1335.1 1359.8,1338.0 1360.2,1342.7 1360.6,1339.8 1361.0,1348.6 1361.4,1343.4 1361.8,1343.0 1362.2,1341.1 1362.6,1329.7 1363.0,1340.7 1363.4,1339.5 1363.8,1334.0 1364.2,1339.5 1364.6,1338.7 1365.0,1334.4 1365.4,1336.1 1365.8,1335.4 1366.2,1337.9 1366.6,1334.7 1367.0,1339.5 1367.4,1327.5 1367.8,1335.5 1368.2,1328.7 1368.6,1334.6 1369.0,1339.5 1369.4,1337.1 1369.8,1336.5 1370.2,1337.4 1370.6,1344.8 1371.0,1331.7 1371.4,1341.5 1371.8,1329.8 1372.2,1334.9 1372.6,1338.0 1373.0,1333.1 1373.4,1338.3 1373.8,1340.9 1374.2,1331.5 1374.6,1337.0 1375.0,1335.6 1375.5,1327.9 1375.9,1336.5 1376.3,1333.6 1376.7,1344.1 1377.1,1333.3 1377.5,1345.9 1377.9,1335.0 1378.3,1347.1 1378.7,1340.3 1379.1,1339.9 1379.5,1341.6 1379.9,1342.1 1380.3,1344.6 1380.7,1346.3 1381.1,1336.1 1381.5,1331.7 1381.9,1324.8 1382.3,1336.0 1382.7,1341.6 1383.1,1339.8 1383.5,1338.5 1383.9,1336.3 1384.3,1334.9 1384.7,1336.6 1385.1,1340.0 1385.5,1329.4 1385.9,1341.7 1386.3,1331.0 1386.7,1337.4 1387.1,1335.1 1387.5,1336.4 1387.9,1333.1 1388.3,1332.6 1388.7,1337.1 1389.1,1333.0 1389.5,1350.3 1389.9,1336.3 1390.3,1335.1 1390.7,1335.7 1391.1,1333.1 1391.5,1326.4 1391.9,1337.2 1392.3,1340.0 1392.7,1331.1 1393.1,1338.5 1393.5,1332.6 1393.9,1338.4 1394.3,1340.3 1394.7,1340.9 1395.1,1340.7 1395.5,1335.2 1395.9,1342.9 1396.3,1336.5 1396.7,1340.4 1397.1,1342.1 1397.5,1337.2 1397.9,1332.5 1398.3,1341.8 1398.7,1333.3 1399.1,1334.5 1399.5,1333.4 1399.9,1343.0 1400.3,1338.1 1400.7,1327.9 1401.1,1342.5 1401.5,1349.1 1401.9,1347.8 1402.3,1336.2 1402.7,1339.4 1403.1,1341.5 1403.5,1343.4 1403.9,1339.2 1404.3,1333.7 1404.7,1342.8 1405.1,1342.1 1405.5,1332.6 1405.9,1337.4 1406.3,1340.5 1406.7,1339.2 1407.1,1341.8 1407.5,1343.1 1407.9,1341.9 1408.3,1338.7 1408.7,1332.7 1409.1,1342.3 1409.5,1346.2 1409.9,1349.0 1410.3,1339.2 1410.7,1339.2 1411.1,1346.5 1411.5,1346.5 1411.9,1341.1 1412.3,1342.9 1412.7,1335.8 1413.1,1342.4 1413.5,1335.5 1413.9,1338.8 1414.3,1339.0 1414.7,1337.3 1415.1,1329.3 1415.5,1335.6 1415.9,1341.3 1416.3,1339.3 1416.7,1337.7 1417.1,1341.8 1417.5,1343.1 1417.9,1343.9 1418.3,1335.8 1418.7,1339.8 1419.1,1338.1 1419.5,1335.5 1419.9,1332.5 1420.3,1339.3 1420.7,1335.6 1421.1,1350.3 1421.5,1339.4 1421.9,1338.8 1422.3,1337.9 1422.7,1349.1 1423.1,1335.3 1423.5,1339.1 1423.9,1336.2 1424.3,1339.4 1424.7,1339.8 1425.1,1345.4 1425.5,1333.1 1425.9,1339.9 1426.3,1347.9 1426.7,1337.6 1427.1,1339.2 1427.5,1335.8 1427.9,1327.3 1428.3,1339.6 1428.7,1345.9 1429.1,1337.9 1429.5,1331.1 1429.9,1341.5 1430.3,1340.6 1430.7,1345.1 1431.1,1344.6 1431.5,1338.9 1431.9,1342.2 1432.3,1331.5 1432.7,1345.7 1433.1,1341.2 1433.5,1345.6 1433.9,1345.5 1434.3,1338.9 1434.7,1339.6 1435.1,1336.1 1435.5,1330.3 1435.9,1339.7 1436.3,1341.1 1436.7,1335.1 1437.1,1343.9 1437.5,1340.9 1437.9,1342.6 1438.3,1336.7 1438.7,1331.8 1439.1,1344.2 1439.5,1343.4 1439.9,1339.9 1440.3,1338.4 1440.7,1339.1 1441.1,1339.8 1441.5,1338.0 1441.9,1330.7 1442.3,1344.3 1442.7,1333.2 1443.1,1338.9 1443.5,1339.1 1443.9,1341.8 1444.3,1332.7 1444.7,1346.5 1445.1,1343.8 1445.5,1344.4 1445.9,1346.8 1446.3,1336.7 1446.7,1325.4 1447.1,1342.3 1447.5,1347.1 1447.9,1346.4 1448.3,1338.1 1448.7,1340.3 1449.1,1342.1 1449.5,1331.9 1449.9,1337.5 1450.3,1337.7 1450.7,1348.5 1451.1,1337.6 1451.5,1348.5 1451.9,1340.9 1452.3,1332.7 1452.7,1351.7 1453.1,1336.1 1453.5,1343.9 1453.9,1349.2 1454.3,1338.3 1454.7,1334.9 1455.1,1346.0 1455.5,1341.2 1455.9,1335.0 1456.3,1335.7 1456.7,1339.1 1457.1,1345.7 1457.5,1339.6 1457.9,1344.2 1458.3,1349.0 1458.7,1347.2 1459.1,1348.0 1459.5,1347.0 1459.9,1333.2 1460.3,1347.0 1460.7,1342.7 1461.1,1340.5 1461.5,1335.8 1461.9,1333.3 1462.3,1335.7 1462.7,1341.0 1463.1,1335.4 1463.5,1337.1 1463.9,1338.1 1464.3,1344.4 1464.7,1339.7 1465.1,1340.4 1465.5,1347.6 1465.9,1339.6 1466.3,1344.1 1466.7,1336.0 1467.1,1342.8 1467.5,1341.8 1467.9,1342.1 1468.3,1339.0 1468.7,1336.2 1469.1,1339.8 1469.5,1339.0 1469.9,1346.3 1470.3,1345.7 1470.7,1335.4 1471.1,1344.4 1471.5,1339.0 1471.9,1343.5 1472.3,1339.0 1472.7,1334.2 1473.1,1346.3 1473.5,1343.6 1473.9,1335.4 1474.3,1332.2 1474.7,1338.8 1475.1,1335.6 1475.5,1339.6 1475.9,1344.4 1476.3,1348.6 1476.7,1339.7 1477.1,1348.1 1477.5,1347.1 1477.9,1339.3 1478.3,1333.3 1478.7,1345.6 1479.1,1344.4 1479.5,1352.9 1479.9,1348.5 1480.3,1345.3 1480.7,1349.7 1481.1,1336.4 1481.5,1342.5 1481.9,1340.2 1482.3,1350.0 1482.7,1344.3 1483.1,1326.7 1483.5,1348.3 1483.9,1337.2 1484.3,1345.4 1484.7,1339.3 1485.1,1342.8 1485.5,1344.7 1485.9,1342.6 1486.3,1337.0 1486.7,1348.5 1487.1,1343.6 1487.5,1341.6 1487.9,1345.2 1488.3,1339.1 1488.7,1350.9 1489.1,1342.8 1489.5,1343.5 1489.9,1343.5 1490.3,1337.3 1490.7,1336.1 1491.1,1342.8 1491.5,1343.5 1491.9,1348.4 1492.3,1344.0 1492.7,1336.5 1493.1,1344.4 1493.5,1345.9 1493.9,1346.7 1494.3,1343.5 1494.7,1335.9 1495.1,1347.5 1495.5,1338.3 1495.9,1344.7 1496.3,1334.2 1496.7,1345.6 1497.1,1338.1 1497.5,1347.2 1497.9,1350.5 1498.3,1347.6 1498.7,1336.3 1499.1,1337.4 1499.5,1337.7 1499.9,1345.2 1500.3,1343.7 1500.7,1342.8 1501.1,1343.5 1501.5,1344.8 1501.9,1345.2 1502.3,1350.2 1502.7,1341.8 1503.1,1343.0 1503.5,1333.0 1503.9,1335.6 1504.3,1338.7 1504.7,1336.3 1505.1,1343.2 1505.5,1347.2 1505.9,1340.0 1506.3,1339.7 1506.7,1339.6 1507.1,1342.8 1507.5,1339.5 1507.9,1344.2 1508.3,1343.6 1508.7,1343.8 1509.1,1345.9 1509.5,1342.3 1509.9,1342.9 1510.3,1350.7 1510.7,1342.0 1511.1,1346.1 1511.5,1342.5 1511.9,1340.0 1512.3,1340.0 1512.7,1338.3 1513.1,1342.3 1513.5,1339.3 1513.9,1340.2 1514.3,1348.2 1514.7,1341.7 1515.1,1347.9 1515.5,1343.6 1515.9,1346.6 1516.3,1339.4 1516.7,1343.1 1517.1,1355.2 1517.5,1346.5 1517.9,1347.3 1518.3,1343.6 1518.7,1346.7 1519.1,1336.9 1519.5,1338.4 1519.9,1344.7 1520.3,1346.6 1520.7,1340.6 1521.1,1341.7 1521.5,1340.9 1521.9,1341.8 1522.3,1336.9 1522.7,1335.8 1523.1,1342.4 1523.5,1334.3 1523.9,1338.1 1524.3,1339.6 1524.7,1337.7 1525.1,1344.0 1525.5,1340.7 1525.9,1342.5 1526.3,1338.0 1526.7,1339.4 1527.1,1345.5 1527.5,1344.8 1527.9,1340.8 1528.3,1344.8 1528.7,1344.0 1529.1,1343.9 1529.5,1350.9 1529.9,1341.2 1530.3,1345.2 1530.7,1345.3 1531.1,1342.1" fill="none" stroke="#0a6db6" stroke-width="1.9" stroke-linejoin="round" stroke-miterlimit="4" stroke-linecap="butt"/>
<path d="M907.7,776.3 908.9,783.9 910.1,791.3 911.3,798.5 912.5,805.4 913.7,812.0 914.9,818.1 916.1,823.9 917.3,829.5 918.5,835.0 919.7,840.3 920.9,845.4 922.1,850.4 923.3,855.1 924.5,859.5 925.7,863.7 926.9,867.5 928.1,870.9 929.3,874.0 930.5,876.7 931.7,879.1 932.9,881.4 934.1,883.6 935.3,885.9 936.5,888.2 937.7,890.6 938.9,893.0 940.1,895.3 941.3,897.7 942.5,900.0 943.7,902.4 944.9,904.7 946.1,907.1 947.3,909.6 948.5,912.0 949.7,914.6 950.9,917.3 952.1,920.0 953.3,922.7 954.5,925.3 955.7,927.9 956.9,930.3 958.1,932.7 959.3,934.9 960.5,937.1 961.7,939.3 962.9,941.5 964.1,943.6 965.3,945.7 966.5,947.7 967.7,949.7 968.9,951.7 970.1,953.7 971.3,955.6 972.5,957.5 973.7,959.4 974.9,961.3 976.1,963.2 977.3,965.0 978.5,966.9 979.7,968.7 980.9,970.5 982.1,972.2 983.3,974.0 984.5,975.7 985.7,977.5 986.9,979.2 988.1,980.8 989.3,982.5 990.5,984.2 991.7,985.8 992.9,987.4 994.1,989.0 995.3,990.6 996.5,992.2 997.7,993.8 998.9,995.3 1000.1,996.9 1001.3,998.4 1002.5,999.8 1003.7,1001.3 1004.9,1002.7 1006.1,1004.2 1007.3,1005.6 1008.5,1007.0 1009.7,1008.4 1010.9,1009.8 1012.1,1011.2 1013.3,1012.6 1014.5,1014.0 1015.7,1015.4 1016.9,1016.9 1018.1,1018.4 1019.3,1019.8 1020.5,1021.4 1021.7,1022.9 1022.9,1024.5 1024.1,1026.1 1025.3,1027.7 1026.5,1029.4 1027.7,1031.0 1028.9,1032.6 1030.1,1034.3 1031.3,1035.9 1032.5,1037.5 1033.7,1039.1 1034.9,1040.6 1036.1,1042.1 1037.3,1043.6 1038.5,1045.0 1039.7,1046.4 1040.9,1047.7 1042.1,1049.1 1043.3,1050.3 1044.5,1051.6 1045.7,1052.8 1046.9,1054.0 1048.1,1055.2 1049.3,1056.4 1050.5,1057.6 1051.7,1058.7 1052.9,1059.9 1054.1,1061.0 1055.3,1062.1 1056.5,1063.2 1057.7,1064.3 1058.9,1065.4 1060.1,1066.5 1061.3,1067.6 1062.5,1068.6 1063.8,1069.7 1065.0,1070.7 1066.2,1071.7 1067.4,1072.7 1068.6,1073.7 1069.8,1074.7 1071.0,1075.6 1072.2,1076.6 1073.4,1077.6 1074.6,1078.6 1075.8,1079.6 1077.0,1080.6 1078.2,1081.6 1079.4,1082.7 1080.6,1083.7 1081.8,1084.8 1083.0,1086.0 1084.2,1087.1 1085.4,1088.3 1086.6,1089.5 1087.8,1090.7 1089.0,1091.9 1090.2,1093.1 1091.4,1094.4 1092.6,1095.6 1093.8,1096.8 1095.0,1098.1 1096.2,1099.3 1097.4,1100.5 1098.6,1101.7 1099.8,1102.9 1101.0,1104.1 1102.2,1105.3 1103.4,1106.4 1104.6,1107.5 1105.8,1108.7 1107.0,1109.8 1108.2,1110.9 1109.4,1112.0 1110.6,1113.1 1111.8,1114.2 1113.0,1115.3 1114.2,1116.4 1115.4,1117.4 1116.6,1118.5 1117.8,1119.6 1119.0,1120.6 1120.2,1121.6 1121.4,1122.7 1122.6,1123.7 1123.8,1124.7 1125.0,1125.7 1126.2,1126.7 1127.4,1127.7 1128.6,1128.6 1129.8,1129.6 1131.0,1130.6 1132.2,1131.5 1133.4,1132.5 1134.6,1133.4 1135.8,1134.3 1137.0,1135.3 1138.2,1136.2 1139.4,1137.1 1140.6,1138.1 1141.8,1139.0 1143.0,1140.0 1144.2,1140.9 1145.4,1141.9 1146.6,1142.9 1147.8,1143.8 1149.0,1144.8 1150.2,1145.8 1151.4,1146.8 1152.6,1147.8 1153.8,1148.7 1155.0,1149.7 1156.2,1150.7 1157.4,1151.6 1158.6,1152.6 1159.8,1153.5 1161.0,1154.5 1162.2,1155.4 1163.4,1156.3 1164.6,1157.2 1165.8,1158.1 1167.0,1159.0 1168.2,1159.9 1169.4,1160.7 1170.6,1161.6 1171.8,1162.4 1173.0,1163.3 1174.2,1164.1 1175.4,1164.9 1176.6,1165.8 1177.8,1166.6 1179.0,1167.4 1180.2,1168.2 1181.4,1169.1 1182.6,1169.9 1183.8,1170.7 1185.0,1171.5 1186.2,1172.3 1187.4,1173.1 1188.6,1173.9 1189.8,1174.7 1191.0,1175.5 1192.2,1176.3 1193.4,1177.1 1194.6,1177.9 1195.8,1178.7 1197.0,1179.5 1198.2,1180.3 1199.4,1181.1 1200.6,1181.9 1201.8,1182.7 1203.0,1183.5 1204.2,1184.2 1205.4,1185.0 1206.6,1185.8 1207.8,1186.5 1209.0,1187.3 1210.2,1188.0 1211.4,1188.8 1212.6,1189.5 1213.8,1190.3 1215.0,1191.0 1216.2,1191.7 1217.4,1192.4 1218.6,1193.2 1219.8,1193.9 1221.0,1194.6 1222.2,1195.3 1223.4,1196.0 1224.6,1196.7 1225.8,1197.3 1227.0,1198.0 1228.2,1198.7 1229.4,1199.4 1230.6,1200.0 1231.8,1200.7 1233.0,1201.4 1234.2,1202.0 1235.4,1202.7 1236.6,1203.4 1237.8,1204.0 1239.0,1204.7 1240.2,1205.4 1241.4,1206.0 1242.6,1206.7 1243.8,1207.3 1245.0,1208.0 1246.2,1208.7 1247.4,1209.3 1248.6,1210.0 1249.8,1210.7 1251.0,1211.4 1252.2,1212.0 1253.4,1212.7 1254.6,1213.4 1255.8,1214.1 1257.0,1214.8 1258.2,1215.5 1259.4,1216.2 1260.6,1216.9 1261.8,1217.7 1263.0,1218.4 1264.2,1219.1 1265.4,1219.9 1266.6,1220.6 1267.8,1221.4 1269.0,1222.2 1270.2,1222.9 1271.4,1223.7 1272.6,1224.5 1273.8,1225.2 1275.0,1226.0 1276.2,1226.8 1277.4,1227.6 1278.6,1228.3 1279.8,1229.1 1281.0,1229.9 1282.2,1230.6 1283.4,1231.4 1284.6,1232.1 1285.8,1232.8 1287.0,1233.6 1288.2,1234.3 1289.4,1235.0 1290.6,1235.7 1291.8,1236.4 1293.0,1237.1 1294.2,1237.7 1295.4,1238.4 1296.6,1239.0 1297.8,1239.6 1299.0,1240.2 1300.2,1240.8 1301.4,1241.4 1302.6,1242.0 1303.8,1242.5 1305.0,1243.1 1306.2,1243.6 1307.4,1244.1 1308.6,1244.7 1309.8,1245.2 1311.0,1245.7 1312.2,1246.2 1313.4,1246.7 1314.6,1247.2 1315.8,1247.7 1317.0,1248.2 1318.2,1248.6 1319.4,1249.1 1320.6,1249.6 1321.8,1250.0 1323.0,1250.5 1324.2,1251.0 1325.4,1251.4 1326.6,1251.9 1327.8,1252.3 1329.0,1252.8 1330.2,1253.2 1331.4,1253.7 1332.6,1254.1 1333.8,1254.5 1335.0,1255.0 1336.2,1255.4 1337.4,1255.9 1338.6,1256.3 1339.8,1256.8 1341.0,1257.2 1342.2,1257.6 1343.4,1258.1 1344.6,1258.5 1345.8,1259.0 1347.0,1259.4 1348.2,1259.9 1349.4,1260.3 1350.6,1260.7 1351.8,1261.2 1353.0,1261.6 1354.2,1262.1 1355.4,1262.5 1356.6,1262.9 1357.8,1263.3 1359.0,1263.8 1360.2,1264.2 1361.4,1264.6 1362.6,1265.0 1363.8,1265.5 1365.0,1265.9 1366.2,1266.3 1367.4,1266.7 1368.6,1267.1 1369.8,1267.6 1371.0,1268.0 1372.2,1268.4 1373.4,1268.8 1374.6,1269.2 1375.9,1269.6 1377.1,1270.0 1378.3,1270.4 1379.5,1270.8 1380.7,1271.2 1381.9,1271.6 1383.1,1272.0 1384.3,1272.4 1385.5,1272.8 1386.7,1273.1 1387.9,1273.5 1389.1,1273.9 1390.3,1274.3 1391.5,1274.7 1392.7,1275.1 1393.9,1275.4 1395.1,1275.8 1396.3,1276.2 1397.5,1276.6 1398.7,1276.9 1399.9,1277.3 1401.1,1277.7 1402.3,1278.0 1403.5,1278.4 1404.7,1278.8 1405.9,1279.1 1407.1,1279.5 1408.3,1279.9 1409.5,1280.2 1410.7,1280.6 1411.9,1280.9 1413.1,1281.3 1414.3,1281.6 1415.5,1282.0 1416.7,1282.3 1417.9,1282.7 1419.1,1283.0 1420.3,1283.4 1421.5,1283.7 1422.7,1284.1 1423.9,1284.4 1425.1,1284.7 1426.3,1285.1 1427.5,1285.4 1428.7,1285.7 1429.9,1286.0 1431.1,1286.4 1432.3,1286.7 1433.5,1287.0 1434.7,1287.3 1435.9,1287.6 1437.1,1287.9 1438.3,1288.3 1439.5,1288.6 1440.7,1288.9 1441.9,1289.2 1443.1,1289.5 1444.3,1289.8 1445.5,1290.1 1446.7,1290.4 1447.9,1290.7 1449.1,1291.0 1450.3,1291.2 1451.5,1291.5 1452.7,1291.8 1453.9,1292.1 1455.1,1292.4 1456.3,1292.7 1457.5,1293.0 1458.7,1293.3 1459.9,1293.6 1461.1,1293.9 1462.3,1294.2 1463.5,1294.5 1464.7,1294.8 1465.9,1295.1 1467.1,1295.4 1468.3,1295.6 1469.5,1295.9 1470.7,1296.2 1471.9,1296.5 1473.1,1296.8 1474.3,1297.1 1475.5,1297.4 1476.7,1297.7 1477.9,1298.0 1479.1,1298.3 1480.3,1298.7 1481.5,1299.0 1482.7,1299.3 1483.9,1299.6 1485.1,1299.9 1486.3,1300.2 1487.5,1300.5 1488.7,1300.8 1489.9,1301.1 1491.1,1301.4 1492.3,1301.7 1493.5,1302.0 1494.7,1302.3 1495.9,1302.6 1497.1,1302.9 1498.3,1303.2 1499.5,1303.5 1500.7,1303.8 1501.9,1304.1 1503.1,1304.4 1504.3,1304.7 1505.5,1305.0 1506.7,1305.3 1507.9,1305.6 1509.1,1305.9 1510.3,1306.2 1511.5,1306.5 1512.7,1306.8 1513.9,1307.1 1515.1,1307.4 1516.3,1307.7 1517.5,1308.0 1518.7,1308.3 1519.9,1308.6 1521.1,1308.9 1522.3,1309.2 1523.5,1309.5 1524.7,1309.8 1525.9,1310.1 1527.1,1310.4 1528.3,1310.7 1529.5,1311.0 1530.7,1311.3" fill="none" stroke="#243b8f" stroke-width="3.8" stroke-linejoin="round"/>
<path d="M907.7,776.3 908.1,785.2 908.5,785.9 908.9,788.3 909.3,796.2 909.7,781.6 910.1,787.6 910.5,785.8 910.9,795.5 911.3,804.5 911.7,800.7 912.1,806.1 912.5,794.0 912.9,808.5 913.3,804.4 913.7,822.5 914.1,819.3 914.5,821.8 914.9,817.8 915.3,823.7 915.7,825.9 916.1,821.9 916.5,822.8 916.9,827.0 917.3,825.9 917.7,827.8 918.1,831.5 918.5,830.7 918.9,841.2 919.3,829.2 919.7,845.1 920.1,838.4 920.5,840.6 920.9,837.6 921.3,846.3 921.7,847.3 922.1,851.5 922.5,848.9 922.9,854.1 923.3,865.6 923.7,859.0 924.1,854.8 924.5,865.1 924.9,860.2 925.3,865.8 925.7,867.2 926.1,862.7 926.5,855.2 926.9,865.5 927.3,871.8 927.7,867.6 928.1,873.4 928.5,877.6 928.9,869.9 929.3,881.0 929.7,884.2 930.1,882.0 930.5,883.3 930.9,883.8 931.3,891.2 931.7,880.2 932.1,879.9 932.5,884.1 932.9,876.2 933.3,873.3 933.7,877.9 934.1,885.8 934.5,887.1 934.9,876.4 935.3,875.2 935.7,884.8 936.1,886.4 936.5,887.9 936.9,892.8 937.3,896.8 937.7,891.9 938.1,894.9 938.5,886.0 938.9,886.3 939.3,895.1 939.7,898.3 940.1,899.4 940.5,899.5 940.9,901.3 941.3,902.2 941.7,888.6 942.1,895.1 942.5,902.6 942.9,904.2 943.3,893.1 943.7,909.0 944.1,900.7 944.5,902.6 944.9,906.3 945.3,909.7 945.7,898.3 946.1,912.7 946.5,908.4 946.9,904.4 947.3,908.0 947.7,898.1 948.1,907.6 948.5,913.1 948.9,908.9 949.3,911.9 949.7,913.8 950.1,915.8 950.5,922.1 950.9,917.1 951.3,916.7 951.7,922.1 952.1,931.5 952.5,919.0 952.9,924.6 953.3,913.9 953.7,931.0 954.1,928.1 954.5,932.7 954.9,925.9 955.3,921.3 955.7,932.8 956.1,932.9 956.5,924.8 956.9,922.2 957.3,933.6 957.7,930.9 958.1,947.1 958.5,930.0 958.9,931.3 959.3,934.3 959.7,926.5 960.1,931.5 960.5,946.2 960.9,937.1 961.3,935.3 961.7,932.3 962.1,943.2 962.5,944.4 962.9,942.9 963.3,940.0 963.7,944.6 964.1,945.7 964.5,940.5 964.9,948.4 965.3,934.1 965.7,939.3 966.1,945.4 966.5,947.1 966.9,942.0 967.3,950.8 967.7,955.5 968.1,952.8 968.5,952.3 968.9,956.2 969.3,954.6 969.7,946.8 970.1,952.6 970.5,961.3 970.9,948.8 971.3,955.9 971.7,954.1 972.1,952.0 972.5,952.0 972.9,958.7 973.3,960.5 973.7,961.1 974.1,952.2 974.5,959.1 974.9,963.2 975.3,967.0 975.7,966.2 976.1,967.7 976.5,969.7 976.9,968.8 977.3,960.6 977.7,965.9 978.1,962.4 978.5,954.0 978.9,958.4 979.3,979.3 979.7,962.7 980.1,957.2 980.5,966.7 980.9,978.6 981.3,970.8 981.7,973.8 982.1,970.8 982.5,972.4 982.9,980.2 983.3,978.3 983.7,974.1 984.1,979.9 984.5,981.5 984.9,975.1 985.3,978.3 985.7,978.8 986.1,974.5 986.5,984.8 986.9,978.3 987.3,976.4 987.7,971.3 988.1,974.1 988.5,989.5 988.9,975.9 989.3,984.8 989.7,981.1 990.1,986.3 990.5,987.4 990.9,980.6 991.3,983.7 991.7,986.3 992.1,987.0 992.5,986.7 992.9,985.8 993.3,991.3 993.7,995.5 994.1,991.9 994.5,985.6 994.9,992.2 995.3,990.9 995.7,993.6 996.1,1001.5 996.5,991.1 996.9,992.7 997.3,988.6 997.7,992.2 998.1,991.3 998.5,1003.3 998.9,996.9 999.3,992.8 999.7,1006.5 1000.1,989.8 1000.5,1001.9 1000.9,1003.2 1001.3,1001.4 1001.7,997.5 1002.1,998.7 1002.5,998.0 1002.9,1004.5 1003.3,988.5 1003.7,998.6 1004.1,1002.6 1004.5,999.2 1004.9,993.2 1005.3,1001.9 1005.7,999.7 1006.1,1008.4 1006.5,1012.0 1006.9,1005.5 1007.3,995.4 1007.7,1005.0 1008.1,1001.7 1008.5,1010.6 1008.9,1016.3 1009.3,1009.6 1009.7,1019.0 1010.1,1016.8 1010.5,1013.0 1010.9,1005.3 1011.3,1011.3 1011.7,1003.7 1012.1,1017.2 1012.5,1012.9 1012.9,1020.0 1013.3,1014.8 1013.7,1003.7 1014.1,1017.6 1014.5,1019.6 1014.9,1023.9 1015.3,1010.7 1015.7,1011.4 1016.1,1017.0 1016.5,1011.7 1016.9,1010.5 1017.3,1012.4 1017.7,1032.1 1018.1,1015.8 1018.5,1014.2 1018.9,1017.6 1019.3,1020.4 1019.7,1027.6 1020.1,1026.3 1020.5,1026.0 1020.9,1022.6 1021.3,1023.7 1021.7,1020.1 1022.1,1016.2 1022.5,1035.0 1022.9,1022.7 1023.3,1030.8 1023.7,1024.4 1024.1,1026.1 1024.5,1026.3 1024.9,1020.6 1025.3,1027.8 1025.7,1030.7 1026.1,1033.6 1026.5,1032.4 1026.9,1035.6 1027.3,1032.4 1027.7,1031.4 1028.1,1021.9 1028.5,1029.8 1028.9,1041.1 1029.3,1034.2 1029.7,1038.2 1030.1,1033.6 1030.5,1031.8 1030.9,1046.3 1031.3,1038.1 1031.7,1044.5 1032.1,1040.1 1032.5,1036.4 1032.9,1026.9 1033.3,1039.4 1033.7,1031.5 1034.1,1028.6 1034.5,1046.9 1034.9,1044.7 1035.3,1044.8 1035.7,1042.3 1036.1,1042.3 1036.5,1045.2 1036.9,1044.3 1037.3,1044.4 1037.7,1048.3 1038.1,1032.4 1038.5,1050.0 1038.9,1042.7 1039.3,1050.7 1039.7,1052.8 1040.1,1042.9 1040.5,1051.7 1040.9,1052.0 1041.3,1044.8 1041.7,1046.1 1042.1,1049.8 1042.5,1038.3 1042.9,1047.7 1043.3,1051.4 1043.7,1048.6 1044.1,1043.1 1044.5,1049.7 1044.9,1059.8 1045.3,1059.2 1045.7,1052.3 1046.1,1049.2 1046.5,1053.6 1046.9,1054.2 1047.3,1051.0 1047.7,1053.2 1048.1,1058.4 1048.5,1060.4 1048.9,1043.7 1049.3,1061.4 1049.7,1057.5 1050.1,1063.0 1050.5,1057.5 1050.9,1060.2 1051.3,1066.6 1051.7,1043.8 1052.1,1067.2 1052.5,1060.5 1052.9,1050.7 1053.3,1046.8 1053.7,1062.2 1054.1,1055.8 1054.5,1066.4 1054.9,1062.8 1055.3,1061.4 1055.7,1067.5 1056.1,1063.8 1056.5,1067.0 1056.9,1067.8 1057.3,1065.6 1057.7,1068.3 1058.1,1068.6 1058.5,1058.2 1058.9,1064.0 1059.3,1065.2 1059.7,1064.2 1060.1,1058.5 1060.5,1064.0 1060.9,1068.9 1061.3,1068.6 1061.7,1075.6 1062.1,1065.3 1062.5,1066.5 1062.9,1066.1 1063.3,1067.8 1063.8,1066.7 1064.2,1060.7 1064.6,1072.1 1065.0,1075.7 1065.4,1076.6 1065.8,1066.0 1066.2,1070.8 1066.6,1081.3 1067.0,1071.8 1067.4,1074.5 1067.8,1072.3 1068.2,1078.4 1068.6,1078.5 1069.0,1085.6 1069.4,1076.8 1069.8,1076.9 1070.2,1069.0 1070.6,1073.3 1071.0,1072.2 1071.4,1074.3 1071.8,1069.8 1072.2,1082.7 1072.6,1071.7 1073.0,1078.6 1073.4,1071.3 1073.8,1079.7 1074.2,1086.5 1074.6,1074.5 1075.0,1080.7 1075.4,1078.9 1075.8,1081.0 1076.2,1082.0 1076.6,1077.1 1077.0,1079.7 1077.4,1078.0 1077.8,1077.2 1078.2,1075.5 1078.6,1086.7 1079.0,1078.7 1079.4,1086.0 1079.8,1085.8 1080.2,1078.4 1080.6,1088.9 1081.0,1079.8 1081.4,1087.6 1081.8,1092.0 1082.2,1081.7 1082.6,1081.0 1083.0,1081.3 1083.4,1097.7 1083.8,1084.9 1084.2,1080.9 1084.6,1091.5 1085.0,1087.0 1085.4,1088.1 1085.8,1083.7 1086.2,1078.1 1086.6,1085.8 1087.0,1084.7 1087.4,1082.3 1087.8,1085.3 1088.2,1086.4 1088.6,1095.4 1089.0,1095.3 1089.4,1094.8 1089.8,1090.0 1090.2,1086.9 1090.6,1094.9 1091.0,1096.1 1091.4,1099.2 1091.8,1094.6 1092.2,1094.5 1092.6,1097.1 1093.0,1091.4 1093.4,1092.4 1093.8,1099.9 1094.2,1091.0 1094.6,1097.2 1095.0,1101.9 1095.4,1099.6 1095.8,1101.0 1096.2,1093.9 1096.6,1099.1 1097.0,1098.8 1097.4,1103.5 1097.8,1103.0 1098.2,1101.5 1098.6,1111.0 1099.0,1104.8 1099.4,1101.2 1099.8,1100.0 1100.2,1103.2 1100.6,1101.0 1101.0,1112.1 1101.4,1107.3 1101.8,1103.5 1102.2,1102.2 1102.6,1100.5 1103.0,1104.8 1103.4,1112.9 1103.8,1111.0 1104.2,1107.0 1104.6,1108.3 1105.0,1099.0 1105.4,1112.1 1105.8,1107.7 1106.2,1115.8 1106.6,1108.7 1107.0,1107.6 1107.4,1111.3 1107.8,1107.6 1108.2,1117.5 1108.6,1112.8 1109.0,1113.6 1109.4,1113.8 1109.8,1110.9 1110.2,1115.3 1110.6,1114.2 1111.0,1122.1 1111.4,1114.4 1111.8,1116.2 1112.2,1112.6 1112.6,1113.4 1113.0,1114.1 1113.4,1122.2 1113.8,1116.7 1114.2,1121.4 1114.6,1115.8 1115.0,1115.7 1115.4,1108.6 1115.8,1122.2 1116.2,1128.5 1116.6,1117.8 1117.0,1126.2 1117.4,1123.7 1117.8,1116.7 1118.2,1124.0 1118.6,1116.4 1119.0,1119.6 1119.4,1127.3 1119.8,1122.5 1120.2,1116.5 1120.6,1129.2 1121.0,1117.6 1121.4,1122.4 1121.8,1121.8 1122.2,1123.1 1122.6,1120.1 1123.0,1116.7 1123.4,1133.7 1123.8,1120.7 1124.2,1121.3 1124.6,1114.2 1125.0,1126.6 1125.4,1132.7 1125.8,1133.5 1126.2,1140.3 1126.6,1134.6 1127.0,1129.8 1127.4,1128.3 1127.8,1135.3 1128.2,1128.7 1128.6,1130.1 1129.0,1124.9 1129.4,1130.3 1129.8,1139.5 1130.2,1130.1 1130.6,1132.6 1131.0,1119.7 1131.4,1137.8 1131.8,1133.5 1132.2,1138.7 1132.6,1133.4 1133.0,1128.6 1133.4,1126.4 1133.8,1135.6 1134.2,1133.3 1134.6,1129.1 1135.0,1133.7 1135.4,1131.3 1135.8,1138.0 1136.2,1132.9 1136.6,1129.4 1137.0,1135.0 1137.4,1133.1 1137.8,1143.0 1138.2,1134.1 1138.6,1130.3 1139.0,1136.6 1139.4,1135.9 1139.8,1138.7 1140.2,1138.7 1140.6,1133.1 1141.0,1138.0 1141.4,1138.1 1141.8,1133.2 1142.2,1136.5 1142.6,1140.4 1143.0,1132.3 1143.4,1135.0 1143.8,1138.2 1144.2,1140.2 1144.6,1143.3 1145.0,1134.9 1145.4,1143.0 1145.8,1144.8 1146.2,1149.4 1146.6,1140.5 1147.0,1138.5 1147.4,1135.9 1147.8,1146.0 1148.2,1149.8 1148.6,1140.9 1149.0,1146.5 1149.4,1148.8 1149.8,1149.6 1150.2,1143.7 1150.6,1148.9 1151.0,1146.1 1151.4,1142.2 1151.8,1148.2 1152.2,1149.1 1152.6,1143.3 1153.0,1150.2 1153.4,1157.8 1153.8,1141.8 1154.2,1152.4 1154.6,1153.7 1155.0,1150.0 1155.4,1151.6 1155.8,1149.2 1156.2,1157.1 1156.6,1146.7 1157.0,1150.7 1157.4,1142.6 1157.8,1153.4 1158.2,1154.0 1158.6,1144.8 1159.0,1148.8 1159.4,1155.3 1159.8,1151.1 1160.2,1148.1 1160.6,1142.4 1161.0,1155.9 1161.4,1163.6 1161.8,1152.8 1162.2,1157.2 1162.6,1157.4 1163.0,1155.4 1163.4,1156.5 1163.8,1156.9 1164.2,1152.6 1164.6,1168.5 1165.0,1169.9 1165.4,1159.0 1165.8,1166.1 1166.2,1154.4 1166.6,1157.4 1167.0,1164.0 1167.4,1153.7 1167.8,1153.3 1168.2,1161.2 1168.6,1150.8 1169.0,1168.2 1169.4,1164.0 1169.8,1162.0 1170.2,1164.2 1170.6,1157.3 1171.0,1157.4 1171.4,1165.9 1171.8,1166.7 1172.2,1163.3 1172.6,1162.7 1173.0,1160.7 1173.4,1169.9 1173.8,1157.0 1174.2,1160.1 1174.6,1161.9 1175.0,1157.6 1175.4,1158.8 1175.8,1160.5 1176.2,1170.1 1176.6,1174.1 1177.0,1167.6 1177.4,1158.9 1177.8,1163.8 1178.2,1166.2 1178.6,1165.9 1179.0,1165.7 1179.4,1170.1 1179.8,1159.0 1180.2,1165.6 1180.6,1169.5 1181.0,1172.1 1181.4,1170.4 1181.8,1169.5 1182.2,1169.0 1182.6,1166.9 1183.0,1170.6 1183.4,1169.6 1183.8,1167.6 1184.2,1176.6 1184.6,1176.8 1185.0,1169.9 1185.4,1174.7 1185.8,1177.7 1186.2,1173.7 1186.6,1173.3 1187.0,1175.3 1187.4,1165.8 1187.8,1167.0 1188.2,1176.2 1188.6,1175.4 1189.0,1180.6 1189.4,1172.4 1189.8,1179.9 1190.2,1180.0 1190.6,1184.5 1191.0,1172.1 1191.4,1174.4 1191.8,1177.5 1192.2,1177.8 1192.6,1172.3 1193.0,1174.5 1193.4,1171.5 1193.8,1188.1 1194.2,1177.6 1194.6,1178.1 1195.0,1175.7 1195.4,1178.8 1195.8,1182.5 1196.2,1177.7 1196.6,1179.4 1197.0,1189.6 1197.4,1184.2 1197.8,1181.4 1198.2,1178.6 1198.6,1180.7 1199.0,1177.7 1199.4,1182.6 1199.8,1178.5 1200.2,1178.5 1200.6,1180.2 1201.0,1177.5 1201.4,1183.5 1201.8,1194.2 1202.2,1180.2 1202.6,1175.8 1203.0,1187.9 1203.4,1183.3 1203.8,1192.9 1204.2,1186.0 1204.6,1188.7 1205.0,1181.2 1205.4,1177.8 1205.8,1184.4 1206.2,1188.4 1206.6,1181.8 1207.0,1178.7 1207.4,1183.5 1207.8,1184.4 1208.2,1185.1 1208.6,1186.7 1209.0,1197.8 1209.4,1187.4 1209.8,1185.3 1210.2,1182.9 1210.6,1191.6 1211.0,1181.2 1211.4,1195.0 1211.8,1188.7 1212.2,1182.3 1212.6,1190.1 1213.0,1189.0 1213.4,1195.2 1213.8,1183.3 1214.2,1191.1 1214.6,1190.4 1215.0,1194.8 1215.4,1185.8 1215.8,1187.7 1216.2,1200.2 1216.6,1194.1 1217.0,1185.3 1217.4,1193.6 1217.8,1188.8 1218.2,1189.5 1218.6,1187.4 1219.0,1197.4 1219.4,1190.9 1219.8,1194.4 1220.2,1194.1 1220.6,1187.2 1221.0,1190.9 1221.4,1197.9 1221.8,1187.7 1222.2,1196.0 1222.6,1194.7 1223.0,1198.3 1223.4,1198.7 1223.8,1199.5 1224.2,1196.4 1224.6,1197.5 1225.0,1193.4 1225.4,1194.4 1225.8,1201.0 1226.2,1194.6 1226.6,1202.0 1227.0,1202.2 1227.4,1194.4 1227.8,1200.7 1228.2,1194.8 1228.6,1200.1 1229.0,1195.4 1229.4,1200.6 1229.8,1200.1 1230.2,1194.9 1230.6,1208.9 1231.0,1204.3 1231.4,1193.1 1231.8,1202.0 1232.2,1198.8 1232.6,1210.0 1233.0,1200.9 1233.4,1203.1 1233.8,1200.8 1234.2,1204.6 1234.6,1199.7 1235.0,1198.3 1235.4,1200.3 1235.8,1200.9 1236.2,1205.7 1236.6,1203.6 1237.0,1201.4 1237.4,1201.8 1237.8,1199.8 1238.2,1204.6 1238.6,1195.3 1239.0,1203.5 1239.4,1210.0 1239.8,1203.4 1240.2,1202.3 1240.6,1205.6 1241.0,1201.5 1241.4,1202.5 1241.8,1209.1 1242.2,1203.5 1242.6,1215.1 1243.0,1209.1 1243.4,1206.5 1243.8,1204.5 1244.2,1206.3 1244.6,1197.6 1245.0,1208.9 1245.4,1212.0 1245.8,1210.8 1246.2,1206.6 1246.6,1211.5 1247.0,1211.8 1247.4,1208.6 1247.8,1211.0 1248.2,1214.2 1248.6,1211.9 1249.0,1208.4 1249.4,1210.4 1249.8,1211.2 1250.2,1203.7 1250.6,1211.6 1251.0,1210.7 1251.4,1202.0 1251.8,1204.2 1252.2,1219.8 1252.6,1212.6 1253.0,1218.3 1253.4,1211.0 1253.8,1219.6 1254.2,1215.6 1254.6,1210.3 1255.0,1214.7 1255.4,1220.6 1255.8,1224.5 1256.2,1216.5 1256.6,1212.5 1257.0,1210.9 1257.4,1218.0 1257.8,1220.0 1258.2,1216.1 1258.6,1215.2 1259.0,1219.5 1259.4,1218.3 1259.8,1218.1 1260.2,1210.0 1260.6,1215.5 1261.0,1225.4 1261.4,1217.3 1261.8,1228.2 1262.2,1219.6 1262.6,1216.9 1263.0,1219.6 1263.4,1221.3 1263.8,1215.8 1264.2,1220.2 1264.6,1217.6 1265.0,1226.0 1265.4,1217.9 1265.8,1220.7 1266.2,1213.9 1266.6,1214.7 1267.0,1220.5 1267.4,1217.2 1267.8,1220.1 1268.2,1222.7 1268.6,1224.4 1269.0,1216.1 1269.4,1221.6 1269.8,1225.6 1270.2,1220.0 1270.6,1217.5 1271.0,1220.4 1271.4,1230.8 1271.8,1224.0 1272.2,1231.0 1272.6,1223.1 1273.0,1229.9 1273.4,1218.7 1273.8,1224.2 1274.2,1225.9 1274.6,1233.4 1275.0,1228.1 1275.4,1231.1 1275.8,1224.7 1276.2,1225.0 1276.6,1232.6 1277.0,1233.5 1277.4,1232.9 1277.8,1233.0 1278.2,1225.8 1278.6,1237.7 1279.0,1229.3 1279.4,1234.4 1279.8,1232.4 1280.2,1221.8 1280.6,1221.2 1281.0,1223.0 1281.4,1229.9 1281.8,1235.2 1282.2,1229.6 1282.6,1234.5 1283.0,1225.8 1283.4,1228.7 1283.8,1227.8 1284.2,1232.0 1284.6,1227.2 1285.0,1231.9 1285.4,1235.2 1285.8,1230.9 1286.2,1229.3 1286.6,1231.4 1287.0,1228.3 1287.4,1229.4 1287.8,1237.5 1288.2,1235.8 1288.6,1228.4 1289.0,1233.6 1289.4,1237.0 1289.8,1238.7 1290.2,1238.2 1290.6,1239.9 1291.0,1235.8 1291.4,1236.1 1291.8,1235.4 1292.2,1241.3 1292.6,1240.5 1293.0,1244.7 1293.4,1242.1 1293.8,1234.1 1294.2,1231.4 1294.6,1232.0 1295.0,1234.4 1295.4,1241.0 1295.8,1232.6 1296.2,1230.1 1296.6,1238.2 1297.0,1242.7 1297.4,1242.7 1297.8,1246.7 1298.2,1239.7 1298.6,1237.6 1299.0,1238.9 1299.4,1234.7 1299.8,1237.7 1300.2,1246.2 1300.6,1249.9 1301.0,1246.5 1301.4,1242.6 1301.8,1240.5 1302.2,1242.7 1302.6,1233.8 1303.0,1244.5 1303.4,1245.6 1303.8,1241.8 1304.2,1242.7 1304.6,1235.5 1305.0,1246.3 1305.4,1246.5 1305.8,1231.5 1306.2,1241.0 1306.6,1245.1 1307.0,1250.9 1307.4,1240.3 1307.8,1244.0 1308.2,1250.6 1308.6,1246.5 1309.0,1243.8 1309.4,1243.0 1309.8,1245.2 1310.2,1241.9 1310.6,1249.7 1311.0,1241.9 1311.4,1248.2 1311.8,1249.9 1312.2,1251.3 1312.6,1246.9 1313.0,1246.7 1313.4,1248.3 1313.8,1247.4 1314.2,1251.9 1314.6,1247.0 1315.0,1255.8 1315.4,1259.7 1315.8,1245.2 1316.2,1249.9 1316.6,1243.4 1317.0,1251.6 1317.4,1250.4 1317.8,1247.9 1318.2,1244.5 1318.6,1249.2 1319.0,1257.7 1319.4,1256.2 1319.8,1251.2 1320.2,1247.1 1320.6,1249.7 1321.0,1246.6 1321.4,1244.4 1321.8,1246.2 1322.2,1253.0 1322.6,1251.8 1323.0,1251.4 1323.4,1246.2 1323.8,1245.0 1324.2,1255.4 1324.6,1249.7 1325.0,1256.4 1325.4,1248.4 1325.8,1255.8 1326.2,1252.9 1326.6,1250.2 1327.0,1250.3 1327.4,1260.4 1327.8,1256.4 1328.2,1251.5 1328.6,1253.5 1329.0,1246.4 1329.4,1260.3 1329.8,1259.1 1330.2,1251.6 1330.6,1255.4 1331.0,1242.0 1331.4,1257.9 1331.8,1255.9 1332.2,1255.2 1332.6,1257.7 1333.0,1255.6 1333.4,1250.4 1333.8,1251.7 1334.2,1254.0 1334.6,1258.7 1335.0,1255.1 1335.4,1252.3 1335.8,1256.8 1336.2,1250.2 1336.6,1264.3 1337.0,1257.0 1337.4,1251.7 1337.8,1256.7 1338.2,1260.7 1338.6,1258.6 1339.0,1265.0 1339.4,1250.6 1339.8,1263.4 1340.2,1256.8 1340.6,1260.8 1341.0,1264.4 1341.4,1252.3 1341.8,1251.5 1342.2,1256.0 1342.6,1250.8 1343.0,1249.5 1343.4,1258.4 1343.8,1263.1 1344.2,1256.4 1344.6,1260.6 1345.0,1274.1 1345.4,1260.3 1345.8,1257.7 1346.2,1258.5 1346.6,1261.1 1347.0,1258.3 1347.4,1262.5 1347.8,1260.7 1348.2,1263.8 1348.6,1260.7 1349.0,1259.9 1349.4,1256.5 1349.8,1254.7 1350.2,1259.5 1350.6,1259.2 1351.0,1262.1 1351.4,1260.8 1351.8,1259.6 1352.2,1270.8 1352.6,1262.9 1353.0,1266.8 1353.4,1257.5 1353.8,1266.2 1354.2,1267.0 1354.6,1264.1 1355.0,1258.7 1355.4,1267.8 1355.8,1259.7 1356.2,1256.3 1356.6,1256.2 1357.0,1263.4 1357.4,1261.2 1357.8,1266.7 1358.2,1266.3 1358.6,1269.4 1359.0,1265.2 1359.4,1264.4 1359.8,1264.1 1360.2,1261.0 1360.6,1260.9 1361.0,1261.5 1361.4,1265.6 1361.8,1261.3 1362.2,1264.6 1362.6,1269.6 1363.0,1255.2 1363.4,1261.7 1363.8,1261.3 1364.2,1265.5 1364.6,1259.5 1365.0,1263.1 1365.4,1275.5 1365.8,1260.4 1366.2,1265.9 1366.6,1267.2 1367.0,1265.3 1367.4,1261.6 1367.8,1270.9 1368.2,1258.9 1368.6,1263.0 1369.0,1266.2 1369.4,1264.6 1369.8,1272.2 1370.2,1266.2 1370.6,1275.5 1371.0,1267.7 1371.4,1274.2 1371.8,1269.7 1372.2,1267.0 1372.6,1267.0 1373.0,1272.5 1373.4,1266.2 1373.8,1268.4 1374.2,1265.4 1374.6,1260.3 1375.0,1271.2 1375.5,1271.7 1375.9,1264.2 1376.3,1271.3 1376.7,1268.5 1377.1,1261.7 1377.5,1265.8 1377.9,1272.6 1378.3,1274.3 1378.7,1271.8 1379.1,1281.9 1379.5,1271.9 1379.9,1267.5 1380.3,1264.6 1380.7,1277.1 1381.1,1269.1 1381.5,1269.6 1381.9,1267.9 1382.3,1268.1 1382.7,1270.1 1383.1,1273.6 1383.5,1274.1 1383.9,1273.5 1384.3,1276.1 1384.7,1270.3 1385.1,1268.3 1385.5,1272.4 1385.9,1264.3 1386.3,1276.4 1386.7,1275.2 1387.1,1275.4 1387.5,1268.8 1387.9,1271.4 1388.3,1273.7 1388.7,1269.5 1389.1,1269.3 1389.5,1273.1 1389.9,1274.7 1390.3,1271.5 1390.7,1278.6 1391.1,1283.6 1391.5,1277.0 1391.9,1274.0 1392.3,1273.6 1392.7,1281.6 1393.1,1276.4 1393.5,1277.8 1393.9,1276.3 1394.3,1273.2 1394.7,1281.9 1395.1,1274.8 1395.5,1276.5 1395.9,1267.2 1396.3,1285.1 1396.7,1279.4 1397.1,1276.0 1397.5,1273.3 1397.9,1274.1 1398.3,1269.8 1398.7,1278.8 1399.1,1273.4 1399.5,1278.9 1399.9,1279.1 1400.3,1285.3 1400.7,1278.4 1401.1,1278.9 1401.5,1279.8 1401.9,1275.4 1402.3,1277.0 1402.7,1279.5 1403.1,1283.1 1403.5,1281.5 1403.9,1277.5 1404.3,1283.7 1404.7,1277.3 1405.1,1272.8 1405.5,1285.6 1405.9,1279.4 1406.3,1277.5 1406.7,1274.6 1407.1,1277.9 1407.5,1286.7 1407.9,1279.7 1408.3,1289.2 1408.7,1280.4 1409.1,1285.0 1409.5,1280.7 1409.9,1278.8 1410.3,1279.0 1410.7,1279.8 1411.1,1276.1 1411.5,1276.1 1411.9,1282.7 1412.3,1286.5 1412.7,1282.2 1413.1,1281.8 1413.5,1278.0 1413.9,1286.5 1414.3,1286.3 1414.7,1277.4 1415.1,1282.5 1415.5,1281.0 1415.9,1276.4 1416.3,1289.2 1416.7,1287.5 1417.1,1284.1 1417.5,1288.7 1417.9,1281.0 1418.3,1284.3 1418.7,1288.8 1419.1,1282.2 1419.5,1284.8 1419.9,1279.7 1420.3,1286.4 1420.7,1288.6 1421.1,1280.0 1421.5,1280.9 1421.9,1283.9 1422.3,1290.0 1422.7,1282.3 1423.1,1281.1 1423.5,1284.1 1423.9,1289.3 1424.3,1278.6 1424.7,1284.2 1425.1,1290.3 1425.5,1284.9 1425.9,1284.0 1426.3,1288.7 1426.7,1280.5 1427.1,1293.8 1427.5,1287.5 1427.9,1284.1 1428.3,1286.1 1428.7,1285.6 1429.1,1284.8 1429.5,1281.1 1429.9,1285.1 1430.3,1279.3 1430.7,1291.9 1431.1,1281.9 1431.5,1283.5 1431.9,1283.4 1432.3,1289.6 1432.7,1286.0 1433.1,1292.7 1433.5,1285.2 1433.9,1287.7 1434.3,1287.0 1434.7,1286.0 1435.1,1291.9 1435.5,1292.5 1435.9,1292.9 1436.3,1282.2 1436.7,1289.2 1437.1,1283.4 1437.5,1283.4 1437.9,1280.9 1438.3,1284.4 1438.7,1290.8 1439.1,1294.1 1439.5,1295.6 1439.9,1285.0 1440.3,1286.2 1440.7,1289.8 1441.1,1289.6 1441.5,1289.9 1441.9,1282.1 1442.3,1288.5 1442.7,1291.7 1443.1,1290.5 1443.5,1289.1 1443.9,1286.7 1444.3,1289.4 1444.7,1296.3 1445.1,1292.0 1445.5,1294.3 1445.9,1296.8 1446.3,1285.9 1446.7,1293.0 1447.1,1292.3 1447.5,1295.9 1447.9,1289.7 1448.3,1289.8 1448.7,1288.2 1449.1,1291.6 1449.5,1289.8 1449.9,1290.4 1450.3,1292.5 1450.7,1289.7 1451.1,1287.6 1451.5,1289.8 1451.9,1289.3 1452.3,1293.3 1452.7,1296.7 1453.1,1290.4 1453.5,1282.1 1453.9,1294.3 1454.3,1291.8 1454.7,1288.4 1455.1,1291.3 1455.5,1299.8 1455.9,1286.5 1456.3,1287.9 1456.7,1292.4 1457.1,1280.3 1457.5,1291.0 1457.9,1296.8 1458.3,1295.2 1458.7,1294.6 1459.1,1291.9 1459.5,1292.7 1459.9,1304.4 1460.3,1294.5 1460.7,1299.0 1461.1,1288.7 1461.5,1294.8 1461.9,1295.4 1462.3,1294.6 1462.7,1285.4 1463.1,1292.5 1463.5,1300.1 1463.9,1296.6 1464.3,1291.4 1464.7,1298.1 1465.1,1287.2 1465.5,1297.1 1465.9,1296.3 1466.3,1292.5 1466.7,1291.0 1467.1,1288.5 1467.5,1294.4 1467.9,1302.3 1468.3,1298.9 1468.7,1297.2 1469.1,1299.4 1469.5,1293.4 1469.9,1298.0 1470.3,1284.3 1470.7,1294.1 1471.1,1294.2 1471.5,1296.0 1471.9,1295.7 1472.3,1298.8 1472.7,1294.0 1473.1,1300.3 1473.5,1295.7 1473.9,1300.3 1474.3,1297.4 1474.7,1300.4 1475.1,1298.9 1475.5,1294.8 1475.9,1298.0 1476.3,1292.2 1476.7,1297.7 1477.1,1299.1 1477.5,1296.6 1477.9,1297.1 1478.3,1301.8 1478.7,1302.8 1479.1,1303.7 1479.5,1295.9 1479.9,1296.6 1480.3,1301.5 1480.7,1302.0 1481.1,1291.3 1481.5,1306.5 1481.9,1303.4 1482.3,1293.9 1482.7,1303.6 1483.1,1297.5 1483.5,1298.7 1483.9,1295.4 1484.3,1296.2 1484.7,1298.0 1485.1,1300.0 1485.5,1295.4 1485.9,1299.6 1486.3,1297.1 1486.7,1298.0 1487.1,1296.7 1487.5,1297.8 1487.9,1306.7 1488.3,1294.1 1488.7,1295.4 1489.1,1300.4 1489.5,1298.8 1489.9,1296.7 1490.3,1302.6 1490.7,1296.4 1491.1,1301.1 1491.5,1305.0 1491.9,1303.6 1492.3,1300.3 1492.7,1301.6 1493.1,1302.3 1493.5,1304.1 1493.9,1298.1 1494.3,1307.0 1494.7,1305.0 1495.1,1309.5 1495.5,1305.6 1495.9,1306.4 1496.3,1290.8 1496.7,1300.8 1497.1,1310.0 1497.5,1304.3 1497.9,1301.1 1498.3,1305.7 1498.7,1303.4 1499.1,1304.7 1499.5,1300.4 1499.9,1305.4 1500.3,1309.5 1500.7,1304.5 1501.1,1305.4 1501.5,1301.0 1501.9,1305.8 1502.3,1302.3 1502.7,1298.7 1503.1,1302.5 1503.5,1303.3 1503.9,1306.6 1504.3,1308.2 1504.7,1303.8 1505.1,1303.2 1505.5,1307.3 1505.9,1301.3 1506.3,1303.6 1506.7,1304.1 1507.1,1304.5 1507.5,1302.9 1507.9,1311.8 1508.3,1309.2 1508.7,1304.9 1509.1,1300.0 1509.5,1303.7 1509.9,1308.2 1510.3,1298.2 1510.7,1315.8 1511.1,1305.8 1511.5,1306.0 1511.9,1308.9 1512.3,1300.8 1512.7,1306.8 1513.1,1306.6 1513.5,1309.6 1513.9,1302.9 1514.3,1309.4 1514.7,1311.8 1515.1,1308.3 1515.5,1305.1 1515.9,1304.0 1516.3,1300.5 1516.7,1305.3 1517.1,1309.7 1517.5,1313.7 1517.9,1312.0 1518.3,1312.7 1518.7,1306.2 1519.1,1306.5 1519.5,1302.2 1519.9,1305.7 1520.3,1304.0 1520.7,1307.6 1521.1,1311.3 1521.5,1308.3 1521.9,1307.6 1522.3,1311.7 1522.7,1315.1 1523.1,1313.5 1523.5,1302.6 1523.9,1316.3 1524.3,1307.8 1524.7,1303.9 1525.1,1308.3 1525.5,1313.8 1525.9,1299.5 1526.3,1315.2 1526.7,1311.0 1527.1,1312.4 1527.5,1304.9 1527.9,1308.3 1528.3,1306.1 1528.7,1315.3 1529.1,1307.7 1529.5,1312.3 1529.9,1308.3 1530.3,1304.5 1530.7,1314.6 1531.1,1315.9" fill="none" stroke="#243b8f" stroke-width="1.9" stroke-linejoin="round" stroke-miterlimit="4" stroke-linecap="butt"/>
<path d="M907.7,776.3 908.9,780.9 910.1,785.4 911.3,789.9 912.5,794.4 913.7,798.8 914.9,803.1 916.1,807.4 917.3,811.8 918.5,816.2 919.7,820.6 920.9,824.9 922.1,829.2 923.3,833.4 924.5,837.5 925.7,841.3 926.9,844.9 928.1,848.3 929.3,851.5 930.5,854.5 931.7,857.5 932.9,860.4 934.1,863.1 935.3,865.8 936.5,868.4 937.7,870.8 938.9,873.2 940.1,875.5 941.3,877.7 942.5,879.8 943.7,881.8 944.9,883.8 946.1,885.6 947.3,887.4 948.5,889.2 949.7,890.9 950.9,892.5 952.1,894.2 953.3,895.8 954.5,897.4 955.7,899.1 956.9,900.7 958.1,902.4 959.3,904.1 960.5,905.7 961.7,907.3 962.9,908.9 964.1,910.5 965.3,912.1 966.5,913.6 967.7,915.2 968.9,916.8 970.1,918.4 971.3,920.0 972.5,921.6 973.7,923.2 974.9,924.9 976.1,926.5 977.3,928.3 978.5,930.0 979.7,931.8 980.9,933.7 982.1,935.5 983.3,937.4 984.5,939.2 985.7,941.1 986.9,943.0 988.1,944.8 989.3,946.6 990.5,948.4 991.7,950.1 992.9,951.8 994.1,953.5 995.3,955.0 996.5,956.6 997.7,958.0 998.9,959.4 1000.1,960.7 1001.3,961.9 1002.5,963.1 1003.7,964.3 1004.9,965.5 1006.1,966.6 1007.3,967.7 1008.5,968.7 1009.7,969.8 1010.9,970.8 1012.1,971.8 1013.3,972.9 1014.5,973.9 1015.7,974.9 1016.9,975.9 1018.1,977.0 1019.3,978.0 1020.5,979.1 1021.7,980.1 1022.9,981.1 1024.1,982.2 1025.3,983.2 1026.5,984.2 1027.7,985.2 1028.9,986.2 1030.1,987.2 1031.3,988.2 1032.5,989.2 1033.7,990.2 1034.9,991.3 1036.1,992.4 1037.3,993.4 1038.5,994.6 1039.7,995.7 1040.9,996.8 1042.1,998.0 1043.3,999.2 1044.5,1000.4 1045.7,1001.6 1046.9,1002.8 1048.1,1004.0 1049.3,1005.2 1050.5,1006.4 1051.7,1007.7 1052.9,1008.9 1054.1,1010.1 1055.3,1011.4 1056.5,1012.6 1057.7,1013.8 1058.9,1015.1 1060.1,1016.3 1061.3,1017.5 1062.5,1018.8 1063.8,1020.1 1065.0,1021.3 1066.2,1022.6 1067.4,1023.9 1068.6,1025.2 1069.8,1026.4 1071.0,1027.7 1072.2,1029.0 1073.4,1030.3 1074.6,1031.5 1075.8,1032.8 1077.0,1034.0 1078.2,1035.2 1079.4,1036.4 1080.6,1037.6 1081.8,1038.7 1083.0,1039.9 1084.2,1041.0 1085.4,1042.1 1086.6,1043.2 1087.8,1044.3 1089.0,1045.4 1090.2,1046.5 1091.4,1047.6 1092.6,1048.6 1093.8,1049.7 1095.0,1050.7 1096.2,1051.8 1097.4,1052.8 1098.6,1053.9 1099.8,1054.9 1101.0,1056.0 1102.2,1057.1 1103.4,1058.1 1104.6,1059.2 1105.8,1060.2 1107.0,1061.3 1108.2,1062.3 1109.4,1063.4 1110.6,1064.4 1111.8,1065.5 1113.0,1066.5 1114.2,1067.5 1115.4,1068.6 1116.6,1069.6 1117.8,1070.7 1119.0,1071.7 1120.2,1072.7 1121.4,1073.8 1122.6,1074.8 1123.8,1075.8 1125.0,1076.9 1126.2,1077.9 1127.4,1079.0 1128.6,1080.0 1129.8,1081.1 1131.0,1082.1 1132.2,1083.1 1133.4,1084.2 1134.6,1085.2 1135.8,1086.3 1137.0,1087.3 1138.2,1088.3 1139.4,1089.3 1140.6,1090.4 1141.8,1091.4 1143.0,1092.4 1144.2,1093.4 1145.4,1094.4 1146.6,1095.4 1147.8,1096.4 1149.0,1097.4 1150.2,1098.4 1151.4,1099.4 1152.6,1100.4 1153.8,1101.4 1155.0,1102.4 1156.2,1103.3 1157.4,1104.3 1158.6,1105.2 1159.8,1106.1 1161.0,1107.0 1162.2,1107.9 1163.4,1108.8 1164.6,1109.6 1165.8,1110.4 1167.0,1111.2 1168.2,1111.9 1169.4,1112.7 1170.6,1113.4 1171.8,1114.1 1173.0,1114.8 1174.2,1115.5 1175.4,1116.1 1176.6,1116.8 1177.8,1117.5 1179.0,1118.2 1180.2,1118.9 1181.4,1119.6 1182.6,1120.3 1183.8,1121.0 1185.0,1121.8 1186.2,1122.6 1187.4,1123.4 1188.6,1124.2 1189.8,1125.0 1191.0,1125.8 1192.2,1126.6 1193.4,1127.4 1194.6,1128.3 1195.8,1129.1 1197.0,1130.0 1198.2,1130.8 1199.4,1131.7 1200.6,1132.5 1201.8,1133.4 1203.0,1134.3 1204.2,1135.1 1205.4,1136.0 1206.6,1136.8 1207.8,1137.6 1209.0,1138.5 1210.2,1139.3 1211.4,1140.1 1212.6,1140.9 1213.8,1141.7 1215.0,1142.5 1216.2,1143.3 1217.4,1144.0 1218.6,1144.8 1219.8,1145.6 1221.0,1146.3 1222.2,1147.1 1223.4,1147.8 1224.6,1148.6 1225.8,1149.3 1227.0,1150.1 1228.2,1150.8 1229.4,1151.6 1230.6,1152.3 1231.8,1153.0 1233.0,1153.8 1234.2,1154.5 1235.4,1155.2 1236.6,1155.9 1237.8,1156.7 1239.0,1157.4 1240.2,1158.1 1241.4,1158.8 1242.6,1159.5 1243.8,1160.2 1245.0,1160.9 1246.2,1161.6 1247.4,1162.3 1248.6,1163.0 1249.8,1163.7 1251.0,1164.4 1252.2,1165.1 1253.4,1165.8 1254.6,1166.5 1255.8,1167.2 1257.0,1167.9 1258.2,1168.6 1259.4,1169.3 1260.6,1170.0 1261.8,1170.7 1263.0,1171.3 1264.2,1172.0 1265.4,1172.7 1266.6,1173.4 1267.8,1174.0 1269.0,1174.7 1270.2,1175.4 1271.4,1176.1 1272.6,1176.7 1273.8,1177.4 1275.0,1178.1 1276.2,1178.7 1277.4,1179.4 1278.6,1180.0 1279.8,1180.7 1281.0,1181.4 1282.2,1182.0 1283.4,1182.7 1284.6,1183.3 1285.8,1184.0 1287.0,1184.6 1288.2,1185.2 1289.4,1185.9 1290.6,1186.5 1291.8,1187.2 1293.0,1187.8 1294.2,1188.4 1295.4,1189.1 1296.6,1189.7 1297.8,1190.3 1299.0,1191.0 1300.2,1191.6 1301.4,1192.2 1302.6,1192.9 1303.8,1193.5 1305.0,1194.1 1306.2,1194.7 1307.4,1195.4 1308.6,1196.0 1309.8,1196.6 1311.0,1197.2 1312.2,1197.8 1313.4,1198.4 1314.6,1199.0 1315.8,1199.7 1317.0,1200.3 1318.2,1200.9 1319.4,1201.5 1320.6,1202.1 1321.8,1202.7 1323.0,1203.3 1324.2,1203.9 1325.4,1204.5 1326.6,1205.1 1327.8,1205.7 1329.0,1206.3 1330.2,1206.8 1331.4,1207.4 1332.6,1208.0 1333.8,1208.6 1335.0,1209.2 1336.2,1209.8 1337.4,1210.3 1338.6,1210.9 1339.8,1211.5 1341.0,1212.1 1342.2,1212.6 1343.4,1213.2 1344.6,1213.8 1345.8,1214.4 1347.0,1214.9 1348.2,1215.5 1349.4,1216.1 1350.6,1216.6 1351.8,1217.2 1353.0,1217.8 1354.2,1218.3 1355.4,1218.9 1356.6,1219.5 1357.8,1220.0 1359.0,1220.6 1360.2,1221.1 1361.4,1221.7 1362.6,1222.2 1363.8,1222.8 1365.0,1223.3 1366.2,1223.9 1367.4,1224.4 1368.6,1225.0 1369.8,1225.5 1371.0,1226.1 1372.2,1226.6 1373.4,1227.1 1374.6,1227.6 1375.9,1228.1 1377.1,1228.7 1378.3,1229.2 1379.5,1229.7 1380.7,1230.2 1381.9,1230.7 1383.1,1231.2 1384.3,1231.6 1385.5,1232.1 1386.7,1232.6 1387.9,1233.1 1389.1,1233.5 1390.3,1234.0 1391.5,1234.4 1392.7,1234.9 1393.9,1235.3 1395.1,1235.8 1396.3,1236.2 1397.5,1236.6 1398.7,1237.1 1399.9,1237.5 1401.1,1237.9 1402.3,1238.3 1403.5,1238.7 1404.7,1239.1 1405.9,1239.6 1407.1,1240.0 1408.3,1240.4 1409.5,1240.8 1410.7,1241.2 1411.9,1241.6 1413.1,1242.0 1414.3,1242.4 1415.5,1242.8 1416.7,1243.2 1417.9,1243.6 1419.1,1244.0 1420.3,1244.4 1421.5,1244.8 1422.7,1245.3 1423.9,1245.7 1425.1,1246.1 1426.3,1246.5 1427.5,1246.9 1428.7,1247.3 1429.9,1247.7 1431.1,1248.2 1432.3,1248.6 1433.5,1249.0 1434.7,1249.4 1435.9,1249.8 1437.1,1250.3 1438.3,1250.7 1439.5,1251.1 1440.7,1251.5 1441.9,1251.9 1443.1,1252.4 1444.3,1252.8 1445.5,1253.2 1446.7,1253.6 1447.9,1254.0 1449.1,1254.4 1450.3,1254.9 1451.5,1255.3 1452.7,1255.7 1453.9,1256.1 1455.1,1256.5 1456.3,1257.0 1457.5,1257.4 1458.7,1257.8 1459.9,1258.2 1461.1,1258.6 1462.3,1259.0 1463.5,1259.5 1464.7,1259.9 1465.9,1260.3 1467.1,1260.7 1468.3,1261.1 1469.5,1261.6 1470.7,1262.0 1471.9,1262.4 1473.1,1262.8 1474.3,1263.2 1475.5,1263.7 1476.7,1264.1 1477.9,1264.5 1479.1,1264.9 1480.3,1265.3 1481.5,1265.7 1482.7,1266.2 1483.9,1266.6 1485.1,1267.0 1486.3,1267.4 1487.5,1267.8 1488.7,1268.2 1489.9,1268.7 1491.1,1269.1 1492.3,1269.5 1493.5,1269.9 1494.7,1270.3 1495.9,1270.8 1497.1,1271.2 1498.3,1271.6 1499.5,1272.0 1500.7,1272.4 1501.9,1272.9 1503.1,1273.3 1504.3,1273.7 1505.5,1274.1 1506.7,1274.6 1507.9,1275.0 1509.1,1275.4 1510.3,1275.9 1511.5,1276.3 1512.7,1276.7 1513.9,1277.2 1515.1,1277.6 1516.3,1278.0 1517.5,1278.5 1518.7,1278.9 1519.9,1279.4 1521.1,1279.8 1522.3,1280.3 1523.5,1280.7 1524.7,1281.2 1525.9,1281.6 1527.1,1282.1 1528.3,1282.5 1529.5,1283.0 1530.7,1283.4" fill="none" stroke="#6f7073" stroke-width="3.4" stroke-linejoin="round"/>
<path d="M907.7,776.3 908.1,773.9 908.5,784.2 908.9,781.2 909.3,789.1 909.7,785.9 910.1,794.7 910.5,787.1 910.9,785.8 911.3,792.9 911.7,793.6 912.1,791.1 912.5,793.1 912.9,799.5 913.3,800.9 913.7,796.3 914.1,798.4 914.5,792.6 914.9,811.6 915.3,803.5 915.7,812.7 916.1,809.5 916.5,818.6 916.9,818.0 917.3,813.4 917.7,820.6 918.1,810.0 918.5,822.4 918.9,810.3 919.3,820.8 919.7,825.9 920.1,823.1 920.5,821.7 920.9,821.0 921.3,824.7 921.7,833.0 922.1,833.6 922.5,829.4 922.9,825.9 923.3,836.7 923.7,827.6 924.1,833.5 924.5,833.8 924.9,842.4 925.3,841.2 925.7,843.6 926.1,843.9 926.5,840.4 926.9,847.5 927.3,853.0 927.7,847.0 928.1,851.4 928.5,848.7 928.9,855.4 929.3,854.7 929.7,856.8 930.1,855.2 930.5,862.5 930.9,853.8 931.3,854.9 931.7,854.6 932.1,861.4 932.5,856.4 932.9,857.2 933.3,864.8 933.7,867.8 934.1,865.9 934.5,851.1 934.9,860.3 935.3,860.6 935.7,860.8 936.1,865.6 936.5,877.1 936.9,867.7 937.3,866.5 937.7,874.2 938.1,872.0 938.5,873.0 938.9,869.9 939.3,874.0 939.7,876.8 940.1,866.3 940.5,868.5 940.9,882.2 941.3,881.7 941.7,876.0 942.1,874.2 942.5,878.9 942.9,874.8 943.3,879.5 943.7,889.7 944.1,883.1 944.5,888.7 944.9,882.7 945.3,886.2 945.7,891.6 946.1,879.3 946.5,884.6 946.9,886.1 947.3,888.8 947.7,895.4 948.1,891.8 948.5,882.0 948.9,888.4 949.3,886.1 949.7,886.5 950.1,901.0 950.5,886.9 950.9,893.6 951.3,889.7 951.7,897.7 952.1,895.8 952.5,895.3 952.9,894.9 953.3,901.2 953.7,891.9 954.1,893.5 954.5,892.2 954.9,904.3 955.3,897.1 955.7,894.2 956.1,897.7 956.5,912.0 956.9,900.2 957.3,905.3 957.7,904.1 958.1,902.4 958.5,899.7 958.9,901.9 959.3,902.4 959.7,894.2 960.1,917.3 960.5,910.0 960.9,906.8 961.3,905.8 961.7,903.6 962.1,912.3 962.5,907.5 962.9,911.1 963.3,902.9 963.7,911.7 964.1,919.8 964.5,909.7 964.9,915.3 965.3,912.2 965.7,917.8 966.1,918.1 966.5,913.9 966.9,911.5 967.3,916.0 967.7,915.4 968.1,912.9 968.5,918.4 968.9,918.8 969.3,913.2 969.7,917.3 970.1,932.0 970.5,922.7 970.9,919.9 971.3,931.6 971.7,918.4 972.1,909.5 972.5,912.7 972.9,915.1 973.3,923.9 973.7,927.7 974.1,913.7 974.5,929.5 974.9,919.2 975.3,926.6 975.7,928.1 976.1,928.5 976.5,927.1 976.9,928.5 977.3,923.0 977.7,930.1 978.1,934.0 978.5,934.3 978.9,942.7 979.3,936.2 979.7,935.2 980.1,940.1 980.5,934.2 980.9,927.7 981.3,924.0 981.7,940.8 982.1,938.1 982.5,940.0 982.9,935.2 983.3,939.0 983.7,946.6 984.1,940.2 984.5,934.1 984.9,937.9 985.3,946.8 985.7,936.1 986.1,929.9 986.5,931.8 986.9,936.8 987.3,947.2 987.7,944.6 988.1,941.3 988.5,939.5 988.9,945.5 989.3,945.9 989.7,944.6 990.1,946.7 990.5,944.9 990.9,957.2 991.3,938.8 991.7,950.7 992.1,946.1 992.5,954.5 992.9,950.8 993.3,954.0 993.7,955.3 994.1,954.4 994.5,958.5 994.9,948.2 995.3,959.4 995.7,954.6 996.1,957.8 996.5,963.6 996.9,962.1 997.3,966.5 997.7,947.8 998.1,954.1 998.5,963.3 998.9,954.3 999.3,959.0 999.7,968.0 1000.1,964.6 1000.5,956.7 1000.9,963.6 1001.3,964.8 1001.7,962.6 1002.1,962.3 1002.5,963.8 1002.9,956.8 1003.3,964.5 1003.7,960.0 1004.1,966.5 1004.5,967.0 1004.9,961.4 1005.3,968.6 1005.7,967.8 1006.1,966.4 1006.5,970.2 1006.9,965.9 1007.3,966.4 1007.7,968.4 1008.1,968.1 1008.5,973.9 1008.9,958.4 1009.3,968.0 1009.7,960.7 1010.1,967.8 1010.5,971.5 1010.9,970.7 1011.3,975.4 1011.7,972.8 1012.1,959.4 1012.5,967.0 1012.9,979.3 1013.3,979.6 1013.7,973.4 1014.1,966.4 1014.5,983.4 1014.9,964.6 1015.3,975.7 1015.7,974.4 1016.1,976.0 1016.5,970.1 1016.9,973.8 1017.3,980.8 1017.7,974.1 1018.1,970.5 1018.5,976.9 1018.9,977.7 1019.3,977.0 1019.7,974.5 1020.1,980.8 1020.5,978.1 1020.9,973.8 1021.3,980.4 1021.7,979.6 1022.1,980.7 1022.5,972.8 1022.9,977.3 1023.3,983.1 1023.7,985.6 1024.1,983.3 1024.5,982.9 1024.9,985.7 1025.3,987.2 1025.7,991.1 1026.1,985.7 1026.5,981.4 1026.9,986.4 1027.3,976.0 1027.7,985.3 1028.1,983.4 1028.5,985.6 1028.9,988.2 1029.3,986.6 1029.7,980.3 1030.1,985.5 1030.5,983.9 1030.9,987.7 1031.3,989.7 1031.7,984.2 1032.1,992.1 1032.5,994.9 1032.9,988.3 1033.3,993.1 1033.7,983.7 1034.1,988.2 1034.5,995.2 1034.9,983.5 1035.3,989.4 1035.7,988.0 1036.1,997.4 1036.5,997.7 1036.9,990.3 1037.3,994.0 1037.7,982.3 1038.1,997.9 1038.5,996.1 1038.9,1000.7 1039.3,984.8 1039.7,997.2 1040.1,994.5 1040.5,985.0 1040.9,993.8 1041.3,996.8 1041.7,1001.1 1042.1,998.8 1042.5,996.1 1042.9,1000.7 1043.3,998.7 1043.7,996.7 1044.1,995.5 1044.5,1001.0 1044.9,1001.4 1045.3,1009.2 1045.7,999.6 1046.1,1009.0 1046.5,1003.9 1046.9,1007.9 1047.3,999.2 1047.7,999.7 1048.1,1002.6 1048.5,1008.3 1048.9,1005.6 1049.3,1008.5 1049.7,1007.0 1050.1,1010.5 1050.5,1007.3 1050.9,1004.5 1051.3,1009.5 1051.7,1008.1 1052.1,1015.7 1052.5,1007.8 1052.9,1009.4 1053.3,1008.0 1053.7,1014.7 1054.1,1013.9 1054.5,1013.4 1054.9,1005.5 1055.3,1004.8 1055.7,1012.9 1056.1,1015.3 1056.5,1019.0 1056.9,1005.2 1057.3,1012.7 1057.7,1006.5 1058.1,1010.1 1058.5,1013.7 1058.9,1019.2 1059.3,1013.2 1059.7,1012.8 1060.1,1014.9 1060.5,1022.1 1060.9,1027.5 1061.3,1010.9 1061.7,1016.8 1062.1,1016.5 1062.5,1023.8 1062.9,1021.1 1063.3,1026.3 1063.8,1015.7 1064.2,1020.5 1064.6,1018.9 1065.0,1016.6 1065.4,1021.1 1065.8,1017.1 1066.2,1031.9 1066.6,1024.8 1067.0,1019.1 1067.4,1021.3 1067.8,1031.7 1068.2,1022.7 1068.6,1028.1 1069.0,1028.1 1069.4,1030.7 1069.8,1029.2 1070.2,1026.0 1070.6,1024.8 1071.0,1020.1 1071.4,1027.9 1071.8,1029.2 1072.2,1027.4 1072.6,1028.8 1073.0,1024.6 1073.4,1039.5 1073.8,1028.5 1074.2,1026.7 1074.6,1029.0 1075.0,1031.2 1075.4,1035.5 1075.8,1022.4 1076.2,1035.4 1076.6,1031.0 1077.0,1033.2 1077.4,1038.7 1077.8,1038.1 1078.2,1032.3 1078.6,1035.2 1079.0,1044.0 1079.4,1042.2 1079.8,1040.5 1080.2,1037.2 1080.6,1041.7 1081.0,1039.7 1081.4,1036.0 1081.8,1034.5 1082.2,1041.4 1082.6,1041.1 1083.0,1045.0 1083.4,1038.2 1083.8,1046.6 1084.2,1039.5 1084.6,1046.7 1085.0,1044.1 1085.4,1039.7 1085.8,1038.5 1086.2,1042.4 1086.6,1042.1 1087.0,1047.6 1087.4,1041.1 1087.8,1038.1 1088.2,1044.6 1088.6,1053.2 1089.0,1052.3 1089.4,1043.2 1089.8,1045.0 1090.2,1047.8 1090.6,1044.1 1091.0,1046.2 1091.4,1046.4 1091.8,1043.5 1092.2,1045.7 1092.6,1046.6 1093.0,1050.0 1093.4,1044.4 1093.8,1050.1 1094.2,1045.9 1094.6,1047.0 1095.0,1046.0 1095.4,1067.9 1095.8,1056.7 1096.2,1057.4 1096.6,1055.6 1097.0,1051.5 1097.4,1053.1 1097.8,1054.4 1098.2,1055.4 1098.6,1056.4 1099.0,1060.6 1099.4,1042.2 1099.8,1052.6 1100.2,1058.1 1100.6,1054.2 1101.0,1055.4 1101.4,1062.6 1101.8,1057.5 1102.2,1064.5 1102.6,1057.2 1103.0,1058.8 1103.4,1053.7 1103.8,1050.2 1104.2,1057.1 1104.6,1059.4 1105.0,1058.1 1105.4,1054.3 1105.8,1063.0 1106.2,1060.9 1106.6,1061.0 1107.0,1058.0 1107.4,1068.5 1107.8,1068.1 1108.2,1063.6 1108.6,1062.2 1109.0,1064.1 1109.4,1070.4 1109.8,1075.4 1110.2,1064.1 1110.6,1062.6 1111.0,1057.2 1111.4,1076.7 1111.8,1060.9 1112.2,1069.4 1112.6,1068.2 1113.0,1072.0 1113.4,1063.3 1113.8,1060.5 1114.2,1068.2 1114.6,1069.6 1115.0,1073.0 1115.4,1061.6 1115.8,1067.1 1116.2,1068.2 1116.6,1064.0 1117.0,1069.3 1117.4,1073.6 1117.8,1070.5 1118.2,1065.1 1118.6,1072.8 1119.0,1075.2 1119.4,1074.3 1119.8,1075.6 1120.2,1065.9 1120.6,1075.0 1121.0,1075.9 1121.4,1072.2 1121.8,1073.9 1122.2,1071.3 1122.6,1079.9 1123.0,1073.9 1123.4,1071.6 1123.8,1076.6 1124.2,1076.7 1124.6,1079.3 1125.0,1073.5 1125.4,1074.5 1125.8,1079.2 1126.2,1087.1 1126.6,1080.2 1127.0,1073.0 1127.4,1079.7 1127.8,1076.1 1128.2,1072.1 1128.6,1077.2 1129.0,1078.0 1129.4,1082.4 1129.8,1086.5 1130.2,1086.1 1130.6,1085.1 1131.0,1080.3 1131.4,1083.1 1131.8,1082.6 1132.2,1088.9 1132.6,1080.8 1133.0,1081.6 1133.4,1090.3 1133.8,1086.9 1134.2,1083.1 1134.6,1085.9 1135.0,1086.2 1135.4,1086.7 1135.8,1089.5 1136.2,1088.1 1136.6,1086.2 1137.0,1085.3 1137.4,1080.6 1137.8,1086.2 1138.2,1093.0 1138.6,1089.6 1139.0,1086.4 1139.4,1088.4 1139.8,1086.2 1140.2,1091.2 1140.6,1098.5 1141.0,1098.0 1141.4,1095.9 1141.8,1094.6 1142.2,1090.8 1142.6,1087.0 1143.0,1092.4 1143.4,1090.9 1143.8,1096.4 1144.2,1094.0 1144.6,1091.4 1145.0,1095.9 1145.4,1106.2 1145.8,1091.1 1146.2,1099.7 1146.6,1097.8 1147.0,1095.4 1147.4,1093.0 1147.8,1096.5 1148.2,1097.7 1148.6,1100.2 1149.0,1100.3 1149.4,1099.1 1149.8,1095.4 1150.2,1099.7 1150.6,1096.9 1151.0,1094.9 1151.4,1103.1 1151.8,1097.1 1152.2,1095.3 1152.6,1100.8 1153.0,1093.0 1153.4,1100.8 1153.8,1103.2 1154.2,1100.1 1154.6,1103.0 1155.0,1111.0 1155.4,1108.4 1155.8,1106.8 1156.2,1105.8 1156.6,1101.6 1157.0,1103.4 1157.4,1103.2 1157.8,1104.7 1158.2,1105.4 1158.6,1102.0 1159.0,1112.0 1159.4,1101.7 1159.8,1107.6 1160.2,1110.6 1160.6,1106.6 1161.0,1104.4 1161.4,1107.5 1161.8,1115.4 1162.2,1110.4 1162.6,1107.0 1163.0,1110.8 1163.4,1108.0 1163.8,1101.6 1164.2,1110.3 1164.6,1113.7 1165.0,1114.5 1165.4,1109.9 1165.8,1104.8 1166.2,1115.4 1166.6,1110.3 1167.0,1114.1 1167.4,1115.9 1167.8,1113.0 1168.2,1111.7 1168.6,1109.7 1169.0,1110.7 1169.4,1112.8 1169.8,1111.0 1170.2,1114.6 1170.6,1105.6 1171.0,1109.6 1171.4,1113.7 1171.8,1111.3 1172.2,1112.1 1172.6,1110.0 1173.0,1117.4 1173.4,1121.4 1173.8,1111.2 1174.2,1120.0 1174.6,1109.9 1175.0,1116.4 1175.4,1108.1 1175.8,1118.2 1176.2,1116.6 1176.6,1117.3 1177.0,1121.8 1177.4,1119.5 1177.8,1117.3 1178.2,1114.4 1178.6,1118.1 1179.0,1115.4 1179.4,1116.6 1179.8,1124.4 1180.2,1122.2 1180.6,1120.1 1181.0,1121.7 1181.4,1113.8 1181.8,1120.1 1182.2,1113.3 1182.6,1117.6 1183.0,1121.9 1183.4,1122.1 1183.8,1123.7 1184.2,1121.7 1184.6,1121.6 1185.0,1121.6 1185.4,1127.4 1185.8,1127.2 1186.2,1116.7 1186.6,1123.1 1187.0,1128.0 1187.4,1122.1 1187.8,1124.3 1188.2,1121.3 1188.6,1119.2 1189.0,1124.7 1189.4,1122.8 1189.8,1124.0 1190.2,1119.2 1190.6,1120.6 1191.0,1124.9 1191.4,1123.9 1191.8,1128.1 1192.2,1122.0 1192.6,1129.2 1193.0,1128.9 1193.4,1127.3 1193.8,1129.7 1194.2,1127.2 1194.6,1127.0 1195.0,1127.9 1195.4,1123.3 1195.8,1128.4 1196.2,1131.9 1196.6,1122.8 1197.0,1132.0 1197.4,1127.2 1197.8,1128.5 1198.2,1130.5 1198.6,1131.4 1199.0,1136.1 1199.4,1130.5 1199.8,1138.0 1200.2,1131.8 1200.6,1133.8 1201.0,1134.8 1201.4,1129.9 1201.8,1128.5 1202.2,1133.5 1202.6,1136.1 1203.0,1137.0 1203.4,1132.6 1203.8,1141.1 1204.2,1134.1 1204.6,1132.3 1205.0,1139.8 1205.4,1140.3 1205.8,1132.2 1206.2,1139.4 1206.6,1131.7 1207.0,1137.0 1207.4,1146.0 1207.8,1142.5 1208.2,1140.6 1208.6,1140.6 1209.0,1135.3 1209.4,1140.0 1209.8,1140.8 1210.2,1135.3 1210.6,1140.4 1211.0,1142.0 1211.4,1141.0 1211.8,1142.1 1212.2,1139.9 1212.6,1136.7 1213.0,1141.4 1213.4,1134.2 1213.8,1139.1 1214.2,1146.3 1214.6,1149.3 1215.0,1144.2 1215.4,1133.7 1215.8,1148.3 1216.2,1145.5 1216.6,1143.0 1217.0,1146.8 1217.4,1146.3 1217.8,1139.9 1218.2,1139.8 1218.6,1149.0 1219.0,1136.5 1219.4,1147.8 1219.8,1147.0 1220.2,1149.8 1220.6,1153.0 1221.0,1151.7 1221.4,1152.8 1221.8,1150.2 1222.2,1149.3 1222.6,1151.7 1223.0,1147.8 1223.4,1144.6 1223.8,1148.1 1224.2,1142.5 1224.6,1146.8 1225.0,1157.0 1225.4,1151.4 1225.8,1148.9 1226.2,1147.6 1226.6,1143.3 1227.0,1148.3 1227.4,1147.6 1227.8,1150.8 1228.2,1151.4 1228.6,1151.0 1229.0,1144.3 1229.4,1157.3 1229.8,1153.7 1230.2,1152.3 1230.6,1151.3 1231.0,1154.4 1231.4,1157.7 1231.8,1155.5 1232.2,1149.0 1232.6,1148.9 1233.0,1144.9 1233.4,1154.6 1233.8,1157.1 1234.2,1159.2 1234.6,1155.3 1235.0,1158.1 1235.4,1151.8 1235.8,1157.5 1236.2,1155.3 1236.6,1153.4 1237.0,1149.8 1237.4,1160.8 1237.8,1148.1 1238.2,1159.3 1238.6,1154.1 1239.0,1159.7 1239.4,1155.5 1239.8,1160.7 1240.2,1157.3 1240.6,1154.4 1241.0,1156.6 1241.4,1152.7 1241.8,1160.1 1242.2,1163.2 1242.6,1161.1 1243.0,1160.1 1243.4,1164.8 1243.8,1155.8 1244.2,1162.5 1244.6,1160.7 1245.0,1159.1 1245.4,1163.2 1245.8,1157.1 1246.2,1161.1 1246.6,1163.1 1247.0,1157.7 1247.4,1161.4 1247.8,1164.5 1248.2,1166.4 1248.6,1159.5 1249.0,1166.6 1249.4,1162.4 1249.8,1164.1 1250.2,1161.9 1250.6,1167.1 1251.0,1161.8 1251.4,1165.7 1251.8,1166.3 1252.2,1168.0 1252.6,1161.4 1253.0,1168.5 1253.4,1165.9 1253.8,1171.5 1254.2,1165.0 1254.6,1164.4 1255.0,1166.5 1255.4,1165.8 1255.8,1166.6 1256.2,1162.7 1256.6,1159.8 1257.0,1162.4 1257.4,1165.9 1257.8,1169.9 1258.2,1167.4 1258.6,1165.2 1259.0,1168.4 1259.4,1169.5 1259.8,1179.8 1260.2,1174.5 1260.6,1170.6 1261.0,1164.7 1261.4,1169.7 1261.8,1169.5 1262.2,1172.9 1262.6,1179.0 1263.0,1171.1 1263.4,1164.2 1263.8,1171.3 1264.2,1165.7 1264.6,1175.3 1265.0,1176.6 1265.4,1173.9 1265.8,1167.4 1266.2,1172.5 1266.6,1177.9 1267.0,1169.8 1267.4,1171.6 1267.8,1175.0 1268.2,1176.1 1268.6,1174.8 1269.0,1176.0 1269.4,1175.7 1269.8,1173.0 1270.2,1175.1 1270.6,1176.7 1271.0,1171.8 1271.4,1176.8 1271.8,1176.6 1272.2,1178.2 1272.6,1178.0 1273.0,1173.1 1273.4,1172.5 1273.8,1178.3 1274.2,1177.1 1274.6,1178.2 1275.0,1176.0 1275.4,1173.5 1275.8,1179.5 1276.2,1178.2 1276.6,1181.2 1277.0,1183.2 1277.4,1183.4 1277.8,1183.3 1278.2,1176.3 1278.6,1172.2 1279.0,1178.0 1279.4,1176.0 1279.8,1175.8 1280.2,1183.3 1280.6,1175.2 1281.0,1184.7 1281.4,1185.6 1281.8,1191.6 1282.2,1185.8 1282.6,1189.9 1283.0,1180.0 1283.4,1180.1 1283.8,1186.5 1284.2,1178.2 1284.6,1187.5 1285.0,1182.5 1285.4,1176.5 1285.8,1190.7 1286.2,1180.0 1286.6,1193.6 1287.0,1179.1 1287.4,1181.7 1287.8,1185.8 1288.2,1185.3 1288.6,1179.6 1289.0,1186.0 1289.4,1186.6 1289.8,1187.8 1290.2,1180.4 1290.6,1184.3 1291.0,1186.3 1291.4,1189.9 1291.8,1187.8 1292.2,1186.1 1292.6,1186.0 1293.0,1193.1 1293.4,1185.0 1293.8,1189.3 1294.2,1180.5 1294.6,1194.9 1295.0,1190.5 1295.4,1182.6 1295.8,1191.5 1296.2,1194.6 1296.6,1192.7 1297.0,1190.2 1297.4,1193.2 1297.8,1187.6 1298.2,1189.6 1298.6,1189.4 1299.0,1191.2 1299.4,1187.4 1299.8,1196.4 1300.2,1191.1 1300.6,1187.9 1301.0,1191.2 1301.4,1193.6 1301.8,1192.6 1302.2,1196.6 1302.6,1191.5 1303.0,1190.2 1303.4,1195.1 1303.8,1198.1 1304.2,1190.2 1304.6,1188.1 1305.0,1191.7 1305.4,1194.0 1305.8,1190.8 1306.2,1195.3 1306.6,1191.8 1307.0,1198.4 1307.4,1191.0 1307.8,1192.2 1308.2,1196.0 1308.6,1198.4 1309.0,1199.5 1309.4,1193.8 1309.8,1196.6 1310.2,1198.7 1310.6,1202.1 1311.0,1193.9 1311.4,1192.8 1311.8,1199.3 1312.2,1196.9 1312.6,1202.8 1313.0,1198.3 1313.4,1199.5 1313.8,1195.7 1314.2,1199.8 1314.6,1203.4 1315.0,1198.3 1315.4,1195.1 1315.8,1202.8 1316.2,1198.7 1316.6,1200.2 1317.0,1197.6 1317.4,1203.8 1317.8,1197.9 1318.2,1199.1 1318.6,1201.0 1319.0,1200.5 1319.4,1193.3 1319.8,1203.3 1320.2,1197.6 1320.6,1202.9 1321.0,1200.8 1321.4,1202.0 1321.8,1200.0 1322.2,1199.0 1322.6,1203.5 1323.0,1204.0 1323.4,1207.0 1323.8,1205.5 1324.2,1201.3 1324.6,1208.2 1325.0,1212.1 1325.4,1207.0 1325.8,1203.9 1326.2,1201.3 1326.6,1205.3 1327.0,1200.0 1327.4,1208.2 1327.8,1204.2 1328.2,1203.7 1328.6,1206.9 1329.0,1201.7 1329.4,1200.1 1329.8,1205.0 1330.2,1211.1 1330.6,1203.9 1331.0,1210.3 1331.4,1200.7 1331.8,1207.3 1332.2,1209.5 1332.6,1214.3 1333.0,1201.8 1333.4,1208.1 1333.8,1205.3 1334.2,1209.8 1334.6,1206.9 1335.0,1209.4 1335.4,1206.6 1335.8,1207.5 1336.2,1211.1 1336.6,1215.2 1337.0,1210.8 1337.4,1210.7 1337.8,1208.8 1338.2,1216.2 1338.6,1203.9 1339.0,1203.9 1339.4,1208.4 1339.8,1213.0 1340.2,1214.9 1340.6,1213.8 1341.0,1214.6 1341.4,1212.7 1341.8,1210.7 1342.2,1208.8 1342.6,1214.3 1343.0,1209.5 1343.4,1214.6 1343.8,1215.9 1344.2,1211.3 1344.6,1212.1 1345.0,1211.9 1345.4,1216.5 1345.8,1214.8 1346.2,1212.1 1346.6,1215.6 1347.0,1220.1 1347.4,1216.0 1347.8,1215.6 1348.2,1214.0 1348.6,1212.3 1349.0,1215.8 1349.4,1216.2 1349.8,1215.0 1350.2,1220.5 1350.6,1215.7 1351.0,1216.1 1351.4,1217.6 1351.8,1219.0 1352.2,1211.0 1352.6,1218.4 1353.0,1222.1 1353.4,1213.9 1353.8,1219.4 1354.2,1216.4 1354.6,1214.9 1355.0,1219.5 1355.4,1218.4 1355.8,1211.7 1356.2,1217.1 1356.6,1222.2 1357.0,1217.5 1357.4,1217.1 1357.8,1218.6 1358.2,1218.6 1358.6,1222.9 1359.0,1217.5 1359.4,1216.6 1359.8,1222.4 1360.2,1224.5 1360.6,1223.7 1361.0,1224.4 1361.4,1219.3 1361.8,1216.7 1362.2,1219.5 1362.6,1222.1 1363.0,1216.4 1363.4,1221.5 1363.8,1224.8 1364.2,1220.5 1364.6,1230.0 1365.0,1225.9 1365.4,1219.2 1365.8,1219.7 1366.2,1221.4 1366.6,1226.5 1367.0,1225.8 1367.4,1222.4 1367.8,1225.1 1368.2,1227.5 1368.6,1226.7 1369.0,1219.5 1369.4,1221.5 1369.8,1222.3 1370.2,1219.6 1370.6,1228.8 1371.0,1223.8 1371.4,1223.9 1371.8,1223.4 1372.2,1227.6 1372.6,1228.7 1373.0,1229.2 1373.4,1231.3 1373.8,1224.0 1374.2,1233.0 1374.6,1236.1 1375.0,1225.9 1375.5,1226.7 1375.9,1230.2 1376.3,1232.5 1376.7,1227.5 1377.1,1225.8 1377.5,1236.0 1377.9,1227.2 1378.3,1219.6 1378.7,1231.1 1379.1,1232.9 1379.5,1235.5 1379.9,1235.9 1380.3,1240.7 1380.7,1228.2 1381.1,1226.9 1381.5,1225.4 1381.9,1236.6 1382.3,1229.3 1382.7,1225.2 1383.1,1224.0 1383.5,1231.7 1383.9,1230.0 1384.3,1232.7 1384.7,1228.8 1385.1,1229.4 1385.5,1233.7 1385.9,1231.6 1386.3,1234.4 1386.7,1232.1 1387.1,1231.7 1387.5,1234.1 1387.9,1231.9 1388.3,1233.8 1388.7,1234.9 1389.1,1231.7 1389.5,1233.2 1389.9,1234.2 1390.3,1236.3 1390.7,1234.9 1391.1,1235.1 1391.5,1236.0 1391.9,1233.5 1392.3,1235.9 1392.7,1232.3 1393.1,1228.7 1393.5,1236.6 1393.9,1228.5 1394.3,1234.9 1394.7,1240.9 1395.1,1238.2 1395.5,1232.4 1395.9,1238.5 1396.3,1237.0 1396.7,1233.4 1397.1,1236.1 1397.5,1234.8 1397.9,1235.7 1398.3,1238.0 1398.7,1231.7 1399.1,1240.1 1399.5,1244.2 1399.9,1236.9 1400.3,1234.2 1400.7,1236.3 1401.1,1242.1 1401.5,1236.3 1401.9,1239.8 1402.3,1246.1 1402.7,1236.0 1403.1,1238.9 1403.5,1236.8 1403.9,1237.6 1404.3,1239.4 1404.7,1236.6 1405.1,1240.8 1405.5,1240.0 1405.9,1243.6 1406.3,1242.1 1406.7,1241.2 1407.1,1245.1 1407.5,1239.5 1407.9,1242.4 1408.3,1238.2 1408.7,1245.4 1409.1,1238.2 1409.5,1244.2 1409.9,1238.5 1410.3,1241.9 1410.7,1237.7 1411.1,1238.8 1411.5,1238.4 1411.9,1243.2 1412.3,1243.7 1412.7,1244.6 1413.1,1243.5 1413.5,1241.6 1413.9,1244.8 1414.3,1247.9 1414.7,1241.5 1415.1,1240.4 1415.5,1245.0 1415.9,1250.2 1416.3,1243.1 1416.7,1242.4 1417.1,1240.2 1417.5,1241.3 1417.9,1240.7 1418.3,1240.8 1418.7,1247.8 1419.1,1248.7 1419.5,1244.9 1419.9,1245.0 1420.3,1247.6 1420.7,1245.0 1421.1,1245.5 1421.5,1247.3 1421.9,1245.2 1422.3,1249.9 1422.7,1256.7 1423.1,1245.8 1423.5,1246.9 1423.9,1243.3 1424.3,1244.7 1424.7,1246.7 1425.1,1247.9 1425.5,1246.0 1425.9,1242.8 1426.3,1248.3 1426.7,1245.3 1427.1,1248.6 1427.5,1246.6 1427.9,1247.1 1428.3,1247.4 1428.7,1240.6 1429.1,1252.1 1429.5,1245.0 1429.9,1249.4 1430.3,1250.2 1430.7,1246.6 1431.1,1244.0 1431.5,1250.7 1431.9,1245.7 1432.3,1248.8 1432.7,1250.7 1433.1,1247.7 1433.5,1243.6 1433.9,1247.3 1434.3,1251.4 1434.7,1247.1 1435.1,1252.9 1435.5,1244.9 1435.9,1247.0 1436.3,1244.4 1436.7,1247.2 1437.1,1255.7 1437.5,1252.6 1437.9,1249.9 1438.3,1248.8 1438.7,1255.0 1439.1,1250.8 1439.5,1248.0 1439.9,1256.7 1440.3,1247.2 1440.7,1252.4 1441.1,1254.0 1441.5,1255.2 1441.9,1258.8 1442.3,1255.1 1442.7,1250.0 1443.1,1256.4 1443.5,1253.7 1443.9,1248.7 1444.3,1249.3 1444.7,1250.3 1445.1,1245.9 1445.5,1254.8 1445.9,1255.3 1446.3,1255.2 1446.7,1250.9 1447.1,1253.7 1447.5,1258.0 1447.9,1255.4 1448.3,1253.8 1448.7,1251.9 1449.1,1254.4 1449.5,1259.0 1449.9,1254.9 1450.3,1262.6 1450.7,1263.2 1451.1,1257.6 1451.5,1249.9 1451.9,1254.6 1452.3,1259.9 1452.7,1253.9 1453.1,1253.6 1453.5,1256.1 1453.9,1265.2 1454.3,1254.7 1454.7,1249.9 1455.1,1257.6 1455.5,1258.1 1455.9,1259.4 1456.3,1257.3 1456.7,1258.3 1457.1,1255.7 1457.5,1260.6 1457.9,1257.5 1458.3,1259.4 1458.7,1255.4 1459.1,1262.6 1459.5,1258.9 1459.9,1256.8 1460.3,1258.5 1460.7,1254.8 1461.1,1256.6 1461.5,1261.6 1461.9,1261.0 1462.3,1261.9 1462.7,1261.6 1463.1,1258.4 1463.5,1259.8 1463.9,1266.0 1464.3,1259.4 1464.7,1254.8 1465.1,1260.0 1465.5,1258.8 1465.9,1259.9 1466.3,1260.5 1466.7,1257.1 1467.1,1262.1 1467.5,1260.2 1467.9,1262.9 1468.3,1258.7 1468.7,1257.9 1469.1,1259.9 1469.5,1267.0 1469.9,1255.6 1470.3,1265.4 1470.7,1261.7 1471.1,1265.8 1471.5,1260.8 1471.9,1263.5 1472.3,1263.6 1472.7,1269.6 1473.1,1262.2 1473.5,1263.6 1473.9,1260.4 1474.3,1264.1 1474.7,1260.7 1475.1,1263.0 1475.5,1264.7 1475.9,1265.5 1476.3,1260.7 1476.7,1260.9 1477.1,1267.9 1477.5,1262.4 1477.9,1264.9 1478.3,1263.5 1478.7,1259.4 1479.1,1264.4 1479.5,1264.5 1479.9,1270.9 1480.3,1258.8 1480.7,1263.5 1481.1,1267.5 1481.5,1263.8 1481.9,1258.6 1482.3,1267.9 1482.7,1266.5 1483.1,1263.3 1483.5,1263.0 1483.9,1264.1 1484.3,1267.2 1484.7,1266.1 1485.1,1264.6 1485.5,1268.1 1485.9,1270.5 1486.3,1265.2 1486.7,1272.5 1487.1,1267.6 1487.5,1269.6 1487.9,1269.1 1488.3,1269.5 1488.7,1268.8 1489.1,1260.7 1489.5,1265.1 1489.9,1271.3 1490.3,1265.1 1490.7,1269.0 1491.1,1263.7 1491.5,1266.9 1491.9,1274.1 1492.3,1270.0 1492.7,1266.5 1493.1,1267.4 1493.5,1264.0 1493.9,1271.2 1494.3,1269.1 1494.7,1272.4 1495.1,1272.7 1495.5,1269.3 1495.9,1267.2 1496.3,1266.5 1496.7,1269.3 1497.1,1270.8 1497.5,1275.4 1497.9,1267.9 1498.3,1272.6 1498.7,1267.9 1499.1,1269.5 1499.5,1274.1 1499.9,1273.4 1500.3,1270.1 1500.7,1269.8 1501.1,1275.7 1501.5,1271.7 1501.9,1271.4 1502.3,1269.1 1502.7,1280.9 1503.1,1278.8 1503.5,1274.7 1503.9,1280.4 1504.3,1274.9 1504.7,1272.4 1505.1,1275.4 1505.5,1278.4 1505.9,1270.3 1506.3,1278.2 1506.7,1278.2 1507.1,1279.4 1507.5,1276.2 1507.9,1278.4 1508.3,1269.3 1508.7,1274.9 1509.1,1278.6 1509.5,1277.2 1509.9,1276.5 1510.3,1271.7 1510.7,1275.3 1511.1,1270.4 1511.5,1275.4 1511.9,1277.4 1512.3,1274.8 1512.7,1278.2 1513.1,1276.8 1513.5,1279.8 1513.9,1275.9 1514.3,1272.0 1514.7,1273.3 1515.1,1275.0 1515.5,1277.7 1515.9,1278.1 1516.3,1275.6 1516.7,1278.5 1517.1,1276.1 1517.5,1280.5 1517.9,1274.3 1518.3,1282.5 1518.7,1279.8 1519.1,1277.8 1519.5,1275.7 1519.9,1281.2 1520.3,1277.6 1520.7,1281.8 1521.1,1285.9 1521.5,1280.6 1521.9,1281.0 1522.3,1282.2 1522.7,1278.9 1523.1,1287.1 1523.5,1280.3 1523.9,1283.4 1524.3,1282.4 1524.7,1279.6 1525.1,1286.1 1525.5,1283.1 1525.9,1279.9 1526.3,1280.1 1526.7,1276.1 1527.1,1279.1 1527.5,1285.4 1527.9,1285.6 1528.3,1280.0 1528.7,1285.2 1529.1,1286.5 1529.5,1286.0 1529.9,1287.7 1530.3,1277.7 1530.7,1284.7 1531.1,1281.1" fill="none" stroke="#6f7073" stroke-width="1.9" stroke-linejoin="round" stroke-miterlimit="4" stroke-linecap="butt"/>
<path d="M907.7,776.3 908.9,780.8 910.1,785.3 911.3,789.8 912.5,794.2 913.7,798.7 914.9,803.1 916.1,807.5 917.3,812.0 918.5,816.6 919.7,821.2 920.9,825.8 922.1,830.4 923.3,834.8 924.5,839.1 925.7,843.1 926.9,846.9 928.1,850.3 929.3,853.5 930.5,856.5 931.7,859.5 932.9,862.3 934.1,865.0 935.3,867.6 936.5,870.1 937.7,872.5 938.9,874.9 940.1,877.1 941.3,879.3 942.5,881.4 943.7,883.4 944.9,885.3 946.1,887.2 947.3,889.0 948.5,890.7 949.7,892.4 950.9,894.1 952.1,895.7 953.3,897.4 954.5,899.1 955.7,900.9 956.9,902.7 958.1,904.6 959.3,906.5 960.5,908.5 961.7,910.4 962.9,912.4 964.1,914.5 965.3,916.5 966.5,918.5 967.7,920.6 968.9,922.6 970.1,924.6 971.3,926.6 972.5,928.5 973.7,930.5 974.9,932.4 976.1,934.2 977.3,936.0 978.5,937.8 979.7,939.6 980.9,941.3 982.1,943.0 983.3,944.7 984.5,946.4 985.7,948.0 986.9,949.7 988.1,951.3 989.3,952.9 990.5,954.5 991.7,956.0 992.9,957.6 994.1,959.1 995.3,960.6 996.5,962.0 997.7,963.5 998.9,964.9 1000.1,966.3 1001.3,967.6 1002.5,968.9 1003.7,970.2 1004.9,971.5 1006.1,972.7 1007.3,974.0 1008.5,975.2 1009.7,976.4 1010.9,977.6 1012.1,978.8 1013.3,980.0 1014.5,981.1 1015.7,982.3 1016.9,983.5 1018.1,984.7 1019.3,985.9 1020.5,987.1 1021.7,988.3 1022.9,989.5 1024.1,990.8 1025.3,992.0 1026.5,993.3 1027.7,994.6 1028.9,996.0 1030.1,997.3 1031.3,998.6 1032.5,1000.0 1033.7,1001.4 1034.9,1002.7 1036.1,1004.1 1037.3,1005.5 1038.5,1006.9 1039.7,1008.3 1040.9,1009.7 1042.1,1011.1 1043.3,1012.5 1044.5,1013.9 1045.7,1015.3 1046.9,1016.7 1048.1,1018.2 1049.3,1019.6 1050.5,1021.1 1051.7,1022.5 1052.9,1024.0 1054.1,1025.5 1055.3,1026.9 1056.5,1028.3 1057.7,1029.7 1058.9,1031.1 1060.1,1032.4 1061.3,1033.7 1062.5,1034.9 1063.8,1036.1 1065.0,1037.3 1066.2,1038.5 1067.4,1039.6 1068.6,1040.8 1069.8,1041.9 1071.0,1043.0 1072.2,1044.1 1073.4,1045.2 1074.6,1046.3 1075.8,1047.4 1077.0,1048.6 1078.2,1049.7 1079.4,1050.9 1080.6,1052.1 1081.8,1053.3 1083.0,1054.5 1084.2,1055.7 1085.4,1057.0 1086.6,1058.3 1087.8,1059.6 1089.0,1060.9 1090.2,1062.2 1091.4,1063.5 1092.6,1064.8 1093.8,1066.1 1095.0,1067.5 1096.2,1068.8 1097.4,1070.1 1098.6,1071.3 1099.8,1072.6 1101.0,1073.8 1102.2,1075.1 1103.4,1076.3 1104.6,1077.5 1105.8,1078.7 1107.0,1079.8 1108.2,1081.0 1109.4,1082.2 1110.6,1083.4 1111.8,1084.5 1113.0,1085.7 1114.2,1086.8 1115.4,1087.9 1116.6,1089.1 1117.8,1090.2 1119.0,1091.3 1120.2,1092.4 1121.4,1093.6 1122.6,1094.7 1123.8,1095.8 1125.0,1096.9 1126.2,1098.1 1127.4,1099.2 1128.6,1100.3 1129.8,1101.4 1131.0,1102.6 1132.2,1103.7 1133.4,1104.8 1134.6,1105.9 1135.8,1107.0 1137.0,1108.0 1138.2,1109.1 1139.4,1110.1 1140.6,1111.1 1141.8,1112.1 1143.0,1113.1 1144.2,1114.0 1145.4,1114.9 1146.6,1115.8 1147.8,1116.7 1149.0,1117.5 1150.2,1118.4 1151.4,1119.2 1152.6,1120.0 1153.8,1120.8 1155.0,1121.6 1156.2,1122.4 1157.4,1123.2 1158.6,1124.0 1159.8,1124.8 1161.0,1125.6 1162.2,1126.5 1163.4,1127.3 1164.6,1128.2 1165.8,1129.1 1167.0,1130.1 1168.2,1131.0 1169.4,1132.0 1170.6,1133.0 1171.8,1134.0 1173.0,1135.0 1174.2,1136.0 1175.4,1137.0 1176.6,1138.0 1177.8,1139.0 1179.0,1140.0 1180.2,1140.9 1181.4,1141.9 1182.6,1142.8 1183.8,1143.7 1185.0,1144.6 1186.2,1145.5 1187.4,1146.3 1188.6,1147.1 1189.8,1147.9 1191.0,1148.8 1192.2,1149.6 1193.4,1150.3 1194.6,1151.1 1195.8,1151.9 1197.0,1152.7 1198.2,1153.4 1199.4,1154.2 1200.6,1154.9 1201.8,1155.7 1203.0,1156.4 1204.2,1157.2 1205.4,1157.9 1206.6,1158.7 1207.8,1159.4 1209.0,1160.2 1210.2,1160.9 1211.4,1161.7 1212.6,1162.5 1213.8,1163.2 1215.0,1164.0 1216.2,1164.8 1217.4,1165.6 1218.6,1166.3 1219.8,1167.1 1221.0,1167.9 1222.2,1168.7 1223.4,1169.5 1224.6,1170.3 1225.8,1171.1 1227.0,1171.9 1228.2,1172.7 1229.4,1173.5 1230.6,1174.3 1231.8,1175.1 1233.0,1175.9 1234.2,1176.7 1235.4,1177.5 1236.6,1178.3 1237.8,1179.1 1239.0,1179.9 1240.2,1180.7 1241.4,1181.5 1242.6,1182.2 1243.8,1183.0 1245.0,1183.8 1246.2,1184.6 1247.4,1185.3 1248.6,1186.1 1249.8,1186.9 1251.0,1187.6 1252.2,1188.4 1253.4,1189.1 1254.6,1189.8 1255.8,1190.6 1257.0,1191.3 1258.2,1192.0 1259.4,1192.7 1260.6,1193.4 1261.8,1194.1 1263.0,1194.8 1264.2,1195.5 1265.4,1196.2 1266.6,1196.9 1267.8,1197.6 1269.0,1198.3 1270.2,1198.9 1271.4,1199.6 1272.6,1200.3 1273.8,1201.0 1275.0,1201.6 1276.2,1202.3 1277.4,1202.9 1278.6,1203.6 1279.8,1204.3 1281.0,1204.9 1282.2,1205.6 1283.4,1206.2 1284.6,1206.8 1285.8,1207.5 1287.0,1208.1 1288.2,1208.8 1289.4,1209.4 1290.6,1210.1 1291.8,1210.7 1293.0,1211.3 1294.2,1212.0 1295.4,1212.6 1296.6,1213.2 1297.8,1213.8 1299.0,1214.5 1300.2,1215.1 1301.4,1215.7 1302.6,1216.4 1303.8,1217.0 1305.0,1217.6 1306.2,1218.2 1307.4,1218.9 1308.6,1219.5 1309.8,1220.1 1311.0,1220.7 1312.2,1221.3 1313.4,1221.9 1314.6,1222.6 1315.8,1223.2 1317.0,1223.8 1318.2,1224.4 1319.4,1225.0 1320.6,1225.6 1321.8,1226.2 1323.0,1226.8 1324.2,1227.4 1325.4,1228.0 1326.6,1228.6 1327.8,1229.2 1329.0,1229.8 1330.2,1230.4 1331.4,1230.9 1332.6,1231.5 1333.8,1232.1 1335.0,1232.7 1336.2,1233.3 1337.4,1233.8 1338.6,1234.4 1339.8,1235.0 1341.0,1235.6 1342.2,1236.1 1343.4,1236.7 1344.6,1237.3 1345.8,1237.9 1347.0,1238.4 1348.2,1239.0 1349.4,1239.6 1350.6,1240.1 1351.8,1240.7 1353.0,1241.3 1354.2,1241.8 1355.4,1242.4 1356.6,1243.0 1357.8,1243.5 1359.0,1244.1 1360.2,1244.6 1361.4,1245.2 1362.6,1245.7 1363.8,1246.3 1365.0,1246.8 1366.2,1247.4 1367.4,1247.9 1368.6,1248.5 1369.8,1249.0 1371.0,1249.6 1372.2,1250.1 1373.4,1250.6 1374.6,1251.1 1375.9,1251.6 1377.1,1252.2 1378.3,1252.7 1379.5,1253.2 1380.7,1253.7 1381.9,1254.2 1383.1,1254.7 1384.3,1255.1 1385.5,1255.6 1386.7,1256.1 1387.9,1256.6 1389.1,1257.0 1390.3,1257.5 1391.5,1258.0 1392.7,1258.4 1393.9,1258.9 1395.1,1259.3 1396.3,1259.7 1397.5,1260.2 1398.7,1260.6 1399.9,1261.1 1401.1,1261.5 1402.3,1261.9 1403.5,1262.3 1404.7,1262.8 1405.9,1263.2 1407.1,1263.6 1408.3,1264.0 1409.5,1264.4 1410.7,1264.9 1411.9,1265.3 1413.1,1265.7 1414.3,1266.1 1415.5,1266.5 1416.7,1266.9 1417.9,1267.3 1419.1,1267.7 1420.3,1268.1 1421.5,1268.5 1422.7,1268.9 1423.9,1269.3 1425.1,1269.7 1426.3,1270.0 1427.5,1270.4 1428.7,1270.8 1429.9,1271.2 1431.1,1271.6 1432.3,1272.0 1433.5,1272.4 1434.7,1272.7 1435.9,1273.1 1437.1,1273.5 1438.3,1273.9 1439.5,1274.2 1440.7,1274.6 1441.9,1275.0 1443.1,1275.3 1444.3,1275.7 1445.5,1276.1 1446.7,1276.4 1447.9,1276.8 1449.1,1277.1 1450.3,1277.5 1451.5,1277.9 1452.7,1278.2 1453.9,1278.6 1455.1,1278.9 1456.3,1279.3 1457.5,1279.6 1458.7,1280.0 1459.9,1280.3 1461.1,1280.7 1462.3,1281.0 1463.5,1281.4 1464.7,1281.7 1465.9,1282.0 1467.1,1282.4 1468.3,1282.7 1469.5,1283.1 1470.7,1283.4 1471.9,1283.8 1473.1,1284.1 1474.3,1284.4 1475.5,1284.8 1476.7,1285.1 1477.9,1285.4 1479.1,1285.7 1480.3,1286.1 1481.5,1286.4 1482.7,1286.7 1483.9,1287.0 1485.1,1287.3 1486.3,1287.6 1487.5,1287.9 1488.7,1288.2 1489.9,1288.5 1491.1,1288.8 1492.3,1289.1 1493.5,1289.5 1494.7,1289.8 1495.9,1290.1 1497.1,1290.4 1498.3,1290.7 1499.5,1291.0 1500.7,1291.4 1501.9,1291.7 1503.1,1292.0 1504.3,1292.4 1505.5,1292.7 1506.7,1293.0 1507.9,1293.4 1509.1,1293.8 1510.3,1294.1 1511.5,1294.5 1512.7,1294.9 1513.9,1295.3 1515.1,1295.7 1516.3,1296.1 1517.5,1296.5 1518.7,1296.9 1519.9,1297.4 1521.1,1297.8 1522.3,1298.3 1523.5,1298.7 1524.7,1299.2 1525.9,1299.7 1527.1,1300.2 1528.3,1300.7 1529.5,1301.1 1530.7,1301.6" fill="none" stroke="#72b474" stroke-width="3.8" stroke-linejoin="round"/>
<path d="M907.7,776.3 908.1,774.0 908.5,773.9 908.9,773.9 909.3,780.9 909.7,788.6 910.1,785.4 910.5,788.8 910.9,792.2 911.3,786.4 911.7,801.5 912.1,789.4 912.5,795.7 912.9,806.2 913.3,796.8 913.7,799.1 914.1,798.2 914.5,802.9 914.9,795.0 915.3,802.1 915.7,812.5 916.1,808.3 916.5,808.0 916.9,811.9 917.3,813.6 917.7,814.1 918.1,817.2 918.5,810.3 918.9,820.3 919.3,817.1 919.7,824.2 920.1,822.7 920.5,820.5 920.9,825.5 921.3,823.6 921.7,832.7 922.1,830.3 922.5,835.1 922.9,829.2 923.3,840.9 923.7,835.1 924.1,842.8 924.5,842.3 924.9,836.3 925.3,843.0 925.7,841.1 926.1,845.9 926.5,851.0 926.9,849.4 927.3,852.0 927.7,844.9 928.1,851.0 928.5,852.7 928.9,856.5 929.3,851.2 929.7,856.6 930.1,857.1 930.5,850.9 930.9,853.7 931.3,860.1 931.7,855.2 932.1,855.9 932.5,864.7 932.9,863.3 933.3,862.3 933.7,864.5 934.1,863.5 934.5,863.9 934.9,865.1 935.3,869.0 935.7,873.3 936.1,867.6 936.5,869.9 936.9,870.1 937.3,867.1 937.7,873.4 938.1,876.5 938.5,871.0 938.9,877.9 939.3,873.5 939.7,880.5 940.1,881.5 940.5,876.5 940.9,871.3 941.3,878.0 941.7,875.0 942.1,876.0 942.5,880.5 942.9,887.0 943.3,882.4 943.7,882.6 944.1,877.4 944.5,882.5 944.9,880.3 945.3,887.8 945.7,884.7 946.1,887.0 946.5,887.7 946.9,887.7 947.3,892.4 947.7,891.3 948.1,889.0 948.5,891.2 948.9,893.2 949.3,896.7 949.7,892.8 950.1,898.1 950.5,891.4 950.9,893.2 951.3,889.3 951.7,898.1 952.1,892.0 952.5,892.6 952.9,899.9 953.3,895.5 953.7,895.3 954.1,902.0 954.5,898.5 954.9,903.0 955.3,898.9 955.7,903.5 956.1,905.3 956.5,902.4 956.9,909.1 957.3,901.9 957.7,903.2 958.1,904.9 958.5,908.8 958.9,904.9 959.3,905.0 959.7,908.1 960.1,912.2 960.5,907.0 960.9,904.6 961.3,909.3 961.7,912.6 962.1,909.2 962.5,912.2 962.9,905.9 963.3,913.2 963.7,914.2 964.1,916.7 964.5,916.2 964.9,918.5 965.3,913.0 965.7,919.5 966.1,912.0 966.5,916.4 966.9,923.1 967.3,922.9 967.7,914.1 968.1,923.3 968.5,920.4 968.9,919.9 969.3,924.0 969.7,924.4 970.1,929.4 970.5,920.2 970.9,924.4 971.3,926.1 971.7,920.8 972.1,932.0 972.5,934.6 972.9,927.0 973.3,931.2 973.7,929.5 974.1,932.1 974.5,929.4 974.9,935.3 975.3,929.0 975.7,938.3 976.1,935.5 976.5,943.2 976.9,929.7 977.3,935.7 977.7,932.2 978.1,936.7 978.5,939.3 978.9,935.2 979.3,934.0 979.7,933.6 980.1,940.9 980.5,945.1 980.9,945.3 981.3,942.0 981.7,939.1 982.1,941.8 982.5,938.4 982.9,938.7 983.3,948.4 983.7,944.3 984.1,946.9 984.5,945.4 984.9,951.5 985.3,952.4 985.7,945.4 986.1,947.3 986.5,946.8 986.9,954.2 987.3,954.5 987.7,949.8 988.1,959.1 988.5,951.9 988.9,948.2 989.3,946.0 989.7,952.9 990.1,955.0 990.5,952.5 990.9,956.2 991.3,959.6 991.7,955.8 992.1,959.4 992.5,962.7 992.9,959.3 993.3,956.1 993.7,960.0 994.1,960.9 994.5,966.8 994.9,958.6 995.3,955.3 995.7,962.1 996.1,962.7 996.5,960.6 996.9,964.4 997.3,964.1 997.7,967.6 998.1,961.1 998.5,962.0 998.9,964.8 999.3,963.6 999.7,970.1 1000.1,968.2 1000.5,966.6 1000.9,972.3 1001.3,969.3 1001.7,971.4 1002.1,971.2 1002.5,968.4 1002.9,968.9 1003.3,969.8 1003.7,966.6 1004.1,969.5 1004.5,973.9 1004.9,972.5 1005.3,968.8 1005.7,980.3 1006.1,969.3 1006.5,975.2 1006.9,976.0 1007.3,978.3 1007.7,971.5 1008.1,974.9 1008.5,974.6 1008.9,979.4 1009.3,977.3 1009.7,977.8 1010.1,978.6 1010.5,983.8 1010.9,979.9 1011.3,981.0 1011.7,975.4 1012.1,981.2 1012.5,975.1 1012.9,982.8 1013.3,980.6 1013.7,977.6 1014.1,977.1 1014.5,981.0 1014.9,982.1 1015.3,980.2 1015.7,981.4 1016.1,981.9 1016.5,981.6 1016.9,983.1 1017.3,985.0 1017.7,988.8 1018.1,987.0 1018.5,983.5 1018.9,991.1 1019.3,990.1 1019.7,985.7 1020.1,990.3 1020.5,985.6 1020.9,985.3 1021.3,985.8 1021.7,994.0 1022.1,989.5 1022.5,990.5 1022.9,990.1 1023.3,989.0 1023.7,992.3 1024.1,993.4 1024.5,998.0 1024.9,989.2 1025.3,997.5 1025.7,995.1 1026.1,987.7 1026.5,997.0 1026.9,999.5 1027.3,998.2 1027.7,995.9 1028.1,996.1 1028.5,989.5 1028.9,997.5 1029.3,997.5 1029.7,994.3 1030.1,998.4 1030.5,996.0 1030.9,1006.0 1031.3,995.1 1031.7,996.6 1032.1,992.9 1032.5,999.1 1032.9,1001.2 1033.3,1001.3 1033.7,999.6 1034.1,1005.0 1034.5,1003.3 1034.9,1006.9 1035.3,1003.1 1035.7,998.2 1036.1,1003.9 1036.5,1001.5 1036.9,1008.0 1037.3,1003.8 1037.7,1005.4 1038.1,1006.6 1038.5,1002.2 1038.9,1006.3 1039.3,1010.8 1039.7,1006.6 1040.1,1008.4 1040.5,1009.9 1040.9,1007.6 1041.3,1009.3 1041.7,1012.2 1042.1,1010.0 1042.5,1011.8 1042.9,1011.7 1043.3,1009.2 1043.7,1008.9 1044.1,1019.9 1044.5,1018.4 1044.9,1014.0 1045.3,1017.9 1045.7,1018.9 1046.1,1018.9 1046.5,1015.1 1046.9,1012.2 1047.3,1013.2 1047.7,1017.0 1048.1,1022.5 1048.5,1023.7 1048.9,1018.4 1049.3,1018.6 1049.7,1024.0 1050.1,1027.2 1050.5,1018.2 1050.9,1023.1 1051.3,1022.6 1051.7,1021.6 1052.1,1022.1 1052.5,1022.5 1052.9,1024.1 1053.3,1019.7 1053.7,1025.1 1054.1,1028.1 1054.5,1028.4 1054.9,1029.0 1055.3,1028.1 1055.7,1028.1 1056.1,1034.1 1056.5,1027.9 1056.9,1029.4 1057.3,1033.3 1057.7,1029.9 1058.1,1026.2 1058.5,1029.0 1058.9,1029.8 1059.3,1031.1 1059.7,1030.7 1060.1,1035.6 1060.5,1035.2 1060.9,1034.9 1061.3,1032.5 1061.7,1037.4 1062.1,1037.7 1062.5,1041.9 1062.9,1033.5 1063.3,1035.5 1063.8,1040.6 1064.2,1033.3 1064.6,1037.9 1065.0,1038.2 1065.4,1038.0 1065.8,1035.3 1066.2,1038.8 1066.6,1034.4 1067.0,1043.1 1067.4,1038.3 1067.8,1040.6 1068.2,1040.5 1068.6,1041.5 1069.0,1041.7 1069.4,1043.0 1069.8,1040.9 1070.2,1042.5 1070.6,1039.3 1071.0,1039.8 1071.4,1040.8 1071.8,1040.7 1072.2,1039.9 1072.6,1042.6 1073.0,1046.9 1073.4,1046.6 1073.8,1044.4 1074.2,1047.0 1074.6,1047.5 1075.0,1055.1 1075.4,1042.2 1075.8,1048.3 1076.2,1043.8 1076.6,1052.2 1077.0,1048.0 1077.4,1050.4 1077.8,1050.0 1078.2,1052.0 1078.6,1041.2 1079.0,1047.0 1079.4,1051.2 1079.8,1047.3 1080.2,1053.5 1080.6,1056.0 1081.0,1048.6 1081.4,1051.6 1081.8,1055.3 1082.2,1059.4 1082.6,1057.3 1083.0,1056.9 1083.4,1052.3 1083.8,1055.5 1084.2,1056.3 1084.6,1054.4 1085.0,1058.0 1085.4,1056.2 1085.8,1056.2 1086.2,1064.5 1086.6,1057.9 1087.0,1064.6 1087.4,1058.1 1087.8,1059.5 1088.2,1056.3 1088.6,1058.8 1089.0,1065.8 1089.4,1061.5 1089.8,1055.8 1090.2,1066.6 1090.6,1060.0 1091.0,1061.8 1091.4,1063.4 1091.8,1058.3 1092.2,1069.1 1092.6,1068.8 1093.0,1064.3 1093.4,1066.8 1093.8,1065.3 1094.2,1064.8 1094.6,1066.3 1095.0,1063.1 1095.4,1066.7 1095.8,1066.6 1096.2,1074.6 1096.6,1064.8 1097.0,1073.5 1097.4,1072.2 1097.8,1070.9 1098.2,1069.1 1098.6,1076.8 1099.0,1076.2 1099.4,1072.0 1099.8,1072.0 1100.2,1073.6 1100.6,1078.9 1101.0,1071.1 1101.4,1074.5 1101.8,1078.1 1102.2,1070.9 1102.6,1075.2 1103.0,1079.2 1103.4,1075.0 1103.8,1076.3 1104.2,1072.4 1104.6,1078.6 1105.0,1074.3 1105.4,1077.1 1105.8,1079.7 1106.2,1077.4 1106.6,1082.1 1107.0,1082.0 1107.4,1081.7 1107.8,1083.6 1108.2,1080.5 1108.6,1075.0 1109.0,1084.4 1109.4,1084.5 1109.8,1081.2 1110.2,1080.5 1110.6,1086.8 1111.0,1082.3 1111.4,1083.0 1111.8,1083.2 1112.2,1091.8 1112.6,1083.1 1113.0,1077.9 1113.4,1085.6 1113.8,1083.2 1114.2,1081.4 1114.6,1087.3 1115.0,1085.7 1115.4,1090.3 1115.8,1087.0 1116.2,1091.9 1116.6,1091.7 1117.0,1089.2 1117.4,1091.8 1117.8,1095.2 1118.2,1092.3 1118.6,1086.4 1119.0,1091.2 1119.4,1092.0 1119.8,1095.4 1120.2,1091.7 1120.6,1095.8 1121.0,1092.5 1121.4,1093.3 1121.8,1092.9 1122.2,1094.0 1122.6,1093.9 1123.0,1095.7 1123.4,1092.8 1123.8,1092.4 1124.2,1095.5 1124.6,1096.6 1125.0,1095.3 1125.4,1098.1 1125.8,1098.2 1126.2,1102.6 1126.6,1093.7 1127.0,1104.2 1127.4,1091.9 1127.8,1093.9 1128.2,1100.2 1128.6,1097.0 1129.0,1099.3 1129.4,1099.2 1129.8,1097.0 1130.2,1097.2 1130.6,1100.4 1131.0,1103.0 1131.4,1104.1 1131.8,1103.2 1132.2,1102.1 1132.6,1106.9 1133.0,1097.4 1133.4,1104.2 1133.8,1108.2 1134.2,1109.6 1134.6,1108.7 1135.0,1109.5 1135.4,1109.0 1135.8,1106.7 1136.2,1100.3 1136.6,1105.6 1137.0,1106.7 1137.4,1112.4 1137.8,1106.9 1138.2,1107.5 1138.6,1110.8 1139.0,1106.4 1139.4,1109.7 1139.8,1111.5 1140.2,1109.3 1140.6,1110.4 1141.0,1105.8 1141.4,1107.7 1141.8,1110.9 1142.2,1115.2 1142.6,1110.6 1143.0,1109.9 1143.4,1110.6 1143.8,1115.1 1144.2,1109.4 1144.6,1114.3 1145.0,1113.1 1145.4,1114.6 1145.8,1112.6 1146.2,1115.3 1146.6,1119.2 1147.0,1114.8 1147.4,1114.5 1147.8,1108.8 1148.2,1117.8 1148.6,1114.9 1149.0,1118.1 1149.4,1117.6 1149.8,1115.3 1150.2,1116.0 1150.6,1114.3 1151.0,1124.1 1151.4,1121.3 1151.8,1121.3 1152.2,1122.7 1152.6,1123.5 1153.0,1122.3 1153.4,1123.0 1153.8,1127.4 1154.2,1115.8 1154.6,1121.5 1155.0,1119.4 1155.4,1121.7 1155.8,1114.6 1156.2,1119.0 1156.6,1124.6 1157.0,1119.0 1157.4,1124.4 1157.8,1120.8 1158.2,1122.9 1158.6,1119.4 1159.0,1122.2 1159.4,1120.0 1159.8,1126.1 1160.2,1119.9 1160.6,1126.0 1161.0,1123.8 1161.4,1125.2 1161.8,1130.1 1162.2,1125.6 1162.6,1124.8 1163.0,1126.9 1163.4,1129.2 1163.8,1126.0 1164.2,1132.6 1164.6,1128.6 1165.0,1127.4 1165.4,1126.9 1165.8,1128.6 1166.2,1131.0 1166.6,1132.7 1167.0,1130.3 1167.4,1128.7 1167.8,1130.6 1168.2,1125.1 1168.6,1134.5 1169.0,1134.0 1169.4,1131.5 1169.8,1134.3 1170.2,1129.9 1170.6,1138.2 1171.0,1133.1 1171.4,1132.7 1171.8,1140.2 1172.2,1132.1 1172.6,1136.4 1173.0,1133.3 1173.4,1134.5 1173.8,1135.6 1174.2,1135.1 1174.6,1141.2 1175.0,1140.5 1175.4,1136.2 1175.8,1144.8 1176.2,1138.3 1176.6,1138.3 1177.0,1140.2 1177.4,1136.5 1177.8,1143.5 1178.2,1137.5 1178.6,1136.9 1179.0,1143.6 1179.4,1138.4 1179.8,1140.6 1180.2,1138.2 1180.6,1140.6 1181.0,1142.4 1181.4,1135.7 1181.8,1142.5 1182.2,1140.7 1182.6,1147.2 1183.0,1149.2 1183.4,1145.3 1183.8,1145.8 1184.2,1147.3 1184.6,1147.6 1185.0,1141.0 1185.4,1141.6 1185.8,1144.1 1186.2,1141.9 1186.6,1145.1 1187.0,1146.5 1187.4,1144.3 1187.8,1148.0 1188.2,1151.0 1188.6,1147.4 1189.0,1148.7 1189.4,1147.7 1189.8,1147.9 1190.2,1146.9 1190.6,1145.5 1191.0,1150.4 1191.4,1152.1 1191.8,1149.3 1192.2,1149.9 1192.6,1146.1 1193.0,1149.5 1193.4,1151.2 1193.8,1150.4 1194.2,1151.1 1194.6,1148.4 1195.0,1147.9 1195.4,1151.0 1195.8,1156.0 1196.2,1151.1 1196.6,1148.3 1197.0,1150.9 1197.4,1152.4 1197.8,1156.5 1198.2,1156.4 1198.6,1151.5 1199.0,1151.2 1199.4,1153.5 1199.8,1154.4 1200.2,1152.0 1200.6,1157.5 1201.0,1154.0 1201.4,1156.1 1201.8,1155.1 1202.2,1157.3 1202.6,1155.8 1203.0,1157.0 1203.4,1160.0 1203.8,1157.5 1204.2,1161.0 1204.6,1153.9 1205.0,1157.1 1205.4,1155.0 1205.8,1154.2 1206.2,1158.2 1206.6,1163.7 1207.0,1159.5 1207.4,1161.8 1207.8,1154.2 1208.2,1160.2 1208.6,1156.7 1209.0,1160.6 1209.4,1163.0 1209.8,1159.2 1210.2,1163.7 1210.6,1158.9 1211.0,1161.5 1211.4,1159.8 1211.8,1161.9 1212.2,1161.5 1212.6,1156.3 1213.0,1161.4 1213.4,1161.3 1213.8,1167.4 1214.2,1156.5 1214.6,1163.6 1215.0,1165.9 1215.4,1169.0 1215.8,1167.7 1216.2,1164.3 1216.6,1168.6 1217.0,1164.6 1217.4,1164.7 1217.8,1164.6 1218.2,1164.7 1218.6,1170.1 1219.0,1161.9 1219.4,1162.4 1219.8,1169.3 1220.2,1168.2 1220.6,1169.5 1221.0,1166.8 1221.4,1169.5 1221.8,1167.4 1222.2,1166.9 1222.6,1167.4 1223.0,1169.1 1223.4,1169.2 1223.8,1168.2 1224.2,1173.8 1224.6,1171.0 1225.0,1169.1 1225.4,1166.8 1225.8,1170.4 1226.2,1166.5 1226.6,1168.7 1227.0,1168.3 1227.4,1169.3 1227.8,1172.3 1228.2,1163.5 1228.6,1176.2 1229.0,1173.7 1229.4,1171.7 1229.8,1171.4 1230.2,1175.2 1230.6,1173.3 1231.0,1178.4 1231.4,1173.7 1231.8,1171.9 1232.2,1170.9 1232.6,1174.6 1233.0,1177.9 1233.4,1172.2 1233.8,1179.1 1234.2,1178.2 1234.6,1175.4 1235.0,1179.9 1235.4,1172.2 1235.8,1171.3 1236.2,1178.0 1236.6,1178.7 1237.0,1178.8 1237.4,1178.0 1237.8,1174.5 1238.2,1180.1 1238.6,1178.0 1239.0,1181.5 1239.4,1180.0 1239.8,1176.6 1240.2,1181.6 1240.6,1182.4 1241.0,1182.6 1241.4,1178.9 1241.8,1178.3 1242.2,1183.4 1242.6,1181.4 1243.0,1181.5 1243.4,1184.7 1243.8,1185.1 1244.2,1183.9 1244.6,1182.3 1245.0,1187.1 1245.4,1180.7 1245.8,1183.6 1246.2,1184.8 1246.6,1180.6 1247.0,1182.5 1247.4,1187.0 1247.8,1184.7 1248.2,1182.4 1248.6,1189.8 1249.0,1186.2 1249.4,1186.2 1249.8,1191.0 1250.2,1182.6 1250.6,1185.3 1251.0,1184.6 1251.4,1190.7 1251.8,1185.4 1252.2,1193.9 1252.6,1189.3 1253.0,1189.1 1253.4,1191.1 1253.8,1188.2 1254.2,1186.6 1254.6,1187.7 1255.0,1189.6 1255.4,1187.2 1255.8,1190.3 1256.2,1188.5 1256.6,1189.9 1257.0,1190.5 1257.4,1195.1 1257.8,1197.2 1258.2,1196.4 1258.6,1191.5 1259.0,1190.4 1259.4,1195.2 1259.8,1196.2 1260.2,1195.5 1260.6,1191.8 1261.0,1194.4 1261.4,1193.2 1261.8,1196.8 1262.2,1196.8 1262.6,1195.2 1263.0,1193.8 1263.4,1199.6 1263.8,1195.8 1264.2,1197.7 1264.6,1197.3 1265.0,1198.1 1265.4,1199.3 1265.8,1195.6 1266.2,1195.6 1266.6,1198.6 1267.0,1188.9 1267.4,1197.3 1267.8,1196.5 1268.2,1199.8 1268.6,1199.0 1269.0,1197.9 1269.4,1195.6 1269.8,1198.4 1270.2,1198.2 1270.6,1199.5 1271.0,1200.1 1271.4,1197.9 1271.8,1201.3 1272.2,1198.8 1272.6,1201.4 1273.0,1201.3 1273.4,1204.0 1273.8,1201.0 1274.2,1205.4 1274.6,1200.6 1275.0,1199.4 1275.4,1203.6 1275.8,1198.9 1276.2,1203.3 1276.6,1203.6 1277.0,1203.3 1277.4,1204.0 1277.8,1203.7 1278.2,1206.7 1278.6,1203.3 1279.0,1198.9 1279.4,1203.2 1279.8,1206.5 1280.2,1207.1 1280.6,1206.5 1281.0,1205.1 1281.4,1202.8 1281.8,1209.4 1282.2,1204.1 1282.6,1203.0 1283.0,1199.9 1283.4,1211.1 1283.8,1206.4 1284.2,1202.0 1284.6,1209.1 1285.0,1208.8 1285.4,1203.0 1285.8,1209.5 1286.2,1207.8 1286.6,1209.7 1287.0,1211.6 1287.4,1207.3 1287.8,1214.1 1288.2,1208.5 1288.6,1207.5 1289.0,1212.2 1289.4,1207.7 1289.8,1208.7 1290.2,1211.9 1290.6,1207.8 1291.0,1206.8 1291.4,1211.1 1291.8,1210.5 1292.2,1209.3 1292.6,1213.3 1293.0,1208.1 1293.4,1213.2 1293.8,1208.8 1294.2,1212.9 1294.6,1208.8 1295.0,1213.7 1295.4,1212.1 1295.8,1211.4 1296.2,1212.9 1296.6,1212.5 1297.0,1215.2 1297.4,1211.6 1297.8,1214.6 1298.2,1212.9 1298.6,1212.3 1299.0,1212.8 1299.4,1211.5 1299.8,1215.3 1300.2,1214.9 1300.6,1215.7 1301.0,1211.0 1301.4,1214.1 1301.8,1219.2 1302.2,1218.7 1302.6,1215.6 1303.0,1216.1 1303.4,1216.8 1303.8,1219.2 1304.2,1220.4 1304.6,1217.7 1305.0,1217.9 1305.4,1217.4 1305.8,1218.5 1306.2,1222.3 1306.6,1216.5 1307.0,1219.9 1307.4,1215.7 1307.8,1216.0 1308.2,1214.8 1308.6,1217.6 1309.0,1223.0 1309.4,1223.6 1309.8,1221.7 1310.2,1219.9 1310.6,1222.8 1311.0,1217.7 1311.4,1217.0 1311.8,1218.6 1312.2,1220.4 1312.6,1216.6 1313.0,1219.4 1313.4,1225.7 1313.8,1221.2 1314.2,1221.0 1314.6,1220.5 1315.0,1224.1 1315.4,1224.1 1315.8,1222.9 1316.2,1222.5 1316.6,1217.8 1317.0,1219.7 1317.4,1222.5 1317.8,1222.3 1318.2,1223.1 1318.6,1222.9 1319.0,1228.6 1319.4,1227.2 1319.8,1222.0 1320.2,1226.7 1320.6,1226.0 1321.0,1225.2 1321.4,1224.8 1321.8,1226.5 1322.2,1230.4 1322.6,1224.7 1323.0,1225.8 1323.4,1226.2 1323.8,1222.5 1324.2,1226.9 1324.6,1225.0 1325.0,1227.9 1325.4,1228.5 1325.8,1232.1 1326.2,1227.4 1326.6,1227.4 1327.0,1230.1 1327.4,1233.4 1327.8,1229.2 1328.2,1230.2 1328.6,1230.6 1329.0,1230.6 1329.4,1228.4 1329.8,1227.9 1330.2,1228.3 1330.6,1229.3 1331.0,1231.1 1331.4,1228.5 1331.8,1228.9 1332.2,1231.0 1332.6,1230.8 1333.0,1231.6 1333.4,1228.5 1333.8,1236.3 1334.2,1231.4 1334.6,1231.5 1335.0,1230.3 1335.4,1233.6 1335.8,1235.1 1336.2,1232.8 1336.6,1232.8 1337.0,1232.7 1337.4,1238.8 1337.8,1235.1 1338.2,1232.8 1338.6,1234.4 1339.0,1236.8 1339.4,1234.8 1339.8,1235.4 1340.2,1235.3 1340.6,1234.6 1341.0,1236.6 1341.4,1239.3 1341.8,1236.8 1342.2,1235.1 1342.6,1234.1 1343.0,1236.1 1343.4,1235.1 1343.8,1234.6 1344.2,1238.3 1344.6,1237.7 1345.0,1239.8 1345.4,1238.5 1345.8,1236.7 1346.2,1240.0 1346.6,1239.0 1347.0,1241.5 1347.4,1236.1 1347.8,1237.8 1348.2,1239.0 1348.6,1242.7 1349.0,1240.3 1349.4,1236.7 1349.8,1237.4 1350.2,1241.0 1350.6,1236.3 1351.0,1238.5 1351.4,1240.0 1351.8,1239.7 1352.2,1241.4 1352.6,1242.8 1353.0,1241.7 1353.4,1238.3 1353.8,1244.5 1354.2,1244.1 1354.6,1239.9 1355.0,1241.2 1355.4,1239.1 1355.8,1245.6 1356.2,1241.5 1356.6,1243.7 1357.0,1244.1 1357.4,1246.1 1357.8,1243.6 1358.2,1242.7 1358.6,1245.1 1359.0,1246.2 1359.4,1242.9 1359.8,1244.1 1360.2,1241.0 1360.6,1247.9 1361.0,1243.3 1361.4,1247.3 1361.8,1247.2 1362.2,1247.2 1362.6,1247.8 1363.0,1244.0 1363.4,1246.5 1363.8,1244.6 1364.2,1246.1 1364.6,1244.9 1365.0,1252.2 1365.4,1247.5 1365.8,1249.5 1366.2,1245.8 1366.6,1251.7 1367.0,1247.5 1367.4,1247.6 1367.8,1247.5 1368.2,1244.8 1368.6,1243.9 1369.0,1249.2 1369.4,1246.4 1369.8,1248.5 1370.2,1253.8 1370.6,1248.7 1371.0,1254.2 1371.4,1250.5 1371.8,1247.4 1372.2,1251.4 1372.6,1252.8 1373.0,1252.2 1373.4,1249.0 1373.8,1248.3 1374.2,1252.9 1374.6,1255.5 1375.0,1255.3 1375.5,1250.7 1375.9,1251.1 1376.3,1252.5 1376.7,1254.6 1377.1,1253.2 1377.5,1253.4 1377.9,1252.6 1378.3,1246.7 1378.7,1250.1 1379.1,1253.4 1379.5,1249.7 1379.9,1258.1 1380.3,1251.8 1380.7,1255.3 1381.1,1256.1 1381.5,1256.7 1381.9,1251.6 1382.3,1254.0 1382.7,1258.1 1383.1,1255.0 1383.5,1256.8 1383.9,1249.5 1384.3,1256.2 1384.7,1255.8 1385.1,1255.3 1385.5,1251.7 1385.9,1254.2 1386.3,1255.4 1386.7,1255.3 1387.1,1253.8 1387.5,1259.0 1387.9,1258.8 1388.3,1256.0 1388.7,1260.3 1389.1,1254.4 1389.5,1258.0 1389.9,1261.2 1390.3,1258.9 1390.7,1257.4 1391.1,1259.0 1391.5,1257.8 1391.9,1257.0 1392.3,1256.6 1392.7,1258.5 1393.1,1258.3 1393.5,1259.5 1393.9,1257.0 1394.3,1259.7 1394.7,1261.4 1395.1,1258.0 1395.5,1263.1 1395.9,1258.0 1396.3,1258.1 1396.7,1258.5 1397.1,1257.2 1397.5,1256.6 1397.9,1257.6 1398.3,1259.9 1398.7,1258.7 1399.1,1264.1 1399.5,1260.4 1399.9,1260.0 1400.3,1259.8 1400.7,1262.3 1401.1,1261.6 1401.5,1262.3 1401.9,1263.6 1402.3,1265.4 1402.7,1260.0 1403.1,1263.8 1403.5,1262.5 1403.9,1263.1 1404.3,1261.4 1404.7,1264.2 1405.1,1264.3 1405.5,1263.9 1405.9,1261.5 1406.3,1265.0 1406.7,1261.4 1407.1,1260.2 1407.5,1265.6 1407.9,1263.7 1408.3,1260.5 1408.7,1262.6 1409.1,1264.4 1409.5,1266.7 1409.9,1264.1 1410.3,1262.9 1410.7,1262.5 1411.1,1262.0 1411.5,1264.9 1411.9,1263.6 1412.3,1266.8 1412.7,1264.0 1413.1,1268.1 1413.5,1265.4 1413.9,1266.1 1414.3,1265.9 1414.7,1265.9 1415.1,1270.0 1415.5,1264.9 1415.9,1265.5 1416.3,1266.3 1416.7,1268.4 1417.1,1264.9 1417.5,1270.4 1417.9,1265.2 1418.3,1266.2 1418.7,1267.8 1419.1,1268.1 1419.5,1265.8 1419.9,1269.9 1420.3,1272.2 1420.7,1268.2 1421.1,1270.1 1421.5,1270.2 1421.9,1274.4 1422.3,1269.3 1422.7,1270.0 1423.1,1268.5 1423.5,1270.0 1423.9,1268.8 1424.3,1268.7 1424.7,1269.1 1425.1,1271.8 1425.5,1269.2 1425.9,1271.9 1426.3,1269.9 1426.7,1272.9 1427.1,1267.8 1427.5,1268.1 1427.9,1272.0 1428.3,1274.1 1428.7,1269.9 1429.1,1266.5 1429.5,1273.6 1429.9,1272.4 1430.3,1269.8 1430.7,1274.7 1431.1,1274.7 1431.5,1270.5 1431.9,1271.1 1432.3,1273.5 1432.7,1273.7 1433.1,1275.3 1433.5,1273.6 1433.9,1276.9 1434.3,1271.9 1434.7,1270.8 1435.1,1271.6 1435.5,1271.3 1435.9,1272.9 1436.3,1271.4 1436.7,1275.1 1437.1,1276.1 1437.5,1277.2 1437.9,1272.6 1438.3,1271.1 1438.7,1273.1 1439.1,1274.2 1439.5,1273.1 1439.9,1275.3 1440.3,1275.5 1440.7,1275.3 1441.1,1272.7 1441.5,1276.6 1441.9,1272.9 1442.3,1269.6 1442.7,1274.6 1443.1,1277.6 1443.5,1275.1 1443.9,1271.7 1444.3,1274.5 1444.7,1277.8 1445.1,1275.8 1445.5,1275.3 1445.9,1273.0 1446.3,1275.6 1446.7,1274.4 1447.1,1279.2 1447.5,1276.7 1447.9,1278.0 1448.3,1272.8 1448.7,1276.4 1449.1,1278.3 1449.5,1280.4 1449.9,1279.6 1450.3,1275.2 1450.7,1283.3 1451.1,1276.8 1451.5,1276.7 1451.9,1276.8 1452.3,1275.1 1452.7,1276.9 1453.1,1276.3 1453.5,1276.9 1453.9,1276.5 1454.3,1277.5 1454.7,1279.7 1455.1,1276.8 1455.5,1275.9 1455.9,1279.8 1456.3,1278.6 1456.7,1280.3 1457.1,1277.0 1457.5,1278.8 1457.9,1277.4 1458.3,1276.4 1458.7,1278.3 1459.1,1279.2 1459.5,1280.2 1459.9,1277.2 1460.3,1281.4 1460.7,1282.2 1461.1,1280.8 1461.5,1279.3 1461.9,1278.5 1462.3,1282.5 1462.7,1278.8 1463.1,1283.4 1463.5,1276.8 1463.9,1276.7 1464.3,1281.9 1464.7,1278.4 1465.1,1283.4 1465.5,1280.4 1465.9,1280.4 1466.3,1282.3 1466.7,1284.0 1467.1,1283.6 1467.5,1281.6 1467.9,1281.4 1468.3,1284.0 1468.7,1280.7 1469.1,1280.5 1469.5,1280.7 1469.9,1289.7 1470.3,1286.1 1470.7,1284.1 1471.1,1282.5 1471.5,1284.5 1471.9,1280.0 1472.3,1283.1 1472.7,1285.7 1473.1,1284.3 1473.5,1281.6 1473.9,1284.0 1474.3,1283.9 1474.7,1287.3 1475.1,1286.3 1475.5,1285.0 1475.9,1289.5 1476.3,1283.9 1476.7,1287.6 1477.1,1286.2 1477.5,1285.2 1477.9,1284.4 1478.3,1286.7 1478.7,1288.9 1479.1,1282.4 1479.5,1286.1 1479.9,1288.0 1480.3,1284.5 1480.7,1284.7 1481.1,1289.4 1481.5,1286.0 1481.9,1285.8 1482.3,1287.6 1482.7,1287.4 1483.1,1288.2 1483.5,1288.3 1483.9,1290.2 1484.3,1288.1 1484.7,1289.3 1485.1,1285.8 1485.5,1288.1 1485.9,1286.6 1486.3,1290.9 1486.7,1288.6 1487.1,1290.6 1487.5,1287.7 1487.9,1286.3 1488.3,1290.0 1488.7,1288.1 1489.1,1285.4 1489.5,1288.0 1489.9,1287.1 1490.3,1291.8 1490.7,1288.8 1491.1,1290.5 1491.5,1290.2 1491.9,1291.8 1492.3,1290.4 1492.7,1290.6 1493.1,1290.5 1493.5,1286.9 1493.9,1289.8 1494.3,1287.3 1494.7,1287.4 1495.1,1290.1 1495.5,1286.3 1495.9,1289.6 1496.3,1292.2 1496.7,1290.0 1497.1,1291.8 1497.5,1288.1 1497.9,1290.3 1498.3,1284.9 1498.7,1288.2 1499.1,1289.1 1499.5,1294.4 1499.9,1295.0 1500.3,1286.8 1500.7,1290.1 1501.1,1289.5 1501.5,1294.6 1501.9,1293.1 1502.3,1290.7 1502.7,1293.3 1503.1,1294.2 1503.5,1290.4 1503.9,1294.0 1504.3,1293.3 1504.7,1293.8 1505.1,1288.8 1505.5,1292.3 1505.9,1287.6 1506.3,1293.4 1506.7,1291.2 1507.1,1295.8 1507.5,1296.1 1507.9,1289.6 1508.3,1296.6 1508.7,1292.5 1509.1,1295.7 1509.5,1294.1 1509.9,1293.1 1510.3,1293.5 1510.7,1293.1 1511.1,1297.3 1511.5,1294.6 1511.9,1292.4 1512.3,1296.0 1512.7,1293.7 1513.1,1296.0 1513.5,1293.4 1513.9,1295.9 1514.3,1293.3 1514.7,1293.7 1515.1,1296.2 1515.5,1297.5 1515.9,1296.2 1516.3,1295.8 1516.7,1301.6 1517.1,1296.0 1517.5,1291.0 1517.9,1297.8 1518.3,1295.5 1518.7,1293.7 1519.1,1299.2 1519.5,1298.9 1519.9,1296.5 1520.3,1296.4 1520.7,1297.6 1521.1,1299.9 1521.5,1295.9 1521.9,1300.9 1522.3,1298.8 1522.7,1299.3 1523.1,1301.8 1523.5,1298.2 1523.9,1300.2 1524.3,1299.1 1524.7,1292.9 1525.1,1299.0 1525.5,1299.6 1525.9,1299.3 1526.3,1302.3 1526.7,1298.9 1527.1,1301.1 1527.5,1300.9 1527.9,1301.3 1528.3,1296.9 1528.7,1299.7 1529.1,1299.8 1529.5,1304.3 1529.9,1300.4 1530.3,1302.6 1530.7,1302.0 1531.1,1298.7" fill="none" stroke="#72b474" stroke-width="2.0" stroke-linejoin="round" stroke-miterlimit="4" stroke-linecap="butt"/>
<path d="M907.7,776.3 908.9,780.0 910.1,783.7 911.3,787.3 912.5,790.9 913.7,794.4 914.9,797.8 916.1,801.1 917.3,804.4 918.5,807.6 919.7,810.8 920.9,813.9 922.1,817.0 923.3,820.0 924.5,822.8 925.7,825.6 926.9,828.4 928.1,831.1 929.3,833.7 930.5,836.3 931.7,838.8 932.9,841.2 934.1,843.5 935.3,845.6 936.5,847.7 937.7,849.7 938.9,851.6 940.1,853.4 941.3,855.2 942.5,856.9 943.7,858.6 944.9,860.4 946.1,862.2 947.3,863.9 948.5,865.7 949.7,867.4 950.9,869.1 952.1,870.8 953.3,872.5 954.5,874.2 955.7,876.0 956.9,877.7 958.1,879.5 959.3,881.3 960.5,883.1 961.7,885.0 962.9,886.8 964.1,888.7 965.3,890.6 966.5,892.4 967.7,894.3 968.9,896.2 970.1,898.0 971.3,899.9 972.5,901.7 973.7,903.5 974.9,905.3 976.1,907.0 977.3,908.7 978.5,910.4 979.7,912.0 980.9,913.7 982.1,915.3 983.3,916.9 984.5,918.5 985.7,920.1 986.9,921.7 988.1,923.3 989.3,924.8 990.5,926.3 991.7,927.8 992.9,929.3 994.1,930.8 995.3,932.2 996.5,933.6 997.7,935.0 998.9,936.4 1000.1,937.7 1001.3,939.0 1002.5,940.3 1003.7,941.6 1004.9,942.9 1006.1,944.1 1007.3,945.3 1008.5,946.6 1009.7,947.8 1010.9,948.9 1012.1,950.1 1013.3,951.3 1014.5,952.4 1015.7,953.6 1016.9,954.7 1018.1,955.9 1019.3,957.0 1020.5,958.2 1021.7,959.3 1022.9,960.4 1024.1,961.4 1025.3,962.5 1026.5,963.6 1027.7,964.6 1028.9,965.7 1030.1,966.7 1031.3,967.7 1032.5,968.8 1033.7,969.8 1034.9,970.9 1036.1,972.0 1037.3,973.0 1038.5,974.1 1039.7,975.3 1040.9,976.4 1042.1,977.5 1043.3,978.7 1044.5,979.9 1045.7,981.1 1046.9,982.3 1048.1,983.5 1049.3,984.7 1050.5,985.9 1051.7,987.1 1052.9,988.3 1054.1,989.5 1055.3,990.7 1056.5,991.9 1057.7,993.1 1058.9,994.3 1060.1,995.5 1061.3,996.6 1062.5,997.8 1063.8,999.0 1065.0,1000.1 1066.2,1001.3 1067.4,1002.5 1068.6,1003.6 1069.8,1004.8 1071.0,1006.0 1072.2,1007.1 1073.4,1008.3 1074.6,1009.4 1075.8,1010.5 1077.0,1011.6 1078.2,1012.7 1079.4,1013.8 1080.6,1014.9 1081.8,1015.9 1083.0,1016.9 1084.2,1017.9 1085.4,1018.9 1086.6,1019.9 1087.8,1020.9 1089.0,1021.9 1090.2,1022.8 1091.4,1023.8 1092.6,1024.7 1093.8,1025.6 1095.0,1026.6 1096.2,1027.5 1097.4,1028.5 1098.6,1029.4 1099.8,1030.3 1101.0,1031.3 1102.2,1032.3 1103.4,1033.2 1104.6,1034.2 1105.8,1035.1 1107.0,1036.1 1108.2,1037.1 1109.4,1038.0 1110.6,1039.0 1111.8,1040.0 1113.0,1040.9 1114.2,1041.9 1115.4,1042.8 1116.6,1043.8 1117.8,1044.8 1119.0,1045.7 1120.2,1046.7 1121.4,1047.7 1122.6,1048.6 1123.8,1049.6 1125.0,1050.5 1126.2,1051.4 1127.4,1052.4 1128.6,1053.3 1129.8,1054.2 1131.0,1055.1 1132.2,1056.0 1133.4,1057.0 1134.6,1057.9 1135.8,1058.8 1137.0,1059.8 1138.2,1060.8 1139.4,1061.8 1140.6,1062.8 1141.8,1063.8 1143.0,1064.8 1144.2,1065.9 1145.4,1067.0 1146.6,1068.2 1147.8,1069.4 1149.0,1070.7 1150.2,1071.9 1151.4,1073.2 1152.6,1074.5 1153.8,1075.8 1155.0,1077.1 1156.2,1078.4 1157.4,1079.7 1158.6,1081.0 1159.8,1082.2 1161.0,1083.4 1162.2,1084.6 1163.4,1085.8 1164.6,1086.9 1165.8,1087.9 1167.0,1089.0 1168.2,1090.0 1169.4,1091.0 1170.6,1092.0 1171.8,1093.0 1173.0,1093.9 1174.2,1094.9 1175.4,1095.8 1176.6,1096.8 1177.8,1097.7 1179.0,1098.6 1180.2,1099.5 1181.4,1100.4 1182.6,1101.3 1183.8,1102.2 1185.0,1103.1 1186.2,1104.0 1187.4,1104.8 1188.6,1105.7 1189.8,1106.6 1191.0,1107.4 1192.2,1108.2 1193.4,1109.1 1194.6,1109.9 1195.8,1110.7 1197.0,1111.5 1198.2,1112.4 1199.4,1113.2 1200.6,1114.0 1201.8,1114.8 1203.0,1115.6 1204.2,1116.4 1205.4,1117.2 1206.6,1117.9 1207.8,1118.7 1209.0,1119.5 1210.2,1120.3 1211.4,1121.1 1212.6,1121.9 1213.8,1122.7 1215.0,1123.5 1216.2,1124.3 1217.4,1125.1 1218.6,1125.9 1219.8,1126.7 1221.0,1127.5 1222.2,1128.3 1223.4,1129.1 1224.6,1129.9 1225.8,1130.7 1227.0,1131.4 1228.2,1132.2 1229.4,1133.0 1230.6,1133.8 1231.8,1134.6 1233.0,1135.4 1234.2,1136.2 1235.4,1137.0 1236.6,1137.7 1237.8,1138.5 1239.0,1139.3 1240.2,1140.1 1241.4,1140.9 1242.6,1141.6 1243.8,1142.4 1245.0,1143.2 1246.2,1143.9 1247.4,1144.7 1248.6,1145.5 1249.8,1146.2 1251.0,1147.0 1252.2,1147.8 1253.4,1148.5 1254.6,1149.3 1255.8,1150.0 1257.0,1150.8 1258.2,1151.5 1259.4,1152.3 1260.6,1153.0 1261.8,1153.8 1263.0,1154.5 1264.2,1155.2 1265.4,1156.0 1266.6,1156.7 1267.8,1157.5 1269.0,1158.2 1270.2,1158.9 1271.4,1159.7 1272.6,1160.4 1273.8,1161.1 1275.0,1161.8 1276.2,1162.6 1277.4,1163.3 1278.6,1164.0 1279.8,1164.7 1281.0,1165.4 1282.2,1166.2 1283.4,1166.9 1284.6,1167.6 1285.8,1168.3 1287.0,1169.0 1288.2,1169.7 1289.4,1170.4 1290.6,1171.1 1291.8,1171.8 1293.0,1172.5 1294.2,1173.2 1295.4,1173.9 1296.6,1174.6 1297.8,1175.3 1299.0,1176.0 1300.2,1176.7 1301.4,1177.4 1302.6,1178.1 1303.8,1178.8 1305.0,1179.5 1306.2,1180.1 1307.4,1180.8 1308.6,1181.5 1309.8,1182.2 1311.0,1182.9 1312.2,1183.6 1313.4,1184.3 1314.6,1184.9 1315.8,1185.6 1317.0,1186.3 1318.2,1187.0 1319.4,1187.6 1320.6,1188.3 1321.8,1189.0 1323.0,1189.7 1324.2,1190.3 1325.4,1191.0 1326.6,1191.6 1327.8,1192.3 1329.0,1192.9 1330.2,1193.6 1331.4,1194.2 1332.6,1194.9 1333.8,1195.5 1335.0,1196.1 1336.2,1196.8 1337.4,1197.4 1338.6,1198.0 1339.8,1198.6 1341.0,1199.2 1342.2,1199.8 1343.4,1200.4 1344.6,1201.0 1345.8,1201.6 1347.0,1202.2 1348.2,1202.7 1349.4,1203.3 1350.6,1203.9 1351.8,1204.4 1353.0,1205.0 1354.2,1205.5 1355.4,1206.1 1356.6,1206.6 1357.8,1207.2 1359.0,1207.7 1360.2,1208.2 1361.4,1208.8 1362.6,1209.3 1363.8,1209.8 1365.0,1210.4 1366.2,1210.9 1367.4,1211.4 1368.6,1211.9 1369.8,1212.5 1371.0,1213.0 1372.2,1213.5 1373.4,1214.0 1374.6,1214.5 1375.9,1215.1 1377.1,1215.6 1378.3,1216.1 1379.5,1216.6 1380.7,1217.2 1381.9,1217.7 1383.1,1218.2 1384.3,1218.8 1385.5,1219.3 1386.7,1219.8 1387.9,1220.4 1389.1,1220.9 1390.3,1221.5 1391.5,1222.0 1392.7,1222.6 1393.9,1223.1 1395.1,1223.7 1396.3,1224.3 1397.5,1224.8 1398.7,1225.4 1399.9,1225.9 1401.1,1226.5 1402.3,1227.1 1403.5,1227.6 1404.7,1228.2 1405.9,1228.7 1407.1,1229.3 1408.3,1229.9 1409.5,1230.4 1410.7,1231.0 1411.9,1231.5 1413.1,1232.1 1414.3,1232.6 1415.5,1233.1 1416.7,1233.7 1417.9,1234.2 1419.1,1234.7 1420.3,1235.3 1421.5,1235.8 1422.7,1236.3 1423.9,1236.8 1425.1,1237.3 1426.3,1237.8 1427.5,1238.2 1428.7,1238.7 1429.9,1239.2 1431.1,1239.7 1432.3,1240.1 1433.5,1240.6 1434.7,1241.0 1435.9,1241.5 1437.1,1241.9 1438.3,1242.3 1439.5,1242.8 1440.7,1243.2 1441.9,1243.6 1443.1,1244.1 1444.3,1244.5 1445.5,1244.9 1446.7,1245.3 1447.9,1245.7 1449.1,1246.1 1450.3,1246.5 1451.5,1247.0 1452.7,1247.4 1453.9,1247.8 1455.1,1248.2 1456.3,1248.6 1457.5,1249.0 1458.7,1249.4 1459.9,1249.8 1461.1,1250.2 1462.3,1250.6 1463.5,1251.0 1464.7,1251.4 1465.9,1251.8 1467.1,1252.2 1468.3,1252.7 1469.5,1253.1 1470.7,1253.5 1471.9,1253.9 1473.1,1254.3 1474.3,1254.7 1475.5,1255.1 1476.7,1255.5 1477.9,1255.9 1479.1,1256.3 1480.3,1256.7 1481.5,1257.1 1482.7,1257.5 1483.9,1257.9 1485.1,1258.3 1486.3,1258.7 1487.5,1259.1 1488.7,1259.5 1489.9,1259.9 1491.1,1260.2 1492.3,1260.6 1493.5,1261.0 1494.7,1261.4 1495.9,1261.8 1497.1,1262.2 1498.3,1262.7 1499.5,1263.1 1500.7,1263.5 1501.9,1263.9 1503.1,1264.3 1504.3,1264.8 1505.5,1265.2 1506.7,1265.7 1507.9,1266.1 1509.1,1266.6 1510.3,1267.1 1511.5,1267.6 1512.7,1268.1 1513.9,1268.6 1515.1,1269.1 1516.3,1269.6 1517.5,1270.2 1518.7,1270.7 1519.9,1271.3 1521.1,1271.9 1522.3,1272.5 1523.5,1273.1 1524.7,1273.7 1525.9,1274.4 1527.1,1275.0 1528.3,1275.7 1529.5,1276.3 1530.7,1277.0" fill="none" stroke="#5a2a80" stroke-width="3.6" stroke-linejoin="round"/>
<path d="M907.7,776.3 908.1,773.9 908.5,780.8 908.9,777.4 909.3,783.9 909.7,786.6 910.1,776.5 910.5,790.0 910.9,783.2 911.3,797.8 911.7,792.2 912.1,787.0 912.5,791.9 912.9,793.1 913.3,794.9 913.7,801.3 914.1,798.2 914.5,804.9 914.9,800.9 915.3,798.0 915.7,792.4 916.1,793.4 916.5,803.2 916.9,806.7 917.3,811.6 917.7,802.4 918.1,806.9 918.5,803.6 918.9,806.6 919.3,798.5 919.7,814.5 920.1,808.3 920.5,812.6 920.9,816.1 921.3,816.6 921.7,809.5 922.1,824.5 922.5,821.7 922.9,821.4 923.3,816.7 923.7,813.1 924.1,813.9 924.5,821.8 924.9,824.6 925.3,821.3 925.7,834.6 926.1,828.0 926.5,832.4 926.9,832.8 927.3,824.1 927.7,835.0 928.1,833.3 928.5,825.8 928.9,836.4 929.3,839.0 929.7,839.4 930.1,840.6 930.5,829.5 930.9,835.9 931.3,835.3 931.7,839.1 932.1,840.1 932.5,845.9 932.9,844.8 933.3,838.0 933.7,847.1 934.1,851.3 934.5,845.7 934.9,837.7 935.3,842.5 935.7,845.5 936.1,839.2 936.5,847.0 936.9,842.2 937.3,852.8 937.7,853.0 938.1,849.9 938.5,844.9 938.9,852.9 939.3,849.1 939.7,849.5 940.1,858.7 940.5,850.3 940.9,848.0 941.3,858.9 941.7,864.3 942.1,864.0 942.5,860.7 942.9,867.5 943.3,856.4 943.7,869.1 944.1,869.3 944.5,858.2 944.9,862.4 945.3,854.8 945.7,856.7 946.1,864.9 946.5,857.2 946.9,864.4 947.3,866.1 947.7,865.2 948.1,869.8 948.5,875.0 948.9,867.2 949.3,871.7 949.7,874.6 950.1,865.9 950.5,865.5 950.9,857.6 951.3,871.8 951.7,875.4 952.1,873.0 952.5,881.5 952.9,879.4 953.3,876.5 953.7,873.1 954.1,869.6 954.5,874.9 954.9,877.3 955.3,875.2 955.7,874.7 956.1,874.9 956.5,880.6 956.9,869.8 957.3,877.0 957.7,879.4 958.1,882.9 958.5,883.6 958.9,879.8 959.3,878.7 959.7,876.5 960.1,888.2 960.5,886.0 960.9,884.9 961.3,881.1 961.7,879.8 962.1,891.2 962.5,886.3 962.9,889.2 963.3,896.1 963.7,881.0 964.1,885.2 964.5,891.2 964.9,893.0 965.3,885.8 965.7,891.0 966.1,889.1 966.5,889.9 966.9,895.0 967.3,894.8 967.7,900.0 968.1,897.9 968.5,902.7 968.9,892.5 969.3,898.9 969.7,890.9 970.1,890.4 970.5,892.2 970.9,902.6 971.3,900.9 971.7,892.9 972.1,907.2 972.5,906.2 972.9,901.5 973.3,901.8 973.7,903.4 974.1,898.4 974.5,915.6 974.9,903.1 975.3,904.9 975.7,904.9 976.1,903.9 976.5,903.3 976.9,909.7 977.3,902.9 977.7,904.4 978.1,906.0 978.5,914.1 978.9,906.3 979.3,906.8 979.7,913.5 980.1,907.3 980.5,911.6 980.9,917.7 981.3,916.1 981.7,914.9 982.1,922.3 982.5,913.9 982.9,913.5 983.3,908.8 983.7,917.6 984.1,920.8 984.5,915.4 984.9,927.7 985.3,924.2 985.7,924.3 986.1,915.0 986.5,922.5 986.9,923.3 987.3,912.8 987.7,922.6 988.1,922.1 988.5,915.7 988.9,926.5 989.3,934.1 989.7,928.7 990.1,921.8 990.5,925.1 990.9,931.9 991.3,923.4 991.7,929.4 992.1,928.4 992.5,929.6 992.9,936.8 993.3,922.8 993.7,935.6 994.1,931.9 994.5,930.8 994.9,924.1 995.3,933.6 995.7,930.8 996.1,919.7 996.5,927.3 996.9,928.6 997.3,929.9 997.7,932.2 998.1,931.6 998.5,943.0 998.9,941.2 999.3,936.4 999.7,943.6 1000.1,947.4 1000.5,940.4 1000.9,932.6 1001.3,940.7 1001.7,945.9 1002.1,935.3 1002.5,940.3 1002.9,945.0 1003.3,946.5 1003.7,945.5 1004.1,943.7 1004.5,941.8 1004.9,940.3 1005.3,947.8 1005.7,947.9 1006.1,941.9 1006.5,941.4 1006.9,950.6 1007.3,949.8 1007.7,942.3 1008.1,938.7 1008.5,947.1 1008.9,950.6 1009.3,951.7 1009.7,951.4 1010.1,941.2 1010.5,948.7 1010.9,947.2 1011.3,946.0 1011.7,961.6 1012.1,950.1 1012.5,951.6 1012.9,949.5 1013.3,954.3 1013.7,956.9 1014.1,950.8 1014.5,952.3 1014.9,950.8 1015.3,948.6 1015.7,952.7 1016.1,955.5 1016.5,954.4 1016.9,953.6 1017.3,946.7 1017.7,957.0 1018.1,956.6 1018.5,963.1 1018.9,953.7 1019.3,950.8 1019.7,948.7 1020.1,954.8 1020.5,957.7 1020.9,959.6 1021.3,951.7 1021.7,956.6 1022.1,964.0 1022.5,960.2 1022.9,958.7 1023.3,959.0 1023.7,953.9 1024.1,955.1 1024.5,959.3 1024.9,967.5 1025.3,967.5 1025.7,962.0 1026.1,965.9 1026.5,965.3 1026.9,969.0 1027.3,961.0 1027.7,965.7 1028.1,969.1 1028.5,959.6 1028.9,965.2 1029.3,967.0 1029.7,968.1 1030.1,968.9 1030.5,969.6 1030.9,971.8 1031.3,973.9 1031.7,969.7 1032.1,978.1 1032.5,966.7 1032.9,968.3 1033.3,970.9 1033.7,966.4 1034.1,963.7 1034.5,964.7 1034.9,976.0 1035.3,968.4 1035.7,965.7 1036.1,980.3 1036.5,974.0 1036.9,973.5 1037.3,968.8 1037.7,974.6 1038.1,971.5 1038.5,975.2 1038.9,974.4 1039.3,973.8 1039.7,976.1 1040.1,971.6 1040.5,974.1 1040.9,972.8 1041.3,978.4 1041.7,980.2 1042.1,981.0 1042.5,969.4 1042.9,985.8 1043.3,977.7 1043.7,978.5 1044.1,979.2 1044.5,979.5 1044.9,985.7 1045.3,981.1 1045.7,982.3 1046.1,985.5 1046.5,987.5 1046.9,977.7 1047.3,977.3 1047.7,974.6 1048.1,975.1 1048.5,985.1 1048.9,984.6 1049.3,984.5 1049.7,986.5 1050.1,986.8 1050.5,991.1 1050.9,993.7 1051.3,983.2 1051.7,993.6 1052.1,992.1 1052.5,984.4 1052.9,989.1 1053.3,986.9 1053.7,981.8 1054.1,989.7 1054.5,982.9 1054.9,990.6 1055.3,986.3 1055.7,989.7 1056.1,995.1 1056.5,992.5 1056.9,988.9 1057.3,993.8 1057.7,996.2 1058.1,997.7 1058.5,990.4 1058.9,999.2 1059.3,994.0 1059.7,992.8 1060.1,1000.6 1060.5,998.6 1060.9,999.2 1061.3,997.3 1061.7,989.3 1062.1,999.5 1062.5,1000.3 1062.9,997.8 1063.3,1006.0 1063.8,999.6 1064.2,1006.8 1064.6,1005.0 1065.0,997.4 1065.4,997.1 1065.8,999.7 1066.2,1001.3 1066.6,1004.8 1067.0,999.7 1067.4,998.1 1067.8,1012.2 1068.2,1003.6 1068.6,1005.1 1069.0,1011.8 1069.4,1005.1 1069.8,995.1 1070.2,1007.5 1070.6,1003.2 1071.0,1010.5 1071.4,998.9 1071.8,1007.8 1072.2,1010.8 1072.6,1013.8 1073.0,1012.3 1073.4,1012.6 1073.8,1008.9 1074.2,1009.2 1074.6,1005.4 1075.0,1014.2 1075.4,1017.1 1075.8,1013.4 1076.2,1007.5 1076.6,1005.6 1077.0,1009.7 1077.4,1019.0 1077.8,1013.4 1078.2,1008.9 1078.6,1011.9 1079.0,1017.2 1079.4,1011.3 1079.8,1012.4 1080.2,1012.5 1080.6,1011.4 1081.0,1023.8 1081.4,1012.5 1081.8,1017.4 1082.2,1021.6 1082.6,1016.5 1083.0,1015.5 1083.4,1016.9 1083.8,1017.9 1084.2,1017.4 1084.6,1016.7 1085.0,1017.3 1085.4,1019.7 1085.8,1027.0 1086.2,1018.2 1086.6,1023.6 1087.0,1019.8 1087.4,1016.9 1087.8,1016.4 1088.2,1022.9 1088.6,1016.4 1089.0,1024.0 1089.4,1021.1 1089.8,1029.9 1090.2,1018.8 1090.6,1028.1 1091.0,1029.6 1091.4,1027.6 1091.8,1022.2 1092.2,1026.2 1092.6,1025.7 1093.0,1024.8 1093.4,1029.5 1093.8,1025.7 1094.2,1027.4 1094.6,1031.2 1095.0,1026.5 1095.4,1025.7 1095.8,1028.4 1096.2,1025.8 1096.6,1018.5 1097.0,1026.4 1097.4,1028.1 1097.8,1024.2 1098.2,1021.6 1098.6,1031.7 1099.0,1027.3 1099.4,1033.0 1099.8,1032.6 1100.2,1037.4 1100.6,1033.7 1101.0,1035.5 1101.4,1037.7 1101.8,1030.9 1102.2,1037.3 1102.6,1037.9 1103.0,1025.8 1103.4,1029.2 1103.8,1034.5 1104.2,1041.4 1104.6,1033.1 1105.0,1029.5 1105.4,1028.6 1105.8,1036.8 1106.2,1036.6 1106.6,1033.4 1107.0,1037.6 1107.4,1035.1 1107.8,1041.7 1108.2,1031.5 1108.6,1035.6 1109.0,1042.6 1109.4,1035.6 1109.8,1035.0 1110.2,1037.7 1110.6,1046.8 1111.0,1040.6 1111.4,1045.7 1111.8,1036.3 1112.2,1039.6 1112.6,1043.6 1113.0,1042.1 1113.4,1039.2 1113.8,1032.5 1114.2,1044.2 1114.6,1045.5 1115.0,1044.6 1115.4,1036.0 1115.8,1037.4 1116.2,1041.2 1116.6,1039.7 1117.0,1048.5 1117.4,1040.0 1117.8,1043.5 1118.2,1040.6 1118.6,1038.3 1119.0,1049.9 1119.4,1046.7 1119.8,1043.5 1120.2,1046.8 1120.6,1038.1 1121.0,1053.8 1121.4,1043.4 1121.8,1040.1 1122.2,1043.9 1122.6,1049.5 1123.0,1049.0 1123.4,1052.0 1123.8,1052.4 1124.2,1050.1 1124.6,1054.4 1125.0,1043.0 1125.4,1052.7 1125.8,1053.1 1126.2,1052.9 1126.6,1051.1 1127.0,1049.9 1127.4,1049.9 1127.8,1045.7 1128.2,1050.9 1128.6,1057.7 1129.0,1059.5 1129.4,1051.9 1129.8,1052.0 1130.2,1052.4 1130.6,1054.2 1131.0,1055.1 1131.4,1057.3 1131.8,1061.5 1132.2,1047.7 1132.6,1051.9 1133.0,1054.7 1133.4,1056.7 1133.8,1058.9 1134.2,1064.8 1134.6,1054.1 1135.0,1060.8 1135.4,1058.2 1135.8,1059.1 1136.2,1060.4 1136.6,1063.0 1137.0,1060.3 1137.4,1055.6 1137.8,1062.4 1138.2,1062.8 1138.6,1054.8 1139.0,1063.2 1139.4,1061.5 1139.8,1061.4 1140.2,1062.8 1140.6,1069.8 1141.0,1056.4 1141.4,1064.2 1141.8,1056.2 1142.2,1064.2 1142.6,1068.2 1143.0,1057.5 1143.4,1069.8 1143.8,1067.5 1144.2,1065.5 1144.6,1065.6 1145.0,1066.7 1145.4,1067.4 1145.8,1067.4 1146.2,1072.2 1146.6,1071.6 1147.0,1065.1 1147.4,1073.5 1147.8,1077.0 1148.2,1076.6 1148.6,1071.7 1149.0,1064.6 1149.4,1069.3 1149.8,1071.3 1150.2,1071.9 1150.6,1066.7 1151.0,1075.6 1151.4,1077.2 1151.8,1068.6 1152.2,1071.4 1152.6,1070.9 1153.0,1075.5 1153.4,1080.5 1153.8,1067.9 1154.2,1083.1 1154.6,1081.1 1155.0,1072.4 1155.4,1084.6 1155.8,1083.3 1156.2,1081.1 1156.6,1080.7 1157.0,1076.2 1157.4,1082.3 1157.8,1077.4 1158.2,1081.4 1158.6,1085.7 1159.0,1080.5 1159.4,1079.8 1159.8,1084.9 1160.2,1087.0 1160.6,1087.6 1161.0,1083.1 1161.4,1090.0 1161.8,1091.4 1162.2,1083.9 1162.6,1088.0 1163.0,1078.8 1163.4,1085.7 1163.8,1082.5 1164.2,1087.5 1164.6,1084.9 1165.0,1078.4 1165.4,1090.5 1165.8,1084.4 1166.2,1093.5 1166.6,1094.9 1167.0,1091.8 1167.4,1089.5 1167.8,1091.1 1168.2,1084.8 1168.6,1091.1 1169.0,1095.0 1169.4,1094.3 1169.8,1087.7 1170.2,1098.1 1170.6,1094.5 1171.0,1089.0 1171.4,1094.9 1171.8,1089.7 1172.2,1091.8 1172.6,1094.2 1173.0,1101.7 1173.4,1104.5 1173.8,1089.0 1174.2,1095.0 1174.6,1095.0 1175.0,1098.5 1175.4,1097.6 1175.8,1094.1 1176.2,1098.0 1176.6,1094.5 1177.0,1094.1 1177.4,1099.9 1177.8,1098.7 1178.2,1095.9 1178.6,1101.1 1179.0,1097.3 1179.4,1096.1 1179.8,1098.9 1180.2,1102.1 1180.6,1097.6 1181.0,1106.0 1181.4,1099.7 1181.8,1102.1 1182.2,1104.3 1182.6,1101.5 1183.0,1099.3 1183.4,1101.3 1183.8,1106.1 1184.2,1107.6 1184.6,1105.5 1185.0,1101.5 1185.4,1099.8 1185.8,1101.6 1186.2,1102.4 1186.6,1105.4 1187.0,1104.7 1187.4,1102.0 1187.8,1108.1 1188.2,1102.8 1188.6,1106.2 1189.0,1103.3 1189.4,1110.6 1189.8,1108.4 1190.2,1107.8 1190.6,1111.6 1191.0,1111.3 1191.4,1103.0 1191.8,1109.0 1192.2,1104.5 1192.6,1106.5 1193.0,1107.4 1193.4,1103.7 1193.8,1104.8 1194.2,1110.2 1194.6,1110.5 1195.0,1112.3 1195.4,1110.1 1195.8,1109.3 1196.2,1109.9 1196.6,1110.2 1197.0,1108.7 1197.4,1112.3 1197.8,1108.5 1198.2,1108.5 1198.6,1106.9 1199.0,1113.3 1199.4,1110.5 1199.8,1112.4 1200.2,1114.0 1200.6,1110.5 1201.0,1114.9 1201.4,1114.6 1201.8,1114.6 1202.2,1107.7 1202.6,1119.1 1203.0,1117.5 1203.4,1118.0 1203.8,1122.5 1204.2,1112.4 1204.6,1123.9 1205.0,1116.1 1205.4,1120.5 1205.8,1121.9 1206.2,1113.8 1206.6,1119.0 1207.0,1116.1 1207.4,1120.2 1207.8,1113.3 1208.2,1125.5 1208.6,1120.9 1209.0,1118.7 1209.4,1116.6 1209.8,1125.2 1210.2,1118.4 1210.6,1123.6 1211.0,1116.4 1211.4,1123.2 1211.8,1114.3 1212.2,1123.0 1212.6,1118.2 1213.0,1118.3 1213.4,1125.9 1213.8,1125.3 1214.2,1120.6 1214.6,1120.3 1215.0,1127.5 1215.4,1118.0 1215.8,1122.9 1216.2,1121.4 1216.6,1124.5 1217.0,1124.5 1217.4,1124.3 1217.8,1120.7 1218.2,1126.4 1218.6,1127.5 1219.0,1124.4 1219.4,1132.7 1219.8,1124.9 1220.2,1126.8 1220.6,1134.4 1221.0,1126.3 1221.4,1127.2 1221.8,1122.3 1222.2,1128.2 1222.6,1126.8 1223.0,1129.8 1223.4,1124.9 1223.8,1133.7 1224.2,1131.4 1224.6,1133.0 1225.0,1128.6 1225.4,1123.7 1225.8,1131.8 1226.2,1130.7 1226.6,1129.2 1227.0,1137.4 1227.4,1132.7 1227.8,1132.4 1228.2,1133.8 1228.6,1133.7 1229.0,1134.2 1229.4,1135.9 1229.8,1133.6 1230.2,1131.9 1230.6,1130.7 1231.0,1134.9 1231.4,1136.1 1231.8,1137.5 1232.2,1131.8 1232.6,1129.5 1233.0,1130.0 1233.4,1141.0 1233.8,1138.1 1234.2,1136.1 1234.6,1135.3 1235.0,1144.7 1235.4,1139.9 1235.8,1139.8 1236.2,1135.5 1236.6,1142.0 1237.0,1136.5 1237.4,1135.4 1237.8,1143.5 1238.2,1140.0 1238.6,1141.6 1239.0,1133.8 1239.4,1138.1 1239.8,1136.6 1240.2,1140.8 1240.6,1139.8 1241.0,1140.4 1241.4,1137.9 1241.8,1146.1 1242.2,1136.4 1242.6,1143.1 1243.0,1141.5 1243.4,1145.7 1243.8,1138.6 1244.2,1146.2 1244.6,1139.6 1245.0,1143.8 1245.4,1142.4 1245.8,1152.2 1246.2,1138.9 1246.6,1141.4 1247.0,1137.4 1247.4,1140.5 1247.8,1143.8 1248.2,1143.3 1248.6,1141.9 1249.0,1142.7 1249.4,1144.6 1249.8,1146.1 1250.2,1152.0 1250.6,1147.6 1251.0,1146.3 1251.4,1145.4 1251.8,1149.4 1252.2,1152.0 1252.6,1146.5 1253.0,1151.2 1253.4,1149.9 1253.8,1140.5 1254.2,1155.6 1254.6,1152.2 1255.0,1143.9 1255.4,1142.1 1255.8,1150.3 1256.2,1148.0 1256.6,1151.9 1257.0,1148.9 1257.4,1155.1 1257.8,1148.8 1258.2,1152.7 1258.6,1153.9 1259.0,1150.6 1259.4,1155.2 1259.8,1152.7 1260.2,1152.5 1260.6,1152.0 1261.0,1144.3 1261.4,1149.5 1261.8,1160.2 1262.2,1152.4 1262.6,1151.1 1263.0,1153.5 1263.4,1153.7 1263.8,1162.4 1264.2,1151.0 1264.6,1152.7 1265.0,1157.9 1265.4,1149.3 1265.8,1150.1 1266.2,1151.6 1266.6,1153.9 1267.0,1160.5 1267.4,1161.9 1267.8,1159.1 1268.2,1164.7 1268.6,1150.9 1269.0,1161.9 1269.4,1155.7 1269.8,1160.3 1270.2,1157.8 1270.6,1153.8 1271.0,1163.5 1271.4,1164.8 1271.8,1160.7 1272.2,1157.0 1272.6,1167.7 1273.0,1152.0 1273.4,1161.5 1273.8,1157.8 1274.2,1158.7 1274.6,1165.1 1275.0,1160.1 1275.4,1165.7 1275.8,1163.2 1276.2,1167.6 1276.6,1166.3 1277.0,1166.1 1277.4,1163.4 1277.8,1163.3 1278.2,1160.2 1278.6,1165.6 1279.0,1166.9 1279.4,1162.0 1279.8,1166.1 1280.2,1162.1 1280.6,1165.0 1281.0,1161.5 1281.4,1165.7 1281.8,1169.8 1282.2,1167.1 1282.6,1160.1 1283.0,1169.0 1283.4,1165.6 1283.8,1171.7 1284.2,1169.8 1284.6,1170.0 1285.0,1166.7 1285.4,1168.6 1285.8,1165.5 1286.2,1168.8 1286.6,1171.5 1287.0,1163.6 1287.4,1168.0 1287.8,1172.1 1288.2,1166.0 1288.6,1169.4 1289.0,1171.9 1289.4,1171.6 1289.8,1172.8 1290.2,1173.6 1290.6,1175.4 1291.0,1170.2 1291.4,1173.3 1291.8,1173.3 1292.2,1167.8 1292.6,1170.8 1293.0,1175.1 1293.4,1174.0 1293.8,1175.5 1294.2,1173.2 1294.6,1173.3 1295.0,1177.1 1295.4,1167.0 1295.8,1168.2 1296.2,1174.5 1296.6,1175.5 1297.0,1177.2 1297.4,1177.4 1297.8,1176.0 1298.2,1171.4 1298.6,1177.6 1299.0,1176.7 1299.4,1172.7 1299.8,1170.4 1300.2,1175.0 1300.6,1179.3 1301.0,1177.2 1301.4,1181.4 1301.8,1176.2 1302.2,1175.2 1302.6,1175.9 1303.0,1178.4 1303.4,1179.4 1303.8,1181.9 1304.2,1178.5 1304.6,1175.0 1305.0,1176.5 1305.4,1180.5 1305.8,1179.3 1306.2,1180.6 1306.6,1178.2 1307.0,1179.0 1307.4,1179.0 1307.8,1178.8 1308.2,1181.8 1308.6,1187.3 1309.0,1181.7 1309.4,1182.4 1309.8,1175.5 1310.2,1184.1 1310.6,1181.7 1311.0,1187.4 1311.4,1184.9 1311.8,1188.3 1312.2,1180.2 1312.6,1186.2 1313.0,1187.2 1313.4,1183.0 1313.8,1188.6 1314.2,1180.0 1314.6,1185.9 1315.0,1183.7 1315.4,1188.3 1315.8,1178.8 1316.2,1188.9 1316.6,1192.0 1317.0,1182.8 1317.4,1189.8 1317.8,1183.8 1318.2,1190.2 1318.6,1191.3 1319.0,1183.5 1319.4,1193.6 1319.8,1187.7 1320.2,1188.4 1320.6,1191.2 1321.0,1192.0 1321.4,1189.2 1321.8,1191.5 1322.2,1191.7 1322.6,1185.9 1323.0,1190.9 1323.4,1190.9 1323.8,1190.5 1324.2,1193.0 1324.6,1189.0 1325.0,1184.9 1325.4,1193.4 1325.8,1192.8 1326.2,1191.7 1326.6,1190.2 1327.0,1199.8 1327.4,1192.7 1327.8,1189.0 1328.2,1193.8 1328.6,1194.8 1329.0,1188.4 1329.4,1195.7 1329.8,1186.4 1330.2,1192.4 1330.6,1197.0 1331.0,1198.1 1331.4,1195.8 1331.8,1197.4 1332.2,1192.0 1332.6,1195.4 1333.0,1197.6 1333.4,1189.5 1333.8,1196.7 1334.2,1198.1 1334.6,1200.0 1335.0,1199.1 1335.4,1200.1 1335.8,1199.7 1336.2,1193.9 1336.6,1194.1 1337.0,1195.4 1337.4,1193.3 1337.8,1200.6 1338.2,1203.9 1338.6,1202.8 1339.0,1199.2 1339.4,1202.3 1339.8,1199.0 1340.2,1200.7 1340.6,1203.2 1341.0,1195.9 1341.4,1197.6 1341.8,1201.3 1342.2,1210.2 1342.6,1202.4 1343.0,1203.2 1343.4,1205.6 1343.8,1199.2 1344.2,1193.8 1344.6,1197.3 1345.0,1197.9 1345.4,1207.6 1345.8,1200.8 1346.2,1201.0 1346.6,1201.2 1347.0,1201.3 1347.4,1202.1 1347.8,1202.7 1348.2,1206.7 1348.6,1203.5 1349.0,1198.0 1349.4,1205.9 1349.8,1205.0 1350.2,1202.3 1350.6,1204.5 1351.0,1201.7 1351.4,1211.8 1351.8,1208.1 1352.2,1205.5 1352.6,1201.8 1353.0,1207.1 1353.4,1207.2 1353.8,1205.5 1354.2,1204.5 1354.6,1212.5 1355.0,1204.6 1355.4,1209.2 1355.8,1210.4 1356.2,1202.7 1356.6,1207.4 1357.0,1210.2 1357.4,1207.2 1357.8,1202.2 1358.2,1209.5 1358.6,1214.4 1359.0,1209.4 1359.4,1209.0 1359.8,1205.6 1360.2,1207.7 1360.6,1210.0 1361.0,1204.2 1361.4,1205.7 1361.8,1209.2 1362.2,1209.1 1362.6,1209.6 1363.0,1209.3 1363.4,1214.4 1363.8,1209.5 1364.2,1209.9 1364.6,1207.5 1365.0,1207.6 1365.4,1210.2 1365.8,1219.3 1366.2,1214.7 1366.6,1206.7 1367.0,1216.6 1367.4,1211.5 1367.8,1207.4 1368.2,1212.8 1368.6,1208.7 1369.0,1209.9 1369.4,1209.1 1369.8,1212.0 1370.2,1205.9 1370.6,1216.1 1371.0,1218.6 1371.4,1212.6 1371.8,1213.6 1372.2,1215.0 1372.6,1213.0 1373.0,1213.1 1373.4,1216.4 1373.8,1217.7 1374.2,1213.1 1374.6,1216.9 1375.0,1215.9 1375.5,1213.0 1375.9,1214.9 1376.3,1209.0 1376.7,1211.7 1377.1,1216.6 1377.5,1217.7 1377.9,1219.5 1378.3,1221.0 1378.7,1212.7 1379.1,1217.5 1379.5,1211.3 1379.9,1216.6 1380.3,1215.1 1380.7,1218.6 1381.1,1216.9 1381.5,1217.7 1381.9,1215.8 1382.3,1217.8 1382.7,1222.4 1383.1,1220.8 1383.5,1218.5 1383.9,1213.2 1384.3,1212.9 1384.7,1218.8 1385.1,1220.3 1385.5,1221.2 1385.9,1220.3 1386.3,1217.2 1386.7,1214.2 1387.1,1222.7 1387.5,1222.1 1387.9,1224.3 1388.3,1215.2 1388.7,1222.8 1389.1,1223.2 1389.5,1217.6 1389.9,1218.1 1390.3,1218.0 1390.7,1219.0 1391.1,1221.5 1391.5,1220.7 1391.9,1226.6 1392.3,1223.7 1392.7,1220.6 1393.1,1223.5 1393.5,1220.6 1393.9,1215.8 1394.3,1224.3 1394.7,1221.6 1395.1,1227.8 1395.5,1223.5 1395.9,1228.6 1396.3,1227.0 1396.7,1219.5 1397.1,1230.1 1397.5,1223.5 1397.9,1224.8 1398.3,1221.5 1398.7,1223.5 1399.1,1234.2 1399.5,1226.3 1399.9,1214.3 1400.3,1231.9 1400.7,1227.0 1401.1,1224.5 1401.5,1228.9 1401.9,1228.1 1402.3,1224.9 1402.7,1232.4 1403.1,1229.3 1403.5,1231.4 1403.9,1228.6 1404.3,1227.9 1404.7,1228.8 1405.1,1225.1 1405.5,1225.7 1405.9,1231.7 1406.3,1228.6 1406.7,1231.0 1407.1,1229.3 1407.5,1228.0 1407.9,1233.2 1408.3,1227.9 1408.7,1226.9 1409.1,1230.1 1409.5,1233.8 1409.9,1234.0 1410.3,1227.1 1410.7,1227.5 1411.1,1229.3 1411.5,1227.9 1411.9,1231.3 1412.3,1234.4 1412.7,1230.7 1413.1,1226.1 1413.5,1226.0 1413.9,1226.8 1414.3,1230.8 1414.7,1234.1 1415.1,1227.4 1415.5,1234.0 1415.9,1235.1 1416.3,1241.3 1416.7,1229.8 1417.1,1233.9 1417.5,1236.1 1417.9,1235.4 1418.3,1237.0 1418.7,1235.6 1419.1,1237.1 1419.5,1234.3 1419.9,1234.7 1420.3,1229.5 1420.7,1241.9 1421.1,1231.0 1421.5,1236.1 1421.9,1236.3 1422.3,1233.2 1422.7,1230.9 1423.1,1237.2 1423.5,1231.0 1423.9,1240.2 1424.3,1245.8 1424.7,1241.6 1425.1,1228.6 1425.5,1238.8 1425.9,1237.8 1426.3,1237.1 1426.7,1240.8 1427.1,1236.5 1427.5,1240.1 1427.9,1236.2 1428.3,1235.2 1428.7,1240.7 1429.1,1242.5 1429.5,1237.1 1429.9,1244.5 1430.3,1238.8 1430.7,1236.6 1431.1,1237.3 1431.5,1237.8 1431.9,1242.4 1432.3,1242.7 1432.7,1240.6 1433.1,1245.0 1433.5,1237.7 1433.9,1242.3 1434.3,1241.9 1434.7,1234.0 1435.1,1242.4 1435.5,1239.9 1435.9,1246.7 1436.3,1240.2 1436.7,1246.4 1437.1,1243.8 1437.5,1237.3 1437.9,1246.1 1438.3,1244.8 1438.7,1243.9 1439.1,1242.3 1439.5,1249.2 1439.9,1242.3 1440.3,1247.2 1440.7,1245.5 1441.1,1243.1 1441.5,1241.4 1441.9,1245.2 1442.3,1243.9 1442.7,1240.4 1443.1,1245.7 1443.5,1246.4 1443.9,1245.0 1444.3,1239.1 1444.7,1246.9 1445.1,1244.1 1445.5,1248.0 1445.9,1244.3 1446.3,1243.4 1446.7,1245.2 1447.1,1245.5 1447.5,1252.9 1447.9,1242.6 1448.3,1241.2 1448.7,1245.7 1449.1,1246.1 1449.5,1240.4 1449.9,1241.0 1450.3,1243.7 1450.7,1245.9 1451.1,1245.8 1451.5,1249.7 1451.9,1247.0 1452.3,1244.7 1452.7,1247.1 1453.1,1248.4 1453.5,1249.6 1453.9,1238.4 1454.3,1248.0 1454.7,1249.0 1455.1,1252.8 1455.5,1247.1 1455.9,1248.8 1456.3,1243.3 1456.7,1251.3 1457.1,1252.1 1457.5,1246.1 1457.9,1249.4 1458.3,1247.6 1458.7,1252.8 1459.1,1248.7 1459.5,1250.2 1459.9,1250.5 1460.3,1248.8 1460.7,1250.7 1461.1,1255.5 1461.5,1250.3 1461.9,1248.0 1462.3,1254.4 1462.7,1257.0 1463.1,1254.0 1463.5,1251.2 1463.9,1251.1 1464.3,1253.4 1464.7,1254.9 1465.1,1261.1 1465.5,1259.5 1465.9,1248.5 1466.3,1254.7 1466.7,1256.9 1467.1,1254.6 1467.5,1252.2 1467.9,1250.5 1468.3,1254.8 1468.7,1255.2 1469.1,1254.2 1469.5,1250.2 1469.9,1247.0 1470.3,1258.9 1470.7,1250.4 1471.1,1253.1 1471.5,1249.4 1471.9,1257.1 1472.3,1252.6 1472.7,1254.5 1473.1,1262.7 1473.5,1258.0 1473.9,1255.8 1474.3,1249.0 1474.7,1258.1 1475.1,1258.3 1475.5,1259.0 1475.9,1256.4 1476.3,1251.3 1476.7,1253.8 1477.1,1259.1 1477.5,1258.8 1477.9,1258.1 1478.3,1263.7 1478.7,1260.0 1479.1,1257.3 1479.5,1257.6 1479.9,1251.1 1480.3,1255.2 1480.7,1260.2 1481.1,1251.5 1481.5,1258.4 1481.9,1260.6 1482.3,1256.5 1482.7,1259.7 1483.1,1254.7 1483.5,1263.7 1483.9,1256.8 1484.3,1250.8 1484.7,1259.7 1485.1,1256.8 1485.5,1264.0 1485.9,1261.0 1486.3,1257.6 1486.7,1264.1 1487.1,1257.9 1487.5,1254.8 1487.9,1263.0 1488.3,1264.0 1488.7,1258.6 1489.1,1262.9 1489.5,1265.7 1489.9,1257.7 1490.3,1250.0 1490.7,1261.9 1491.1,1259.4 1491.5,1263.4 1491.9,1261.2 1492.3,1259.2 1492.7,1257.4 1493.1,1257.0 1493.5,1259.1 1493.9,1258.0 1494.3,1263.9 1494.7,1263.7 1495.1,1259.5 1495.5,1265.6 1495.9,1260.6 1496.3,1260.3 1496.7,1265.0 1497.1,1263.1 1497.5,1260.4 1497.9,1265.2 1498.3,1268.1 1498.7,1258.5 1499.1,1262.0 1499.5,1256.2 1499.9,1262.8 1500.3,1271.4 1500.7,1264.3 1501.1,1263.1 1501.5,1264.3 1501.9,1260.7 1502.3,1264.6 1502.7,1263.0 1503.1,1261.8 1503.5,1267.3 1503.9,1263.9 1504.3,1265.6 1504.7,1262.8 1505.1,1265.6 1505.5,1267.1 1505.9,1265.2 1506.3,1270.6 1506.7,1265.6 1507.1,1267.1 1507.5,1265.6 1507.9,1269.3 1508.3,1264.4 1508.7,1263.2 1509.1,1266.8 1509.5,1265.7 1509.9,1264.9 1510.3,1272.2 1510.7,1266.3 1511.1,1268.3 1511.5,1263.5 1511.9,1265.0 1512.3,1267.1 1512.7,1273.0 1513.1,1266.9 1513.5,1269.2 1513.9,1262.2 1514.3,1266.7 1514.7,1268.1 1515.1,1271.8 1515.5,1270.9 1515.9,1264.2 1516.3,1272.8 1516.7,1272.0 1517.1,1272.6 1517.5,1266.4 1517.9,1275.9 1518.3,1264.5 1518.7,1270.5 1519.1,1270.9 1519.5,1272.8 1519.9,1271.9 1520.3,1269.6 1520.7,1276.9 1521.1,1265.6 1521.5,1269.8 1521.9,1270.9 1522.3,1275.8 1522.7,1273.8 1523.1,1267.4 1523.5,1280.2 1523.9,1273.0 1524.3,1277.5 1524.7,1280.4 1525.1,1272.7 1525.5,1275.3 1525.9,1269.5 1526.3,1272.3 1526.7,1279.9 1527.1,1274.2 1527.5,1278.4 1527.9,1275.5 1528.3,1278.0 1528.7,1278.1 1529.1,1282.9 1529.5,1278.3 1529.9,1277.2 1530.3,1278.7 1530.7,1275.1 1531.1,1273.9" fill="none" stroke="#5a2a80" stroke-width="2.0" stroke-linejoin="round" stroke-miterlimit="4" stroke-linecap="butt"/>
</g>
<path d="M903.8,1375.7V775.4H1531.1" fill="none" stroke="#858585" stroke-width="1.9"/>
<path d="M903.1999999999999,1375.7H1531.1V774.8" fill="none" stroke="#231f20" stroke-width="2.1"/>
<line x1="903.80" y1="1353.00" x2="916.60" y2="1353.00" stroke="#7a7a7a" stroke-width="1.6"/>
<line x1="903.80" y1="1295.25" x2="909.60" y2="1295.25" stroke="#7a7a7a" stroke-width="1.6"/>
<line x1="903.80" y1="1237.50" x2="916.60" y2="1237.50" stroke="#7a7a7a" stroke-width="1.6"/>
<line x1="903.80" y1="1179.75" x2="909.60" y2="1179.75" stroke="#7a7a7a" stroke-width="1.6"/>
<line x1="903.80" y1="1122.00" x2="916.60" y2="1122.00" stroke="#3a3a3a" stroke-width="1.6"/>
<line x1="903.80" y1="1064.25" x2="909.60" y2="1064.25" stroke="#7a7a7a" stroke-width="1.6"/>
<line x1="903.80" y1="1006.50" x2="916.60" y2="1006.50" stroke="#7a7a7a" stroke-width="1.6"/>
<line x1="903.80" y1="948.75" x2="909.60" y2="948.75" stroke="#7a7a7a" stroke-width="1.6"/>
<line x1="903.80" y1="891.00" x2="916.60" y2="891.00" stroke="#3a3a3a" stroke-width="1.6"/>
<line x1="903.80" y1="833.25" x2="909.60" y2="833.25" stroke="#7a7a7a" stroke-width="1.6"/>
<line x1="1029.12" y1="1375.70" x2="1029.12" y2="1363.30" stroke="#3a3a3a" stroke-width="1.2"/>
<line x1="1154.44" y1="1375.70" x2="1154.44" y2="1363.30" stroke="#3a3a3a" stroke-width="1.2"/>
<line x1="1279.76" y1="1375.70" x2="1279.76" y2="1363.30" stroke="#3a3a3a" stroke-width="1.2"/>
<line x1="1405.08" y1="1375.70" x2="1405.08" y2="1363.30" stroke="#3a3a3a" stroke-width="1.2"/>
<text x="857.6 869.3 876.0" y="785.0" font-size="24.3" fill="#231f20">1.0</text>
<text x="856.8 870.2 876.4" y="899.7" font-size="24.3" fill="#231f20">0.8</text>
<text x="856.8 870.2 876.4" y="1015.2" font-size="24.3" fill="#231f20">0.6</text>
<text x="856.7 870.1 876.5" y="1130.7" font-size="24.3" fill="#231f20">0.4</text>
<text x="857.7 871.1 876.9" y="1246.2" font-size="24.3" fill="#231f20">0.2</text>
<text x="876.0" y="1361.7" font-size="24.3" fill="#231f20">0</text>
<text x="897.0" y="1408.5" font-size="24.3" fill="#231f20">0</text>
<text x="1022.4" y="1408.5" font-size="24.3" fill="#231f20">4</text>
<text x="1147.6" y="1408.5" font-size="24.3" fill="#231f20">8</text>
<text x="1266.4 1278.2" y="1408.5" font-size="24.3" fill="#231f20">12</text>
<text x="1391.2 1403.5" y="1408.5" font-size="24.3" fill="#231f20">16</text>
<text x="1516.4 1530.0" y="1408.5" font-size="24.3" fill="#231f20">20</text>
<text x="1120" y="1453" font-size="27" textLength="195" lengthAdjust="spacingAndGlyphs" fill="#231f20">Decay time (ns)</text>
<text transform="translate(832 1201) rotate(-90)" font-size="27" fill="#231f20" textLength="249.6" lengthAdjust="spacingAndGlyphs">Normalized PL (a.u.)</text>
<line x1="1234.60" y1="818.60" x2="1257.90" y2="818.60" stroke="#5a2a80" stroke-width="2.0"/>
<text x="1272.8" y="825.8" font-size="27" textLength="117.1" lengthAdjust="spacingAndGlyphs" fill="#231f20">Dead Sea</text>
<line x1="1234.60" y1="855.50" x2="1257.90" y2="855.50" stroke="#6f7073" stroke-width="2.0"/>
<text x="1272.8" y="860.4" font-size="27" textLength="98" lengthAdjust="spacingAndGlyphs" fill="#231f20">Lop Nor</text>
<line x1="1234.60" y1="889.10" x2="1257.90" y2="889.10" stroke="#72b474" stroke-width="2.0"/>
<text x="1272.8" y="895.1" font-size="27" textLength="102" lengthAdjust="spacingAndGlyphs" fill="#231f20">Aral Sea</text>
<line x1="1234.60" y1="922.50" x2="1257.90" y2="922.50" stroke="#243b8f" stroke-width="2.0"/>
<text x="1272.8" y="929.7" font-size="27" textLength="189.3" lengthAdjust="spacingAndGlyphs" fill="#231f20">Great Salt Lake</text>
<line x1="1234.60" y1="954.20" x2="1257.90" y2="954.20" stroke="#0a6db6" stroke-width="2.0"/>
<text x="1272.8" y="963.7" font-size="27" textLength="100" lengthAdjust="spacingAndGlyphs" fill="#231f20">Red Sea</text>
</svg>
</body></html>
